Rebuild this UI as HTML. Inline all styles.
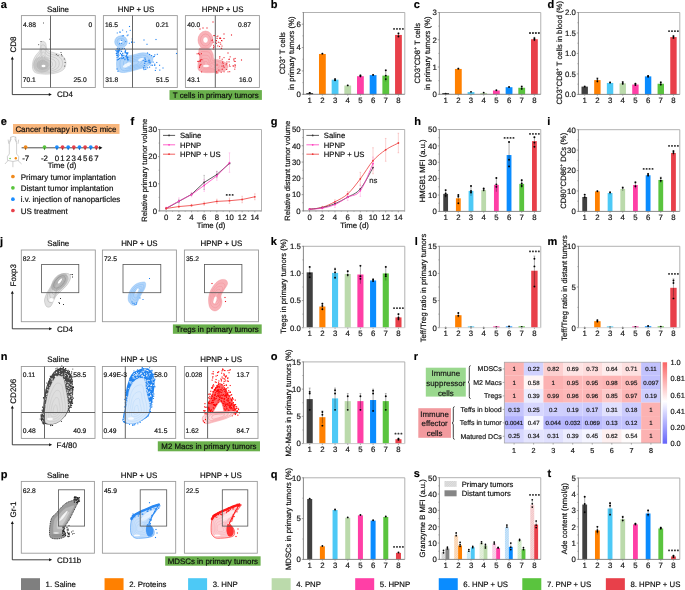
<!DOCTYPE html>
<html><head><meta charset="utf-8"><title>Figure</title>
<style>html,body{margin:0;padding:0;background:#fff;width:685px;height:590px;overflow:hidden}svg{display:block;will-change:transform} text{text-rendering:geometricPrecision;stroke:#000;stroke-width:0.24px;stroke-opacity:0.7}</style>
</head><body>
<svg width="685" height="590" viewBox="0 0 685 590" font-family='"Liberation Sans", sans-serif'>
<rect x="0.00" y="0.00" width="685.00" height="590.00" fill="#fff" stroke="none" stroke-width="1" />
<text x="0.80" y="8.00" font-size="11" text-anchor="start" font-weight="bold" fill="#000" >a</text>
<text x="270.80" y="8.00" font-size="11" text-anchor="start" font-weight="bold" fill="#000" >b</text>
<text x="413.80" y="8.00" font-size="11" text-anchor="start" font-weight="bold" fill="#000" >c</text>
<text x="547.60" y="8.00" font-size="11" text-anchor="start" font-weight="bold" fill="#000" >d</text>
<text x="0.80" y="125.00" font-size="11" text-anchor="start" font-weight="bold" fill="#000" >e</text>
<text x="130.50" y="125.00" font-size="11" text-anchor="start" font-weight="bold" fill="#000" >f</text>
<text x="270.80" y="125.00" font-size="11" text-anchor="start" font-weight="bold" fill="#000" >g</text>
<text x="414.20" y="125.00" font-size="11" text-anchor="start" font-weight="bold" fill="#000" >h</text>
<text x="547.20" y="125.00" font-size="11" text-anchor="start" font-weight="bold" fill="#000" >i</text>
<text x="0.00" y="244.50" font-size="11" text-anchor="start" font-weight="bold" fill="#000" >j</text>
<text x="270.80" y="244.50" font-size="11" text-anchor="start" font-weight="bold" fill="#000" >k</text>
<text x="414.80" y="244.50" font-size="11" text-anchor="start" font-weight="bold" fill="#000" >l</text>
<text x="547.60" y="244.50" font-size="11" text-anchor="start" font-weight="bold" fill="#000" >m</text>
<text x="0.80" y="360.30" font-size="11" text-anchor="start" font-weight="bold" fill="#000" >n</text>
<text x="270.80" y="360.30" font-size="11" text-anchor="start" font-weight="bold" fill="#000" >o</text>
<text x="413.80" y="360.30" font-size="11" text-anchor="start" font-weight="bold" fill="#000" >r</text>
<text x="0.80" y="478.30" font-size="11" text-anchor="start" font-weight="bold" fill="#000" >p</text>
<text x="270.80" y="478.30" font-size="11" text-anchor="start" font-weight="bold" fill="#000" >q</text>
<text x="413.80" y="477.00" font-size="11" text-anchor="start" font-weight="bold" fill="#000" >s</text>
<text x="547.60" y="477.00" font-size="11" text-anchor="start" font-weight="bold" fill="#000" >t</text>
<line x1="303.40" y1="12.50" x2="404.80" y2="12.50" stroke="#a9a9a9" stroke-width="0.9" />
<line x1="404.80" y1="12.50" x2="404.80" y2="94.30" stroke="#a9a9a9" stroke-width="0.9" />
<line x1="309.70" y1="93.13" x2="309.70" y2="92.55" stroke="#8a8a8a" stroke-width="0.7" />
<line x1="308.80" y1="92.55" x2="310.60" y2="92.55" stroke="#8a8a8a" stroke-width="0.6" />
<rect x="306.30" y="93.00" width="6.80" height="1.30" fill="#404040" stroke="none" stroke-width="1" />
<line x1="309.70" y1="93.13" x2="309.70" y2="93.72" stroke="#111" stroke-width="0.5" stroke-opacity="0.7"/>
<circle cx="309.70" cy="93.13" r="0.95" fill="#000"/>
<circle cx="309.70" cy="92.90" r="0.95" fill="#000"/>
<line x1="322.38" y1="53.98" x2="322.38" y2="53.40" stroke="#8a8a8a" stroke-width="0.7" />
<line x1="321.48" y1="53.40" x2="323.28" y2="53.40" stroke="#8a8a8a" stroke-width="0.6" />
<rect x="318.98" y="53.98" width="6.80" height="40.32" fill="#ff8000" stroke="none" stroke-width="1" />
<line x1="322.38" y1="53.98" x2="322.38" y2="54.57" stroke="#111" stroke-width="0.5" stroke-opacity="0.7"/>
<circle cx="322.38" cy="53.63" r="0.95" fill="#000"/>
<line x1="335.06" y1="79.69" x2="335.06" y2="78.52" stroke="#8a8a8a" stroke-width="0.7" />
<line x1="334.16" y1="78.52" x2="335.96" y2="78.52" stroke="#8a8a8a" stroke-width="0.6" />
<rect x="331.66" y="79.69" width="6.80" height="14.61" fill="#4dc9f6" stroke="none" stroke-width="1" />
<line x1="335.06" y1="79.69" x2="335.06" y2="80.86" stroke="#111" stroke-width="0.5" stroke-opacity="0.7"/>
<circle cx="335.06" cy="80.28" r="0.95" fill="#000"/>
<circle cx="335.06" cy="79.11" r="0.95" fill="#000"/>
<line x1="347.74" y1="85.54" x2="347.74" y2="85.19" stroke="#8a8a8a" stroke-width="0.7" />
<line x1="346.84" y1="85.19" x2="348.64" y2="85.19" stroke="#8a8a8a" stroke-width="0.6" />
<rect x="344.34" y="85.54" width="6.80" height="8.76" fill="#bbdaab" stroke="none" stroke-width="1" />
<line x1="347.74" y1="85.54" x2="347.74" y2="85.89" stroke="#111" stroke-width="0.5" stroke-opacity="0.7"/>
<circle cx="347.74" cy="85.42" r="0.95" fill="#000"/>
<line x1="360.42" y1="76.19" x2="360.42" y2="75.02" stroke="#8a8a8a" stroke-width="0.7" />
<line x1="359.52" y1="75.02" x2="361.32" y2="75.02" stroke="#8a8a8a" stroke-width="0.6" />
<rect x="357.02" y="76.19" width="6.80" height="18.11" fill="#ff3fa6" stroke="none" stroke-width="1" />
<line x1="360.42" y1="76.19" x2="360.42" y2="77.36" stroke="#111" stroke-width="0.5" stroke-opacity="0.7"/>
<circle cx="360.42" cy="76.19" r="0.95" fill="#000"/>
<circle cx="360.42" cy="75.37" r="0.95" fill="#000"/>
<line x1="373.10" y1="75.14" x2="373.10" y2="74.43" stroke="#8a8a8a" stroke-width="0.7" />
<line x1="372.20" y1="74.43" x2="374.00" y2="74.43" stroke="#8a8a8a" stroke-width="0.6" />
<rect x="369.70" y="75.14" width="6.80" height="19.16" fill="#0a8cff" stroke="none" stroke-width="1" />
<line x1="373.10" y1="75.14" x2="373.10" y2="75.84" stroke="#111" stroke-width="0.5" stroke-opacity="0.7"/>
<circle cx="373.10" cy="74.90" r="0.95" fill="#000"/>
<line x1="385.78" y1="75.60" x2="385.78" y2="69.76" stroke="#8a8a8a" stroke-width="0.7" />
<line x1="384.88" y1="69.76" x2="386.68" y2="69.76" stroke="#8a8a8a" stroke-width="0.6" />
<rect x="382.38" y="75.60" width="6.80" height="18.70" fill="#5ac43e" stroke="none" stroke-width="1" />
<line x1="385.78" y1="75.60" x2="385.78" y2="81.45" stroke="#111" stroke-width="0.5" stroke-opacity="0.7"/>
<circle cx="385.78" cy="79.11" r="0.95" fill="#000"/>
<circle cx="385.78" cy="75.60" r="0.95" fill="#000"/>
<circle cx="385.78" cy="70.34" r="0.95" fill="#000"/>
<line x1="398.46" y1="34.94" x2="398.46" y2="32.95" stroke="#8a8a8a" stroke-width="0.7" />
<line x1="397.56" y1="32.95" x2="399.36" y2="32.95" stroke="#8a8a8a" stroke-width="0.6" />
<rect x="395.06" y="34.94" width="6.80" height="59.36" fill="#e8404a" stroke="none" stroke-width="1" />
<line x1="398.46" y1="34.94" x2="398.46" y2="36.92" stroke="#111" stroke-width="0.5" stroke-opacity="0.7"/>
<circle cx="398.46" cy="36.46" r="0.95" fill="#000"/>
<circle cx="398.46" cy="33.53" r="0.95" fill="#000"/>
<line x1="303.40" y1="12.10" x2="303.40" y2="94.70" stroke="#7a7a7a" stroke-width="0.9" />
<line x1="303.00" y1="94.30" x2="404.80" y2="94.30" stroke="#7a7a7a" stroke-width="0.9" />
<line x1="301.80" y1="94.30" x2="303.40" y2="94.30" stroke="#7a7a7a" stroke-width="0.7" />
<text x="300.80" y="97.11" font-size="7.8" text-anchor="end" font-weight="normal" fill="#222" >0</text>
<line x1="301.80" y1="70.93" x2="303.40" y2="70.93" stroke="#7a7a7a" stroke-width="0.7" />
<text x="300.80" y="73.74" font-size="7.8" text-anchor="end" font-weight="normal" fill="#222" >2</text>
<line x1="301.80" y1="47.56" x2="303.40" y2="47.56" stroke="#7a7a7a" stroke-width="0.7" />
<text x="300.80" y="50.37" font-size="7.8" text-anchor="end" font-weight="normal" fill="#222" >4</text>
<line x1="301.80" y1="24.19" x2="303.40" y2="24.19" stroke="#7a7a7a" stroke-width="0.7" />
<text x="300.80" y="26.99" font-size="7.8" text-anchor="end" font-weight="normal" fill="#222" >6</text>
<line x1="302.40" y1="82.61" x2="303.40" y2="82.61" stroke="#7a7a7a" stroke-width="0.6" />
<line x1="302.40" y1="59.24" x2="303.40" y2="59.24" stroke="#7a7a7a" stroke-width="0.6" />
<line x1="302.40" y1="35.87" x2="303.40" y2="35.87" stroke="#7a7a7a" stroke-width="0.6" />
<line x1="302.40" y1="12.50" x2="303.40" y2="12.50" stroke="#7a7a7a" stroke-width="0.6" />
<line x1="309.70" y1="94.30" x2="309.70" y2="95.70" stroke="#7a7a7a" stroke-width="0.6" />
<text x="309.70" y="103.01" font-size="7.8" text-anchor="middle" font-weight="normal" fill="#222" >1</text>
<line x1="322.38" y1="94.30" x2="322.38" y2="95.70" stroke="#7a7a7a" stroke-width="0.6" />
<text x="322.38" y="103.01" font-size="7.8" text-anchor="middle" font-weight="normal" fill="#222" >2</text>
<line x1="335.06" y1="94.30" x2="335.06" y2="95.70" stroke="#7a7a7a" stroke-width="0.6" />
<text x="335.06" y="103.01" font-size="7.8" text-anchor="middle" font-weight="normal" fill="#222" >3</text>
<line x1="347.74" y1="94.30" x2="347.74" y2="95.70" stroke="#7a7a7a" stroke-width="0.6" />
<text x="347.74" y="103.01" font-size="7.8" text-anchor="middle" font-weight="normal" fill="#222" >4</text>
<line x1="360.42" y1="94.30" x2="360.42" y2="95.70" stroke="#7a7a7a" stroke-width="0.6" />
<text x="360.42" y="103.01" font-size="7.8" text-anchor="middle" font-weight="normal" fill="#222" >5</text>
<line x1="373.10" y1="94.30" x2="373.10" y2="95.70" stroke="#7a7a7a" stroke-width="0.6" />
<text x="373.10" y="103.01" font-size="7.8" text-anchor="middle" font-weight="normal" fill="#222" >6</text>
<line x1="385.78" y1="94.30" x2="385.78" y2="95.70" stroke="#7a7a7a" stroke-width="0.6" />
<text x="385.78" y="103.01" font-size="7.8" text-anchor="middle" font-weight="normal" fill="#222" >7</text>
<line x1="398.46" y1="94.30" x2="398.46" y2="95.70" stroke="#7a7a7a" stroke-width="0.6" />
<text x="398.46" y="103.01" font-size="7.8" text-anchor="middle" font-weight="normal" fill="#222" >8</text>
<rect x="393.11" y="27.97" width="1.85" height="1.85" rx="0.5" fill="#3a3a3a"/>
<rect x="396.06" y="27.97" width="1.85" height="1.85" rx="0.5" fill="#3a3a3a"/>
<rect x="399.01" y="27.97" width="1.85" height="1.85" rx="0.5" fill="#3a3a3a"/>
<rect x="401.96" y="27.97" width="1.85" height="1.85" rx="0.5" fill="#3a3a3a"/>
<text transform="translate(284.67,53.20) rotate(-90)" font-size="7.7" text-anchor="middle" fill="#111" >CD3<tspan font-size="4.77" dy="-2.93">+</tspan><tspan dy="2.93"> T cells</tspan></text>
<text transform="translate(293.97,53.20) rotate(-90)" font-size="7.7" text-anchor="middle" fill="#111" >in primary tumors (%)</text>
<line x1="439.35" y1="12.50" x2="540.75" y2="12.50" stroke="#a9a9a9" stroke-width="0.9" />
<line x1="540.75" y1="12.50" x2="540.75" y2="94.30" stroke="#a9a9a9" stroke-width="0.9" />
<rect x="442.25" y="93.00" width="6.80" height="1.30" fill="#404040" stroke="none" stroke-width="1" />
<circle cx="445.65" cy="93.75" r="0.95" fill="#000"/>
<line x1="458.33" y1="68.94" x2="458.33" y2="68.12" stroke="#8a8a8a" stroke-width="0.7" />
<line x1="457.43" y1="68.12" x2="459.23" y2="68.12" stroke="#8a8a8a" stroke-width="0.6" />
<rect x="454.93" y="68.94" width="6.80" height="25.36" fill="#ff8000" stroke="none" stroke-width="1" />
<line x1="458.33" y1="68.94" x2="458.33" y2="69.76" stroke="#111" stroke-width="0.5" stroke-opacity="0.7"/>
<circle cx="458.33" cy="68.67" r="0.95" fill="#000"/>
<rect x="467.61" y="92.12" width="6.80" height="2.18" fill="#4dc9f6" stroke="none" stroke-width="1" />
<circle cx="471.01" cy="91.85" r="0.95" fill="#000"/>
<rect x="480.29" y="92.94" width="6.80" height="1.36" fill="#bbdaab" stroke="none" stroke-width="1" />
<circle cx="483.69" cy="92.66" r="0.95" fill="#000"/>
<rect x="492.97" y="90.48" width="6.80" height="3.82" fill="#ff3fa6" stroke="none" stroke-width="1" />
<circle cx="496.37" cy="90.21" r="0.95" fill="#000"/>
<rect x="505.65" y="87.21" width="6.80" height="7.09" fill="#0a8cff" stroke="none" stroke-width="1" />
<circle cx="509.05" cy="86.94" r="0.95" fill="#000"/>
<line x1="521.73" y1="87.76" x2="521.73" y2="85.85" stroke="#8a8a8a" stroke-width="0.7" />
<line x1="520.83" y1="85.85" x2="522.63" y2="85.85" stroke="#8a8a8a" stroke-width="0.6" />
<rect x="518.33" y="87.76" width="6.80" height="6.54" fill="#5ac43e" stroke="none" stroke-width="1" />
<line x1="521.73" y1="87.76" x2="521.73" y2="89.66" stroke="#111" stroke-width="0.5" stroke-opacity="0.7"/>
<circle cx="521.73" cy="88.85" r="0.95" fill="#000"/>
<circle cx="521.73" cy="86.67" r="0.95" fill="#000"/>
<line x1="534.41" y1="39.22" x2="534.41" y2="37.31" stroke="#8a8a8a" stroke-width="0.7" />
<line x1="533.51" y1="37.31" x2="535.31" y2="37.31" stroke="#8a8a8a" stroke-width="0.6" />
<rect x="531.01" y="39.22" width="6.80" height="55.08" fill="#e8404a" stroke="none" stroke-width="1" />
<line x1="534.41" y1="39.22" x2="534.41" y2="41.13" stroke="#111" stroke-width="0.5" stroke-opacity="0.7"/>
<circle cx="534.41" cy="39.77" r="0.95" fill="#000"/>
<circle cx="534.41" cy="38.13" r="0.95" fill="#000"/>
<line x1="439.35" y1="12.10" x2="439.35" y2="94.70" stroke="#7a7a7a" stroke-width="0.9" />
<line x1="438.95" y1="94.30" x2="540.75" y2="94.30" stroke="#7a7a7a" stroke-width="0.9" />
<line x1="437.75" y1="94.30" x2="439.35" y2="94.30" stroke="#7a7a7a" stroke-width="0.7" />
<text x="436.75" y="97.11" font-size="7.8" text-anchor="end" font-weight="normal" fill="#222" >0</text>
<line x1="437.75" y1="67.03" x2="439.35" y2="67.03" stroke="#7a7a7a" stroke-width="0.7" />
<text x="436.75" y="69.84" font-size="7.8" text-anchor="end" font-weight="normal" fill="#222" >1</text>
<line x1="437.75" y1="39.77" x2="439.35" y2="39.77" stroke="#7a7a7a" stroke-width="0.7" />
<text x="436.75" y="42.57" font-size="7.8" text-anchor="end" font-weight="normal" fill="#222" >2</text>
<line x1="437.75" y1="12.50" x2="439.35" y2="12.50" stroke="#7a7a7a" stroke-width="0.7" />
<text x="436.75" y="15.31" font-size="7.8" text-anchor="end" font-weight="normal" fill="#222" >3</text>
<line x1="438.35" y1="80.67" x2="439.35" y2="80.67" stroke="#7a7a7a" stroke-width="0.6" />
<line x1="438.35" y1="53.40" x2="439.35" y2="53.40" stroke="#7a7a7a" stroke-width="0.6" />
<line x1="438.35" y1="26.13" x2="439.35" y2="26.13" stroke="#7a7a7a" stroke-width="0.6" />
<line x1="445.65" y1="94.30" x2="445.65" y2="95.70" stroke="#7a7a7a" stroke-width="0.6" />
<text x="445.65" y="103.01" font-size="7.8" text-anchor="middle" font-weight="normal" fill="#222" >1</text>
<line x1="458.33" y1="94.30" x2="458.33" y2="95.70" stroke="#7a7a7a" stroke-width="0.6" />
<text x="458.33" y="103.01" font-size="7.8" text-anchor="middle" font-weight="normal" fill="#222" >2</text>
<line x1="471.01" y1="94.30" x2="471.01" y2="95.70" stroke="#7a7a7a" stroke-width="0.6" />
<text x="471.01" y="103.01" font-size="7.8" text-anchor="middle" font-weight="normal" fill="#222" >3</text>
<line x1="483.69" y1="94.30" x2="483.69" y2="95.70" stroke="#7a7a7a" stroke-width="0.6" />
<text x="483.69" y="103.01" font-size="7.8" text-anchor="middle" font-weight="normal" fill="#222" >4</text>
<line x1="496.37" y1="94.30" x2="496.37" y2="95.70" stroke="#7a7a7a" stroke-width="0.6" />
<text x="496.37" y="103.01" font-size="7.8" text-anchor="middle" font-weight="normal" fill="#222" >5</text>
<line x1="509.05" y1="94.30" x2="509.05" y2="95.70" stroke="#7a7a7a" stroke-width="0.6" />
<text x="509.05" y="103.01" font-size="7.8" text-anchor="middle" font-weight="normal" fill="#222" >6</text>
<line x1="521.73" y1="94.30" x2="521.73" y2="95.70" stroke="#7a7a7a" stroke-width="0.6" />
<text x="521.73" y="103.01" font-size="7.8" text-anchor="middle" font-weight="normal" fill="#222" >7</text>
<line x1="534.41" y1="94.30" x2="534.41" y2="95.70" stroke="#7a7a7a" stroke-width="0.6" />
<text x="534.41" y="103.01" font-size="7.8" text-anchor="middle" font-weight="normal" fill="#222" >8</text>
<rect x="529.06" y="32.08" width="1.85" height="1.85" rx="0.5" fill="#3a3a3a"/>
<rect x="532.01" y="32.08" width="1.85" height="1.85" rx="0.5" fill="#3a3a3a"/>
<rect x="534.96" y="32.08" width="1.85" height="1.85" rx="0.5" fill="#3a3a3a"/>
<rect x="537.91" y="32.08" width="1.85" height="1.85" rx="0.5" fill="#3a3a3a"/>
<text transform="translate(419.57,53.20) rotate(-90)" font-size="7.7" text-anchor="middle" fill="#111" >CD3<tspan font-size="4.77" dy="-2.93">+</tspan><tspan dy="2.93">CD8</tspan><tspan font-size="4.77" dy="-2.93">+</tspan><tspan dy="2.93"> T cells</tspan></text>
<text transform="translate(429.77,53.20) rotate(-90)" font-size="7.7" text-anchor="middle" fill="#111" >in primary tumors (%)</text>
<line x1="578.40" y1="12.50" x2="679.80" y2="12.50" stroke="#a9a9a9" stroke-width="0.9" />
<line x1="679.80" y1="12.50" x2="679.80" y2="94.40" stroke="#a9a9a9" stroke-width="0.9" />
<line x1="584.70" y1="86.62" x2="584.70" y2="85.80" stroke="#8a8a8a" stroke-width="0.7" />
<line x1="583.80" y1="85.80" x2="585.60" y2="85.80" stroke="#8a8a8a" stroke-width="0.6" />
<rect x="581.50" y="86.62" width="6.40" height="7.78" fill="#404040" stroke="none" stroke-width="1" />
<line x1="584.70" y1="86.62" x2="584.70" y2="87.44" stroke="#111" stroke-width="0.5" stroke-opacity="0.7"/>
<circle cx="584.70" cy="86.62" r="0.95" fill="#000"/>
<line x1="597.38" y1="80.07" x2="597.38" y2="77.61" stroke="#8a8a8a" stroke-width="0.7" />
<line x1="596.48" y1="77.61" x2="598.28" y2="77.61" stroke="#8a8a8a" stroke-width="0.6" />
<rect x="594.18" y="80.07" width="6.40" height="14.33" fill="#ff8000" stroke="none" stroke-width="1" />
<line x1="597.38" y1="80.07" x2="597.38" y2="82.52" stroke="#111" stroke-width="0.5" stroke-opacity="0.7"/>
<circle cx="597.38" cy="81.30" r="0.95" fill="#000"/>
<circle cx="597.38" cy="78.84" r="0.95" fill="#000"/>
<line x1="610.06" y1="82.93" x2="610.06" y2="82.12" stroke="#8a8a8a" stroke-width="0.7" />
<line x1="609.16" y1="82.12" x2="610.96" y2="82.12" stroke="#8a8a8a" stroke-width="0.6" />
<rect x="606.86" y="82.93" width="6.40" height="11.47" fill="#4dc9f6" stroke="none" stroke-width="1" />
<line x1="610.06" y1="82.93" x2="610.06" y2="83.75" stroke="#111" stroke-width="0.5" stroke-opacity="0.7"/>
<circle cx="610.06" cy="82.52" r="0.95" fill="#000"/>
<line x1="622.74" y1="83.34" x2="622.74" y2="81.71" stroke="#8a8a8a" stroke-width="0.7" />
<line x1="621.84" y1="81.71" x2="623.64" y2="81.71" stroke="#8a8a8a" stroke-width="0.6" />
<rect x="619.54" y="83.34" width="6.40" height="11.06" fill="#bbdaab" stroke="none" stroke-width="1" />
<line x1="622.74" y1="83.34" x2="622.74" y2="84.98" stroke="#111" stroke-width="0.5" stroke-opacity="0.7"/>
<circle cx="622.74" cy="83.75" r="0.95" fill="#000"/>
<circle cx="622.74" cy="82.12" r="0.95" fill="#000"/>
<line x1="635.42" y1="84.57" x2="635.42" y2="83.34" stroke="#8a8a8a" stroke-width="0.7" />
<line x1="634.52" y1="83.34" x2="636.32" y2="83.34" stroke="#8a8a8a" stroke-width="0.6" />
<rect x="632.22" y="84.57" width="6.40" height="9.83" fill="#ff3fa6" stroke="none" stroke-width="1" />
<line x1="635.42" y1="84.57" x2="635.42" y2="85.80" stroke="#111" stroke-width="0.5" stroke-opacity="0.7"/>
<circle cx="635.42" cy="84.98" r="0.95" fill="#000"/>
<circle cx="635.42" cy="83.75" r="0.95" fill="#000"/>
<line x1="648.10" y1="76.38" x2="648.10" y2="75.56" stroke="#8a8a8a" stroke-width="0.7" />
<line x1="647.20" y1="75.56" x2="649.00" y2="75.56" stroke="#8a8a8a" stroke-width="0.6" />
<rect x="644.90" y="76.38" width="6.40" height="18.02" fill="#0a8cff" stroke="none" stroke-width="1" />
<line x1="648.10" y1="76.38" x2="648.10" y2="77.20" stroke="#111" stroke-width="0.5" stroke-opacity="0.7"/>
<circle cx="648.10" cy="76.79" r="0.95" fill="#000"/>
<circle cx="648.10" cy="75.97" r="0.95" fill="#000"/>
<line x1="660.78" y1="83.75" x2="660.78" y2="81.71" stroke="#8a8a8a" stroke-width="0.7" />
<line x1="659.88" y1="81.71" x2="661.68" y2="81.71" stroke="#8a8a8a" stroke-width="0.6" />
<rect x="657.58" y="83.75" width="6.40" height="10.65" fill="#5ac43e" stroke="none" stroke-width="1" />
<line x1="660.78" y1="83.75" x2="660.78" y2="85.80" stroke="#111" stroke-width="0.5" stroke-opacity="0.7"/>
<circle cx="660.78" cy="84.57" r="0.95" fill="#000"/>
<circle cx="660.78" cy="82.52" r="0.95" fill="#000"/>
<line x1="673.46" y1="37.07" x2="673.46" y2="35.43" stroke="#8a8a8a" stroke-width="0.7" />
<line x1="672.56" y1="35.43" x2="674.36" y2="35.43" stroke="#8a8a8a" stroke-width="0.6" />
<rect x="670.26" y="37.07" width="6.40" height="57.33" fill="#e8404a" stroke="none" stroke-width="1" />
<line x1="673.46" y1="37.07" x2="673.46" y2="38.71" stroke="#111" stroke-width="0.5" stroke-opacity="0.7"/>
<circle cx="673.46" cy="37.89" r="0.95" fill="#000"/>
<circle cx="673.46" cy="36.25" r="0.95" fill="#000"/>
<line x1="578.40" y1="12.10" x2="578.40" y2="94.80" stroke="#7a7a7a" stroke-width="0.9" />
<line x1="578.00" y1="94.40" x2="679.80" y2="94.40" stroke="#7a7a7a" stroke-width="0.9" />
<line x1="576.80" y1="94.40" x2="578.40" y2="94.40" stroke="#7a7a7a" stroke-width="0.7" />
<text x="575.80" y="97.21" font-size="7.8" text-anchor="end" font-weight="normal" fill="#222" >0.0</text>
<line x1="576.80" y1="73.93" x2="578.40" y2="73.93" stroke="#7a7a7a" stroke-width="0.7" />
<text x="575.80" y="76.73" font-size="7.8" text-anchor="end" font-weight="normal" fill="#222" >0.5</text>
<line x1="576.80" y1="53.45" x2="578.40" y2="53.45" stroke="#7a7a7a" stroke-width="0.7" />
<text x="575.80" y="56.26" font-size="7.8" text-anchor="end" font-weight="normal" fill="#222" >1.0</text>
<line x1="576.80" y1="32.98" x2="578.40" y2="32.98" stroke="#7a7a7a" stroke-width="0.7" />
<text x="575.80" y="35.78" font-size="7.8" text-anchor="end" font-weight="normal" fill="#222" >1.5</text>
<line x1="576.80" y1="12.50" x2="578.40" y2="12.50" stroke="#7a7a7a" stroke-width="0.7" />
<text x="575.80" y="15.31" font-size="7.8" text-anchor="end" font-weight="normal" fill="#222" >2.0</text>
<line x1="577.40" y1="84.16" x2="578.40" y2="84.16" stroke="#7a7a7a" stroke-width="0.6" />
<line x1="577.40" y1="63.69" x2="578.40" y2="63.69" stroke="#7a7a7a" stroke-width="0.6" />
<line x1="577.40" y1="43.21" x2="578.40" y2="43.21" stroke="#7a7a7a" stroke-width="0.6" />
<line x1="577.40" y1="22.74" x2="578.40" y2="22.74" stroke="#7a7a7a" stroke-width="0.6" />
<line x1="584.70" y1="94.40" x2="584.70" y2="95.80" stroke="#7a7a7a" stroke-width="0.6" />
<text x="584.70" y="103.11" font-size="7.8" text-anchor="middle" font-weight="normal" fill="#222" >1</text>
<line x1="597.38" y1="94.40" x2="597.38" y2="95.80" stroke="#7a7a7a" stroke-width="0.6" />
<text x="597.38" y="103.11" font-size="7.8" text-anchor="middle" font-weight="normal" fill="#222" >2</text>
<line x1="610.06" y1="94.40" x2="610.06" y2="95.80" stroke="#7a7a7a" stroke-width="0.6" />
<text x="610.06" y="103.11" font-size="7.8" text-anchor="middle" font-weight="normal" fill="#222" >3</text>
<line x1="622.74" y1="94.40" x2="622.74" y2="95.80" stroke="#7a7a7a" stroke-width="0.6" />
<text x="622.74" y="103.11" font-size="7.8" text-anchor="middle" font-weight="normal" fill="#222" >4</text>
<line x1="635.42" y1="94.40" x2="635.42" y2="95.80" stroke="#7a7a7a" stroke-width="0.6" />
<text x="635.42" y="103.11" font-size="7.8" text-anchor="middle" font-weight="normal" fill="#222" >5</text>
<line x1="648.10" y1="94.40" x2="648.10" y2="95.80" stroke="#7a7a7a" stroke-width="0.6" />
<text x="648.10" y="103.11" font-size="7.8" text-anchor="middle" font-weight="normal" fill="#222" >6</text>
<line x1="660.78" y1="94.40" x2="660.78" y2="95.80" stroke="#7a7a7a" stroke-width="0.6" />
<text x="660.78" y="103.11" font-size="7.8" text-anchor="middle" font-weight="normal" fill="#222" >7</text>
<line x1="673.46" y1="94.40" x2="673.46" y2="95.80" stroke="#7a7a7a" stroke-width="0.6" />
<text x="673.46" y="103.11" font-size="7.8" text-anchor="middle" font-weight="normal" fill="#222" >8</text>
<rect x="668.11" y="30.18" width="1.85" height="1.85" rx="0.5" fill="#3a3a3a"/>
<rect x="671.06" y="30.18" width="1.85" height="1.85" rx="0.5" fill="#3a3a3a"/>
<rect x="674.01" y="30.18" width="1.85" height="1.85" rx="0.5" fill="#3a3a3a"/>
<rect x="676.96" y="30.18" width="1.85" height="1.85" rx="0.5" fill="#3a3a3a"/>
<text transform="translate(561.67,52.80) rotate(-90)" font-size="7.7" text-anchor="middle" fill="#111" >CD3<tspan font-size="4.77" dy="-2.93">+</tspan><tspan dy="2.93">CD8</tspan><tspan font-size="4.77" dy="-2.93">+</tspan><tspan dy="2.93"> T cells in blood (%)</tspan></text>
<line x1="439.35" y1="129.50" x2="540.75" y2="129.50" stroke="#a9a9a9" stroke-width="0.9" />
<line x1="540.75" y1="129.50" x2="540.75" y2="211.40" stroke="#a9a9a9" stroke-width="0.9" />
<line x1="445.65" y1="193.87" x2="445.65" y2="190.11" stroke="#8a8a8a" stroke-width="0.7" />
<line x1="444.75" y1="190.11" x2="446.55" y2="190.11" stroke="#8a8a8a" stroke-width="0.6" />
<rect x="443.25" y="193.87" width="4.80" height="17.53" fill="#404040" stroke="none" stroke-width="1" />
<line x1="445.65" y1="193.87" x2="445.65" y2="197.64" stroke="#111" stroke-width="0.5" stroke-opacity="0.7"/>
<circle cx="445.65" cy="190.11" r="0.95" fill="#000"/>
<circle cx="445.65" cy="193.38" r="0.95" fill="#000"/>
<circle cx="445.65" cy="195.84" r="0.95" fill="#000"/>
<line x1="458.33" y1="198.30" x2="458.33" y2="195.02" stroke="#8a8a8a" stroke-width="0.7" />
<line x1="457.43" y1="195.02" x2="459.23" y2="195.02" stroke="#8a8a8a" stroke-width="0.6" />
<rect x="455.93" y="198.30" width="4.80" height="13.10" fill="#ff8000" stroke="none" stroke-width="1" />
<line x1="458.33" y1="198.30" x2="458.33" y2="201.57" stroke="#111" stroke-width="0.5" stroke-opacity="0.7"/>
<circle cx="458.33" cy="195.02" r="0.95" fill="#000"/>
<circle cx="458.33" cy="196.66" r="0.95" fill="#000"/>
<circle cx="458.33" cy="203.21" r="0.95" fill="#000"/>
<line x1="471.01" y1="190.93" x2="471.01" y2="185.85" stroke="#8a8a8a" stroke-width="0.7" />
<line x1="470.11" y1="185.85" x2="471.91" y2="185.85" stroke="#8a8a8a" stroke-width="0.6" />
<rect x="468.61" y="190.93" width="4.80" height="20.47" fill="#4dc9f6" stroke="none" stroke-width="1" />
<line x1="471.01" y1="190.93" x2="471.01" y2="196.00" stroke="#111" stroke-width="0.5" stroke-opacity="0.7"/>
<circle cx="471.01" cy="186.01" r="0.95" fill="#000"/>
<circle cx="471.01" cy="190.93" r="0.95" fill="#000"/>
<circle cx="471.01" cy="192.56" r="0.95" fill="#000"/>
<line x1="483.69" y1="190.11" x2="483.69" y2="188.47" stroke="#8a8a8a" stroke-width="0.7" />
<line x1="482.79" y1="188.47" x2="484.59" y2="188.47" stroke="#8a8a8a" stroke-width="0.6" />
<rect x="481.29" y="190.11" width="4.80" height="21.29" fill="#bbdaab" stroke="none" stroke-width="1" />
<line x1="483.69" y1="190.11" x2="483.69" y2="191.74" stroke="#111" stroke-width="0.5" stroke-opacity="0.7"/>
<circle cx="483.69" cy="188.47" r="0.95" fill="#000"/>
<circle cx="483.69" cy="190.11" r="0.95" fill="#000"/>
<line x1="496.37" y1="184.86" x2="496.37" y2="177.98" stroke="#8a8a8a" stroke-width="0.7" />
<line x1="495.47" y1="177.98" x2="497.27" y2="177.98" stroke="#8a8a8a" stroke-width="0.6" />
<rect x="493.97" y="184.86" width="4.80" height="26.54" fill="#ff3fa6" stroke="none" stroke-width="1" />
<line x1="496.37" y1="184.86" x2="496.37" y2="191.74" stroke="#111" stroke-width="0.5" stroke-opacity="0.7"/>
<circle cx="496.37" cy="177.98" r="0.95" fill="#000"/>
<circle cx="496.37" cy="184.37" r="0.95" fill="#000"/>
<circle cx="496.37" cy="186.83" r="0.95" fill="#000"/>
<line x1="509.05" y1="155.05" x2="509.05" y2="141.95" stroke="#8a8a8a" stroke-width="0.7" />
<line x1="508.15" y1="141.95" x2="509.95" y2="141.95" stroke="#8a8a8a" stroke-width="0.6" />
<rect x="506.65" y="155.05" width="4.80" height="56.35" fill="#0a8cff" stroke="none" stroke-width="1" />
<line x1="509.05" y1="155.05" x2="509.05" y2="168.16" stroke="#111" stroke-width="0.5" stroke-opacity="0.7"/>
<circle cx="509.05" cy="141.95" r="0.95" fill="#000"/>
<circle cx="509.05" cy="159.80" r="0.95" fill="#000"/>
<circle cx="509.05" cy="166.36" r="0.95" fill="#000"/>
<line x1="521.73" y1="183.88" x2="521.73" y2="179.62" stroke="#8a8a8a" stroke-width="0.7" />
<line x1="520.83" y1="179.62" x2="522.63" y2="179.62" stroke="#8a8a8a" stroke-width="0.6" />
<rect x="519.33" y="183.88" width="4.80" height="27.52" fill="#5ac43e" stroke="none" stroke-width="1" />
<line x1="521.73" y1="183.88" x2="521.73" y2="188.14" stroke="#111" stroke-width="0.5" stroke-opacity="0.7"/>
<circle cx="521.73" cy="180.28" r="0.95" fill="#000"/>
<circle cx="521.73" cy="183.55" r="0.95" fill="#000"/>
<circle cx="521.73" cy="186.01" r="0.95" fill="#000"/>
<line x1="534.41" y1="141.13" x2="534.41" y2="137.03" stroke="#8a8a8a" stroke-width="0.7" />
<line x1="533.51" y1="137.03" x2="535.31" y2="137.03" stroke="#8a8a8a" stroke-width="0.6" />
<rect x="532.01" y="141.13" width="4.80" height="70.27" fill="#e8404a" stroke="none" stroke-width="1" />
<line x1="534.41" y1="141.13" x2="534.41" y2="145.22" stroke="#111" stroke-width="0.5" stroke-opacity="0.7"/>
<circle cx="534.41" cy="137.20" r="0.95" fill="#000"/>
<circle cx="534.41" cy="142.60" r="0.95" fill="#000"/>
<circle cx="534.41" cy="146.70" r="0.95" fill="#000"/>
<line x1="439.35" y1="129.10" x2="439.35" y2="211.80" stroke="#7a7a7a" stroke-width="0.9" />
<line x1="438.95" y1="211.40" x2="540.75" y2="211.40" stroke="#7a7a7a" stroke-width="0.9" />
<line x1="437.75" y1="211.40" x2="439.35" y2="211.40" stroke="#7a7a7a" stroke-width="0.7" />
<text x="436.75" y="214.21" font-size="7.8" text-anchor="end" font-weight="normal" fill="#222" >0</text>
<line x1="437.75" y1="195.02" x2="439.35" y2="195.02" stroke="#7a7a7a" stroke-width="0.7" />
<text x="436.75" y="197.83" font-size="7.8" text-anchor="end" font-weight="normal" fill="#222" >10</text>
<line x1="437.75" y1="178.64" x2="439.35" y2="178.64" stroke="#7a7a7a" stroke-width="0.7" />
<text x="436.75" y="181.45" font-size="7.8" text-anchor="end" font-weight="normal" fill="#222" >20</text>
<line x1="437.75" y1="162.26" x2="439.35" y2="162.26" stroke="#7a7a7a" stroke-width="0.7" />
<text x="436.75" y="165.07" font-size="7.8" text-anchor="end" font-weight="normal" fill="#222" >30</text>
<line x1="437.75" y1="145.88" x2="439.35" y2="145.88" stroke="#7a7a7a" stroke-width="0.7" />
<text x="436.75" y="148.69" font-size="7.8" text-anchor="end" font-weight="normal" fill="#222" >40</text>
<line x1="437.75" y1="129.50" x2="439.35" y2="129.50" stroke="#7a7a7a" stroke-width="0.7" />
<text x="436.75" y="132.31" font-size="7.8" text-anchor="end" font-weight="normal" fill="#222" >50</text>
<line x1="438.35" y1="203.21" x2="439.35" y2="203.21" stroke="#7a7a7a" stroke-width="0.6" />
<line x1="438.35" y1="186.83" x2="439.35" y2="186.83" stroke="#7a7a7a" stroke-width="0.6" />
<line x1="438.35" y1="170.45" x2="439.35" y2="170.45" stroke="#7a7a7a" stroke-width="0.6" />
<line x1="438.35" y1="154.07" x2="439.35" y2="154.07" stroke="#7a7a7a" stroke-width="0.6" />
<line x1="438.35" y1="137.69" x2="439.35" y2="137.69" stroke="#7a7a7a" stroke-width="0.6" />
<line x1="445.65" y1="211.40" x2="445.65" y2="212.80" stroke="#7a7a7a" stroke-width="0.6" />
<text x="445.65" y="220.11" font-size="7.8" text-anchor="middle" font-weight="normal" fill="#222" >1</text>
<line x1="458.33" y1="211.40" x2="458.33" y2="212.80" stroke="#7a7a7a" stroke-width="0.6" />
<text x="458.33" y="220.11" font-size="7.8" text-anchor="middle" font-weight="normal" fill="#222" >2</text>
<line x1="471.01" y1="211.40" x2="471.01" y2="212.80" stroke="#7a7a7a" stroke-width="0.6" />
<text x="471.01" y="220.11" font-size="7.8" text-anchor="middle" font-weight="normal" fill="#222" >3</text>
<line x1="483.69" y1="211.40" x2="483.69" y2="212.80" stroke="#7a7a7a" stroke-width="0.6" />
<text x="483.69" y="220.11" font-size="7.8" text-anchor="middle" font-weight="normal" fill="#222" >4</text>
<line x1="496.37" y1="211.40" x2="496.37" y2="212.80" stroke="#7a7a7a" stroke-width="0.6" />
<text x="496.37" y="220.11" font-size="7.8" text-anchor="middle" font-weight="normal" fill="#222" >5</text>
<line x1="509.05" y1="211.40" x2="509.05" y2="212.80" stroke="#7a7a7a" stroke-width="0.6" />
<text x="509.05" y="220.11" font-size="7.8" text-anchor="middle" font-weight="normal" fill="#222" >6</text>
<line x1="521.73" y1="211.40" x2="521.73" y2="212.80" stroke="#7a7a7a" stroke-width="0.6" />
<text x="521.73" y="220.11" font-size="7.8" text-anchor="middle" font-weight="normal" fill="#222" >7</text>
<line x1="534.41" y1="211.40" x2="534.41" y2="212.80" stroke="#7a7a7a" stroke-width="0.6" />
<text x="534.41" y="220.11" font-size="7.8" text-anchor="middle" font-weight="normal" fill="#222" >8</text>
<rect x="503.70" y="136.97" width="1.85" height="1.85" rx="0.5" fill="#3a3a3a"/>
<rect x="506.65" y="136.97" width="1.85" height="1.85" rx="0.5" fill="#3a3a3a"/>
<rect x="509.60" y="136.97" width="1.85" height="1.85" rx="0.5" fill="#3a3a3a"/>
<rect x="512.55" y="136.97" width="1.85" height="1.85" rx="0.5" fill="#3a3a3a"/>
<rect x="529.06" y="132.97" width="1.85" height="1.85" rx="0.5" fill="#3a3a3a"/>
<rect x="532.01" y="132.97" width="1.85" height="1.85" rx="0.5" fill="#3a3a3a"/>
<rect x="534.96" y="132.97" width="1.85" height="1.85" rx="0.5" fill="#3a3a3a"/>
<rect x="537.91" y="132.97" width="1.85" height="1.85" rx="0.5" fill="#3a3a3a"/>
<text transform="translate(424.67,170.80) rotate(-90)" font-size="7.7" text-anchor="middle" fill="#111" >HMGB1 MFI (a.u.)</text>
<line x1="578.40" y1="129.70" x2="679.80" y2="129.70" stroke="#a9a9a9" stroke-width="0.9" />
<line x1="679.80" y1="129.70" x2="679.80" y2="211.40" stroke="#a9a9a9" stroke-width="0.9" />
<line x1="584.70" y1="197.00" x2="584.70" y2="194.45" stroke="#8a8a8a" stroke-width="0.7" />
<line x1="583.80" y1="194.45" x2="585.60" y2="194.45" stroke="#8a8a8a" stroke-width="0.6" />
<rect x="582.30" y="197.00" width="4.80" height="14.40" fill="#404040" stroke="none" stroke-width="1" />
<line x1="584.70" y1="197.00" x2="584.70" y2="199.55" stroke="#111" stroke-width="0.5" stroke-opacity="0.7"/>
<circle cx="584.70" cy="194.65" r="0.95" fill="#000"/>
<circle cx="584.70" cy="197.10" r="0.95" fill="#000"/>
<line x1="597.38" y1="191.38" x2="597.38" y2="190.77" stroke="#8a8a8a" stroke-width="0.7" />
<line x1="596.48" y1="190.77" x2="598.28" y2="190.77" stroke="#8a8a8a" stroke-width="0.6" />
<rect x="594.98" y="191.38" width="4.80" height="20.02" fill="#ff8000" stroke="none" stroke-width="1" />
<line x1="597.38" y1="191.38" x2="597.38" y2="192.00" stroke="#111" stroke-width="0.5" stroke-opacity="0.7"/>
<circle cx="597.38" cy="191.18" r="0.95" fill="#000"/>
<line x1="610.06" y1="193.02" x2="610.06" y2="191.59" stroke="#8a8a8a" stroke-width="0.7" />
<line x1="609.16" y1="191.59" x2="610.96" y2="191.59" stroke="#8a8a8a" stroke-width="0.6" />
<rect x="607.66" y="193.02" width="4.80" height="18.38" fill="#4dc9f6" stroke="none" stroke-width="1" />
<line x1="610.06" y1="193.02" x2="610.06" y2="194.45" stroke="#111" stroke-width="0.5" stroke-opacity="0.7"/>
<circle cx="610.06" cy="192.40" r="0.95" fill="#000"/>
<line x1="622.74" y1="188.93" x2="622.74" y2="186.89" stroke="#8a8a8a" stroke-width="0.7" />
<line x1="621.84" y1="186.89" x2="623.64" y2="186.89" stroke="#8a8a8a" stroke-width="0.6" />
<rect x="620.34" y="188.93" width="4.80" height="22.47" fill="#bbdaab" stroke="none" stroke-width="1" />
<line x1="622.74" y1="188.93" x2="622.74" y2="190.97" stroke="#111" stroke-width="0.5" stroke-opacity="0.7"/>
<circle cx="622.74" cy="187.71" r="0.95" fill="#000"/>
<line x1="635.42" y1="185.05" x2="635.42" y2="181.58" stroke="#8a8a8a" stroke-width="0.7" />
<line x1="634.52" y1="181.58" x2="636.32" y2="181.58" stroke="#8a8a8a" stroke-width="0.6" />
<rect x="633.02" y="185.05" width="4.80" height="26.35" fill="#ff3fa6" stroke="none" stroke-width="1" />
<line x1="635.42" y1="185.05" x2="635.42" y2="188.52" stroke="#111" stroke-width="0.5" stroke-opacity="0.7"/>
<circle cx="635.42" cy="182.40" r="0.95" fill="#000"/>
<circle cx="635.42" cy="186.28" r="0.95" fill="#000"/>
<line x1="648.10" y1="175.25" x2="648.10" y2="173.41" stroke="#8a8a8a" stroke-width="0.7" />
<line x1="647.20" y1="173.41" x2="649.00" y2="173.41" stroke="#8a8a8a" stroke-width="0.6" />
<rect x="645.70" y="175.25" width="4.80" height="36.15" fill="#0a8cff" stroke="none" stroke-width="1" />
<line x1="648.10" y1="175.25" x2="648.10" y2="177.09" stroke="#111" stroke-width="0.5" stroke-opacity="0.7"/>
<circle cx="648.10" cy="174.02" r="0.95" fill="#000"/>
<circle cx="648.10" cy="175.45" r="0.95" fill="#000"/>
<line x1="660.78" y1="179.95" x2="660.78" y2="177.09" stroke="#8a8a8a" stroke-width="0.7" />
<line x1="659.88" y1="177.09" x2="661.68" y2="177.09" stroke="#8a8a8a" stroke-width="0.6" />
<rect x="658.38" y="179.95" width="4.80" height="31.45" fill="#5ac43e" stroke="none" stroke-width="1" />
<line x1="660.78" y1="179.95" x2="660.78" y2="182.81" stroke="#111" stroke-width="0.5" stroke-opacity="0.7"/>
<circle cx="660.78" cy="178.11" r="0.95" fill="#000"/>
<circle cx="660.78" cy="180.76" r="0.95" fill="#000"/>
<line x1="673.46" y1="152.98" x2="673.46" y2="150.53" stroke="#8a8a8a" stroke-width="0.7" />
<line x1="672.56" y1="150.53" x2="674.36" y2="150.53" stroke="#8a8a8a" stroke-width="0.6" />
<rect x="671.06" y="152.98" width="4.80" height="58.42" fill="#e8404a" stroke="none" stroke-width="1" />
<line x1="673.46" y1="152.98" x2="673.46" y2="155.44" stroke="#111" stroke-width="0.5" stroke-opacity="0.7"/>
<circle cx="673.46" cy="151.15" r="0.95" fill="#000"/>
<circle cx="673.46" cy="152.98" r="0.95" fill="#000"/>
<line x1="578.40" y1="129.30" x2="578.40" y2="211.80" stroke="#7a7a7a" stroke-width="0.9" />
<line x1="578.00" y1="211.40" x2="679.80" y2="211.40" stroke="#7a7a7a" stroke-width="0.9" />
<line x1="576.80" y1="211.40" x2="578.40" y2="211.40" stroke="#7a7a7a" stroke-width="0.7" />
<text x="575.80" y="214.21" font-size="7.8" text-anchor="end" font-weight="normal" fill="#222" >0</text>
<line x1="576.80" y1="190.97" x2="578.40" y2="190.97" stroke="#7a7a7a" stroke-width="0.7" />
<text x="575.80" y="193.78" font-size="7.8" text-anchor="end" font-weight="normal" fill="#222" >10</text>
<line x1="576.80" y1="170.55" x2="578.40" y2="170.55" stroke="#7a7a7a" stroke-width="0.7" />
<text x="575.80" y="173.36" font-size="7.8" text-anchor="end" font-weight="normal" fill="#222" >20</text>
<line x1="576.80" y1="150.12" x2="578.40" y2="150.12" stroke="#7a7a7a" stroke-width="0.7" />
<text x="575.80" y="152.93" font-size="7.8" text-anchor="end" font-weight="normal" fill="#222" >30</text>
<line x1="576.80" y1="129.70" x2="578.40" y2="129.70" stroke="#7a7a7a" stroke-width="0.7" />
<text x="575.80" y="132.51" font-size="7.8" text-anchor="end" font-weight="normal" fill="#222" >40</text>
<line x1="577.40" y1="201.19" x2="578.40" y2="201.19" stroke="#7a7a7a" stroke-width="0.6" />
<line x1="577.40" y1="180.76" x2="578.40" y2="180.76" stroke="#7a7a7a" stroke-width="0.6" />
<line x1="577.40" y1="160.34" x2="578.40" y2="160.34" stroke="#7a7a7a" stroke-width="0.6" />
<line x1="577.40" y1="139.91" x2="578.40" y2="139.91" stroke="#7a7a7a" stroke-width="0.6" />
<line x1="584.70" y1="211.40" x2="584.70" y2="212.80" stroke="#7a7a7a" stroke-width="0.6" />
<text x="584.70" y="220.11" font-size="7.8" text-anchor="middle" font-weight="normal" fill="#222" >1</text>
<line x1="597.38" y1="211.40" x2="597.38" y2="212.80" stroke="#7a7a7a" stroke-width="0.6" />
<text x="597.38" y="220.11" font-size="7.8" text-anchor="middle" font-weight="normal" fill="#222" >2</text>
<line x1="610.06" y1="211.40" x2="610.06" y2="212.80" stroke="#7a7a7a" stroke-width="0.6" />
<text x="610.06" y="220.11" font-size="7.8" text-anchor="middle" font-weight="normal" fill="#222" >3</text>
<line x1="622.74" y1="211.40" x2="622.74" y2="212.80" stroke="#7a7a7a" stroke-width="0.6" />
<text x="622.74" y="220.11" font-size="7.8" text-anchor="middle" font-weight="normal" fill="#222" >4</text>
<line x1="635.42" y1="211.40" x2="635.42" y2="212.80" stroke="#7a7a7a" stroke-width="0.6" />
<text x="635.42" y="220.11" font-size="7.8" text-anchor="middle" font-weight="normal" fill="#222" >5</text>
<line x1="648.10" y1="211.40" x2="648.10" y2="212.80" stroke="#7a7a7a" stroke-width="0.6" />
<text x="648.10" y="220.11" font-size="7.8" text-anchor="middle" font-weight="normal" fill="#222" >6</text>
<line x1="660.78" y1="211.40" x2="660.78" y2="212.80" stroke="#7a7a7a" stroke-width="0.6" />
<text x="660.78" y="220.11" font-size="7.8" text-anchor="middle" font-weight="normal" fill="#222" >7</text>
<line x1="673.46" y1="211.40" x2="673.46" y2="212.80" stroke="#7a7a7a" stroke-width="0.6" />
<text x="673.46" y="220.11" font-size="7.8" text-anchor="middle" font-weight="normal" fill="#222" >8</text>
<rect x="642.75" y="167.88" width="1.85" height="1.85" rx="0.5" fill="#3a3a3a"/>
<rect x="645.70" y="167.88" width="1.85" height="1.85" rx="0.5" fill="#3a3a3a"/>
<rect x="648.65" y="167.88" width="1.85" height="1.85" rx="0.5" fill="#3a3a3a"/>
<rect x="651.60" y="167.88" width="1.85" height="1.85" rx="0.5" fill="#3a3a3a"/>
<rect x="668.11" y="144.97" width="1.85" height="1.85" rx="0.5" fill="#3a3a3a"/>
<rect x="671.06" y="144.97" width="1.85" height="1.85" rx="0.5" fill="#3a3a3a"/>
<rect x="674.01" y="144.97" width="1.85" height="1.85" rx="0.5" fill="#3a3a3a"/>
<rect x="676.96" y="144.97" width="1.85" height="1.85" rx="0.5" fill="#3a3a3a"/>
<text transform="translate(565.57,170.80) rotate(-90)" font-size="7.7" text-anchor="middle" fill="#111" >CD80<tspan font-size="4.77" dy="-2.93">+</tspan><tspan dy="2.93">CD86</tspan><tspan font-size="4.77" dy="-2.93">+</tspan><tspan dy="2.93"> DCs (%)</tspan></text>
<line x1="303.40" y1="246.30" x2="404.80" y2="246.30" stroke="#a9a9a9" stroke-width="0.9" />
<line x1="404.80" y1="246.30" x2="404.80" y2="327.70" stroke="#a9a9a9" stroke-width="0.9" />
<line x1="309.70" y1="272.35" x2="309.70" y2="266.92" stroke="#8a8a8a" stroke-width="0.7" />
<line x1="308.80" y1="266.92" x2="310.60" y2="266.92" stroke="#8a8a8a" stroke-width="0.6" />
<rect x="306.65" y="272.35" width="6.10" height="55.35" fill="#404040" stroke="none" stroke-width="1" />
<line x1="309.70" y1="272.35" x2="309.70" y2="277.77" stroke="#111" stroke-width="0.5" stroke-opacity="0.7"/>
<circle cx="309.70" cy="266.92" r="0.95" fill="#000"/>
<circle cx="309.70" cy="273.43" r="0.95" fill="#000"/>
<circle cx="309.70" cy="277.23" r="0.95" fill="#000"/>
<line x1="322.38" y1="306.54" x2="322.38" y2="303.28" stroke="#8a8a8a" stroke-width="0.7" />
<line x1="321.48" y1="303.28" x2="323.28" y2="303.28" stroke="#8a8a8a" stroke-width="0.6" />
<rect x="319.33" y="306.54" width="6.10" height="21.16" fill="#ff8000" stroke="none" stroke-width="1" />
<line x1="322.38" y1="306.54" x2="322.38" y2="309.79" stroke="#111" stroke-width="0.5" stroke-opacity="0.7"/>
<circle cx="322.38" cy="303.82" r="0.95" fill="#000"/>
<circle cx="322.38" cy="305.99" r="0.95" fill="#000"/>
<circle cx="322.38" cy="309.25" r="0.95" fill="#000"/>
<line x1="335.06" y1="272.89" x2="335.06" y2="268.01" stroke="#8a8a8a" stroke-width="0.7" />
<line x1="334.16" y1="268.01" x2="335.96" y2="268.01" stroke="#8a8a8a" stroke-width="0.6" />
<rect x="332.01" y="272.89" width="6.10" height="54.81" fill="#4dc9f6" stroke="none" stroke-width="1" />
<line x1="335.06" y1="272.89" x2="335.06" y2="277.77" stroke="#111" stroke-width="0.5" stroke-opacity="0.7"/>
<circle cx="335.06" cy="269.09" r="0.95" fill="#000"/>
<circle cx="335.06" cy="272.35" r="0.95" fill="#000"/>
<circle cx="335.06" cy="277.77" r="0.95" fill="#000"/>
<line x1="347.74" y1="273.98" x2="347.74" y2="270.72" stroke="#8a8a8a" stroke-width="0.7" />
<line x1="346.84" y1="270.72" x2="348.64" y2="270.72" stroke="#8a8a8a" stroke-width="0.6" />
<rect x="344.69" y="273.98" width="6.10" height="53.72" fill="#bbdaab" stroke="none" stroke-width="1" />
<line x1="347.74" y1="273.98" x2="347.74" y2="277.23" stroke="#111" stroke-width="0.5" stroke-opacity="0.7"/>
<circle cx="347.74" cy="271.26" r="0.95" fill="#000"/>
<circle cx="347.74" cy="275.06" r="0.95" fill="#000"/>
<line x1="360.42" y1="274.52" x2="360.42" y2="265.29" stroke="#8a8a8a" stroke-width="0.7" />
<line x1="359.52" y1="265.29" x2="361.32" y2="265.29" stroke="#8a8a8a" stroke-width="0.6" />
<rect x="357.37" y="274.52" width="6.10" height="53.18" fill="#ff3fa6" stroke="none" stroke-width="1" />
<line x1="360.42" y1="274.52" x2="360.42" y2="283.74" stroke="#111" stroke-width="0.5" stroke-opacity="0.7"/>
<circle cx="360.42" cy="265.84" r="0.95" fill="#000"/>
<circle cx="360.42" cy="276.15" r="0.95" fill="#000"/>
<circle cx="360.42" cy="278.86" r="0.95" fill="#000"/>
<line x1="373.10" y1="280.49" x2="373.10" y2="278.86" stroke="#8a8a8a" stroke-width="0.7" />
<line x1="372.20" y1="278.86" x2="374.00" y2="278.86" stroke="#8a8a8a" stroke-width="0.6" />
<rect x="370.05" y="280.49" width="6.10" height="47.21" fill="#0a8cff" stroke="none" stroke-width="1" />
<line x1="373.10" y1="280.49" x2="373.10" y2="282.12" stroke="#111" stroke-width="0.5" stroke-opacity="0.7"/>
<circle cx="373.10" cy="279.40" r="0.95" fill="#000"/>
<circle cx="373.10" cy="281.03" r="0.95" fill="#000"/>
<line x1="385.78" y1="273.43" x2="385.78" y2="266.38" stroke="#8a8a8a" stroke-width="0.7" />
<line x1="384.88" y1="266.38" x2="386.68" y2="266.38" stroke="#8a8a8a" stroke-width="0.6" />
<rect x="382.73" y="273.43" width="6.10" height="54.27" fill="#5ac43e" stroke="none" stroke-width="1" />
<line x1="385.78" y1="273.43" x2="385.78" y2="280.49" stroke="#111" stroke-width="0.5" stroke-opacity="0.7"/>
<circle cx="385.78" cy="266.92" r="0.95" fill="#000"/>
<circle cx="385.78" cy="274.52" r="0.95" fill="#000"/>
<circle cx="385.78" cy="276.15" r="0.95" fill="#000"/>
<line x1="398.46" y1="317.39" x2="398.46" y2="313.59" stroke="#8a8a8a" stroke-width="0.7" />
<line x1="397.56" y1="313.59" x2="399.36" y2="313.59" stroke="#8a8a8a" stroke-width="0.6" />
<rect x="395.41" y="317.39" width="6.10" height="10.31" fill="#e8404a" stroke="none" stroke-width="1" />
<line x1="398.46" y1="317.39" x2="398.46" y2="321.19" stroke="#111" stroke-width="0.5" stroke-opacity="0.7"/>
<circle cx="398.46" cy="314.13" r="0.95" fill="#000"/>
<circle cx="398.46" cy="317.39" r="0.95" fill="#000"/>
<circle cx="398.46" cy="319.02" r="0.95" fill="#000"/>
<line x1="303.40" y1="245.90" x2="303.40" y2="328.10" stroke="#7a7a7a" stroke-width="0.9" />
<line x1="303.00" y1="327.70" x2="404.80" y2="327.70" stroke="#cfcfcf" stroke-width="0.9" />
<line x1="301.80" y1="327.70" x2="303.40" y2="327.70" stroke="#7a7a7a" stroke-width="0.7" />
<text x="300.80" y="330.51" font-size="7.8" text-anchor="end" font-weight="normal" fill="#222" >0.0</text>
<line x1="301.80" y1="300.57" x2="303.40" y2="300.57" stroke="#7a7a7a" stroke-width="0.7" />
<text x="300.80" y="303.37" font-size="7.8" text-anchor="end" font-weight="normal" fill="#222" >0.5</text>
<line x1="301.80" y1="273.43" x2="303.40" y2="273.43" stroke="#7a7a7a" stroke-width="0.7" />
<text x="300.80" y="276.24" font-size="7.8" text-anchor="end" font-weight="normal" fill="#222" >1.0</text>
<line x1="301.80" y1="246.30" x2="303.40" y2="246.30" stroke="#7a7a7a" stroke-width="0.7" />
<text x="300.80" y="249.11" font-size="7.8" text-anchor="end" font-weight="normal" fill="#222" >1.5</text>
<line x1="302.40" y1="314.13" x2="303.40" y2="314.13" stroke="#7a7a7a" stroke-width="0.6" />
<line x1="302.40" y1="287.00" x2="303.40" y2="287.00" stroke="#7a7a7a" stroke-width="0.6" />
<line x1="302.40" y1="259.87" x2="303.40" y2="259.87" stroke="#7a7a7a" stroke-width="0.6" />
<line x1="309.70" y1="327.70" x2="309.70" y2="329.10" stroke="#7a7a7a" stroke-width="0.6" />
<text x="309.70" y="336.41" font-size="7.8" text-anchor="middle" font-weight="normal" fill="#222" >1</text>
<line x1="322.38" y1="327.70" x2="322.38" y2="329.10" stroke="#7a7a7a" stroke-width="0.6" />
<text x="322.38" y="336.41" font-size="7.8" text-anchor="middle" font-weight="normal" fill="#222" >2</text>
<line x1="335.06" y1="327.70" x2="335.06" y2="329.10" stroke="#7a7a7a" stroke-width="0.6" />
<text x="335.06" y="336.41" font-size="7.8" text-anchor="middle" font-weight="normal" fill="#222" >3</text>
<line x1="347.74" y1="327.70" x2="347.74" y2="329.10" stroke="#7a7a7a" stroke-width="0.6" />
<text x="347.74" y="336.41" font-size="7.8" text-anchor="middle" font-weight="normal" fill="#222" >4</text>
<line x1="360.42" y1="327.70" x2="360.42" y2="329.10" stroke="#7a7a7a" stroke-width="0.6" />
<text x="360.42" y="336.41" font-size="7.8" text-anchor="middle" font-weight="normal" fill="#222" >5</text>
<line x1="373.10" y1="327.70" x2="373.10" y2="329.10" stroke="#7a7a7a" stroke-width="0.6" />
<text x="373.10" y="336.41" font-size="7.8" text-anchor="middle" font-weight="normal" fill="#222" >6</text>
<line x1="385.78" y1="327.70" x2="385.78" y2="329.10" stroke="#7a7a7a" stroke-width="0.6" />
<text x="385.78" y="336.41" font-size="7.8" text-anchor="middle" font-weight="normal" fill="#222" >7</text>
<line x1="398.46" y1="327.70" x2="398.46" y2="329.10" stroke="#7a7a7a" stroke-width="0.6" />
<text x="398.46" y="336.41" font-size="7.8" text-anchor="middle" font-weight="normal" fill="#222" >8</text>
<rect x="393.11" y="307.27" width="1.85" height="1.85" rx="0.5" fill="#3a3a3a"/>
<rect x="396.06" y="307.27" width="1.85" height="1.85" rx="0.5" fill="#3a3a3a"/>
<rect x="399.01" y="307.27" width="1.85" height="1.85" rx="0.5" fill="#3a3a3a"/>
<rect x="401.96" y="307.27" width="1.85" height="1.85" rx="0.5" fill="#3a3a3a"/>
<text transform="translate(286.27,286.30) rotate(-90)" font-size="7.7" text-anchor="middle" fill="#111" >Tregs in primary tumors (%)</text>
<line x1="439.35" y1="246.30" x2="540.75" y2="246.30" stroke="#a9a9a9" stroke-width="0.9" />
<line x1="540.75" y1="246.30" x2="540.75" y2="327.70" stroke="#a9a9a9" stroke-width="0.9" />
<circle cx="445.65" cy="327.70" r="0.95" fill="#000"/>
<line x1="458.33" y1="315.22" x2="458.33" y2="313.05" stroke="#8a8a8a" stroke-width="0.7" />
<line x1="457.43" y1="313.05" x2="459.23" y2="313.05" stroke="#8a8a8a" stroke-width="0.6" />
<rect x="455.13" y="315.22" width="6.40" height="12.48" fill="#ff8000" stroke="none" stroke-width="1" />
<line x1="458.33" y1="315.22" x2="458.33" y2="317.39" stroke="#111" stroke-width="0.5" stroke-opacity="0.7"/>
<circle cx="458.33" cy="313.05" r="0.95" fill="#000"/>
<circle cx="458.33" cy="315.76" r="0.95" fill="#000"/>
<rect x="467.81" y="326.40" width="6.40" height="1.30" fill="#4dc9f6" stroke="none" stroke-width="1" />
<circle cx="471.01" cy="327.37" r="0.95" fill="#000"/>
<circle cx="483.69" cy="327.70" r="0.95" fill="#000"/>
<rect x="493.17" y="326.40" width="6.40" height="1.30" fill="#ff3fa6" stroke="none" stroke-width="1" />
<circle cx="496.37" cy="327.21" r="0.95" fill="#000"/>
<line x1="509.05" y1="326.61" x2="509.05" y2="326.34" stroke="#8a8a8a" stroke-width="0.7" />
<line x1="508.15" y1="326.34" x2="509.95" y2="326.34" stroke="#8a8a8a" stroke-width="0.6" />
<rect x="505.85" y="326.40" width="6.40" height="1.30" fill="#0a8cff" stroke="none" stroke-width="1" />
<line x1="509.05" y1="326.61" x2="509.05" y2="326.89" stroke="#111" stroke-width="0.5" stroke-opacity="0.7"/>
<circle cx="509.05" cy="326.34" r="0.95" fill="#000"/>
<rect x="518.53" y="326.40" width="6.40" height="1.30" fill="#5ac43e" stroke="none" stroke-width="1" />
<circle cx="521.73" cy="326.89" r="0.95" fill="#000"/>
<line x1="534.41" y1="270.72" x2="534.41" y2="256.07" stroke="#8a8a8a" stroke-width="0.7" />
<line x1="533.51" y1="256.07" x2="535.31" y2="256.07" stroke="#8a8a8a" stroke-width="0.6" />
<rect x="531.21" y="270.72" width="6.40" height="56.98" fill="#e8404a" stroke="none" stroke-width="1" />
<line x1="534.41" y1="270.72" x2="534.41" y2="285.37" stroke="#111" stroke-width="0.5" stroke-opacity="0.7"/>
<circle cx="534.41" cy="258.78" r="0.95" fill="#000"/>
<circle cx="534.41" cy="266.38" r="0.95" fill="#000"/>
<circle cx="534.41" cy="286.46" r="0.95" fill="#000"/>
<line x1="439.35" y1="245.90" x2="439.35" y2="328.10" stroke="#7a7a7a" stroke-width="0.9" />
<line x1="438.95" y1="327.70" x2="540.75" y2="327.70" stroke="#cfcfcf" stroke-width="0.9" />
<line x1="437.75" y1="327.70" x2="439.35" y2="327.70" stroke="#7a7a7a" stroke-width="0.7" />
<text x="436.75" y="330.51" font-size="7.8" text-anchor="end" font-weight="normal" fill="#222" >0</text>
<line x1="437.75" y1="300.57" x2="439.35" y2="300.57" stroke="#7a7a7a" stroke-width="0.7" />
<text x="436.75" y="303.37" font-size="7.8" text-anchor="end" font-weight="normal" fill="#222" >5</text>
<line x1="437.75" y1="273.43" x2="439.35" y2="273.43" stroke="#7a7a7a" stroke-width="0.7" />
<text x="436.75" y="276.24" font-size="7.8" text-anchor="end" font-weight="normal" fill="#222" >10</text>
<line x1="437.75" y1="246.30" x2="439.35" y2="246.30" stroke="#7a7a7a" stroke-width="0.7" />
<text x="436.75" y="249.11" font-size="7.8" text-anchor="end" font-weight="normal" fill="#222" >15</text>
<line x1="438.35" y1="314.13" x2="439.35" y2="314.13" stroke="#7a7a7a" stroke-width="0.6" />
<line x1="438.35" y1="287.00" x2="439.35" y2="287.00" stroke="#7a7a7a" stroke-width="0.6" />
<line x1="438.35" y1="259.87" x2="439.35" y2="259.87" stroke="#7a7a7a" stroke-width="0.6" />
<line x1="445.65" y1="327.70" x2="445.65" y2="329.10" stroke="#7a7a7a" stroke-width="0.6" />
<text x="445.65" y="336.41" font-size="7.8" text-anchor="middle" font-weight="normal" fill="#222" >1</text>
<line x1="458.33" y1="327.70" x2="458.33" y2="329.10" stroke="#7a7a7a" stroke-width="0.6" />
<text x="458.33" y="336.41" font-size="7.8" text-anchor="middle" font-weight="normal" fill="#222" >2</text>
<line x1="471.01" y1="327.70" x2="471.01" y2="329.10" stroke="#7a7a7a" stroke-width="0.6" />
<text x="471.01" y="336.41" font-size="7.8" text-anchor="middle" font-weight="normal" fill="#222" >3</text>
<line x1="483.69" y1="327.70" x2="483.69" y2="329.10" stroke="#7a7a7a" stroke-width="0.6" />
<text x="483.69" y="336.41" font-size="7.8" text-anchor="middle" font-weight="normal" fill="#222" >4</text>
<line x1="496.37" y1="327.70" x2="496.37" y2="329.10" stroke="#7a7a7a" stroke-width="0.6" />
<text x="496.37" y="336.41" font-size="7.8" text-anchor="middle" font-weight="normal" fill="#222" >5</text>
<line x1="509.05" y1="327.70" x2="509.05" y2="329.10" stroke="#7a7a7a" stroke-width="0.6" />
<text x="509.05" y="336.41" font-size="7.8" text-anchor="middle" font-weight="normal" fill="#222" >6</text>
<line x1="521.73" y1="327.70" x2="521.73" y2="329.10" stroke="#7a7a7a" stroke-width="0.6" />
<text x="521.73" y="336.41" font-size="7.8" text-anchor="middle" font-weight="normal" fill="#222" >7</text>
<line x1="534.41" y1="327.70" x2="534.41" y2="329.10" stroke="#7a7a7a" stroke-width="0.6" />
<text x="534.41" y="336.41" font-size="7.8" text-anchor="middle" font-weight="normal" fill="#222" >8</text>
<rect x="529.06" y="250.47" width="1.85" height="1.85" rx="0.5" fill="#3a3a3a"/>
<rect x="532.01" y="250.47" width="1.85" height="1.85" rx="0.5" fill="#3a3a3a"/>
<rect x="534.96" y="250.47" width="1.85" height="1.85" rx="0.5" fill="#3a3a3a"/>
<rect x="537.91" y="250.47" width="1.85" height="1.85" rx="0.5" fill="#3a3a3a"/>
<text transform="translate(425.77,288.00) rotate(-90)" font-size="7.7" text-anchor="middle" fill="#111" >Teff/Treg ratio in primary tumors</text>
<line x1="578.40" y1="246.30" x2="679.80" y2="246.30" stroke="#a9a9a9" stroke-width="0.9" />
<line x1="679.80" y1="246.30" x2="679.80" y2="327.70" stroke="#a9a9a9" stroke-width="0.9" />
<circle cx="584.70" cy="327.70" r="0.95" fill="#000"/>
<line x1="597.38" y1="321.19" x2="597.38" y2="319.97" stroke="#8a8a8a" stroke-width="0.7" />
<line x1="596.48" y1="319.97" x2="598.28" y2="319.97" stroke="#8a8a8a" stroke-width="0.6" />
<rect x="594.18" y="321.19" width="6.40" height="6.51" fill="#ff8000" stroke="none" stroke-width="1" />
<line x1="597.38" y1="321.19" x2="597.38" y2="322.41" stroke="#111" stroke-width="0.5" stroke-opacity="0.7"/>
<circle cx="597.38" cy="320.21" r="0.95" fill="#000"/>
<circle cx="597.38" cy="321.59" r="0.95" fill="#000"/>
<rect x="606.86" y="326.40" width="6.40" height="1.30" fill="#4dc9f6" stroke="none" stroke-width="1" />
<circle cx="610.06" cy="327.37" r="0.95" fill="#000"/>
<circle cx="622.74" cy="327.70" r="0.95" fill="#000"/>
<rect x="632.22" y="326.40" width="6.40" height="1.30" fill="#ff3fa6" stroke="none" stroke-width="1" />
<circle cx="635.42" cy="327.05" r="0.95" fill="#000"/>
<line x1="648.10" y1="326.23" x2="648.10" y2="325.91" stroke="#8a8a8a" stroke-width="0.7" />
<line x1="647.20" y1="325.91" x2="649.00" y2="325.91" stroke="#8a8a8a" stroke-width="0.6" />
<rect x="644.90" y="326.23" width="6.40" height="1.47" fill="#0a8cff" stroke="none" stroke-width="1" />
<line x1="648.10" y1="326.23" x2="648.10" y2="326.56" stroke="#111" stroke-width="0.5" stroke-opacity="0.7"/>
<circle cx="648.10" cy="326.07" r="0.95" fill="#000"/>
<rect x="657.58" y="326.40" width="6.40" height="1.30" fill="#5ac43e" stroke="none" stroke-width="1" />
<circle cx="660.78" cy="326.72" r="0.95" fill="#000"/>
<line x1="673.46" y1="287.81" x2="673.46" y2="278.86" stroke="#8a8a8a" stroke-width="0.7" />
<line x1="672.56" y1="278.86" x2="674.36" y2="278.86" stroke="#8a8a8a" stroke-width="0.6" />
<rect x="670.26" y="287.81" width="6.40" height="39.89" fill="#e8404a" stroke="none" stroke-width="1" />
<line x1="673.46" y1="287.81" x2="673.46" y2="296.77" stroke="#111" stroke-width="0.5" stroke-opacity="0.7"/>
<circle cx="673.46" cy="280.49" r="0.95" fill="#000"/>
<circle cx="673.46" cy="282.93" r="0.95" fill="#000"/>
<circle cx="673.46" cy="298.40" r="0.95" fill="#000"/>
<line x1="578.40" y1="245.90" x2="578.40" y2="328.10" stroke="#7a7a7a" stroke-width="0.9" />
<line x1="578.00" y1="327.70" x2="679.80" y2="327.70" stroke="#cfcfcf" stroke-width="0.9" />
<line x1="576.80" y1="327.70" x2="578.40" y2="327.70" stroke="#7a7a7a" stroke-width="0.7" />
<text x="575.80" y="330.51" font-size="7.8" text-anchor="end" font-weight="normal" fill="#222" >0</text>
<line x1="576.80" y1="287.00" x2="578.40" y2="287.00" stroke="#7a7a7a" stroke-width="0.7" />
<text x="575.80" y="289.81" font-size="7.8" text-anchor="end" font-weight="normal" fill="#222" >5</text>
<line x1="576.80" y1="246.30" x2="578.40" y2="246.30" stroke="#7a7a7a" stroke-width="0.7" />
<text x="575.80" y="249.11" font-size="7.8" text-anchor="end" font-weight="normal" fill="#222" >10</text>
<line x1="577.40" y1="307.35" x2="578.40" y2="307.35" stroke="#7a7a7a" stroke-width="0.6" />
<line x1="577.40" y1="266.65" x2="578.40" y2="266.65" stroke="#7a7a7a" stroke-width="0.6" />
<line x1="584.70" y1="327.70" x2="584.70" y2="329.10" stroke="#7a7a7a" stroke-width="0.6" />
<text x="584.70" y="336.41" font-size="7.8" text-anchor="middle" font-weight="normal" fill="#222" >1</text>
<line x1="597.38" y1="327.70" x2="597.38" y2="329.10" stroke="#7a7a7a" stroke-width="0.6" />
<text x="597.38" y="336.41" font-size="7.8" text-anchor="middle" font-weight="normal" fill="#222" >2</text>
<line x1="610.06" y1="327.70" x2="610.06" y2="329.10" stroke="#7a7a7a" stroke-width="0.6" />
<text x="610.06" y="336.41" font-size="7.8" text-anchor="middle" font-weight="normal" fill="#222" >3</text>
<line x1="622.74" y1="327.70" x2="622.74" y2="329.10" stroke="#7a7a7a" stroke-width="0.6" />
<text x="622.74" y="336.41" font-size="7.8" text-anchor="middle" font-weight="normal" fill="#222" >4</text>
<line x1="635.42" y1="327.70" x2="635.42" y2="329.10" stroke="#7a7a7a" stroke-width="0.6" />
<text x="635.42" y="336.41" font-size="7.8" text-anchor="middle" font-weight="normal" fill="#222" >5</text>
<line x1="648.10" y1="327.70" x2="648.10" y2="329.10" stroke="#7a7a7a" stroke-width="0.6" />
<text x="648.10" y="336.41" font-size="7.8" text-anchor="middle" font-weight="normal" fill="#222" >6</text>
<line x1="660.78" y1="327.70" x2="660.78" y2="329.10" stroke="#7a7a7a" stroke-width="0.6" />
<text x="660.78" y="336.41" font-size="7.8" text-anchor="middle" font-weight="normal" fill="#222" >7</text>
<line x1="673.46" y1="327.70" x2="673.46" y2="329.10" stroke="#7a7a7a" stroke-width="0.6" />
<text x="673.46" y="336.41" font-size="7.8" text-anchor="middle" font-weight="normal" fill="#222" >8</text>
<rect x="668.11" y="272.88" width="1.85" height="1.85" rx="0.5" fill="#3a3a3a"/>
<rect x="671.06" y="272.88" width="1.85" height="1.85" rx="0.5" fill="#3a3a3a"/>
<rect x="674.01" y="272.88" width="1.85" height="1.85" rx="0.5" fill="#3a3a3a"/>
<rect x="676.96" y="272.88" width="1.85" height="1.85" rx="0.5" fill="#3a3a3a"/>
<text transform="translate(567.17,288.00) rotate(-90)" font-size="7.7" text-anchor="middle" fill="#111" >Teff/Treg ratio in distant tumors</text>
<line x1="303.40" y1="361.90" x2="404.80" y2="361.90" stroke="#a9a9a9" stroke-width="0.9" />
<line x1="404.80" y1="361.90" x2="404.80" y2="443.60" stroke="#a9a9a9" stroke-width="0.9" />
<line x1="309.70" y1="399.10" x2="309.70" y2="388.04" stroke="#8a8a8a" stroke-width="0.7" />
<line x1="308.80" y1="388.04" x2="310.60" y2="388.04" stroke="#8a8a8a" stroke-width="0.6" />
<rect x="306.65" y="399.10" width="6.10" height="44.50" fill="#404040" stroke="none" stroke-width="1" />
<line x1="309.70" y1="399.10" x2="309.70" y2="410.16" stroke="#111" stroke-width="0.5" stroke-opacity="0.7"/>
<circle cx="309.70" cy="391.86" r="0.95" fill="#000"/>
<circle cx="309.70" cy="393.49" r="0.95" fill="#000"/>
<circle cx="309.70" cy="409.83" r="0.95" fill="#000"/>
<line x1="322.38" y1="417.18" x2="322.38" y2="410.92" stroke="#8a8a8a" stroke-width="0.7" />
<line x1="321.48" y1="410.92" x2="323.28" y2="410.92" stroke="#8a8a8a" stroke-width="0.6" />
<rect x="319.33" y="417.18" width="6.10" height="26.42" fill="#ff8000" stroke="none" stroke-width="1" />
<line x1="322.38" y1="417.18" x2="322.38" y2="423.45" stroke="#111" stroke-width="0.5" stroke-opacity="0.7"/>
<circle cx="322.38" cy="412.01" r="0.95" fill="#000"/>
<circle cx="322.38" cy="414.73" r="0.95" fill="#000"/>
<circle cx="322.38" cy="425.63" r="0.95" fill="#000"/>
<line x1="335.06" y1="398.39" x2="335.06" y2="388.04" stroke="#8a8a8a" stroke-width="0.7" />
<line x1="334.16" y1="388.04" x2="335.96" y2="388.04" stroke="#8a8a8a" stroke-width="0.6" />
<rect x="332.01" y="398.39" width="6.10" height="45.21" fill="#4dc9f6" stroke="none" stroke-width="1" />
<line x1="335.06" y1="398.39" x2="335.06" y2="408.74" stroke="#111" stroke-width="0.5" stroke-opacity="0.7"/>
<circle cx="335.06" cy="390.22" r="0.95" fill="#000"/>
<circle cx="335.06" cy="393.49" r="0.95" fill="#000"/>
<circle cx="335.06" cy="409.83" r="0.95" fill="#000"/>
<line x1="347.74" y1="401.12" x2="347.74" y2="393.49" stroke="#8a8a8a" stroke-width="0.7" />
<line x1="346.84" y1="393.49" x2="348.64" y2="393.49" stroke="#8a8a8a" stroke-width="0.6" />
<rect x="344.69" y="401.12" width="6.10" height="42.48" fill="#bbdaab" stroke="none" stroke-width="1" />
<line x1="347.74" y1="401.12" x2="347.74" y2="408.74" stroke="#111" stroke-width="0.5" stroke-opacity="0.7"/>
<circle cx="347.74" cy="396.21" r="0.95" fill="#000"/>
<circle cx="347.74" cy="409.83" r="0.95" fill="#000"/>
<line x1="360.42" y1="401.12" x2="360.42" y2="393.49" stroke="#8a8a8a" stroke-width="0.7" />
<line x1="359.52" y1="393.49" x2="361.32" y2="393.49" stroke="#8a8a8a" stroke-width="0.6" />
<rect x="357.37" y="401.12" width="6.10" height="42.48" fill="#ff3fa6" stroke="none" stroke-width="1" />
<line x1="360.42" y1="401.12" x2="360.42" y2="408.74" stroke="#111" stroke-width="0.5" stroke-opacity="0.7"/>
<circle cx="360.42" cy="396.21" r="0.95" fill="#000"/>
<circle cx="360.42" cy="409.83" r="0.95" fill="#000"/>
<line x1="373.10" y1="400.03" x2="373.10" y2="389.13" stroke="#8a8a8a" stroke-width="0.7" />
<line x1="372.20" y1="389.13" x2="374.00" y2="389.13" stroke="#8a8a8a" stroke-width="0.6" />
<rect x="370.05" y="400.03" width="6.10" height="43.57" fill="#0a8cff" stroke="none" stroke-width="1" />
<line x1="373.10" y1="400.03" x2="373.10" y2="410.92" stroke="#111" stroke-width="0.5" stroke-opacity="0.7"/>
<circle cx="373.10" cy="390.77" r="0.95" fill="#000"/>
<circle cx="373.10" cy="393.49" r="0.95" fill="#000"/>
<circle cx="373.10" cy="410.92" r="0.95" fill="#000"/>
<line x1="385.78" y1="401.12" x2="385.78" y2="393.49" stroke="#8a8a8a" stroke-width="0.7" />
<line x1="384.88" y1="393.49" x2="386.68" y2="393.49" stroke="#8a8a8a" stroke-width="0.6" />
<rect x="382.73" y="401.12" width="6.10" height="42.48" fill="#5ac43e" stroke="none" stroke-width="1" />
<line x1="385.78" y1="401.12" x2="385.78" y2="408.74" stroke="#111" stroke-width="0.5" stroke-opacity="0.7"/>
<circle cx="385.78" cy="396.21" r="0.95" fill="#000"/>
<circle cx="385.78" cy="409.83" r="0.95" fill="#000"/>
<line x1="398.46" y1="439.24" x2="398.46" y2="438.15" stroke="#8a8a8a" stroke-width="0.7" />
<line x1="397.56" y1="438.15" x2="399.36" y2="438.15" stroke="#8a8a8a" stroke-width="0.6" />
<rect x="395.41" y="439.24" width="6.10" height="4.36" fill="#e8404a" stroke="none" stroke-width="1" />
<line x1="398.46" y1="439.24" x2="398.46" y2="440.33" stroke="#111" stroke-width="0.5" stroke-opacity="0.7"/>
<circle cx="398.46" cy="438.70" r="0.95" fill="#000"/>
<circle cx="398.46" cy="439.79" r="0.95" fill="#000"/>
<line x1="303.40" y1="361.50" x2="303.40" y2="444.00" stroke="#7a7a7a" stroke-width="0.9" />
<line x1="303.00" y1="443.60" x2="404.80" y2="443.60" stroke="#c4c4c4" stroke-width="0.9" />
<line x1="301.80" y1="443.60" x2="303.40" y2="443.60" stroke="#7a7a7a" stroke-width="0.7" />
<text x="300.80" y="446.41" font-size="7.8" text-anchor="end" font-weight="normal" fill="#222" >0</text>
<line x1="301.80" y1="416.37" x2="303.40" y2="416.37" stroke="#7a7a7a" stroke-width="0.7" />
<text x="300.80" y="419.17" font-size="7.8" text-anchor="end" font-weight="normal" fill="#222" >5</text>
<line x1="301.80" y1="389.13" x2="303.40" y2="389.13" stroke="#7a7a7a" stroke-width="0.7" />
<text x="300.80" y="391.94" font-size="7.8" text-anchor="end" font-weight="normal" fill="#222" >10</text>
<line x1="301.80" y1="361.90" x2="303.40" y2="361.90" stroke="#7a7a7a" stroke-width="0.7" />
<text x="300.80" y="364.71" font-size="7.8" text-anchor="end" font-weight="normal" fill="#222" >15</text>
<line x1="302.40" y1="429.98" x2="303.40" y2="429.98" stroke="#7a7a7a" stroke-width="0.6" />
<line x1="302.40" y1="402.75" x2="303.40" y2="402.75" stroke="#7a7a7a" stroke-width="0.6" />
<line x1="302.40" y1="375.52" x2="303.40" y2="375.52" stroke="#7a7a7a" stroke-width="0.6" />
<line x1="309.70" y1="443.60" x2="309.70" y2="445.00" stroke="#7a7a7a" stroke-width="0.6" />
<text x="309.70" y="452.31" font-size="7.8" text-anchor="middle" font-weight="normal" fill="#222" >1</text>
<line x1="322.38" y1="443.60" x2="322.38" y2="445.00" stroke="#7a7a7a" stroke-width="0.6" />
<text x="322.38" y="452.31" font-size="7.8" text-anchor="middle" font-weight="normal" fill="#222" >2</text>
<line x1="335.06" y1="443.60" x2="335.06" y2="445.00" stroke="#7a7a7a" stroke-width="0.6" />
<text x="335.06" y="452.31" font-size="7.8" text-anchor="middle" font-weight="normal" fill="#222" >3</text>
<line x1="347.74" y1="443.60" x2="347.74" y2="445.00" stroke="#7a7a7a" stroke-width="0.6" />
<text x="347.74" y="452.31" font-size="7.8" text-anchor="middle" font-weight="normal" fill="#222" >4</text>
<line x1="360.42" y1="443.60" x2="360.42" y2="445.00" stroke="#7a7a7a" stroke-width="0.6" />
<text x="360.42" y="452.31" font-size="7.8" text-anchor="middle" font-weight="normal" fill="#222" >5</text>
<line x1="373.10" y1="443.60" x2="373.10" y2="445.00" stroke="#7a7a7a" stroke-width="0.6" />
<text x="373.10" y="452.31" font-size="7.8" text-anchor="middle" font-weight="normal" fill="#222" >6</text>
<line x1="385.78" y1="443.60" x2="385.78" y2="445.00" stroke="#7a7a7a" stroke-width="0.6" />
<text x="385.78" y="452.31" font-size="7.8" text-anchor="middle" font-weight="normal" fill="#222" >7</text>
<line x1="398.46" y1="443.60" x2="398.46" y2="445.00" stroke="#7a7a7a" stroke-width="0.6" />
<text x="398.46" y="452.31" font-size="7.8" text-anchor="middle" font-weight="normal" fill="#222" >8</text>
<rect x="394.58" y="432.77" width="1.85" height="1.85" rx="0.5" fill="#3a3a3a"/>
<rect x="397.53" y="432.77" width="1.85" height="1.85" rx="0.5" fill="#3a3a3a"/>
<rect x="400.48" y="432.77" width="1.85" height="1.85" rx="0.5" fill="#3a3a3a"/>
<text transform="translate(291.37,403.00) rotate(-90)" font-size="7.7" text-anchor="middle" fill="#111" >M2-Macs in primary tumors (%)</text>
<line x1="303.40" y1="477.80" x2="404.80" y2="477.80" stroke="#a9a9a9" stroke-width="0.9" />
<line x1="404.80" y1="477.80" x2="404.80" y2="559.40" stroke="#a9a9a9" stroke-width="0.9" />
<rect x="307.20" y="499.02" width="5.00" height="60.38" fill="#404040" stroke="none" stroke-width="1" />
<circle cx="309.70" cy="498.61" r="0.95" fill="#000"/>
<rect x="319.88" y="546.34" width="5.00" height="13.06" fill="#ff8000" stroke="none" stroke-width="1" />
<circle cx="322.38" cy="545.94" r="0.95" fill="#000"/>
<line x1="335.06" y1="510.03" x2="335.06" y2="508.81" stroke="#8a8a8a" stroke-width="0.7" />
<line x1="334.16" y1="508.81" x2="335.96" y2="508.81" stroke="#8a8a8a" stroke-width="0.6" />
<rect x="332.56" y="510.03" width="5.00" height="49.37" fill="#4dc9f6" stroke="none" stroke-width="1" />
<line x1="335.06" y1="510.03" x2="335.06" y2="511.26" stroke="#111" stroke-width="0.5" stroke-opacity="0.7"/>
<circle cx="335.06" cy="509.62" r="0.95" fill="#000"/>
<rect x="345.24" y="517.78" width="5.00" height="41.62" fill="#bbdaab" stroke="none" stroke-width="1" />
<circle cx="347.74" cy="517.38" r="0.95" fill="#000"/>
<rect x="357.92" y="515.34" width="5.00" height="44.06" fill="#ff3fa6" stroke="none" stroke-width="1" />
<circle cx="360.42" cy="514.93" r="0.95" fill="#000"/>
<rect x="370.60" y="520.64" width="5.00" height="38.76" fill="#0a8cff" stroke="none" stroke-width="1" />
<circle cx="373.10" cy="520.23" r="0.95" fill="#000"/>
<rect x="383.28" y="516.97" width="5.00" height="42.43" fill="#5ac43e" stroke="none" stroke-width="1" />
<circle cx="385.78" cy="516.56" r="0.95" fill="#000"/>
<rect x="395.96" y="552.87" width="5.00" height="6.53" fill="#e8404a" stroke="none" stroke-width="1" />
<circle cx="398.46" cy="552.46" r="0.95" fill="#000"/>
<line x1="303.40" y1="477.40" x2="303.40" y2="559.80" stroke="#7a7a7a" stroke-width="0.9" />
<line x1="303.00" y1="559.40" x2="404.80" y2="559.40" stroke="#7a7a7a" stroke-width="0.9" />
<line x1="301.80" y1="559.40" x2="303.40" y2="559.40" stroke="#7a7a7a" stroke-width="0.7" />
<text x="300.80" y="562.21" font-size="7.8" text-anchor="end" font-weight="normal" fill="#222" >0</text>
<line x1="301.80" y1="518.60" x2="303.40" y2="518.60" stroke="#7a7a7a" stroke-width="0.7" />
<text x="300.80" y="521.41" font-size="7.8" text-anchor="end" font-weight="normal" fill="#222" >5</text>
<line x1="301.80" y1="477.80" x2="303.40" y2="477.80" stroke="#7a7a7a" stroke-width="0.7" />
<text x="300.80" y="480.61" font-size="7.8" text-anchor="end" font-weight="normal" fill="#222" >10</text>
<line x1="302.40" y1="539.00" x2="303.40" y2="539.00" stroke="#7a7a7a" stroke-width="0.6" />
<line x1="302.40" y1="498.20" x2="303.40" y2="498.20" stroke="#7a7a7a" stroke-width="0.6" />
<line x1="309.70" y1="559.40" x2="309.70" y2="560.80" stroke="#7a7a7a" stroke-width="0.6" />
<text x="309.70" y="568.11" font-size="7.8" text-anchor="middle" font-weight="normal" fill="#222" >1</text>
<line x1="322.38" y1="559.40" x2="322.38" y2="560.80" stroke="#7a7a7a" stroke-width="0.6" />
<text x="322.38" y="568.11" font-size="7.8" text-anchor="middle" font-weight="normal" fill="#222" >2</text>
<line x1="335.06" y1="559.40" x2="335.06" y2="560.80" stroke="#7a7a7a" stroke-width="0.6" />
<text x="335.06" y="568.11" font-size="7.8" text-anchor="middle" font-weight="normal" fill="#222" >3</text>
<line x1="347.74" y1="559.40" x2="347.74" y2="560.80" stroke="#7a7a7a" stroke-width="0.6" />
<text x="347.74" y="568.11" font-size="7.8" text-anchor="middle" font-weight="normal" fill="#222" >4</text>
<line x1="360.42" y1="559.40" x2="360.42" y2="560.80" stroke="#7a7a7a" stroke-width="0.6" />
<text x="360.42" y="568.11" font-size="7.8" text-anchor="middle" font-weight="normal" fill="#222" >5</text>
<line x1="373.10" y1="559.40" x2="373.10" y2="560.80" stroke="#7a7a7a" stroke-width="0.6" />
<text x="373.10" y="568.11" font-size="7.8" text-anchor="middle" font-weight="normal" fill="#222" >6</text>
<line x1="385.78" y1="559.40" x2="385.78" y2="560.80" stroke="#7a7a7a" stroke-width="0.6" />
<text x="385.78" y="568.11" font-size="7.8" text-anchor="middle" font-weight="normal" fill="#222" >7</text>
<line x1="398.46" y1="559.40" x2="398.46" y2="560.80" stroke="#7a7a7a" stroke-width="0.6" />
<text x="398.46" y="568.11" font-size="7.8" text-anchor="middle" font-weight="normal" fill="#222" >8</text>
<rect x="393.11" y="545.98" width="1.85" height="1.85" rx="0.5" fill="#3a3a3a"/>
<rect x="396.06" y="545.98" width="1.85" height="1.85" rx="0.5" fill="#3a3a3a"/>
<rect x="399.01" y="545.98" width="1.85" height="1.85" rx="0.5" fill="#3a3a3a"/>
<rect x="401.96" y="545.98" width="1.85" height="1.85" rx="0.5" fill="#3a3a3a"/>
<text transform="translate(291.37,519.00) rotate(-90)" font-size="7.7" text-anchor="middle" fill="#111" >MDSCs in primary tumors (%)</text>
<line x1="578.40" y1="478.00" x2="679.80" y2="478.00" stroke="#a9a9a9" stroke-width="0.9" />
<line x1="679.80" y1="478.00" x2="679.80" y2="559.40" stroke="#a9a9a9" stroke-width="0.9" />
<line x1="584.70" y1="504.54" x2="584.70" y2="496.72" stroke="#8a8a8a" stroke-width="0.7" />
<line x1="583.80" y1="496.72" x2="585.60" y2="496.72" stroke="#8a8a8a" stroke-width="0.6" />
<rect x="582.30" y="504.54" width="4.80" height="54.86" fill="#404040" stroke="none" stroke-width="1" />
<line x1="584.70" y1="504.54" x2="584.70" y2="512.35" stroke="#111" stroke-width="0.5" stroke-opacity="0.7"/>
<circle cx="584.70" cy="496.72" r="0.95" fill="#000"/>
<circle cx="584.70" cy="504.05" r="0.95" fill="#000"/>
<circle cx="584.70" cy="512.19" r="0.95" fill="#000"/>
<line x1="597.38" y1="530.42" x2="597.38" y2="526.35" stroke="#8a8a8a" stroke-width="0.7" />
<line x1="596.48" y1="526.35" x2="598.28" y2="526.35" stroke="#8a8a8a" stroke-width="0.6" />
<rect x="594.98" y="530.42" width="4.80" height="28.98" fill="#ff8000" stroke="none" stroke-width="1" />
<line x1="597.38" y1="530.42" x2="597.38" y2="534.49" stroke="#111" stroke-width="0.5" stroke-opacity="0.7"/>
<circle cx="597.38" cy="526.84" r="0.95" fill="#000"/>
<circle cx="597.38" cy="530.10" r="0.95" fill="#000"/>
<circle cx="597.38" cy="531.72" r="0.95" fill="#000"/>
<line x1="610.06" y1="508.44" x2="610.06" y2="502.42" stroke="#8a8a8a" stroke-width="0.7" />
<line x1="609.16" y1="502.42" x2="610.96" y2="502.42" stroke="#8a8a8a" stroke-width="0.6" />
<rect x="607.66" y="508.44" width="4.80" height="50.96" fill="#4dc9f6" stroke="none" stroke-width="1" />
<line x1="610.06" y1="508.44" x2="610.06" y2="514.47" stroke="#111" stroke-width="0.5" stroke-opacity="0.7"/>
<circle cx="610.06" cy="503.23" r="0.95" fill="#000"/>
<circle cx="610.06" cy="505.68" r="0.95" fill="#000"/>
<circle cx="610.06" cy="514.63" r="0.95" fill="#000"/>
<line x1="622.74" y1="519.19" x2="622.74" y2="516.10" stroke="#8a8a8a" stroke-width="0.7" />
<line x1="621.84" y1="516.10" x2="623.64" y2="516.10" stroke="#8a8a8a" stroke-width="0.6" />
<rect x="620.34" y="519.19" width="4.80" height="40.21" fill="#bbdaab" stroke="none" stroke-width="1" />
<line x1="622.74" y1="519.19" x2="622.74" y2="522.28" stroke="#111" stroke-width="0.5" stroke-opacity="0.7"/>
<circle cx="622.74" cy="517.07" r="0.95" fill="#000"/>
<circle cx="622.74" cy="520.33" r="0.95" fill="#000"/>
<line x1="635.42" y1="524.40" x2="635.42" y2="523.26" stroke="#8a8a8a" stroke-width="0.7" />
<line x1="634.52" y1="523.26" x2="636.32" y2="523.26" stroke="#8a8a8a" stroke-width="0.6" />
<rect x="633.02" y="524.40" width="4.80" height="35.00" fill="#ff3fa6" stroke="none" stroke-width="1" />
<line x1="635.42" y1="524.40" x2="635.42" y2="525.54" stroke="#111" stroke-width="0.5" stroke-opacity="0.7"/>
<circle cx="635.42" cy="523.58" r="0.95" fill="#000"/>
<circle cx="635.42" cy="524.40" r="0.95" fill="#000"/>
<line x1="648.10" y1="513.49" x2="648.10" y2="510.07" stroke="#8a8a8a" stroke-width="0.7" />
<line x1="647.20" y1="510.07" x2="649.00" y2="510.07" stroke="#8a8a8a" stroke-width="0.6" />
<rect x="645.70" y="513.49" width="4.80" height="45.91" fill="#0a8cff" stroke="none" stroke-width="1" />
<line x1="648.10" y1="513.49" x2="648.10" y2="516.91" stroke="#111" stroke-width="0.5" stroke-opacity="0.7"/>
<circle cx="648.10" cy="510.56" r="0.95" fill="#000"/>
<circle cx="648.10" cy="514.63" r="0.95" fill="#000"/>
<line x1="660.78" y1="528.47" x2="660.78" y2="527.17" stroke="#8a8a8a" stroke-width="0.7" />
<line x1="659.88" y1="527.17" x2="661.68" y2="527.17" stroke="#8a8a8a" stroke-width="0.6" />
<rect x="658.38" y="528.47" width="4.80" height="30.93" fill="#5ac43e" stroke="none" stroke-width="1" />
<line x1="660.78" y1="528.47" x2="660.78" y2="529.77" stroke="#111" stroke-width="0.5" stroke-opacity="0.7"/>
<circle cx="660.78" cy="527.65" r="0.95" fill="#000"/>
<circle cx="660.78" cy="528.47" r="0.95" fill="#000"/>
<line x1="673.46" y1="556.47" x2="673.46" y2="555.33" stroke="#8a8a8a" stroke-width="0.7" />
<line x1="672.56" y1="555.33" x2="674.36" y2="555.33" stroke="#8a8a8a" stroke-width="0.6" />
<rect x="671.06" y="556.47" width="4.80" height="2.93" fill="#e8404a" stroke="none" stroke-width="1" />
<line x1="673.46" y1="556.47" x2="673.46" y2="557.61" stroke="#111" stroke-width="0.5" stroke-opacity="0.7"/>
<circle cx="673.46" cy="555.82" r="0.95" fill="#000"/>
<circle cx="673.46" cy="556.96" r="0.95" fill="#000"/>
<line x1="578.40" y1="477.60" x2="578.40" y2="559.80" stroke="#7a7a7a" stroke-width="0.9" />
<line x1="578.00" y1="559.40" x2="679.80" y2="559.40" stroke="#7a7a7a" stroke-width="0.9" />
<line x1="576.80" y1="559.40" x2="578.40" y2="559.40" stroke="#7a7a7a" stroke-width="0.7" />
<text x="575.80" y="562.21" font-size="7.8" text-anchor="end" font-weight="normal" fill="#222" >0</text>
<line x1="576.80" y1="543.12" x2="578.40" y2="543.12" stroke="#7a7a7a" stroke-width="0.7" />
<text x="575.80" y="545.93" font-size="7.8" text-anchor="end" font-weight="normal" fill="#222" >1</text>
<line x1="576.80" y1="526.84" x2="578.40" y2="526.84" stroke="#7a7a7a" stroke-width="0.7" />
<text x="575.80" y="529.65" font-size="7.8" text-anchor="end" font-weight="normal" fill="#222" >2</text>
<line x1="576.80" y1="510.56" x2="578.40" y2="510.56" stroke="#7a7a7a" stroke-width="0.7" />
<text x="575.80" y="513.37" font-size="7.8" text-anchor="end" font-weight="normal" fill="#222" >3</text>
<line x1="576.80" y1="494.28" x2="578.40" y2="494.28" stroke="#7a7a7a" stroke-width="0.7" />
<text x="575.80" y="497.09" font-size="7.8" text-anchor="end" font-weight="normal" fill="#222" >4</text>
<line x1="576.80" y1="478.00" x2="578.40" y2="478.00" stroke="#7a7a7a" stroke-width="0.7" />
<text x="575.80" y="480.81" font-size="7.8" text-anchor="end" font-weight="normal" fill="#222" >5</text>
<line x1="577.40" y1="551.26" x2="578.40" y2="551.26" stroke="#7a7a7a" stroke-width="0.6" />
<line x1="577.40" y1="534.98" x2="578.40" y2="534.98" stroke="#7a7a7a" stroke-width="0.6" />
<line x1="577.40" y1="518.70" x2="578.40" y2="518.70" stroke="#7a7a7a" stroke-width="0.6" />
<line x1="577.40" y1="502.42" x2="578.40" y2="502.42" stroke="#7a7a7a" stroke-width="0.6" />
<line x1="577.40" y1="486.14" x2="578.40" y2="486.14" stroke="#7a7a7a" stroke-width="0.6" />
<line x1="584.70" y1="559.40" x2="584.70" y2="560.80" stroke="#7a7a7a" stroke-width="0.6" />
<text x="584.70" y="568.11" font-size="7.8" text-anchor="middle" font-weight="normal" fill="#222" >1</text>
<line x1="597.38" y1="559.40" x2="597.38" y2="560.80" stroke="#7a7a7a" stroke-width="0.6" />
<text x="597.38" y="568.11" font-size="7.8" text-anchor="middle" font-weight="normal" fill="#222" >2</text>
<line x1="610.06" y1="559.40" x2="610.06" y2="560.80" stroke="#7a7a7a" stroke-width="0.6" />
<text x="610.06" y="568.11" font-size="7.8" text-anchor="middle" font-weight="normal" fill="#222" >3</text>
<line x1="622.74" y1="559.40" x2="622.74" y2="560.80" stroke="#7a7a7a" stroke-width="0.6" />
<text x="622.74" y="568.11" font-size="7.8" text-anchor="middle" font-weight="normal" fill="#222" >4</text>
<line x1="635.42" y1="559.40" x2="635.42" y2="560.80" stroke="#7a7a7a" stroke-width="0.6" />
<text x="635.42" y="568.11" font-size="7.8" text-anchor="middle" font-weight="normal" fill="#222" >5</text>
<line x1="648.10" y1="559.40" x2="648.10" y2="560.80" stroke="#7a7a7a" stroke-width="0.6" />
<text x="648.10" y="568.11" font-size="7.8" text-anchor="middle" font-weight="normal" fill="#222" >6</text>
<line x1="660.78" y1="559.40" x2="660.78" y2="560.80" stroke="#7a7a7a" stroke-width="0.6" />
<text x="660.78" y="568.11" font-size="7.8" text-anchor="middle" font-weight="normal" fill="#222" >7</text>
<line x1="673.46" y1="559.40" x2="673.46" y2="560.80" stroke="#7a7a7a" stroke-width="0.6" />
<text x="673.46" y="568.11" font-size="7.8" text-anchor="middle" font-weight="normal" fill="#222" >8</text>
<rect x="668.11" y="549.38" width="1.85" height="1.85" rx="0.5" fill="#3a3a3a"/>
<rect x="671.06" y="549.38" width="1.85" height="1.85" rx="0.5" fill="#3a3a3a"/>
<rect x="674.01" y="549.38" width="1.85" height="1.85" rx="0.5" fill="#3a3a3a"/>
<rect x="676.96" y="549.38" width="1.85" height="1.85" rx="0.5" fill="#3a3a3a"/>
<text transform="translate(567.17,518.50) rotate(-90)" font-size="7.7" text-anchor="middle" fill="#111" >Ade content (nmol/g)</text>
<rect x="21.00" y="578.20" width="19.00" height="12.00" fill="#7f7f7f" stroke="none" stroke-width="1" />
<text x="45.60" y="586.90" font-size="7.8" text-anchor="start" font-weight="normal" fill="#111" >1. Saline</text>
<rect x="104.55" y="578.20" width="19.00" height="12.00" fill="#ff8000" stroke="none" stroke-width="1" />
<text x="129.15" y="586.90" font-size="7.8" text-anchor="start" font-weight="normal" fill="#111" >2. Proteins</text>
<rect x="188.10" y="578.20" width="19.00" height="12.00" fill="#4dc9f6" stroke="none" stroke-width="1" />
<text x="212.70" y="586.90" font-size="7.8" text-anchor="start" font-weight="normal" fill="#111" >3. HNP</text>
<rect x="271.65" y="578.20" width="19.00" height="12.00" fill="#bbdaab" stroke="none" stroke-width="1" />
<text x="296.25" y="586.90" font-size="7.8" text-anchor="start" font-weight="normal" fill="#111" >4. PNP</text>
<rect x="355.20" y="578.20" width="19.00" height="12.00" fill="#ff3fa6" stroke="none" stroke-width="1" />
<text x="379.80" y="586.90" font-size="7.8" text-anchor="start" font-weight="normal" fill="#111" >5. HPNP</text>
<rect x="438.75" y="578.20" width="19.00" height="12.00" fill="#0a8cff" stroke="none" stroke-width="1" />
<text x="463.35" y="586.90" font-size="7.8" text-anchor="start" font-weight="normal" fill="#111" >6. HNP + US</text>
<rect x="522.30" y="578.20" width="19.00" height="12.00" fill="#5ac43e" stroke="none" stroke-width="1" />
<text x="546.90" y="586.90" font-size="7.8" text-anchor="start" font-weight="normal" fill="#111" >7. PNP + US</text>
<rect x="605.85" y="578.20" width="19.00" height="12.00" fill="#e8404a" stroke="none" stroke-width="1" />
<text x="630.45" y="586.90" font-size="7.8" text-anchor="start" font-weight="normal" fill="#111" >8. HPNP + US</text>
<rect x="21.40" y="15.60" width="73.90" height="71.90" fill="none" stroke="#9a9a9a" stroke-width="0.9" />
<text x="58.00" y="11.94" font-size="7.9" text-anchor="middle" font-weight="normal" fill="#111" >Saline</text>
<rect x="103.40" y="15.60" width="73.90" height="71.90" fill="none" stroke="#9a9a9a" stroke-width="0.9" />
<text x="136.00" y="11.94" font-size="7.9" text-anchor="middle" font-weight="normal" fill="#111" >HNP + US</text>
<rect x="185.40" y="15.60" width="74.00" height="71.90" fill="none" stroke="#9a9a9a" stroke-width="0.9" />
<text x="222.60" y="11.94" font-size="7.9" text-anchor="middle" font-weight="normal" fill="#111" >HPNP + US</text>
<path d="M41.00,42.00 C41.58,41.25 43.17,41.17 44.00,41.50 C44.83,41.83 45.58,42.92 46.00,44.00 C46.42,45.08 46.00,46.83 46.50,48.00 C47.00,49.17 47.58,50.17 49.00,51.00 C50.42,51.83 53.00,52.33 55.00,53.00 C57.00,53.67 59.42,54.17 61.00,55.00 C62.58,55.83 63.67,56.67 64.50,58.00 C65.33,59.33 66.08,61.17 66.00,63.00 C65.92,64.83 65.33,67.42 64.00,69.00 C62.67,70.58 60.33,71.67 58.00,72.50 C55.67,73.33 52.67,73.75 50.00,74.00 C47.33,74.25 44.50,74.25 42.00,74.00 C39.50,73.75 36.58,73.50 35.00,72.50 C33.42,71.50 32.83,69.92 32.50,68.00 C32.17,66.08 32.42,63.17 33.00,61.00 C33.58,58.83 34.92,56.67 36.00,55.00 C37.08,53.33 38.75,52.50 39.50,51.00 C40.25,49.50 40.25,47.50 40.50,46.00 C40.75,44.50 40.42,42.75 41.00,42.00Z" fill="#e4e4e4" fill-opacity="1.0" stroke="#a8a8a8" stroke-width="0.4" stroke-opacity="0.9"/>
<path d="M41.38,45.45 C41.87,44.81 43.22,44.74 43.92,45.03 C44.63,45.31 45.27,46.23 45.62,47.15 C45.98,48.07 45.62,49.56 46.05,50.55 C46.47,51.54 46.97,52.39 48.17,53.10 C49.38,53.81 51.57,54.23 53.27,54.80 C54.98,55.37 57.03,55.79 58.38,56.50 C59.72,57.21 60.64,57.92 61.35,59.05 C62.06,60.18 62.70,61.74 62.62,63.30 C62.55,64.86 62.06,67.05 60.92,68.40 C59.79,69.75 57.81,70.67 55.83,71.38 C53.84,72.08 51.29,72.44 49.02,72.65 C46.76,72.86 44.35,72.86 42.23,72.65 C40.10,72.44 37.62,72.22 36.27,71.38 C34.93,70.53 34.43,69.18 34.15,67.55 C33.87,65.92 34.08,63.44 34.58,61.60 C35.07,59.76 36.20,57.92 37.12,56.50 C38.05,55.08 39.46,54.38 40.10,53.10 C40.74,51.83 40.74,50.12 40.95,48.85 C41.16,47.58 40.88,46.09 41.38,45.45Z" fill="none" stroke="#a8a8a8" stroke-width="0.4" stroke-opacity="0.9"/>
<path d="M41.75,48.90 C42.16,48.38 43.27,48.32 43.85,48.55 C44.43,48.78 44.96,49.54 45.25,50.30 C45.54,51.06 45.25,52.28 45.60,53.10 C45.95,53.92 46.36,54.62 47.35,55.20 C48.34,55.78 50.15,56.13 51.55,56.60 C52.95,57.07 54.64,57.42 55.75,58.00 C56.86,58.58 57.62,59.17 58.20,60.10 C58.78,61.03 59.31,62.32 59.25,63.60 C59.19,64.88 58.78,66.69 57.85,67.80 C56.92,68.91 55.28,69.67 53.65,70.25 C52.02,70.83 49.92,71.12 48.05,71.30 C46.18,71.47 44.20,71.47 42.45,71.30 C40.70,71.12 38.66,70.95 37.55,70.25 C36.44,69.55 36.03,68.44 35.80,67.10 C35.57,65.76 35.74,63.72 36.15,62.20 C36.56,60.68 37.49,59.17 38.25,58.00 C39.01,56.83 40.18,56.25 40.70,55.20 C41.23,54.15 41.23,52.75 41.40,51.70 C41.57,50.65 41.34,49.43 41.75,48.90Z" fill="none" stroke="#a8a8a8" stroke-width="0.4" stroke-opacity="0.9"/>
<path d="M42.12,52.35 C42.45,51.94 43.32,51.89 43.77,52.08 C44.23,52.26 44.65,52.85 44.88,53.45 C45.10,54.05 44.88,55.01 45.15,55.65 C45.42,56.29 45.75,56.84 46.52,57.30 C47.30,57.76 48.73,58.03 49.83,58.40 C50.93,58.77 52.25,59.04 53.12,59.50 C54.00,59.96 54.59,60.42 55.05,61.15 C55.51,61.88 55.92,62.89 55.88,63.90 C55.83,64.91 55.51,66.33 54.77,67.20 C54.04,68.07 52.76,68.67 51.48,69.12 C50.19,69.58 48.54,69.81 47.08,69.95 C45.61,70.09 44.05,70.09 42.67,69.95 C41.30,69.81 39.70,69.67 38.83,69.12 C37.95,68.58 37.63,67.70 37.45,66.65 C37.27,65.60 37.40,63.99 37.73,62.80 C38.05,61.61 38.78,60.42 39.38,59.50 C39.97,58.58 40.89,58.12 41.30,57.30 C41.71,56.47 41.71,55.38 41.85,54.55 C41.99,53.72 41.80,52.76 42.12,52.35Z" fill="none" stroke="#a8a8a8" stroke-width="0.4" stroke-opacity="0.9"/>
<path d="M42.50,55.80 C42.73,55.50 43.37,55.47 43.70,55.60 C44.03,55.73 44.33,56.17 44.50,56.60 C44.67,57.03 44.50,57.73 44.70,58.20 C44.90,58.67 45.13,59.07 45.70,59.40 C46.27,59.73 47.30,59.93 48.10,60.20 C48.90,60.47 49.87,60.67 50.50,61.00 C51.13,61.33 51.57,61.67 51.90,62.20 C52.23,62.73 52.53,63.47 52.50,64.20 C52.47,64.93 52.23,65.97 51.70,66.60 C51.17,67.23 50.23,67.67 49.30,68.00 C48.37,68.33 47.17,68.50 46.10,68.60 C45.03,68.70 43.90,68.70 42.90,68.60 C41.90,68.50 40.73,68.40 40.10,68.00 C39.47,67.60 39.23,66.97 39.10,66.20 C38.97,65.43 39.07,64.27 39.30,63.40 C39.53,62.53 40.07,61.67 40.50,61.00 C40.93,60.33 41.60,60.00 41.90,59.40 C42.20,58.80 42.20,58.00 42.30,57.40 C42.40,56.80 42.27,56.10 42.50,55.80Z" fill="none" stroke="#a8a8a8" stroke-width="0.4" stroke-opacity="0.9"/>
<path d="M42.88,59.25 C43.02,59.06 43.42,59.04 43.62,59.12 C43.83,59.21 44.02,59.48 44.12,59.75 C44.23,60.02 44.12,60.46 44.25,60.75 C44.38,61.04 44.52,61.29 44.88,61.50 C45.23,61.71 45.88,61.83 46.38,62.00 C46.88,62.17 47.48,62.29 47.88,62.50 C48.27,62.71 48.54,62.92 48.75,63.25 C48.96,63.58 49.15,64.04 49.12,64.50 C49.10,64.96 48.96,65.60 48.62,66.00 C48.29,66.40 47.71,66.67 47.12,66.88 C46.54,67.08 45.79,67.19 45.12,67.25 C44.46,67.31 43.75,67.31 43.12,67.25 C42.50,67.19 41.77,67.12 41.38,66.88 C40.98,66.62 40.83,66.23 40.75,65.75 C40.67,65.27 40.73,64.54 40.88,64.00 C41.02,63.46 41.35,62.92 41.62,62.50 C41.90,62.08 42.31,61.88 42.50,61.50 C42.69,61.12 42.69,60.62 42.75,60.25 C42.81,59.88 42.73,59.44 42.88,59.25Z" fill="none" stroke="#a8a8a8" stroke-width="0.4" stroke-opacity="0.9"/>
<ellipse cx="42" cy="64.5" rx="9" ry="8" fill="#b4b4b4" opacity="0.55"/>
<ellipse cx="42.5" cy="65" rx="6" ry="5" fill="#a8a8a8" opacity="0.45"/>
<ellipse cx="43.5" cy="66" rx="2" ry="1.2" fill="#fff"/>
<rect x="40.55" y="41.05" width="0.90" height="0.90" fill="#333"/>
<rect x="38.25" y="44.25" width="0.90" height="0.90" fill="#333"/>
<rect x="49.25" y="38.75" width="0.90" height="0.90" fill="#333"/>
<rect x="55.85" y="53.95" width="0.90" height="0.90" fill="#333"/>
<rect x="57.55" y="55.05" width="0.90" height="0.90" fill="#333"/>
<rect x="61.55" y="55.45" width="0.90" height="0.90" fill="#333"/>
<rect x="63.85" y="58.55" width="0.90" height="0.90" fill="#333"/>
<rect x="64.65" y="62.05" width="0.90" height="0.90" fill="#333"/>
<rect x="64.25" y="65.65" width="0.90" height="0.90" fill="#333"/>
<rect x="61.05" y="53.95" width="0.90" height="0.90" fill="#333"/>
<rect x="60.55" y="52.05" width="0.90" height="0.90" fill="#333"/>
<rect x="43.05" y="22.55" width="0.90" height="0.90" fill="#333"/>
<rect x="34.55" y="26.25" width="0.90" height="0.90" fill="#333"/>
<ellipse cx="121" cy="41.8" rx="6.3" ry="6" fill="#b2d5fa" stroke="#6aaef2" stroke-width="0.4"/>
<ellipse cx="121" cy="41.8" rx="4" ry="3.6" fill="none" stroke="#6aaef2" stroke-width="0.4"/>
<ellipse cx="121" cy="41.8" rx="1.8" ry="1.5" fill="#fff" stroke="#6aaef2" stroke-width="0.3"/>
<path d="M119.00,58.00 C120.33,57.42 122.67,57.00 125.00,56.50 C127.33,56.00 130.33,55.58 133.00,55.00 C135.67,54.42 138.50,53.25 141.00,53.00 C143.50,52.75 146.08,52.83 148.00,53.50 C149.92,54.17 151.83,55.58 152.50,57.00 C153.17,58.42 152.92,60.42 152.00,62.00 C151.08,63.58 149.17,65.33 147.00,66.50 C144.83,67.67 141.83,68.17 139.00,69.00 C136.17,69.83 132.83,70.92 130.00,71.50 C127.17,72.08 124.08,72.75 122.00,72.50 C119.92,72.25 118.42,71.42 117.50,70.00 C116.58,68.58 116.58,65.67 116.50,64.00 C116.42,62.33 116.58,61.00 117.00,60.00 C117.42,59.00 117.67,58.58 119.00,58.00Z" fill="#b2d5fa" fill-opacity="1.0" stroke="#6aaef2" stroke-width="0.4" stroke-opacity="0.9"/>
<path d="M122.00,59.10 C123.07,58.63 124.93,58.30 126.80,57.90 C128.67,57.50 131.07,57.17 133.20,56.70 C135.33,56.23 137.60,55.30 139.60,55.10 C141.60,54.90 143.67,54.97 145.20,55.50 C146.73,56.03 148.27,57.17 148.80,58.30 C149.33,59.43 149.13,61.03 148.40,62.30 C147.67,63.57 146.13,64.97 144.40,65.90 C142.67,66.83 140.27,67.23 138.00,67.90 C135.73,68.57 133.07,69.43 130.80,69.90 C128.53,70.37 126.07,70.90 124.40,70.70 C122.73,70.50 121.53,69.83 120.80,68.70 C120.07,67.57 120.07,65.23 120.00,63.90 C119.93,62.57 120.07,61.50 120.40,60.70 C120.73,59.90 120.93,59.57 122.00,59.10Z" fill="none" stroke="#6aaef2" stroke-width="0.4" stroke-opacity="0.9"/>
<path d="M125.00,60.20 C125.80,59.85 127.20,59.60 128.60,59.30 C130.00,59.00 131.80,58.75 133.40,58.40 C135.00,58.05 136.70,57.35 138.20,57.20 C139.70,57.05 141.25,57.10 142.40,57.50 C143.55,57.90 144.70,58.75 145.10,59.60 C145.50,60.45 145.35,61.65 144.80,62.60 C144.25,63.55 143.10,64.60 141.80,65.30 C140.50,66.00 138.70,66.30 137.00,66.80 C135.30,67.30 133.30,67.95 131.60,68.30 C129.90,68.65 128.05,69.05 126.80,68.90 C125.55,68.75 124.65,68.25 124.10,67.40 C123.55,66.55 123.55,64.80 123.50,63.80 C123.45,62.80 123.55,62.00 123.80,61.40 C124.05,60.80 124.20,60.55 125.00,60.20Z" fill="none" stroke="#6aaef2" stroke-width="0.4" stroke-opacity="0.9"/>
<path d="M127.70,61.19 C128.26,60.95 129.24,60.77 130.22,60.56 C131.20,60.35 132.46,60.17 133.58,59.93 C134.70,59.69 135.89,59.20 136.94,59.09 C137.99,58.98 139.07,59.02 139.88,59.30 C140.69,59.58 141.49,60.18 141.77,60.77 C142.05,61.37 141.94,62.20 141.56,62.87 C141.18,63.53 140.37,64.27 139.46,64.76 C138.55,65.25 137.29,65.46 136.10,65.81 C134.91,66.16 133.51,66.61 132.32,66.86 C131.13,67.11 129.84,67.39 128.96,67.28 C128.09,67.17 127.45,66.83 127.07,66.23 C126.68,65.64 126.69,64.41 126.65,63.71 C126.62,63.01 126.69,62.45 126.86,62.03 C127.03,61.61 127.14,61.43 127.70,61.19Z" fill="none" stroke="#6aaef2" stroke-width="0.4" stroke-opacity="0.9"/>
<path d="M130.25,62.12 C130.58,61.98 131.17,61.88 131.75,61.75 C132.33,61.62 133.08,61.52 133.75,61.38 C134.42,61.23 135.12,60.94 135.75,60.88 C136.38,60.81 137.02,60.83 137.50,61.00 C137.98,61.17 138.46,61.52 138.62,61.88 C138.79,62.23 138.73,62.73 138.50,63.12 C138.27,63.52 137.79,63.96 137.25,64.25 C136.71,64.54 135.96,64.67 135.25,64.88 C134.54,65.08 133.71,65.35 133.00,65.50 C132.29,65.65 131.52,65.81 131.00,65.75 C130.48,65.69 130.10,65.48 129.88,65.12 C129.65,64.77 129.65,64.04 129.62,63.62 C129.60,63.21 129.65,62.88 129.75,62.62 C129.85,62.38 129.92,62.27 130.25,62.12Z" fill="none" stroke="#6aaef2" stroke-width="0.4" stroke-opacity="0.9"/>
<ellipse cx="127" cy="65" rx="4.5" ry="1.8" fill="#fff" opacity="0.8" transform="rotate(-28 127 65)"/>
<ellipse cx="141" cy="59.5" rx="3" ry="1.4" fill="#fff" opacity="0.8" transform="rotate(-20 141 59.5)"/>
<rect x="120.83" y="54.12" width="1.20" height="1.20" fill="#1a7ff0"/>
<rect x="126.49" y="52.99" width="1.20" height="1.20" fill="#1a7ff0"/>
<rect x="121.49" y="54.45" width="1.20" height="1.20" fill="#1a7ff0"/>
<rect x="117.62" y="53.54" width="1.20" height="1.20" fill="#1a7ff0"/>
<rect x="122.96" y="56.92" width="1.20" height="1.20" fill="#1a7ff0"/>
<rect x="116.53" y="51.04" width="1.20" height="1.20" fill="#1a7ff0"/>
<rect x="116.49" y="57.12" width="1.20" height="1.20" fill="#1a7ff0"/>
<rect x="123.72" y="47.90" width="1.20" height="1.20" fill="#1a7ff0"/>
<rect x="127.19" y="58.98" width="1.20" height="1.20" fill="#1a7ff0"/>
<rect x="123.25" y="54.79" width="1.20" height="1.20" fill="#1a7ff0"/>
<rect x="117.29" y="47.58" width="1.20" height="1.20" fill="#1a7ff0"/>
<rect x="121.74" y="48.11" width="1.20" height="1.20" fill="#1a7ff0"/>
<rect x="117.68" y="50.30" width="1.20" height="1.20" fill="#1a7ff0"/>
<rect x="115.76" y="52.97" width="1.20" height="1.20" fill="#1a7ff0"/>
<rect x="120.69" y="57.51" width="1.20" height="1.20" fill="#1a7ff0"/>
<rect x="121.63" y="55.08" width="1.20" height="1.20" fill="#1a7ff0"/>
<rect x="121.40" y="55.35" width="1.20" height="1.20" fill="#1a7ff0"/>
<rect x="120.89" y="50.74" width="1.20" height="1.20" fill="#1a7ff0"/>
<rect x="127.37" y="59.35" width="1.20" height="1.20" fill="#1a7ff0"/>
<rect x="125.48" y="55.89" width="1.20" height="1.20" fill="#1a7ff0"/>
<rect x="119.18" y="50.16" width="1.20" height="1.20" fill="#1a7ff0"/>
<rect x="118.87" y="48.24" width="1.20" height="1.20" fill="#1a7ff0"/>
<rect x="124.60" y="52.20" width="1.20" height="1.20" fill="#1a7ff0"/>
<rect x="125.56" y="52.04" width="1.20" height="1.20" fill="#1a7ff0"/>
<rect x="126.90" y="57.57" width="1.20" height="1.20" fill="#1a7ff0"/>
<rect x="115.41" y="49.92" width="1.20" height="1.20" fill="#1a7ff0"/>
<rect x="126.32" y="53.04" width="1.20" height="1.20" fill="#1a7ff0"/>
<rect x="127.16" y="52.17" width="1.20" height="1.20" fill="#1a7ff0"/>
<rect x="116.28" y="54.95" width="1.20" height="1.20" fill="#1a7ff0"/>
<rect x="124.74" y="50.64" width="1.20" height="1.20" fill="#1a7ff0"/>
<rect x="116.45" y="51.39" width="1.20" height="1.20" fill="#1a7ff0"/>
<rect x="126.97" y="56.50" width="1.20" height="1.20" fill="#1a7ff0"/>
<rect x="116.82" y="50.36" width="1.20" height="1.20" fill="#1a7ff0"/>
<rect x="116.61" y="48.12" width="1.20" height="1.20" fill="#1a7ff0"/>
<rect x="124.96" y="49.53" width="1.20" height="1.20" fill="#1a7ff0"/>
<rect x="122.11" y="52.77" width="1.20" height="1.20" fill="#1a7ff0"/>
<rect x="117.69" y="56.18" width="1.20" height="1.20" fill="#1a7ff0"/>
<rect x="116.97" y="55.12" width="1.20" height="1.20" fill="#1a7ff0"/>
<rect x="116.80" y="52.45" width="1.20" height="1.20" fill="#1a7ff0"/>
<rect x="117.95" y="50.64" width="1.20" height="1.20" fill="#1a7ff0"/>
<rect x="127.05" y="57.04" width="1.20" height="1.20" fill="#1a7ff0"/>
<rect x="119.05" y="58.02" width="1.20" height="1.20" fill="#1a7ff0"/>
<rect x="117.93" y="52.13" width="1.20" height="1.20" fill="#1a7ff0"/>
<rect x="125.65" y="55.10" width="1.20" height="1.20" fill="#1a7ff0"/>
<rect x="116.60" y="59.27" width="1.20" height="1.20" fill="#1a7ff0"/>
<rect x="117.96" y="50.50" width="1.20" height="1.20" fill="#1a7ff0"/>
<rect x="124.67" y="51.35" width="1.20" height="1.20" fill="#1a7ff0"/>
<rect x="118.96" y="48.28" width="1.20" height="1.20" fill="#1a7ff0"/>
<rect x="116.48" y="54.39" width="1.20" height="1.20" fill="#1a7ff0"/>
<rect x="118.32" y="54.62" width="1.20" height="1.20" fill="#1a7ff0"/>
<rect x="119.86" y="52.84" width="1.20" height="1.20" fill="#1a7ff0"/>
<rect x="126.91" y="53.20" width="1.20" height="1.20" fill="#1a7ff0"/>
<rect x="122.29" y="57.80" width="1.20" height="1.20" fill="#1a7ff0"/>
<rect x="117.59" y="49.25" width="1.20" height="1.20" fill="#1a7ff0"/>
<rect x="126.30" y="57.21" width="1.20" height="1.20" fill="#1a7ff0"/>
<rect x="118.39" y="49.68" width="1.20" height="1.20" fill="#1a7ff0"/>
<rect x="124.27" y="58.68" width="1.20" height="1.20" fill="#1a7ff0"/>
<rect x="117.76" y="58.80" width="1.20" height="1.20" fill="#1a7ff0"/>
<rect x="125.99" y="54.64" width="1.20" height="1.20" fill="#1a7ff0"/>
<rect x="120.46" y="48.65" width="1.20" height="1.20" fill="#1a7ff0"/>
<rect x="150.52" y="64.63" width="1.10" height="1.10" fill="#1a7ff0"/>
<rect x="153.78" y="55.87" width="1.10" height="1.10" fill="#1a7ff0"/>
<rect x="142.63" y="59.82" width="1.10" height="1.10" fill="#1a7ff0"/>
<rect x="147.11" y="67.23" width="1.10" height="1.10" fill="#1a7ff0"/>
<rect x="154.19" y="63.67" width="1.10" height="1.10" fill="#1a7ff0"/>
<rect x="151.94" y="64.69" width="1.10" height="1.10" fill="#1a7ff0"/>
<rect x="144.92" y="60.93" width="1.10" height="1.10" fill="#1a7ff0"/>
<rect x="145.21" y="68.85" width="1.10" height="1.10" fill="#1a7ff0"/>
<rect x="143.45" y="67.37" width="1.10" height="1.10" fill="#1a7ff0"/>
<rect x="143.72" y="65.13" width="1.10" height="1.10" fill="#1a7ff0"/>
<rect x="148.18" y="60.33" width="1.10" height="1.10" fill="#1a7ff0"/>
<rect x="156.77" y="53.77" width="1.10" height="1.10" fill="#1a7ff0"/>
<rect x="143.48" y="69.01" width="1.10" height="1.10" fill="#1a7ff0"/>
<rect x="151.10" y="55.00" width="1.10" height="1.10" fill="#1a7ff0"/>
<rect x="159.23" y="69.54" width="1.10" height="1.10" fill="#1a7ff0"/>
<rect x="144.36" y="60.64" width="1.10" height="1.10" fill="#1a7ff0"/>
<rect x="144.75" y="58.76" width="1.10" height="1.10" fill="#1a7ff0"/>
<rect x="153.01" y="56.23" width="1.10" height="1.10" fill="#1a7ff0"/>
<rect x="154.30" y="54.32" width="1.10" height="1.10" fill="#1a7ff0"/>
<rect x="145.36" y="67.32" width="1.10" height="1.10" fill="#1a7ff0"/>
<rect x="149.26" y="60.57" width="1.10" height="1.10" fill="#1a7ff0"/>
<rect x="152.58" y="61.56" width="1.10" height="1.10" fill="#1a7ff0"/>
<rect x="148.99" y="53.97" width="1.10" height="1.10" fill="#1a7ff0"/>
<rect x="154.80" y="69.90" width="1.10" height="1.10" fill="#1a7ff0"/>
<rect x="159.05" y="64.73" width="1.10" height="1.10" fill="#1a7ff0"/>
<rect x="148.51" y="59.62" width="1.10" height="1.10" fill="#1a7ff0"/>
<rect x="154.18" y="64.90" width="1.10" height="1.10" fill="#1a7ff0"/>
<rect x="144.39" y="57.44" width="1.10" height="1.10" fill="#1a7ff0"/>
<rect x="148.63" y="62.14" width="1.10" height="1.10" fill="#1a7ff0"/>
<rect x="156.22" y="61.95" width="1.10" height="1.10" fill="#1a7ff0"/>
<rect x="142.93" y="67.43" width="1.10" height="1.10" fill="#1a7ff0"/>
<rect x="149.76" y="62.27" width="1.10" height="1.10" fill="#1a7ff0"/>
<rect x="146.23" y="60.71" width="1.10" height="1.10" fill="#1a7ff0"/>
<rect x="149.05" y="66.57" width="1.10" height="1.10" fill="#1a7ff0"/>
<rect x="144.19" y="62.80" width="1.10" height="1.10" fill="#1a7ff0"/>
<rect x="121.16" y="39.83" width="1.00" height="1.00" fill="#1a7ff0"/>
<rect x="128.81" y="42.79" width="1.00" height="1.00" fill="#1a7ff0"/>
<rect x="119.84" y="31.65" width="1.00" height="1.00" fill="#1a7ff0"/>
<rect x="119.15" y="31.55" width="1.00" height="1.00" fill="#1a7ff0"/>
<rect x="129.71" y="29.84" width="1.00" height="1.00" fill="#1a7ff0"/>
<rect x="126.06" y="31.35" width="1.00" height="1.00" fill="#1a7ff0"/>
<rect x="121.80" y="35.27" width="1.00" height="1.00" fill="#1a7ff0"/>
<rect x="131.58" y="38.45" width="1.00" height="1.00" fill="#1a7ff0"/>
<rect x="116.76" y="32.47" width="1.00" height="1.00" fill="#1a7ff0"/>
<rect x="119.14" y="43.18" width="1.00" height="1.00" fill="#1a7ff0"/>
<rect x="131.08" y="42.01" width="1.00" height="1.00" fill="#1a7ff0"/>
<rect x="131.37" y="40.91" width="1.00" height="1.00" fill="#1a7ff0"/>
<rect x="133.59" y="41.79" width="1.00" height="1.00" fill="#1a7ff0"/>
<rect x="121.12" y="42.80" width="1.00" height="1.00" fill="#1a7ff0"/>
<rect x="125.26" y="41.09" width="1.00" height="1.00" fill="#1a7ff0"/>
<rect x="126.65" y="35.23" width="1.00" height="1.00" fill="#1a7ff0"/>
<rect x="123.06" y="35.24" width="1.00" height="1.00" fill="#1a7ff0"/>
<rect x="122.15" y="29.61" width="1.00" height="1.00" fill="#1a7ff0"/>
<rect x="143.45" y="39.45" width="1.10" height="1.10" fill="#1a7ff0"/>
<rect x="155.45" y="38.95" width="1.10" height="1.10" fill="#1a7ff0"/>
<rect x="146.45" y="43.75" width="1.10" height="1.10" fill="#1a7ff0"/>
<rect x="146.95" y="52.45" width="1.10" height="1.10" fill="#1a7ff0"/>
<rect x="175.95" y="52.95" width="1.10" height="1.10" fill="#1a7ff0"/>
<rect x="162.45" y="67.45" width="1.10" height="1.10" fill="#1a7ff0"/>
<rect x="155.45" y="67.45" width="1.10" height="1.10" fill="#1a7ff0"/>
<rect x="116.45" y="68.45" width="1.10" height="1.10" fill="#1a7ff0"/>
<rect x="117.45" y="70.75" width="1.10" height="1.10" fill="#1a7ff0"/>
<rect x="128.95" y="25.95" width="1.10" height="1.10" fill="#1a7ff0"/>
<rect x="127.45" y="34.45" width="1.10" height="1.10" fill="#1a7ff0"/>
<ellipse cx="205.5" cy="40" rx="7.5" ry="9" fill="#f8b2b8" stroke="#f0808a" stroke-width="0.4"/>
<ellipse cx="205.5" cy="40" rx="5" ry="6" fill="none" stroke="#f0808a" stroke-width="0.4"/>
<ellipse cx="205.5" cy="40" rx="2.5" ry="3" fill="#fff" stroke="#f0808a" stroke-width="0.3"/>
<path d="M199.00,49.00 C199.75,47.33 202.17,48.00 204.00,48.00 C205.83,48.00 208.50,48.00 210.00,49.00 C211.50,50.00 212.33,52.33 213.00,54.00 C213.67,55.67 212.83,58.00 214.00,59.00 C215.17,60.00 218.00,59.33 220.00,60.00 C222.00,60.67 224.67,61.83 226.00,63.00 C227.33,64.17 228.33,65.67 228.00,67.00 C227.67,68.33 226.33,70.08 224.00,71.00 C221.67,71.92 217.33,72.25 214.00,72.50 C210.67,72.75 206.58,72.92 204.00,72.50 C201.42,72.08 199.50,71.42 198.50,70.00 C197.50,68.58 197.83,66.00 198.00,64.00 C198.17,62.00 199.33,60.50 199.50,58.00 C199.67,55.50 198.25,50.67 199.00,49.00Z" fill="#f8b2b8" fill-opacity="1.0" stroke="#f0808a" stroke-width="0.4" stroke-opacity="0.9"/>
<path d="M200.40,52.40 C201.00,51.07 202.93,51.60 204.40,51.60 C205.87,51.60 208.00,51.60 209.20,52.40 C210.40,53.20 211.07,55.07 211.60,56.40 C212.13,57.73 211.47,59.60 212.40,60.40 C213.33,61.20 215.60,60.67 217.20,61.20 C218.80,61.73 220.93,62.67 222.00,63.60 C223.07,64.53 223.87,65.73 223.60,66.80 C223.33,67.87 222.27,69.27 220.40,70.00 C218.53,70.73 215.07,71.00 212.40,71.20 C209.73,71.40 206.47,71.53 204.40,71.20 C202.33,70.87 200.80,70.33 200.00,69.20 C199.20,68.07 199.47,66.00 199.60,64.40 C199.73,62.80 200.67,61.60 200.80,59.60 C200.93,57.60 199.80,53.73 200.40,52.40Z" fill="none" stroke="#f0808a" stroke-width="0.4" stroke-opacity="0.9"/>
<path d="M201.80,55.80 C202.25,54.80 203.70,55.20 204.80,55.20 C205.90,55.20 207.50,55.20 208.40,55.80 C209.30,56.40 209.80,57.80 210.20,58.80 C210.60,59.80 210.10,61.20 210.80,61.80 C211.50,62.40 213.20,62.00 214.40,62.40 C215.60,62.80 217.20,63.50 218.00,64.20 C218.80,64.90 219.40,65.80 219.20,66.60 C219.00,67.40 218.20,68.45 216.80,69.00 C215.40,69.55 212.80,69.75 210.80,69.90 C208.80,70.05 206.35,70.15 204.80,69.90 C203.25,69.65 202.10,69.25 201.50,68.40 C200.90,67.55 201.10,66.00 201.20,64.80 C201.30,63.60 202.00,62.70 202.10,61.20 C202.20,59.70 201.35,56.80 201.80,55.80Z" fill="none" stroke="#f0808a" stroke-width="0.4" stroke-opacity="0.9"/>
<path d="M203.06,58.86 C203.38,58.16 204.39,58.44 205.16,58.44 C205.93,58.44 207.05,58.44 207.68,58.86 C208.31,59.28 208.66,60.26 208.94,60.96 C209.22,61.66 208.87,62.64 209.36,63.06 C209.85,63.48 211.04,63.20 211.88,63.48 C212.72,63.76 213.84,64.25 214.40,64.74 C214.96,65.23 215.38,65.86 215.24,66.42 C215.10,66.98 214.54,67.71 213.56,68.10 C212.58,68.48 210.76,68.62 209.36,68.73 C207.96,68.84 206.25,68.91 205.16,68.73 C204.07,68.56 203.27,68.28 202.85,67.68 C202.43,67.09 202.57,66.00 202.64,65.16 C202.71,64.32 203.20,63.69 203.27,62.64 C203.34,61.59 202.75,59.56 203.06,58.86Z" fill="none" stroke="#f0808a" stroke-width="0.4" stroke-opacity="0.9"/>
<path d="M204.25,61.75 C204.44,61.33 205.04,61.50 205.50,61.50 C205.96,61.50 206.62,61.50 207.00,61.75 C207.38,62.00 207.58,62.58 207.75,63.00 C207.92,63.42 207.71,64.00 208.00,64.25 C208.29,64.50 209.00,64.33 209.50,64.50 C210.00,64.67 210.67,64.96 211.00,65.25 C211.33,65.54 211.58,65.92 211.50,66.25 C211.42,66.58 211.08,67.02 210.50,67.25 C209.92,67.48 208.83,67.56 208.00,67.62 C207.17,67.69 206.15,67.73 205.50,67.62 C204.85,67.52 204.38,67.35 204.12,67.00 C203.88,66.65 203.96,66.00 204.00,65.50 C204.04,65.00 204.33,64.62 204.38,64.00 C204.42,63.38 204.06,62.17 204.25,61.75Z" fill="none" stroke="#f0808a" stroke-width="0.4" stroke-opacity="0.9"/>
<ellipse cx="206" cy="66" rx="3" ry="1.2" fill="#fff" opacity="0.9"/>
<rect x="213.15" y="44.85" width="1.00" height="1.00" fill="#e8101c"/>
<rect x="217.85" y="41.69" width="1.00" height="1.00" fill="#e8101c"/>
<rect x="213.66" y="46.39" width="1.00" height="1.00" fill="#e8101c"/>
<rect x="219.58" y="42.19" width="1.00" height="1.00" fill="#e8101c"/>
<rect x="216.55" y="38.04" width="1.00" height="1.00" fill="#e8101c"/>
<rect x="211.53" y="40.07" width="1.00" height="1.00" fill="#e8101c"/>
<rect x="217.35" y="35.54" width="1.00" height="1.00" fill="#e8101c"/>
<rect x="219.44" y="37.98" width="1.00" height="1.00" fill="#e8101c"/>
<rect x="213.83" y="35.14" width="1.00" height="1.00" fill="#e8101c"/>
<rect x="221.48" y="45.58" width="1.00" height="1.00" fill="#e8101c"/>
<rect x="220.25" y="43.74" width="1.00" height="1.00" fill="#e8101c"/>
<rect x="211.84" y="39.43" width="1.00" height="1.00" fill="#e8101c"/>
<rect x="216.48" y="36.24" width="1.00" height="1.00" fill="#e8101c"/>
<rect x="221.02" y="40.03" width="1.00" height="1.00" fill="#e8101c"/>
<rect x="213.05" y="46.76" width="1.00" height="1.00" fill="#e8101c"/>
<rect x="212.75" y="48.42" width="1.00" height="1.00" fill="#e8101c"/>
<rect x="216.03" y="42.78" width="1.00" height="1.00" fill="#e8101c"/>
<rect x="214.93" y="41.77" width="1.00" height="1.00" fill="#e8101c"/>
<rect x="213.37" y="35.06" width="1.00" height="1.00" fill="#e8101c"/>
<rect x="220.16" y="38.02" width="1.00" height="1.00" fill="#e8101c"/>
<rect x="219.30" y="37.63" width="1.00" height="1.00" fill="#e8101c"/>
<rect x="221.19" y="47.91" width="1.00" height="1.00" fill="#e8101c"/>
<rect x="219.05" y="45.94" width="1.00" height="1.00" fill="#e8101c"/>
<rect x="217.31" y="45.45" width="1.00" height="1.00" fill="#e8101c"/>
<rect x="212.72" y="41.64" width="1.00" height="1.00" fill="#e8101c"/>
<rect x="219.77" y="37.52" width="1.00" height="1.00" fill="#e8101c"/>
<rect x="220.73" y="47.81" width="1.00" height="1.00" fill="#e8101c"/>
<rect x="215.60" y="39.98" width="1.00" height="1.00" fill="#e8101c"/>
<rect x="216.01" y="40.29" width="1.00" height="1.00" fill="#e8101c"/>
<rect x="221.45" y="40.30" width="1.00" height="1.00" fill="#e8101c"/>
<rect x="234.66" y="57.89" width="1.00" height="1.00" fill="#e8101c"/>
<rect x="215.97" y="72.48" width="1.00" height="1.00" fill="#e8101c"/>
<rect x="219.19" y="57.55" width="1.00" height="1.00" fill="#e8101c"/>
<rect x="228.53" y="61.38" width="1.00" height="1.00" fill="#e8101c"/>
<rect x="233.29" y="59.44" width="1.00" height="1.00" fill="#e8101c"/>
<rect x="234.69" y="60.93" width="1.00" height="1.00" fill="#e8101c"/>
<rect x="227.52" y="71.35" width="1.00" height="1.00" fill="#e8101c"/>
<rect x="229.21" y="71.21" width="1.00" height="1.00" fill="#e8101c"/>
<rect x="229.66" y="56.32" width="1.00" height="1.00" fill="#e8101c"/>
<rect x="233.13" y="65.52" width="1.00" height="1.00" fill="#e8101c"/>
<rect x="221.71" y="58.73" width="1.00" height="1.00" fill="#e8101c"/>
<rect x="232.50" y="65.41" width="1.00" height="1.00" fill="#e8101c"/>
<rect x="234.26" y="68.66" width="1.00" height="1.00" fill="#e8101c"/>
<rect x="234.72" y="65.13" width="1.00" height="1.00" fill="#e8101c"/>
<rect x="229.47" y="65.91" width="1.00" height="1.00" fill="#e8101c"/>
<rect x="220.67" y="71.76" width="1.00" height="1.00" fill="#e8101c"/>
<rect x="221.75" y="68.78" width="1.00" height="1.00" fill="#e8101c"/>
<rect x="234.59" y="66.56" width="1.00" height="1.00" fill="#e8101c"/>
<rect x="218.34" y="69.53" width="1.00" height="1.00" fill="#e8101c"/>
<rect x="228.85" y="58.65" width="1.00" height="1.00" fill="#e8101c"/>
<rect x="216.48" y="64.54" width="1.00" height="1.00" fill="#e8101c"/>
<rect x="216.15" y="71.23" width="1.00" height="1.00" fill="#e8101c"/>
<rect x="225.63" y="64.29" width="1.00" height="1.00" fill="#e8101c"/>
<rect x="223.69" y="66.74" width="1.00" height="1.00" fill="#e8101c"/>
<rect x="233.83" y="60.72" width="1.00" height="1.00" fill="#e8101c"/>
<rect x="222.98" y="65.40" width="1.00" height="1.00" fill="#e8101c"/>
<rect x="221.45" y="65.63" width="1.00" height="1.00" fill="#e8101c"/>
<rect x="226.36" y="62.87" width="1.00" height="1.00" fill="#e8101c"/>
<rect x="228.96" y="64.48" width="1.00" height="1.00" fill="#e8101c"/>
<rect x="217.26" y="72.44" width="1.00" height="1.00" fill="#e8101c"/>
<rect x="222.61" y="62.84" width="1.00" height="1.00" fill="#e8101c"/>
<rect x="223.56" y="71.30" width="1.00" height="1.00" fill="#e8101c"/>
<rect x="234.54" y="64.20" width="1.00" height="1.00" fill="#e8101c"/>
<rect x="223.51" y="57.14" width="1.00" height="1.00" fill="#e8101c"/>
<rect x="233.41" y="58.41" width="1.00" height="1.00" fill="#e8101c"/>
<rect x="226.43" y="61.44" width="1.00" height="1.00" fill="#e8101c"/>
<rect x="222.07" y="61.57" width="1.00" height="1.00" fill="#e8101c"/>
<rect x="219.33" y="56.13" width="1.00" height="1.00" fill="#e8101c"/>
<rect x="226.21" y="69.03" width="1.00" height="1.00" fill="#e8101c"/>
<rect x="228.44" y="58.93" width="1.00" height="1.00" fill="#e8101c"/>
<rect x="201.12" y="71.42" width="1.00" height="1.00" fill="#e8101c"/>
<rect x="200.96" y="53.25" width="1.00" height="1.00" fill="#e8101c"/>
<rect x="199.46" y="60.40" width="1.00" height="1.00" fill="#e8101c"/>
<rect x="199.15" y="54.24" width="1.00" height="1.00" fill="#e8101c"/>
<rect x="197.46" y="60.84" width="1.00" height="1.00" fill="#e8101c"/>
<rect x="197.61" y="61.06" width="1.00" height="1.00" fill="#e8101c"/>
<rect x="196.62" y="53.30" width="1.00" height="1.00" fill="#e8101c"/>
<rect x="200.05" y="60.35" width="1.00" height="1.00" fill="#e8101c"/>
<rect x="199.06" y="66.92" width="1.00" height="1.00" fill="#e8101c"/>
<rect x="198.29" y="52.71" width="1.00" height="1.00" fill="#e8101c"/>
<rect x="200.42" y="63.87" width="1.00" height="1.00" fill="#e8101c"/>
<rect x="199.79" y="64.54" width="1.00" height="1.00" fill="#e8101c"/>
<rect x="201.35" y="59.12" width="1.00" height="1.00" fill="#e8101c"/>
<rect x="200.30" y="59.24" width="1.00" height="1.00" fill="#e8101c"/>
<rect x="199.36" y="65.37" width="1.00" height="1.00" fill="#e8101c"/>
<rect x="198.07" y="53.30" width="1.00" height="1.00" fill="#e8101c"/>
<rect x="198.87" y="66.58" width="1.00" height="1.00" fill="#e8101c"/>
<rect x="199.45" y="60.90" width="1.00" height="1.00" fill="#e8101c"/>
<rect x="212.45" y="21.45" width="1.10" height="1.10" fill="#e8101c"/>
<rect x="223.45" y="33.45" width="1.10" height="1.10" fill="#e8101c"/>
<rect x="230.95" y="34.45" width="1.10" height="1.10" fill="#e8101c"/>
<rect x="223.45" y="37.95" width="1.10" height="1.10" fill="#e8101c"/>
<rect x="240.95" y="59.45" width="1.10" height="1.10" fill="#e8101c"/>
<rect x="227.45" y="52.45" width="1.10" height="1.10" fill="#e8101c"/>
<rect x="199.45" y="28.45" width="1.10" height="1.10" fill="#e8101c"/>
<rect x="202.45" y="27.45" width="1.10" height="1.10" fill="#e8101c"/>
<rect x="206.45" y="27.45" width="1.10" height="1.10" fill="#e8101c"/>
<line x1="50.50" y1="15.60" x2="50.50" y2="87.50" stroke="#555" stroke-width="0.9" />
<line x1="21.40" y1="49.10" x2="95.30" y2="49.10" stroke="#555" stroke-width="0.9" />
<line x1="132.50" y1="15.60" x2="132.50" y2="87.50" stroke="#555" stroke-width="0.9" />
<line x1="103.40" y1="49.10" x2="177.30" y2="49.10" stroke="#555" stroke-width="0.9" />
<line x1="215.30" y1="15.60" x2="215.30" y2="87.50" stroke="#555" stroke-width="0.9" />
<line x1="185.40" y1="49.10" x2="259.40" y2="49.10" stroke="#555" stroke-width="0.9" />
<text x="22.90" y="26.81" font-size="6.7" text-anchor="start" font-weight="normal" fill="#111" >4.88</text>
<text x="88.60" y="26.81" font-size="6.7" text-anchor="start" font-weight="normal" fill="#111" >0</text>
<text x="22.80" y="81.61" font-size="6.7" text-anchor="start" font-weight="normal" fill="#111" >70.1</text>
<text x="73.60" y="81.61" font-size="6.7" text-anchor="start" font-weight="normal" fill="#111" >25.0</text>
<text x="104.90" y="26.81" font-size="6.7" text-anchor="start" font-weight="normal" fill="#111" >16.5</text>
<text x="155.70" y="26.81" font-size="6.7" text-anchor="start" font-weight="normal" fill="#111" >0.21</text>
<text x="105.20" y="81.61" font-size="6.7" text-anchor="start" font-weight="normal" fill="#111" >31.8</text>
<text x="156.00" y="81.61" font-size="6.7" text-anchor="start" font-weight="normal" fill="#111" >51.5</text>
<text x="187.20" y="26.81" font-size="6.7" text-anchor="start" font-weight="normal" fill="#111" >40.0</text>
<text x="238.00" y="26.81" font-size="6.7" text-anchor="start" font-weight="normal" fill="#111" >0.87</text>
<text x="187.20" y="81.61" font-size="6.7" text-anchor="start" font-weight="normal" fill="#111" >43.1</text>
<text x="238.90" y="81.61" font-size="6.7" text-anchor="start" font-weight="normal" fill="#111" >16.0</text>
<line x1="12.30" y1="94.60" x2="12.30" y2="59.00" stroke="#111" stroke-width="0.8" />
<path d="M10.80,59.50 L12.30,56.50 L13.80,59.50Z" fill="#111"/>
<line x1="12.30" y1="94.60" x2="49.30" y2="94.60" stroke="#111" stroke-width="0.8" />
<path d="M48.80,93.10 L51.80,94.60 L48.80,96.10Z" fill="#111"/>
<text transform="translate(15.98,44.50) rotate(-90)" font-size="8.0" text-anchor="middle" fill="#111" >CD8</text>
<text x="57.00" y="97.48" font-size="8.0" text-anchor="start" font-weight="normal" fill="#111" >CD4</text>
<rect x="169.50" y="90.10" width="92.40" height="9.80" fill="#6ab04c" stroke="none" stroke-width="1" />
<text x="215.70" y="97.84" font-size="7.9" text-anchor="middle" font-weight="normal" fill="#111" >T cells in primary tumors</text>
<rect x="21.30" y="250.00" width="74.00" height="71.70" fill="none" stroke="#9a9a9a" stroke-width="0.9" />
<text x="58.30" y="246.14" font-size="7.9" text-anchor="middle" font-weight="normal" fill="#111" >Saline</text>
<rect x="102.40" y="250.00" width="74.00" height="71.70" fill="none" stroke="#9a9a9a" stroke-width="0.9" />
<text x="139.40" y="246.14" font-size="7.9" text-anchor="middle" font-weight="normal" fill="#111" >HNP + US</text>
<rect x="184.40" y="250.00" width="74.10" height="71.70" fill="none" stroke="#9a9a9a" stroke-width="0.9" />
<text x="221.45" y="246.14" font-size="7.9" text-anchor="middle" font-weight="normal" fill="#111" >HPNP + US</text>
<path d="M64.00,273.50 C65.67,273.25 67.92,273.25 69.00,274.00 C70.08,274.75 70.83,276.17 70.50,278.00 C70.17,279.83 68.58,282.83 67.00,285.00 C65.42,287.17 62.83,289.17 61.00,291.00 C59.17,292.83 57.25,294.33 56.00,296.00 C54.75,297.67 54.42,299.25 53.50,301.00 C52.58,302.75 51.67,305.58 50.50,306.50 C49.33,307.42 47.50,307.42 46.50,306.50 C45.50,305.58 44.58,302.92 44.50,301.00 C44.42,299.08 45.17,297.08 46.00,295.00 C46.83,292.92 48.08,290.92 49.50,288.50 C50.92,286.08 52.92,282.67 54.50,280.50 C56.08,278.33 57.42,276.67 59.00,275.50 C60.58,274.33 62.33,273.75 64.00,273.50Z" fill="#e0e0e0" fill-opacity="1.0" stroke="#9a9a9a" stroke-width="0.4" stroke-opacity="0.9"/>
<path d="M62.80,275.60 C64.13,275.40 65.93,275.40 66.80,276.00 C67.67,276.60 68.27,277.73 68.00,279.20 C67.73,280.67 66.47,283.07 65.20,284.80 C63.93,286.53 61.87,288.13 60.40,289.60 C58.93,291.07 57.40,292.27 56.40,293.60 C55.40,294.93 55.13,296.20 54.40,297.60 C53.67,299.00 52.93,301.27 52.00,302.00 C51.07,302.73 49.60,302.73 48.80,302.00 C48.00,301.27 47.27,299.13 47.20,297.60 C47.13,296.07 47.73,294.47 48.40,292.80 C49.07,291.13 50.07,289.53 51.20,287.60 C52.33,285.67 53.93,282.93 55.20,281.20 C56.47,279.47 57.53,278.13 58.80,277.20 C60.07,276.27 61.47,275.80 62.80,275.60Z" fill="none" stroke="#9a9a9a" stroke-width="0.4" stroke-opacity="0.9"/>
<path d="M61.72,277.49 C62.75,277.34 64.15,277.34 64.82,277.80 C65.49,278.26 65.96,279.14 65.75,280.28 C65.54,281.42 64.56,283.28 63.58,284.62 C62.60,285.96 61.00,287.20 59.86,288.34 C58.72,289.48 57.53,290.41 56.76,291.44 C55.98,292.47 55.78,293.46 55.21,294.54 C54.64,295.62 54.07,297.38 53.35,297.95 C52.63,298.52 51.49,298.52 50.87,297.95 C50.25,297.38 49.68,295.73 49.63,294.54 C49.58,293.35 50.04,292.11 50.56,290.82 C51.08,289.53 51.85,288.29 52.73,286.79 C53.61,285.29 54.85,283.17 55.83,281.83 C56.81,280.49 57.64,279.45 58.62,278.73 C59.60,278.01 60.69,277.64 61.72,277.49Z" fill="none" stroke="#9a9a9a" stroke-width="0.4" stroke-opacity="0.9"/>
<path d="M60.70,279.27 C61.45,279.16 62.46,279.16 62.95,279.50 C63.44,279.84 63.77,280.48 63.62,281.30 C63.48,282.12 62.76,283.48 62.05,284.45 C61.34,285.42 60.17,286.32 59.35,287.15 C58.53,287.97 57.66,288.65 57.10,289.40 C56.54,290.15 56.39,290.86 55.98,291.65 C55.56,292.44 55.15,293.71 54.62,294.12 C54.10,294.54 53.28,294.54 52.83,294.12 C52.38,293.71 51.96,292.51 51.92,291.65 C51.89,290.79 52.23,289.89 52.60,288.95 C52.98,288.01 53.54,287.11 54.17,286.02 C54.81,284.94 55.71,283.40 56.42,282.43 C57.14,281.45 57.74,280.70 58.45,280.18 C59.16,279.65 59.95,279.39 60.70,279.27Z" fill="none" stroke="#9a9a9a" stroke-width="0.4" stroke-opacity="0.9"/>
<path d="M59.80,280.85 C60.30,280.78 60.97,280.77 61.30,281.00 C61.62,281.23 61.85,281.65 61.75,282.20 C61.65,282.75 61.18,283.65 60.70,284.30 C60.23,284.95 59.45,285.55 58.90,286.10 C58.35,286.65 57.77,287.10 57.40,287.60 C57.02,288.10 56.92,288.58 56.65,289.10 C56.38,289.62 56.10,290.48 55.75,290.75 C55.40,291.02 54.85,291.02 54.55,290.75 C54.25,290.48 53.98,289.68 53.95,289.10 C53.93,288.53 54.15,287.93 54.40,287.30 C54.65,286.68 55.03,286.08 55.45,285.35 C55.88,284.62 56.48,283.60 56.95,282.95 C57.43,282.30 57.82,281.80 58.30,281.45 C58.77,281.10 59.30,280.93 59.80,280.85Z" fill="none" stroke="#9a9a9a" stroke-width="0.4" stroke-opacity="0.9"/>
<ellipse cx="59.5" cy="282" rx="10.5" ry="6.2" fill="#9a9a9a" opacity="0.55" transform="rotate(-48 59.5 282)"/>
<ellipse cx="59.5" cy="282" rx="7.5" ry="4" fill="none" stroke="#808080" stroke-width="0.4" transform="rotate(-48 59.5 282)"/>
<ellipse cx="60" cy="281" rx="3.2" ry="1" fill="#fff" transform="rotate(-50 60 281)"/>
<ellipse cx="51.5" cy="300" rx="2.3" ry="2" fill="#fff"/>
<rect x="70.50" y="274.00" width="1.00" height="1.00" fill="#333"/>
<rect x="72.00" y="274.10" width="1.00" height="1.00" fill="#333"/>
<rect x="72.00" y="276.50" width="1.00" height="1.00" fill="#333"/>
<rect x="60.00" y="298.00" width="1.00" height="1.00" fill="#333"/>
<rect x="58.50" y="302.00" width="1.00" height="1.00" fill="#333"/>
<rect x="59.00" y="303.00" width="1.00" height="1.00" fill="#333"/>
<rect x="63.00" y="304.00" width="1.00" height="1.00" fill="#333"/>
<path d="M143.00,282.00 C144.58,281.83 145.17,282.00 145.50,283.00 C145.83,284.00 145.75,286.00 145.00,288.00 C144.25,290.00 142.17,292.83 141.00,295.00 C139.83,297.17 138.83,299.33 138.00,301.00 C137.17,302.67 137.00,304.33 136.00,305.00 C135.00,305.67 133.25,305.67 132.00,305.00 C130.75,304.33 129.08,302.67 128.50,301.00 C127.92,299.33 128.08,297.00 128.50,295.00 C128.92,293.00 129.75,290.83 131.00,289.00 C132.25,287.17 134.00,285.17 136.00,284.00 C138.00,282.83 141.42,282.17 143.00,282.00Z" fill="#b2d5fa" fill-opacity="1.0" stroke="#6aaef2" stroke-width="0.35" stroke-opacity="0.9"/>
<path d="M141.68,284.42 C142.92,284.29 143.37,284.42 143.63,285.20 C143.89,285.98 143.83,287.54 143.24,289.10 C142.66,290.66 141.03,292.87 140.12,294.56 C139.21,296.25 138.43,297.94 137.78,299.24 C137.13,300.54 137.00,301.84 136.22,302.36 C135.44,302.88 134.07,302.88 133.10,302.36 C132.12,301.84 130.82,300.54 130.37,299.24 C129.92,297.94 130.05,296.12 130.37,294.56 C130.69,293.00 131.34,291.31 132.32,289.88 C133.29,288.45 134.66,286.89 136.22,285.98 C137.78,285.07 140.44,284.55 141.68,284.42Z" fill="none" stroke="#6aaef2" stroke-width="0.35" stroke-opacity="0.9"/>
<path d="M140.48,286.62 C141.40,286.52 141.74,286.62 141.93,287.20 C142.12,287.78 142.07,288.94 141.64,290.10 C141.20,291.26 140.00,292.90 139.32,294.16 C138.64,295.42 138.06,296.67 137.58,297.64 C137.10,298.61 137.00,299.57 136.42,299.96 C135.84,300.35 134.82,300.35 134.10,299.96 C133.38,299.57 132.41,298.61 132.07,297.64 C131.73,296.67 131.83,295.32 132.07,294.16 C132.31,293.00 132.80,291.74 133.52,290.68 C134.25,289.62 135.26,288.46 136.42,287.78 C137.58,287.10 139.56,286.72 140.48,286.62Z" fill="none" stroke="#6aaef2" stroke-width="0.35" stroke-opacity="0.9"/>
<path d="M139.40,288.60 C140.03,288.53 140.27,288.60 140.40,289.00 C140.53,289.40 140.50,290.20 140.20,291.00 C139.90,291.80 139.07,292.93 138.60,293.80 C138.13,294.67 137.73,295.53 137.40,296.20 C137.07,296.87 137.00,297.53 136.60,297.80 C136.20,298.07 135.50,298.07 135.00,297.80 C134.50,297.53 133.83,296.87 133.60,296.20 C133.37,295.53 133.43,294.60 133.60,293.80 C133.77,293.00 134.10,292.13 134.60,291.40 C135.10,290.67 135.80,289.87 136.60,289.40 C137.40,288.93 138.77,288.67 139.40,288.60Z" fill="none" stroke="#6aaef2" stroke-width="0.35" stroke-opacity="0.9"/>
<ellipse cx="137" cy="291" rx="1" ry="3" fill="#fff" transform="rotate(30 137 291)"/>
<rect x="149.00" y="278.00" width="1.00" height="1.00" fill="#1a7ff0"/>
<rect x="131.50" y="301.50" width="1.00" height="1.00" fill="#1a7ff0"/>
<rect x="132.50" y="303.00" width="1.00" height="1.00" fill="#1a7ff0"/>
<rect x="134.00" y="303.50" width="1.00" height="1.00" fill="#1a7ff0"/>
<rect x="135.50" y="304.00" width="1.00" height="1.00" fill="#1a7ff0"/>
<rect x="136.00" y="302.50" width="1.00" height="1.00" fill="#1a7ff0"/>
<rect x="139.50" y="297.50" width="1.00" height="1.00" fill="#1a7ff0"/>
<rect x="142.50" y="299.00" width="1.00" height="1.00" fill="#1a7ff0"/>
<path d="M222.00,279.50 C223.33,279.33 225.08,279.25 226.00,280.00 C226.92,280.75 227.83,282.33 227.50,284.00 C227.17,285.67 225.08,288.00 224.00,290.00 C222.92,292.00 221.33,294.00 221.00,296.00 C220.67,298.00 222.17,300.00 222.00,302.00 C221.83,304.00 221.17,306.50 220.00,308.00 C218.83,309.50 216.67,311.00 215.00,311.00 C213.33,311.00 211.08,309.83 210.00,308.00 C208.92,306.17 208.50,302.67 208.50,300.00 C208.50,297.33 209.08,294.50 210.00,292.00 C210.92,289.50 212.67,286.83 214.00,285.00 C215.33,283.17 216.67,281.92 218.00,281.00 C219.33,280.08 220.67,279.67 222.00,279.50Z" fill="#f8b2b8" fill-opacity="1.0" stroke="#f0808a" stroke-width="0.35" stroke-opacity="0.9"/>
<path d="M220.68,283.13 C221.72,283.00 223.09,282.94 223.80,283.52 C224.52,284.10 225.23,285.34 224.97,286.64 C224.71,287.94 223.09,289.76 222.24,291.32 C221.40,292.88 220.16,294.44 219.90,296.00 C219.64,297.56 220.81,299.12 220.68,300.68 C220.55,302.24 220.03,304.19 219.12,305.36 C218.21,306.53 216.52,307.70 215.22,307.70 C213.92,307.70 212.16,306.79 211.32,305.36 C210.47,303.93 210.15,301.20 210.15,299.12 C210.15,297.04 210.60,294.83 211.32,292.88 C212.03,290.93 213.40,288.85 214.44,287.42 C215.48,285.99 216.52,285.01 217.56,284.30 C218.60,283.59 219.64,283.26 220.68,283.13Z" fill="none" stroke="#f0808a" stroke-width="0.35" stroke-opacity="0.9"/>
<path d="M219.48,286.43 C220.25,286.33 221.27,286.29 221.80,286.72 C222.33,287.16 222.86,288.07 222.67,289.04 C222.48,290.01 221.27,291.36 220.64,292.52 C220.01,293.68 219.09,294.84 218.90,296.00 C218.71,297.16 219.58,298.32 219.48,299.48 C219.38,300.64 219.00,302.09 218.32,302.96 C217.64,303.83 216.39,304.70 215.42,304.70 C214.45,304.70 213.15,304.02 212.52,302.96 C211.89,301.90 211.65,299.87 211.65,298.32 C211.65,296.77 211.99,295.13 212.52,293.68 C213.05,292.23 214.07,290.68 214.84,289.62 C215.61,288.56 216.39,287.83 217.16,287.30 C217.93,286.77 218.71,286.53 219.48,286.43Z" fill="none" stroke="#f0808a" stroke-width="0.35" stroke-opacity="0.9"/>
<path d="M218.40,289.40 C218.93,289.33 219.63,289.30 220.00,289.60 C220.37,289.90 220.73,290.53 220.60,291.20 C220.47,291.87 219.63,292.80 219.20,293.60 C218.77,294.40 218.13,295.20 218.00,296.00 C217.87,296.80 218.47,297.60 218.40,298.40 C218.33,299.20 218.07,300.20 217.60,300.80 C217.13,301.40 216.27,302.00 215.60,302.00 C214.93,302.00 214.03,301.53 213.60,300.80 C213.17,300.07 213.00,298.67 213.00,297.60 C213.00,296.53 213.23,295.40 213.60,294.40 C213.97,293.40 214.67,292.33 215.20,291.60 C215.73,290.87 216.27,290.37 216.80,290.00 C217.33,289.63 217.87,289.47 218.40,289.40Z" fill="none" stroke="#f0808a" stroke-width="0.35" stroke-opacity="0.9"/>
<path d="M217.32,292.37 C217.61,292.33 218.00,292.31 218.20,292.48 C218.40,292.65 218.60,292.99 218.53,293.36 C218.46,293.73 218.00,294.24 217.76,294.68 C217.52,295.12 217.17,295.56 217.10,296.00 C217.03,296.44 217.36,296.88 217.32,297.32 C217.28,297.76 217.14,298.31 216.88,298.64 C216.62,298.97 216.15,299.30 215.78,299.30 C215.41,299.30 214.92,299.04 214.68,298.64 C214.44,298.24 214.35,297.47 214.35,296.88 C214.35,296.29 214.48,295.67 214.68,295.12 C214.88,294.57 215.27,293.98 215.56,293.58 C215.85,293.18 216.15,292.90 216.44,292.70 C216.73,292.50 217.03,292.41 217.32,292.37Z" fill="none" stroke="#f0808a" stroke-width="0.35" stroke-opacity="0.9"/>
<ellipse cx="215" cy="300" rx="1.4" ry="3.5" fill="#fff" transform="rotate(15 215 300)"/>
<rect x="211.45" y="282.95" width="1.10" height="1.10" fill="#e8101c"/>
<rect x="224.45" y="296.95" width="1.10" height="1.10" fill="#e8101c"/>
<rect x="224.95" y="300.95" width="1.10" height="1.10" fill="#e8101c"/>
<rect x="41.60" y="264.50" width="37.20" height="28.20" fill="none" stroke="#555" stroke-width="0.8" />
<rect x="123.00" y="264.50" width="37.80" height="28.20" fill="none" stroke="#555" stroke-width="0.8" />
<rect x="204.50" y="264.50" width="37.40" height="28.20" fill="none" stroke="#555" stroke-width="0.8" />
<text x="22.80" y="261.01" font-size="6.7" text-anchor="start" font-weight="normal" fill="#111" >82.2</text>
<text x="103.90" y="261.01" font-size="6.7" text-anchor="start" font-weight="normal" fill="#111" >72.5</text>
<text x="185.90" y="261.01" font-size="6.7" text-anchor="start" font-weight="normal" fill="#111" >35.2</text>
<line x1="12.30" y1="328.80" x2="12.30" y2="293.30" stroke="#111" stroke-width="0.8" />
<path d="M10.80,293.80 L12.30,290.80 L13.80,293.80Z" fill="#111"/>
<line x1="12.30" y1="328.80" x2="49.60" y2="328.80" stroke="#111" stroke-width="0.8" />
<path d="M49.10,327.30 L52.10,328.80 L49.10,330.30Z" fill="#111"/>
<text transform="translate(15.98,275.30) rotate(-90)" font-size="8.0" text-anchor="middle" fill="#111" >Foxp3</text>
<text x="57.00" y="331.68" font-size="8.0" text-anchor="start" font-weight="normal" fill="#111" >CD4</text>
<rect x="172.90" y="324.40" width="88.80" height="9.40" fill="#6ab04c" stroke="none" stroke-width="1" />
<text x="217.30" y="331.94" font-size="7.9" text-anchor="middle" font-weight="normal" fill="#111" >Tregs in primary tumors</text>
<rect x="21.30" y="366.50" width="73.70" height="71.90" fill="none" stroke="#9a9a9a" stroke-width="0.9" />
<text x="58.15" y="361.74" font-size="7.9" text-anchor="middle" font-weight="normal" fill="#111" >Saline</text>
<rect x="102.40" y="366.50" width="73.30" height="71.90" fill="none" stroke="#9a9a9a" stroke-width="0.9" />
<text x="139.05" y="361.74" font-size="7.9" text-anchor="middle" font-weight="normal" fill="#111" >HNP + US</text>
<rect x="184.40" y="366.50" width="73.60" height="71.90" fill="none" stroke="#9a9a9a" stroke-width="0.9" />
<text x="221.20" y="361.74" font-size="7.9" text-anchor="middle" font-weight="normal" fill="#111" >HPNP + US</text>
<path d="M61.00,368.00 C62.50,368.00 64.50,368.67 66.00,369.50 C67.50,370.33 69.00,371.58 70.00,373.00 C71.00,374.42 71.50,375.83 72.00,378.00 C72.50,380.17 72.83,383.00 73.00,386.00 C73.17,389.00 73.25,393.00 73.00,396.00 C72.75,399.00 72.17,401.67 71.50,404.00 C70.83,406.33 69.92,408.17 69.00,410.00 C68.08,411.83 67.17,413.42 66.00,415.00 C64.83,416.58 63.67,418.08 62.00,419.50 C60.33,420.92 58.33,422.67 56.00,423.50 C53.67,424.33 50.33,424.75 48.00,424.50 C45.67,424.25 43.17,423.42 42.00,422.00 C40.83,420.58 40.83,418.33 41.00,416.00 C41.17,413.67 42.50,411.00 43.00,408.00 C43.50,405.00 43.50,401.33 44.00,398.00 C44.50,394.67 45.17,391.00 46.00,388.00 C46.83,385.00 47.83,382.50 49.00,380.00 C50.17,377.50 51.67,374.75 53.00,373.00 C54.33,371.25 55.67,370.33 57.00,369.50 C58.33,368.67 59.50,368.00 61.00,368.00Z" fill="#464646"/>
<rect x="53.25" y="405.96" width="0.84" height="0.84" fill="#ffffff"/>
<rect x="48.26" y="410.00" width="0.84" height="0.84" fill="#ffffff"/>
<rect x="45.64" y="409.07" width="0.84" height="0.84" fill="#ffffff"/>
<rect x="61.61" y="375.97" width="0.84" height="0.84" fill="#ffffff"/>
<rect x="57.69" y="393.02" width="0.84" height="0.84" fill="#ffffff"/>
<rect x="70.23" y="390.56" width="0.84" height="0.84" fill="#ffffff"/>
<rect x="47.22" y="386.58" width="0.84" height="0.84" fill="#ffffff"/>
<rect x="52.39" y="420.82" width="0.84" height="0.84" fill="#ffffff"/>
<rect x="59.22" y="398.48" width="0.84" height="0.84" fill="#ffffff"/>
<rect x="52.09" y="379.65" width="0.84" height="0.84" fill="#ffffff"/>
<rect x="68.01" y="404.17" width="0.84" height="0.84" fill="#ffffff"/>
<rect x="47.84" y="412.14" width="0.84" height="0.84" fill="#ffffff"/>
<rect x="63.71" y="379.10" width="0.84" height="0.84" fill="#ffffff"/>
<rect x="60.95" y="380.49" width="0.84" height="0.84" fill="#ffffff"/>
<rect x="51.44" y="390.19" width="0.84" height="0.84" fill="#ffffff"/>
<rect x="61.14" y="414.31" width="0.84" height="0.84" fill="#ffffff"/>
<rect x="50.57" y="378.14" width="0.84" height="0.84" fill="#ffffff"/>
<rect x="60.42" y="398.39" width="0.84" height="0.84" fill="#ffffff"/>
<rect x="62.00" y="373.61" width="0.84" height="0.84" fill="#ffffff"/>
<rect x="47.04" y="418.96" width="0.84" height="0.84" fill="#ffffff"/>
<rect x="59.73" y="406.59" width="0.84" height="0.84" fill="#ffffff"/>
<rect x="69.31" y="404.07" width="0.84" height="0.84" fill="#ffffff"/>
<rect x="55.18" y="412.35" width="0.84" height="0.84" fill="#ffffff"/>
<rect x="54.86" y="411.72" width="0.84" height="0.84" fill="#ffffff"/>
<rect x="58.49" y="374.95" width="0.84" height="0.84" fill="#ffffff"/>
<rect x="51.47" y="407.58" width="0.84" height="0.84" fill="#ffffff"/>
<rect x="67.57" y="394.55" width="0.84" height="0.84" fill="#ffffff"/>
<rect x="56.52" y="411.69" width="0.84" height="0.84" fill="#ffffff"/>
<rect x="49.69" y="388.89" width="0.84" height="0.84" fill="#ffffff"/>
<rect x="60.08" y="403.35" width="0.84" height="0.84" fill="#ffffff"/>
<rect x="45.34" y="408.22" width="0.84" height="0.84" fill="#ffffff"/>
<rect x="64.88" y="382.44" width="0.84" height="0.84" fill="#ffffff"/>
<rect x="52.71" y="383.96" width="0.84" height="0.84" fill="#ffffff"/>
<rect x="44.94" y="415.90" width="0.84" height="0.84" fill="#ffffff"/>
<rect x="66.54" y="384.85" width="0.84" height="0.84" fill="#ffffff"/>
<rect x="46.77" y="393.41" width="0.84" height="0.84" fill="#ffffff"/>
<rect x="62.63" y="397.22" width="0.84" height="0.84" fill="#ffffff"/>
<rect x="67.75" y="390.48" width="0.84" height="0.84" fill="#ffffff"/>
<rect x="57.33" y="407.78" width="0.84" height="0.84" fill="#ffffff"/>
<rect x="55.39" y="407.78" width="0.84" height="0.84" fill="#ffffff"/>
<rect x="55.55" y="375.80" width="0.84" height="0.84" fill="#ffffff"/>
<rect x="44.89" y="411.40" width="0.84" height="0.84" fill="#ffffff"/>
<rect x="62.48" y="400.25" width="0.84" height="0.84" fill="#ffffff"/>
<rect x="46.22" y="415.24" width="0.84" height="0.84" fill="#ffffff"/>
<rect x="50.60" y="391.80" width="0.84" height="0.84" fill="#ffffff"/>
<rect x="63.13" y="398.16" width="0.84" height="0.84" fill="#ffffff"/>
<rect x="48.59" y="411.16" width="0.84" height="0.84" fill="#ffffff"/>
<rect x="63.88" y="413.82" width="0.84" height="0.84" fill="#ffffff"/>
<rect x="68.85" y="382.67" width="0.84" height="0.84" fill="#ffffff"/>
<rect x="47.33" y="413.08" width="0.84" height="0.84" fill="#ffffff"/>
<rect x="52.35" y="390.47" width="0.84" height="0.84" fill="#ffffff"/>
<rect x="66.44" y="389.53" width="0.84" height="0.84" fill="#ffffff"/>
<rect x="51.79" y="406.73" width="0.84" height="0.84" fill="#ffffff"/>
<rect x="52.49" y="410.74" width="0.84" height="0.84" fill="#ffffff"/>
<rect x="60.46" y="394.76" width="0.84" height="0.84" fill="#ffffff"/>
<rect x="56.58" y="419.75" width="0.84" height="0.84" fill="#ffffff"/>
<rect x="50.28" y="394.45" width="0.84" height="0.84" fill="#ffffff"/>
<rect x="52.85" y="410.00" width="0.84" height="0.84" fill="#ffffff"/>
<rect x="50.39" y="418.49" width="0.84" height="0.84" fill="#ffffff"/>
<rect x="59.04" y="390.59" width="0.84" height="0.84" fill="#ffffff"/>
<rect x="65.18" y="381.26" width="0.84" height="0.84" fill="#ffffff"/>
<rect x="59.85" y="414.87" width="0.84" height="0.84" fill="#ffffff"/>
<rect x="57.85" y="386.00" width="0.84" height="0.84" fill="#ffffff"/>
<rect x="44.04" y="399.94" width="0.84" height="0.84" fill="#ffffff"/>
<rect x="46.88" y="388.93" width="0.84" height="0.84" fill="#ffffff"/>
<rect x="57.90" y="420.06" width="0.84" height="0.84" fill="#ffffff"/>
<rect x="61.96" y="396.94" width="0.84" height="0.84" fill="#ffffff"/>
<rect x="67.70" y="385.39" width="0.84" height="0.84" fill="#ffffff"/>
<rect x="53.09" y="405.59" width="0.84" height="0.84" fill="#ffffff"/>
<rect x="58.26" y="380.63" width="0.84" height="0.84" fill="#ffffff"/>
<rect x="53.81" y="413.61" width="0.84" height="0.84" fill="#ffffff"/>
<rect x="48.58" y="407.16" width="0.84" height="0.84" fill="#ffffff"/>
<rect x="42.55" y="420.80" width="0.84" height="0.84" fill="#ffffff"/>
<rect x="62.29" y="386.22" width="0.84" height="0.84" fill="#ffffff"/>
<rect x="53.75" y="397.99" width="0.84" height="0.84" fill="#ffffff"/>
<rect x="54.73" y="376.23" width="0.84" height="0.84" fill="#ffffff"/>
<rect x="41.78" y="412.48" width="0.84" height="0.84" fill="#ffffff"/>
<rect x="54.72" y="394.79" width="0.84" height="0.84" fill="#ffffff"/>
<rect x="55.90" y="406.06" width="0.84" height="0.84" fill="#ffffff"/>
<rect x="63.63" y="387.05" width="0.84" height="0.84" fill="#ffffff"/>
<rect x="58.73" y="418.34" width="0.84" height="0.84" fill="#ffffff"/>
<rect x="51.06" y="389.81" width="0.84" height="0.84" fill="#ffffff"/>
<rect x="54.03" y="420.24" width="0.84" height="0.84" fill="#ffffff"/>
<rect x="62.30" y="414.45" width="0.84" height="0.84" fill="#ffffff"/>
<rect x="55.06" y="390.48" width="0.84" height="0.84" fill="#ffffff"/>
<rect x="66.41" y="408.78" width="0.84" height="0.84" fill="#ffffff"/>
<rect x="69.31" y="391.94" width="0.84" height="0.84" fill="#ffffff"/>
<rect x="58.32" y="411.49" width="0.84" height="0.84" fill="#ffffff"/>
<rect x="55.14" y="376.00" width="0.84" height="0.84" fill="#ffffff"/>
<rect x="59.23" y="416.23" width="0.84" height="0.84" fill="#ffffff"/>
<rect x="68.08" y="375.34" width="0.84" height="0.84" fill="#ffffff"/>
<rect x="52.89" y="381.01" width="0.84" height="0.84" fill="#ffffff"/>
<rect x="51.64" y="421.07" width="0.84" height="0.84" fill="#ffffff"/>
<rect x="54.13" y="385.65" width="0.84" height="0.84" fill="#ffffff"/>
<rect x="49.52" y="392.61" width="0.84" height="0.84" fill="#ffffff"/>
<rect x="61.85" y="387.25" width="0.84" height="0.84" fill="#ffffff"/>
<rect x="49.13" y="418.15" width="0.84" height="0.84" fill="#ffffff"/>
<rect x="46.32" y="409.80" width="0.84" height="0.84" fill="#ffffff"/>
<rect x="44.42" y="411.55" width="0.84" height="0.84" fill="#ffffff"/>
<rect x="49.32" y="411.21" width="0.84" height="0.84" fill="#ffffff"/>
<rect x="54.47" y="372.77" width="0.84" height="0.84" fill="#ffffff"/>
<rect x="43.99" y="412.32" width="0.84" height="0.84" fill="#ffffff"/>
<rect x="57.88" y="395.11" width="0.84" height="0.84" fill="#ffffff"/>
<rect x="51.99" y="406.37" width="0.84" height="0.84" fill="#ffffff"/>
<rect x="56.03" y="371.88" width="0.84" height="0.84" fill="#ffffff"/>
<rect x="59.71" y="385.67" width="0.84" height="0.84" fill="#ffffff"/>
<rect x="67.34" y="398.57" width="0.84" height="0.84" fill="#ffffff"/>
<rect x="65.08" y="375.07" width="0.84" height="0.84" fill="#ffffff"/>
<rect x="63.01" y="401.94" width="0.84" height="0.84" fill="#ffffff"/>
<rect x="58.18" y="400.93" width="0.84" height="0.84" fill="#ffffff"/>
<rect x="64.87" y="382.94" width="0.84" height="0.84" fill="#ffffff"/>
<rect x="57.97" y="411.60" width="0.84" height="0.84" fill="#ffffff"/>
<rect x="59.51" y="398.21" width="0.84" height="0.84" fill="#ffffff"/>
<rect x="60.10" y="376.62" width="0.84" height="0.84" fill="#ffffff"/>
<rect x="71.16" y="394.49" width="0.84" height="0.84" fill="#ffffff"/>
<rect x="57.64" y="413.28" width="0.84" height="0.84" fill="#ffffff"/>
<rect x="68.06" y="376.28" width="0.84" height="0.84" fill="#ffffff"/>
<rect x="55.13" y="378.37" width="0.84" height="0.84" fill="#ffffff"/>
<rect x="55.35" y="375.78" width="0.84" height="0.84" fill="#ffffff"/>
<rect x="68.28" y="387.98" width="0.84" height="0.84" fill="#ffffff"/>
<rect x="53.14" y="417.67" width="0.84" height="0.84" fill="#ffffff"/>
<rect x="66.62" y="386.90" width="0.84" height="0.84" fill="#ffffff"/>
<rect x="56.58" y="404.83" width="0.84" height="0.84" fill="#ffffff"/>
<rect x="67.68" y="377.36" width="0.84" height="0.84" fill="#ffffff"/>
<rect x="63.03" y="408.93" width="0.84" height="0.84" fill="#ffffff"/>
<rect x="59.42" y="387.43" width="0.84" height="0.84" fill="#ffffff"/>
<rect x="43.27" y="417.66" width="0.84" height="0.84" fill="#ffffff"/>
<rect x="60.82" y="384.34" width="0.84" height="0.84" fill="#ffffff"/>
<rect x="51.85" y="378.34" width="0.84" height="0.84" fill="#ffffff"/>
<rect x="50.30" y="413.48" width="0.84" height="0.84" fill="#ffffff"/>
<rect x="57.02" y="377.35" width="0.84" height="0.84" fill="#ffffff"/>
<rect x="45.52" y="421.88" width="0.84" height="0.84" fill="#ffffff"/>
<rect x="67.81" y="407.13" width="0.84" height="0.84" fill="#ffffff"/>
<rect x="68.98" y="386.32" width="0.84" height="0.84" fill="#ffffff"/>
<rect x="48.80" y="416.15" width="0.84" height="0.84" fill="#ffffff"/>
<rect x="59.88" y="419.09" width="0.84" height="0.84" fill="#ffffff"/>
<rect x="52.20" y="391.12" width="0.84" height="0.84" fill="#ffffff"/>
<rect x="69.73" y="399.60" width="0.84" height="0.84" fill="#ffffff"/>
<rect x="45.67" y="406.36" width="0.84" height="0.84" fill="#ffffff"/>
<rect x="61.23" y="374.25" width="0.84" height="0.84" fill="#ffffff"/>
<rect x="69.44" y="404.65" width="0.84" height="0.84" fill="#ffffff"/>
<rect x="56.29" y="387.34" width="0.84" height="0.84" fill="#ffffff"/>
<rect x="46.04" y="394.12" width="0.84" height="0.84" fill="#ffffff"/>
<rect x="52.41" y="381.25" width="0.84" height="0.84" fill="#ffffff"/>
<rect x="61.12" y="404.75" width="0.84" height="0.84" fill="#ffffff"/>
<rect x="55.52" y="407.73" width="0.84" height="0.84" fill="#ffffff"/>
<rect x="52.70" y="392.24" width="0.84" height="0.84" fill="#ffffff"/>
<rect x="51.50" y="412.59" width="0.84" height="0.84" fill="#ffffff"/>
<rect x="70.56" y="394.35" width="0.84" height="0.84" fill="#ffffff"/>
<rect x="59.30" y="405.79" width="0.84" height="0.84" fill="#ffffff"/>
<rect x="65.17" y="393.87" width="0.84" height="0.84" fill="#ffffff"/>
<rect x="58.11" y="410.54" width="0.84" height="0.84" fill="#ffffff"/>
<rect x="70.34" y="383.92" width="0.84" height="0.84" fill="#ffffff"/>
<rect x="71.24" y="383.77" width="0.84" height="0.84" fill="#ffffff"/>
<rect x="55.11" y="377.18" width="0.84" height="0.84" fill="#ffffff"/>
<rect x="59.77" y="389.95" width="0.84" height="0.84" fill="#ffffff"/>
<rect x="45.03" y="404.51" width="0.84" height="0.84" fill="#ffffff"/>
<rect x="59.73" y="383.51" width="0.84" height="0.84" fill="#ffffff"/>
<rect x="42.15" y="419.94" width="0.84" height="0.84" fill="#ffffff"/>
<rect x="62.64" y="402.74" width="0.84" height="0.84" fill="#ffffff"/>
<rect x="44.24" y="417.80" width="0.84" height="0.84" fill="#ffffff"/>
<rect x="53.45" y="393.98" width="0.84" height="0.84" fill="#ffffff"/>
<rect x="58.33" y="392.92" width="0.84" height="0.84" fill="#ffffff"/>
<rect x="70.66" y="394.10" width="0.84" height="0.84" fill="#ffffff"/>
<rect x="62.09" y="410.84" width="0.84" height="0.84" fill="#ffffff"/>
<rect x="70.02" y="377.82" width="0.84" height="0.84" fill="#ffffff"/>
<rect x="51.60" y="420.54" width="0.84" height="0.84" fill="#ffffff"/>
<rect x="59.87" y="388.90" width="0.84" height="0.84" fill="#ffffff"/>
<rect x="68.42" y="374.99" width="0.84" height="0.84" fill="#ffffff"/>
<rect x="61.87" y="395.16" width="0.84" height="0.84" fill="#ffffff"/>
<rect x="50.51" y="392.57" width="0.84" height="0.84" fill="#ffffff"/>
<rect x="48.92" y="407.35" width="0.84" height="0.84" fill="#ffffff"/>
<rect x="64.64" y="389.39" width="0.84" height="0.84" fill="#ffffff"/>
<rect x="58.62" y="376.89" width="0.84" height="0.84" fill="#ffffff"/>
<rect x="44.70" y="399.08" width="0.84" height="0.84" fill="#ffffff"/>
<rect x="66.83" y="384.32" width="0.84" height="0.84" fill="#ffffff"/>
<rect x="44.86" y="410.55" width="0.84" height="0.84" fill="#ffffff"/>
<rect x="57.81" y="416.90" width="0.84" height="0.84" fill="#ffffff"/>
<rect x="48.02" y="394.27" width="0.84" height="0.84" fill="#ffffff"/>
<rect x="62.38" y="380.90" width="0.84" height="0.84" fill="#ffffff"/>
<rect x="57.27" y="413.69" width="0.84" height="0.84" fill="#ffffff"/>
<rect x="66.38" y="406.66" width="0.84" height="0.84" fill="#ffffff"/>
<rect x="59.84" y="382.14" width="0.84" height="0.84" fill="#ffffff"/>
<rect x="69.58" y="399.79" width="0.84" height="0.84" fill="#ffffff"/>
<rect x="59.77" y="416.31" width="0.84" height="0.84" fill="#ffffff"/>
<rect x="62.50" y="389.98" width="0.84" height="0.84" fill="#ffffff"/>
<rect x="59.24" y="372.98" width="0.84" height="0.84" fill="#ffffff"/>
<rect x="48.92" y="387.31" width="0.84" height="0.84" fill="#ffffff"/>
<rect x="65.73" y="404.73" width="0.84" height="0.84" fill="#ffffff"/>
<rect x="59.80" y="390.13" width="0.84" height="0.84" fill="#ffffff"/>
<rect x="51.98" y="389.56" width="0.84" height="0.84" fill="#ffffff"/>
<rect x="48.79" y="395.81" width="0.84" height="0.84" fill="#ffffff"/>
<rect x="64.17" y="379.45" width="0.84" height="0.84" fill="#ffffff"/>
<rect x="52.12" y="400.62" width="0.84" height="0.84" fill="#ffffff"/>
<rect x="46.89" y="418.32" width="0.84" height="0.84" fill="#ffffff"/>
<rect x="41.65" y="416.76" width="0.84" height="0.84" fill="#ffffff"/>
<rect x="61.83" y="390.26" width="0.84" height="0.84" fill="#ffffff"/>
<rect x="50.01" y="416.07" width="0.84" height="0.84" fill="#ffffff"/>
<rect x="63.15" y="380.02" width="0.84" height="0.84" fill="#ffffff"/>
<rect x="60.57" y="391.70" width="0.84" height="0.84" fill="#ffffff"/>
<rect x="50.92" y="407.06" width="0.84" height="0.84" fill="#ffffff"/>
<rect x="66.12" y="399.10" width="0.84" height="0.84" fill="#ffffff"/>
<rect x="63.32" y="415.78" width="0.84" height="0.84" fill="#ffffff"/>
<rect x="52.09" y="408.67" width="0.84" height="0.84" fill="#ffffff"/>
<rect x="51.49" y="410.35" width="0.84" height="0.84" fill="#ffffff"/>
<rect x="49.05" y="420.35" width="0.84" height="0.84" fill="#ffffff"/>
<rect x="54.57" y="400.84" width="0.84" height="0.84" fill="#ffffff"/>
<rect x="60.57" y="413.51" width="0.84" height="0.84" fill="#ffffff"/>
<rect x="58.55" y="380.08" width="0.84" height="0.84" fill="#ffffff"/>
<rect x="54.74" y="399.32" width="0.84" height="0.84" fill="#ffffff"/>
<rect x="43.31" y="413.92" width="0.84" height="0.84" fill="#ffffff"/>
<rect x="50.60" y="418.93" width="0.84" height="0.84" fill="#ffffff"/>
<rect x="52.61" y="420.60" width="0.84" height="0.84" fill="#ffffff"/>
<rect x="63.47" y="390.02" width="0.84" height="0.84" fill="#ffffff"/>
<rect x="43.69" y="400.44" width="0.84" height="0.84" fill="#ffffff"/>
<rect x="50.61" y="390.78" width="0.84" height="0.84" fill="#ffffff"/>
<rect x="62.95" y="394.41" width="0.84" height="0.84" fill="#ffffff"/>
<rect x="60.07" y="409.14" width="0.84" height="0.84" fill="#ffffff"/>
<rect x="66.99" y="374.28" width="0.84" height="0.84" fill="#ffffff"/>
<rect x="66.78" y="409.21" width="0.84" height="0.84" fill="#ffffff"/>
<rect x="56.14" y="383.61" width="0.84" height="0.84" fill="#ffffff"/>
<rect x="46.35" y="421.79" width="0.84" height="0.84" fill="#ffffff"/>
<rect x="58.02" y="381.54" width="0.84" height="0.84" fill="#ffffff"/>
<rect x="69.33" y="391.40" width="0.84" height="0.84" fill="#ffffff"/>
<rect x="71.62" y="396.49" width="0.84" height="0.84" fill="#ffffff"/>
<rect x="41.57" y="413.10" width="0.84" height="0.84" fill="#ffffff"/>
<rect x="51.23" y="408.40" width="0.84" height="0.84" fill="#ffffff"/>
<rect x="67.18" y="390.53" width="0.84" height="0.84" fill="#ffffff"/>
<rect x="56.91" y="408.02" width="0.84" height="0.84" fill="#ffffff"/>
<rect x="61.00" y="388.37" width="0.84" height="0.84" fill="#ffffff"/>
<rect x="60.95" y="410.89" width="0.84" height="0.84" fill="#ffffff"/>
<rect x="54.70" y="408.57" width="0.84" height="0.84" fill="#ffffff"/>
<rect x="58.42" y="415.17" width="0.84" height="0.84" fill="#ffffff"/>
<rect x="58.14" y="405.36" width="0.84" height="0.84" fill="#ffffff"/>
<rect x="59.68" y="379.61" width="0.84" height="0.84" fill="#ffffff"/>
<rect x="43.45" y="413.41" width="0.84" height="0.84" fill="#ffffff"/>
<rect x="62.55" y="396.46" width="0.84" height="0.84" fill="#ffffff"/>
<rect x="69.42" y="378.46" width="0.84" height="0.84" fill="#ffffff"/>
<rect x="63.80" y="396.07" width="0.84" height="0.84" fill="#ffffff"/>
<rect x="65.18" y="394.69" width="0.84" height="0.84" fill="#ffffff"/>
<rect x="50.40" y="394.99" width="0.84" height="0.84" fill="#ffffff"/>
<rect x="52.45" y="381.15" width="0.84" height="0.84" fill="#ffffff"/>
<rect x="61.49" y="369.75" width="0.84" height="0.84" fill="#ffffff"/>
<rect x="55.75" y="419.32" width="0.84" height="0.84" fill="#ffffff"/>
<rect x="64.54" y="404.44" width="0.84" height="0.84" fill="#ffffff"/>
<rect x="49.45" y="420.32" width="0.84" height="0.84" fill="#ffffff"/>
<rect x="68.80" y="395.56" width="0.84" height="0.84" fill="#ffffff"/>
<rect x="45.27" y="397.68" width="0.84" height="0.84" fill="#ffffff"/>
<rect x="48.69" y="407.84" width="0.84" height="0.84" fill="#ffffff"/>
<rect x="64.62" y="401.43" width="0.84" height="0.84" fill="#ffffff"/>
<rect x="49.88" y="418.15" width="0.84" height="0.84" fill="#ffffff"/>
<rect x="48.98" y="415.51" width="0.84" height="0.84" fill="#ffffff"/>
<rect x="68.64" y="397.61" width="0.84" height="0.84" fill="#ffffff"/>
<rect x="52.11" y="399.93" width="0.84" height="0.84" fill="#ffffff"/>
<rect x="66.04" y="371.07" width="0.84" height="0.84" fill="#ffffff"/>
<rect x="64.17" y="374.51" width="0.84" height="0.84" fill="#ffffff"/>
<rect x="52.12" y="419.30" width="0.84" height="0.84" fill="#ffffff"/>
<rect x="53.11" y="418.58" width="0.84" height="0.84" fill="#ffffff"/>
<rect x="46.56" y="393.58" width="0.84" height="0.84" fill="#ffffff"/>
<rect x="49.17" y="384.71" width="0.84" height="0.84" fill="#ffffff"/>
<rect x="56.26" y="376.09" width="0.84" height="0.84" fill="#ffffff"/>
<rect x="45.85" y="421.92" width="0.84" height="0.84" fill="#ffffff"/>
<rect x="64.73" y="401.21" width="0.84" height="0.84" fill="#ffffff"/>
<rect x="60.35" y="402.17" width="0.84" height="0.84" fill="#ffffff"/>
<rect x="52.72" y="383.22" width="0.84" height="0.84" fill="#ffffff"/>
<rect x="60.78" y="418.58" width="0.84" height="0.84" fill="#ffffff"/>
<rect x="51.91" y="396.45" width="0.84" height="0.84" fill="#ffffff"/>
<rect x="51.92" y="415.65" width="0.84" height="0.84" fill="#ffffff"/>
<rect x="71.94" y="385.09" width="0.84" height="0.84" fill="#ffffff"/>
<rect x="67.61" y="383.87" width="0.84" height="0.84" fill="#ffffff"/>
<rect x="71.20" y="390.83" width="0.84" height="0.84" fill="#ffffff"/>
<rect x="62.36" y="407.10" width="0.84" height="0.84" fill="#ffffff"/>
<rect x="59.14" y="371.31" width="0.84" height="0.84" fill="#ffffff"/>
<rect x="61.74" y="412.49" width="0.84" height="0.84" fill="#ffffff"/>
<rect x="61.00" y="417.96" width="0.84" height="0.84" fill="#ffffff"/>
<rect x="52.12" y="396.28" width="0.84" height="0.84" fill="#ffffff"/>
<rect x="71.44" y="392.69" width="0.84" height="0.84" fill="#ffffff"/>
<rect x="55.57" y="417.11" width="0.84" height="0.84" fill="#ffffff"/>
<rect x="65.80" y="370.92" width="0.84" height="0.84" fill="#ffffff"/>
<rect x="53.85" y="397.64" width="0.84" height="0.84" fill="#ffffff"/>
<rect x="48.42" y="410.40" width="0.84" height="0.84" fill="#ffffff"/>
<rect x="60.29" y="415.00" width="0.84" height="0.84" fill="#ffffff"/>
<rect x="50.54" y="396.84" width="0.84" height="0.84" fill="#ffffff"/>
<rect x="48.96" y="396.65" width="0.84" height="0.84" fill="#ffffff"/>
<rect x="66.70" y="398.17" width="0.84" height="0.84" fill="#ffffff"/>
<rect x="69.01" y="396.97" width="0.84" height="0.84" fill="#ffffff"/>
<rect x="67.75" y="401.88" width="0.84" height="0.84" fill="#ffffff"/>
<rect x="56.45" y="419.96" width="0.84" height="0.84" fill="#ffffff"/>
<rect x="52.27" y="422.04" width="0.84" height="0.84" fill="#ffffff"/>
<rect x="43.96" y="398.05" width="0.84" height="0.84" fill="#ffffff"/>
<rect x="50.85" y="413.31" width="0.84" height="0.84" fill="#ffffff"/>
<rect x="71.30" y="379.80" width="0.84" height="0.84" fill="#ffffff"/>
<rect x="66.70" y="400.94" width="0.84" height="0.84" fill="#ffffff"/>
<rect x="63.76" y="407.22" width="0.84" height="0.84" fill="#ffffff"/>
<rect x="48.41" y="389.63" width="0.84" height="0.84" fill="#ffffff"/>
<rect x="52.99" y="407.02" width="0.84" height="0.84" fill="#ffffff"/>
<rect x="57.75" y="387.66" width="0.84" height="0.84" fill="#ffffff"/>
<rect x="59.54" y="406.19" width="0.84" height="0.84" fill="#ffffff"/>
<rect x="60.81" y="411.52" width="0.84" height="0.84" fill="#ffffff"/>
<rect x="63.66" y="393.06" width="0.84" height="0.84" fill="#ffffff"/>
<rect x="59.40" y="405.97" width="0.84" height="0.84" fill="#ffffff"/>
<rect x="53.69" y="401.73" width="0.84" height="0.84" fill="#ffffff"/>
<rect x="68.24" y="382.21" width="0.84" height="0.84" fill="#ffffff"/>
<rect x="53.77" y="398.61" width="0.84" height="0.84" fill="#ffffff"/>
<rect x="46.79" y="406.91" width="0.84" height="0.84" fill="#ffffff"/>
<rect x="67.49" y="392.27" width="0.84" height="0.84" fill="#ffffff"/>
<rect x="54.12" y="389.03" width="0.84" height="0.84" fill="#ffffff"/>
<rect x="51.26" y="386.25" width="0.84" height="0.84" fill="#ffffff"/>
<rect x="58.77" y="391.29" width="0.84" height="0.84" fill="#ffffff"/>
<rect x="59.82" y="392.08" width="0.84" height="0.84" fill="#ffffff"/>
<rect x="63.22" y="408.45" width="0.84" height="0.84" fill="#ffffff"/>
<rect x="52.85" y="406.75" width="0.84" height="0.84" fill="#ffffff"/>
<rect x="48.61" y="413.16" width="0.84" height="0.84" fill="#ffffff"/>
<rect x="58.90" y="381.15" width="0.84" height="0.84" fill="#ffffff"/>
<rect x="47.60" y="389.79" width="0.84" height="0.84" fill="#ffffff"/>
<rect x="51.79" y="404.90" width="0.84" height="0.84" fill="#ffffff"/>
<rect x="51.17" y="393.32" width="0.84" height="0.84" fill="#ffffff"/>
<rect x="49.77" y="398.08" width="0.84" height="0.84" fill="#ffffff"/>
<rect x="68.60" y="387.84" width="0.84" height="0.84" fill="#ffffff"/>
<rect x="51.09" y="394.34" width="0.84" height="0.84" fill="#ffffff"/>
<rect x="70.51" y="396.24" width="0.84" height="0.84" fill="#ffffff"/>
<rect x="71.54" y="385.35" width="0.84" height="0.84" fill="#ffffff"/>
<rect x="58.20" y="402.98" width="0.84" height="0.84" fill="#ffffff"/>
<rect x="63.40" y="414.36" width="0.84" height="0.84" fill="#ffffff"/>
<rect x="44.34" y="410.92" width="0.84" height="0.84" fill="#ffffff"/>
<rect x="56.39" y="395.53" width="0.84" height="0.84" fill="#ffffff"/>
<rect x="42.17" y="412.35" width="0.84" height="0.84" fill="#ffffff"/>
<rect x="71.73" y="395.01" width="0.84" height="0.84" fill="#ffffff"/>
<rect x="62.82" y="412.37" width="0.84" height="0.84" fill="#ffffff"/>
<rect x="53.79" y="416.11" width="0.84" height="0.84" fill="#ffffff"/>
<rect x="51.48" y="386.58" width="0.84" height="0.84" fill="#ffffff"/>
<rect x="68.95" y="396.13" width="0.84" height="0.84" fill="#ffffff"/>
<rect x="54.38" y="412.96" width="0.84" height="0.84" fill="#ffffff"/>
<rect x="54.46" y="385.55" width="0.84" height="0.84" fill="#ffffff"/>
<rect x="51.82" y="400.40" width="0.84" height="0.84" fill="#ffffff"/>
<rect x="62.71" y="395.66" width="0.84" height="0.84" fill="#ffffff"/>
<rect x="48.53" y="404.26" width="0.84" height="0.84" fill="#ffffff"/>
<rect x="67.38" y="404.40" width="0.84" height="0.84" fill="#ffffff"/>
<rect x="60.90" y="392.03" width="0.84" height="0.84" fill="#ffffff"/>
<rect x="64.43" y="372.78" width="0.84" height="0.84" fill="#ffffff"/>
<rect x="44.18" y="402.08" width="0.84" height="0.84" fill="#ffffff"/>
<rect x="50.61" y="411.12" width="0.84" height="0.84" fill="#ffffff"/>
<rect x="46.17" y="395.81" width="0.84" height="0.84" fill="#ffffff"/>
<rect x="53.84" y="381.24" width="0.84" height="0.84" fill="#ffffff"/>
<rect x="51.33" y="378.94" width="0.84" height="0.84" fill="#ffffff"/>
<rect x="50.45" y="392.72" width="0.84" height="0.84" fill="#ffffff"/>
<rect x="53.23" y="404.64" width="0.84" height="0.84" fill="#ffffff"/>
<rect x="68.35" y="396.15" width="0.84" height="0.84" fill="#ffffff"/>
<rect x="47.26" y="396.42" width="0.84" height="0.84" fill="#ffffff"/>
<rect x="45.73" y="414.58" width="0.84" height="0.84" fill="#ffffff"/>
<rect x="69.84" y="400.36" width="0.84" height="0.84" fill="#ffffff"/>
<rect x="46.62" y="414.36" width="0.84" height="0.84" fill="#ffffff"/>
<rect x="43.45" y="406.56" width="0.84" height="0.84" fill="#ffffff"/>
<rect x="46.11" y="409.99" width="0.84" height="0.84" fill="#ffffff"/>
<rect x="47.14" y="420.61" width="0.84" height="0.84" fill="#ffffff"/>
<rect x="69.25" y="405.51" width="0.84" height="0.84" fill="#ffffff"/>
<rect x="50.66" y="380.62" width="0.84" height="0.84" fill="#ffffff"/>
<rect x="58.52" y="409.90" width="0.84" height="0.84" fill="#ffffff"/>
<rect x="68.98" y="403.44" width="0.84" height="0.84" fill="#ffffff"/>
<rect x="54.64" y="418.53" width="0.84" height="0.84" fill="#ffffff"/>
<rect x="46.32" y="419.09" width="0.84" height="0.84" fill="#ffffff"/>
<rect x="71.54" y="398.10" width="0.84" height="0.84" fill="#ffffff"/>
<rect x="64.19" y="402.32" width="0.84" height="0.84" fill="#ffffff"/>
<rect x="62.72" y="405.75" width="0.84" height="0.84" fill="#ffffff"/>
<rect x="62.49" y="405.60" width="0.84" height="0.84" fill="#ffffff"/>
<rect x="56.08" y="378.81" width="0.84" height="0.84" fill="#ffffff"/>
<rect x="51.42" y="386.37" width="0.84" height="0.84" fill="#ffffff"/>
<rect x="62.39" y="375.81" width="0.84" height="0.84" fill="#ffffff"/>
<rect x="62.54" y="394.36" width="0.84" height="0.84" fill="#ffffff"/>
<rect x="69.70" y="391.63" width="0.84" height="0.84" fill="#ffffff"/>
<rect x="64.26" y="376.42" width="0.84" height="0.84" fill="#ffffff"/>
<rect x="45.50" y="415.17" width="0.84" height="0.84" fill="#ffffff"/>
<rect x="66.55" y="381.85" width="0.84" height="0.84" fill="#ffffff"/>
<rect x="54.13" y="410.29" width="0.84" height="0.84" fill="#ffffff"/>
<rect x="43.63" y="405.90" width="0.84" height="0.84" fill="#ffffff"/>
<rect x="44.70" y="413.28" width="0.84" height="0.84" fill="#ffffff"/>
<rect x="66.38" y="395.57" width="0.84" height="0.84" fill="#ffffff"/>
<rect x="54.21" y="417.02" width="0.84" height="0.84" fill="#ffffff"/>
<rect x="67.37" y="384.82" width="0.84" height="0.84" fill="#ffffff"/>
<rect x="62.27" y="380.58" width="0.84" height="0.84" fill="#ffffff"/>
<rect x="57.61" y="399.19" width="0.84" height="0.84" fill="#ffffff"/>
<rect x="49.90" y="409.23" width="0.84" height="0.84" fill="#ffffff"/>
<rect x="70.56" y="387.03" width="0.84" height="0.84" fill="#ffffff"/>
<rect x="45.66" y="411.34" width="0.84" height="0.84" fill="#ffffff"/>
<rect x="65.94" y="392.64" width="0.84" height="0.84" fill="#ffffff"/>
<rect x="62.40" y="390.63" width="0.84" height="0.84" fill="#ffffff"/>
<rect x="50.48" y="408.42" width="0.84" height="0.84" fill="#ffffff"/>
<rect x="65.59" y="373.01" width="0.84" height="0.84" fill="#ffffff"/>
<rect x="62.95" y="394.93" width="0.84" height="0.84" fill="#ffffff"/>
<rect x="63.76" y="403.53" width="0.84" height="0.84" fill="#ffffff"/>
<rect x="47.19" y="398.33" width="0.84" height="0.84" fill="#ffffff"/>
<rect x="54.89" y="419.90" width="0.84" height="0.84" fill="#ffffff"/>
<rect x="50.87" y="403.52" width="0.84" height="0.84" fill="#ffffff"/>
<rect x="64.45" y="412.73" width="0.84" height="0.84" fill="#ffffff"/>
<rect x="59.27" y="386.96" width="0.84" height="0.84" fill="#ffffff"/>
<rect x="44.57" y="404.27" width="0.84" height="0.84" fill="#ffffff"/>
<rect x="71.37" y="390.54" width="0.84" height="0.84" fill="#ffffff"/>
<rect x="50.78" y="390.26" width="0.84" height="0.84" fill="#ffffff"/>
<rect x="66.87" y="391.75" width="0.84" height="0.84" fill="#ffffff"/>
<rect x="57.65" y="388.54" width="0.84" height="0.84" fill="#ffffff"/>
<rect x="55.47" y="411.78" width="0.84" height="0.84" fill="#ffffff"/>
<rect x="62.15" y="376.97" width="0.84" height="0.84" fill="#ffffff"/>
<rect x="49.29" y="404.32" width="0.84" height="0.84" fill="#ffffff"/>
<rect x="56.84" y="397.95" width="0.84" height="0.84" fill="#ffffff"/>
<rect x="54.72" y="417.86" width="0.84" height="0.84" fill="#ffffff"/>
<rect x="54.31" y="378.77" width="0.84" height="0.84" fill="#ffffff"/>
<rect x="53.92" y="401.30" width="0.84" height="0.84" fill="#ffffff"/>
<rect x="63.91" y="400.62" width="0.84" height="0.84" fill="#ffffff"/>
<rect x="60.36" y="400.89" width="0.84" height="0.84" fill="#ffffff"/>
<rect x="56.40" y="372.46" width="0.84" height="0.84" fill="#ffffff"/>
<rect x="52.84" y="402.73" width="0.84" height="0.84" fill="#ffffff"/>
<rect x="58.94" y="376.28" width="0.84" height="0.84" fill="#ffffff"/>
<rect x="58.79" y="405.76" width="0.84" height="0.84" fill="#ffffff"/>
<rect x="47.83" y="413.91" width="0.84" height="0.84" fill="#ffffff"/>
<rect x="47.02" y="403.92" width="0.84" height="0.84" fill="#ffffff"/>
<rect x="64.51" y="384.50" width="0.84" height="0.84" fill="#ffffff"/>
<rect x="53.96" y="417.35" width="0.84" height="0.84" fill="#ffffff"/>
<rect x="56.28" y="379.64" width="0.84" height="0.84" fill="#ffffff"/>
<rect x="70.77" y="389.22" width="0.84" height="0.84" fill="#ffffff"/>
<rect x="56.00" y="371.78" width="0.84" height="0.84" fill="#ffffff"/>
<rect x="71.35" y="401.00" width="1.00" height="1.00" fill="#222"/>
<rect x="69.01" y="370.86" width="1.00" height="1.00" fill="#222"/>
<rect x="42.95" y="397.11" width="1.00" height="1.00" fill="#222"/>
<rect x="41.61" y="409.78" width="1.00" height="1.00" fill="#222"/>
<rect x="57.61" y="368.89" width="1.00" height="1.00" fill="#222"/>
<rect x="68.75" y="409.80" width="1.00" height="1.00" fill="#222"/>
<rect x="44.35" y="389.44" width="1.00" height="1.00" fill="#222"/>
<rect x="62.72" y="367.53" width="1.00" height="1.00" fill="#222"/>
<rect x="49.83" y="375.75" width="1.00" height="1.00" fill="#222"/>
<rect x="56.65" y="367.62" width="1.00" height="1.00" fill="#222"/>
<rect x="65.06" y="368.10" width="1.00" height="1.00" fill="#222"/>
<rect x="62.90" y="367.10" width="1.00" height="1.00" fill="#222"/>
<rect x="71.72" y="379.55" width="1.00" height="1.00" fill="#222"/>
<rect x="41.26" y="419.59" width="1.00" height="1.00" fill="#222"/>
<rect x="43.23" y="422.97" width="1.00" height="1.00" fill="#222"/>
<rect x="67.71" y="369.83" width="1.00" height="1.00" fill="#222"/>
<rect x="72.93" y="397.65" width="1.00" height="1.00" fill="#222"/>
<rect x="72.09" y="402.74" width="1.00" height="1.00" fill="#222"/>
<rect x="42.14" y="406.74" width="1.00" height="1.00" fill="#222"/>
<rect x="72.29" y="376.66" width="1.00" height="1.00" fill="#222"/>
<rect x="42.59" y="406.44" width="1.00" height="1.00" fill="#222"/>
<rect x="60.87" y="420.87" width="1.00" height="1.00" fill="#222"/>
<rect x="72.76" y="387.25" width="1.00" height="1.00" fill="#222"/>
<rect x="44.17" y="422.41" width="1.00" height="1.00" fill="#222"/>
<rect x="72.88" y="387.03" width="1.00" height="1.00" fill="#222"/>
<rect x="72.54" y="389.32" width="1.00" height="1.00" fill="#222"/>
<rect x="50.27" y="376.18" width="1.00" height="1.00" fill="#222"/>
<rect x="51.71" y="423.32" width="1.00" height="1.00" fill="#222"/>
<rect x="71.45" y="402.31" width="1.00" height="1.00" fill="#222"/>
<rect x="71.10" y="404.92" width="1.00" height="1.00" fill="#222"/>
<rect x="40.54" y="416.37" width="1.00" height="1.00" fill="#222"/>
<rect x="41.93" y="422.49" width="1.00" height="1.00" fill="#222"/>
<rect x="39.72" y="418.54" width="1.00" height="1.00" fill="#222"/>
<rect x="50.23" y="424.60" width="1.00" height="1.00" fill="#222"/>
<rect x="70.59" y="406.81" width="1.00" height="1.00" fill="#222"/>
<rect x="46.37" y="382.56" width="1.00" height="1.00" fill="#222"/>
<rect x="64.52" y="415.26" width="1.00" height="1.00" fill="#222"/>
<rect x="48.24" y="380.82" width="1.00" height="1.00" fill="#222"/>
<rect x="65.17" y="368.24" width="1.00" height="1.00" fill="#222"/>
<rect x="49.15" y="378.35" width="1.00" height="1.00" fill="#222"/>
<rect x="41.02" y="419.32" width="1.00" height="1.00" fill="#222"/>
<rect x="55.38" y="368.32" width="1.00" height="1.00" fill="#222"/>
<rect x="50.26" y="425.12" width="1.00" height="1.00" fill="#222"/>
<rect x="61.29" y="365.56" width="1.00" height="1.00" fill="#222"/>
<rect x="59.95" y="367.53" width="1.00" height="1.00" fill="#222"/>
<rect x="40.33" y="414.57" width="1.00" height="1.00" fill="#222"/>
<rect x="71.96" y="399.33" width="1.00" height="1.00" fill="#222"/>
<rect x="62.97" y="366.80" width="1.00" height="1.00" fill="#222"/>
<rect x="71.45" y="401.54" width="1.00" height="1.00" fill="#222"/>
<rect x="52.06" y="424.99" width="1.00" height="1.00" fill="#222"/>
<rect x="70.32" y="406.81" width="1.00" height="1.00" fill="#222"/>
<rect x="55.44" y="370.11" width="1.00" height="1.00" fill="#222"/>
<rect x="52.44" y="423.00" width="1.00" height="1.00" fill="#222"/>
<rect x="68.88" y="410.85" width="1.00" height="1.00" fill="#222"/>
<rect x="71.60" y="402.98" width="1.00" height="1.00" fill="#222"/>
<rect x="71.75" y="380.97" width="1.00" height="1.00" fill="#222"/>
<rect x="70.42" y="404.87" width="1.00" height="1.00" fill="#222"/>
<rect x="72.99" y="386.50" width="1.00" height="1.00" fill="#222"/>
<rect x="42.93" y="423.44" width="1.00" height="1.00" fill="#222"/>
<rect x="43.37" y="398.14" width="1.00" height="1.00" fill="#222"/>
<path d="M58.00,376.00 C59.08,375.75 60.50,375.83 61.50,376.50 C62.50,377.17 63.33,378.08 64.00,380.00 C64.67,381.92 65.00,385.33 65.50,388.00 C66.00,390.67 66.58,393.17 67.00,396.00 C67.42,398.83 68.00,402.33 68.00,405.00 C68.00,407.67 68.00,409.67 67.00,412.00 C66.00,414.33 64.00,417.08 62.00,419.00 C60.00,420.92 57.50,422.75 55.00,423.50 C52.50,424.25 48.75,424.25 47.00,423.50 C45.25,422.75 44.83,421.25 44.50,419.00 C44.17,416.75 44.67,413.17 45.00,410.00 C45.33,406.83 45.83,403.33 46.50,400.00 C47.17,396.67 48.08,392.83 49.00,390.00 C49.92,387.17 51.00,385.00 52.00,383.00 C53.00,381.00 54.00,379.17 55.00,378.00 C56.00,376.83 56.92,376.25 58.00,376.00Z" fill="#dedede" fill-opacity="1.0" stroke="#b4b4b4" stroke-width="0.35" stroke-opacity="0.9"/>
<path d="M57.40,383.20 C58.27,383.00 59.40,383.07 60.20,383.60 C61.00,384.13 61.67,384.87 62.20,386.40 C62.73,387.93 63.00,390.67 63.40,392.80 C63.80,394.93 64.27,396.93 64.60,399.20 C64.93,401.47 65.40,404.27 65.40,406.40 C65.40,408.53 65.40,410.13 64.60,412.00 C63.80,413.87 62.20,416.07 60.60,417.60 C59.00,419.13 57.00,420.60 55.00,421.20 C53.00,421.80 50.00,421.80 48.60,421.20 C47.20,420.60 46.87,419.40 46.60,417.60 C46.33,415.80 46.73,412.93 47.00,410.40 C47.27,407.87 47.67,405.07 48.20,402.40 C48.73,399.73 49.47,396.67 50.20,394.40 C50.93,392.13 51.80,390.40 52.60,388.80 C53.40,387.20 54.20,385.73 55.00,384.80 C55.80,383.87 56.53,383.40 57.40,383.20Z" fill="none" stroke="#b4b4b4" stroke-width="0.35" stroke-opacity="0.9"/>
<path d="M56.80,390.40 C57.45,390.25 58.30,390.30 58.90,390.70 C59.50,391.10 60.00,391.65 60.40,392.80 C60.80,393.95 61.00,396.00 61.30,397.60 C61.60,399.20 61.95,400.70 62.20,402.40 C62.45,404.10 62.80,406.20 62.80,407.80 C62.80,409.40 62.80,410.60 62.20,412.00 C61.60,413.40 60.40,415.05 59.20,416.20 C58.00,417.35 56.50,418.45 55.00,418.90 C53.50,419.35 51.25,419.35 50.20,418.90 C49.15,418.45 48.90,417.55 48.70,416.20 C48.50,414.85 48.80,412.70 49.00,410.80 C49.20,408.90 49.50,406.80 49.90,404.80 C50.30,402.80 50.85,400.50 51.40,398.80 C51.95,397.10 52.60,395.80 53.20,394.60 C53.80,393.40 54.40,392.30 55.00,391.60 C55.60,390.90 56.15,390.55 56.80,390.40Z" fill="none" stroke="#b4b4b4" stroke-width="0.35" stroke-opacity="0.9"/>
<path d="M56.20,397.60 C56.63,397.50 57.20,397.53 57.60,397.80 C58.00,398.07 58.33,398.43 58.60,399.20 C58.87,399.97 59.00,401.33 59.20,402.40 C59.40,403.47 59.63,404.47 59.80,405.60 C59.97,406.73 60.20,408.13 60.20,409.20 C60.20,410.27 60.20,411.07 59.80,412.00 C59.40,412.93 58.60,414.03 57.80,414.80 C57.00,415.57 56.00,416.30 55.00,416.60 C54.00,416.90 52.50,416.90 51.80,416.60 C51.10,416.30 50.93,415.70 50.80,414.80 C50.67,413.90 50.87,412.47 51.00,411.20 C51.13,409.93 51.33,408.53 51.60,407.20 C51.87,405.87 52.23,404.33 52.60,403.20 C52.97,402.07 53.40,401.20 53.80,400.40 C54.20,399.60 54.60,398.87 55.00,398.40 C55.40,397.93 55.77,397.70 56.20,397.60Z" fill="none" stroke="#b4b4b4" stroke-width="0.35" stroke-opacity="0.9"/>
<path d="M55.60,404.80 C55.82,404.75 56.10,404.77 56.30,404.90 C56.50,405.03 56.67,405.22 56.80,405.60 C56.93,405.98 57.00,406.67 57.10,407.20 C57.20,407.73 57.32,408.23 57.40,408.80 C57.48,409.37 57.60,410.07 57.60,410.60 C57.60,411.13 57.60,411.53 57.40,412.00 C57.20,412.47 56.80,413.02 56.40,413.40 C56.00,413.78 55.50,414.15 55.00,414.30 C54.50,414.45 53.75,414.45 53.40,414.30 C53.05,414.15 52.97,413.85 52.90,413.40 C52.83,412.95 52.93,412.23 53.00,411.60 C53.07,410.97 53.17,410.27 53.30,409.60 C53.43,408.93 53.62,408.17 53.80,407.60 C53.98,407.03 54.20,406.60 54.40,406.20 C54.60,405.80 54.80,405.43 55.00,405.20 C55.20,404.97 55.38,404.85 55.60,404.80Z" fill="none" stroke="#b4b4b4" stroke-width="0.35" stroke-opacity="0.9"/>
<ellipse cx="50" cy="419" rx="3" ry="1.2" fill="#fff" opacity="0.9"/>
<rect x="70.29" y="374.55" width="0.90" height="0.90" fill="#333"/>
<rect x="71.29" y="375.47" width="0.90" height="0.90" fill="#333"/>
<rect x="68.98" y="376.27" width="0.90" height="0.90" fill="#333"/>
<rect x="70.38" y="374.53" width="0.90" height="0.90" fill="#333"/>
<rect x="71.32" y="375.98" width="0.90" height="0.90" fill="#333"/>
<rect x="68.92" y="371.48" width="0.90" height="0.90" fill="#333"/>
<rect x="71.14" y="373.23" width="0.90" height="0.90" fill="#333"/>
<rect x="71.30" y="371.46" width="0.90" height="0.90" fill="#333"/>
<rect x="72.33" y="368.64" width="0.90" height="0.90" fill="#333"/>
<rect x="71.16" y="371.55" width="0.90" height="0.90" fill="#333"/>
<path d="M145.00,368.30 C147.00,368.30 148.75,369.22 150.00,370.00 C151.25,370.78 151.77,371.50 152.50,373.00 C153.23,374.50 154.08,376.83 154.40,379.00 C154.72,381.17 154.55,383.50 154.40,386.00 C154.25,388.50 153.82,391.67 153.50,394.00 C153.18,396.33 152.98,397.40 152.50,400.00 C152.02,402.60 151.28,406.93 150.60,409.60 C149.92,412.27 149.83,414.18 148.40,416.00 C146.97,417.82 144.35,419.22 142.00,420.50 C139.65,421.78 136.80,423.20 134.30,423.70 C131.80,424.20 128.90,423.87 127.00,423.50 C125.10,423.13 123.48,423.08 122.90,421.50 C122.32,419.92 123.13,416.35 123.50,414.00 C123.87,411.65 124.67,411.23 125.10,407.40 C125.53,403.57 125.47,395.52 126.10,391.00 C126.73,386.48 127.90,383.17 128.90,380.30 C129.90,377.43 130.58,375.52 132.10,373.80 C133.62,372.08 135.85,370.92 138.00,370.00 C140.15,369.08 143.00,368.30 145.00,368.30Z" fill="#2284f0"/>
<rect x="132.23" y="417.15" width="0.84" height="0.84" fill="#ffffff"/>
<rect x="138.13" y="407.48" width="0.84" height="0.84" fill="#ffffff"/>
<rect x="126.03" y="396.12" width="0.84" height="0.84" fill="#ffffff"/>
<rect x="148.72" y="396.87" width="0.84" height="0.84" fill="#ffffff"/>
<rect x="146.04" y="375.56" width="0.84" height="0.84" fill="#ffffff"/>
<rect x="152.10" y="379.61" width="0.84" height="0.84" fill="#ffffff"/>
<rect x="133.75" y="377.54" width="0.84" height="0.84" fill="#ffffff"/>
<rect x="132.43" y="418.68" width="0.84" height="0.84" fill="#ffffff"/>
<rect x="128.08" y="412.53" width="0.84" height="0.84" fill="#ffffff"/>
<rect x="145.52" y="399.32" width="0.84" height="0.84" fill="#ffffff"/>
<rect x="140.55" y="410.16" width="0.84" height="0.84" fill="#ffffff"/>
<rect x="140.90" y="381.09" width="0.84" height="0.84" fill="#ffffff"/>
<rect x="133.03" y="381.88" width="0.84" height="0.84" fill="#ffffff"/>
<rect x="135.20" y="421.82" width="0.84" height="0.84" fill="#ffffff"/>
<rect x="136.00" y="372.51" width="0.84" height="0.84" fill="#ffffff"/>
<rect x="137.53" y="412.44" width="0.84" height="0.84" fill="#ffffff"/>
<rect x="136.58" y="406.51" width="0.84" height="0.84" fill="#ffffff"/>
<rect x="143.18" y="371.36" width="0.84" height="0.84" fill="#ffffff"/>
<rect x="132.19" y="389.44" width="0.84" height="0.84" fill="#ffffff"/>
<rect x="123.17" y="419.91" width="0.84" height="0.84" fill="#ffffff"/>
<rect x="137.99" y="420.06" width="0.84" height="0.84" fill="#ffffff"/>
<rect x="149.32" y="401.98" width="0.84" height="0.84" fill="#ffffff"/>
<rect x="139.01" y="396.11" width="0.84" height="0.84" fill="#ffffff"/>
<rect x="129.85" y="388.99" width="0.84" height="0.84" fill="#ffffff"/>
<rect x="145.05" y="379.26" width="0.84" height="0.84" fill="#ffffff"/>
<rect x="148.93" y="396.17" width="0.84" height="0.84" fill="#ffffff"/>
<rect x="141.42" y="412.93" width="0.84" height="0.84" fill="#ffffff"/>
<rect x="142.71" y="376.17" width="0.84" height="0.84" fill="#ffffff"/>
<rect x="123.80" y="419.90" width="0.84" height="0.84" fill="#ffffff"/>
<rect x="146.81" y="385.74" width="0.84" height="0.84" fill="#ffffff"/>
<rect x="136.91" y="373.25" width="0.84" height="0.84" fill="#ffffff"/>
<rect x="132.69" y="377.71" width="0.84" height="0.84" fill="#ffffff"/>
<rect x="134.13" y="373.21" width="0.84" height="0.84" fill="#ffffff"/>
<rect x="129.40" y="410.69" width="0.84" height="0.84" fill="#ffffff"/>
<rect x="140.82" y="394.71" width="0.84" height="0.84" fill="#ffffff"/>
<rect x="150.69" y="389.05" width="0.84" height="0.84" fill="#ffffff"/>
<rect x="148.05" y="370.64" width="0.84" height="0.84" fill="#ffffff"/>
<rect x="152.46" y="378.58" width="0.84" height="0.84" fill="#ffffff"/>
<rect x="145.01" y="405.03" width="0.84" height="0.84" fill="#ffffff"/>
<rect x="146.37" y="389.05" width="0.84" height="0.84" fill="#ffffff"/>
<rect x="129.99" y="392.54" width="0.84" height="0.84" fill="#ffffff"/>
<rect x="136.73" y="417.36" width="0.84" height="0.84" fill="#ffffff"/>
<rect x="130.71" y="398.28" width="0.84" height="0.84" fill="#ffffff"/>
<rect x="149.95" y="395.80" width="0.84" height="0.84" fill="#ffffff"/>
<rect x="145.95" y="372.78" width="0.84" height="0.84" fill="#ffffff"/>
<rect x="138.33" y="372.31" width="0.84" height="0.84" fill="#ffffff"/>
<rect x="128.61" y="421.86" width="0.84" height="0.84" fill="#ffffff"/>
<rect x="152.81" y="382.05" width="0.84" height="0.84" fill="#ffffff"/>
<rect x="132.69" y="407.19" width="0.84" height="0.84" fill="#ffffff"/>
<rect x="138.47" y="378.74" width="0.84" height="0.84" fill="#ffffff"/>
<rect x="138.56" y="409.18" width="0.84" height="0.84" fill="#ffffff"/>
<rect x="134.48" y="394.19" width="0.84" height="0.84" fill="#ffffff"/>
<rect x="142.41" y="396.71" width="0.84" height="0.84" fill="#ffffff"/>
<rect x="129.66" y="414.32" width="0.84" height="0.84" fill="#ffffff"/>
<rect x="132.80" y="420.53" width="0.84" height="0.84" fill="#ffffff"/>
<rect x="147.74" y="383.24" width="0.84" height="0.84" fill="#ffffff"/>
<rect x="127.67" y="399.51" width="0.84" height="0.84" fill="#ffffff"/>
<rect x="137.45" y="397.52" width="0.84" height="0.84" fill="#ffffff"/>
<rect x="126.73" y="397.31" width="0.84" height="0.84" fill="#ffffff"/>
<rect x="146.16" y="392.69" width="0.84" height="0.84" fill="#ffffff"/>
<rect x="130.76" y="418.33" width="0.84" height="0.84" fill="#ffffff"/>
<rect x="132.01" y="422.26" width="0.84" height="0.84" fill="#ffffff"/>
<rect x="144.01" y="368.90" width="0.84" height="0.84" fill="#ffffff"/>
<rect x="136.63" y="376.79" width="0.84" height="0.84" fill="#ffffff"/>
<rect x="146.99" y="391.39" width="0.84" height="0.84" fill="#ffffff"/>
<rect x="125.58" y="419.93" width="0.84" height="0.84" fill="#ffffff"/>
<rect x="147.38" y="401.43" width="0.84" height="0.84" fill="#ffffff"/>
<rect x="140.31" y="372.76" width="0.84" height="0.84" fill="#ffffff"/>
<rect x="152.98" y="384.99" width="0.84" height="0.84" fill="#ffffff"/>
<rect x="138.97" y="395.10" width="0.84" height="0.84" fill="#ffffff"/>
<rect x="150.25" y="395.24" width="0.84" height="0.84" fill="#ffffff"/>
<rect x="134.98" y="415.02" width="0.84" height="0.84" fill="#ffffff"/>
<rect x="149.24" y="407.41" width="0.84" height="0.84" fill="#ffffff"/>
<rect x="150.69" y="387.56" width="0.84" height="0.84" fill="#ffffff"/>
<rect x="141.35" y="411.06" width="0.84" height="0.84" fill="#ffffff"/>
<rect x="145.40" y="402.61" width="0.84" height="0.84" fill="#ffffff"/>
<rect x="141.32" y="404.56" width="0.84" height="0.84" fill="#ffffff"/>
<rect x="139.67" y="383.58" width="0.84" height="0.84" fill="#ffffff"/>
<rect x="148.66" y="383.96" width="0.84" height="0.84" fill="#ffffff"/>
<rect x="143.44" y="402.39" width="0.84" height="0.84" fill="#ffffff"/>
<rect x="143.78" y="415.63" width="0.84" height="0.84" fill="#ffffff"/>
<rect x="144.22" y="373.05" width="0.84" height="0.84" fill="#ffffff"/>
<rect x="141.82" y="387.49" width="0.84" height="0.84" fill="#ffffff"/>
<rect x="135.69" y="405.04" width="0.84" height="0.84" fill="#ffffff"/>
<rect x="128.27" y="402.47" width="0.84" height="0.84" fill="#ffffff"/>
<rect x="148.98" y="406.82" width="0.84" height="0.84" fill="#ffffff"/>
<rect x="135.31" y="409.92" width="0.84" height="0.84" fill="#ffffff"/>
<rect x="136.62" y="398.13" width="0.84" height="0.84" fill="#ffffff"/>
<rect x="153.21" y="378.77" width="0.84" height="0.84" fill="#ffffff"/>
<rect x="142.39" y="392.44" width="0.84" height="0.84" fill="#ffffff"/>
<rect x="139.99" y="419.38" width="0.84" height="0.84" fill="#ffffff"/>
<rect x="126.58" y="413.66" width="0.84" height="0.84" fill="#ffffff"/>
<rect x="145.31" y="383.15" width="0.84" height="0.84" fill="#ffffff"/>
<rect x="126.63" y="408.90" width="0.84" height="0.84" fill="#ffffff"/>
<rect x="149.04" y="387.34" width="0.84" height="0.84" fill="#ffffff"/>
<rect x="127.18" y="398.60" width="0.84" height="0.84" fill="#ffffff"/>
<rect x="143.45" y="388.04" width="0.84" height="0.84" fill="#ffffff"/>
<rect x="135.52" y="374.27" width="0.84" height="0.84" fill="#ffffff"/>
<rect x="146.12" y="375.31" width="0.84" height="0.84" fill="#ffffff"/>
<rect x="129.01" y="393.72" width="0.84" height="0.84" fill="#ffffff"/>
<rect x="129.38" y="381.65" width="0.84" height="0.84" fill="#ffffff"/>
<rect x="145.48" y="381.34" width="0.84" height="0.84" fill="#ffffff"/>
<rect x="140.12" y="373.31" width="0.84" height="0.84" fill="#ffffff"/>
<rect x="138.78" y="406.29" width="0.84" height="0.84" fill="#ffffff"/>
<rect x="136.64" y="378.98" width="0.84" height="0.84" fill="#ffffff"/>
<rect x="135.45" y="374.19" width="0.84" height="0.84" fill="#ffffff"/>
<rect x="135.99" y="396.09" width="0.84" height="0.84" fill="#ffffff"/>
<rect x="136.70" y="413.52" width="0.84" height="0.84" fill="#ffffff"/>
<rect x="132.89" y="376.00" width="0.84" height="0.84" fill="#ffffff"/>
<rect x="137.84" y="406.55" width="0.84" height="0.84" fill="#ffffff"/>
<rect x="131.18" y="388.12" width="0.84" height="0.84" fill="#ffffff"/>
<rect x="130.88" y="414.37" width="0.84" height="0.84" fill="#ffffff"/>
<rect x="135.17" y="420.80" width="0.84" height="0.84" fill="#ffffff"/>
<rect x="128.89" y="381.31" width="0.84" height="0.84" fill="#ffffff"/>
<rect x="142.35" y="388.64" width="0.84" height="0.84" fill="#ffffff"/>
<rect x="136.18" y="386.40" width="0.84" height="0.84" fill="#ffffff"/>
<rect x="128.92" y="392.43" width="0.84" height="0.84" fill="#ffffff"/>
<rect x="135.74" y="419.16" width="0.84" height="0.84" fill="#ffffff"/>
<rect x="129.08" y="406.34" width="0.84" height="0.84" fill="#ffffff"/>
<rect x="145.29" y="404.15" width="0.84" height="0.84" fill="#ffffff"/>
<rect x="141.71" y="371.04" width="0.84" height="0.84" fill="#ffffff"/>
<rect x="127.45" y="396.62" width="0.84" height="0.84" fill="#ffffff"/>
<rect x="146.97" y="380.42" width="0.84" height="0.84" fill="#ffffff"/>
<rect x="127.49" y="410.34" width="0.84" height="0.84" fill="#ffffff"/>
<rect x="123.29" y="417.78" width="0.84" height="0.84" fill="#ffffff"/>
<rect x="125.61" y="400.96" width="0.84" height="0.84" fill="#ffffff"/>
<rect x="148.80" y="373.29" width="0.84" height="0.84" fill="#ffffff"/>
<rect x="126.08" y="402.72" width="0.84" height="0.84" fill="#ffffff"/>
<rect x="144.96" y="369.32" width="0.84" height="0.84" fill="#ffffff"/>
<rect x="137.28" y="411.43" width="0.84" height="0.84" fill="#ffffff"/>
<rect x="146.67" y="389.90" width="0.84" height="0.84" fill="#ffffff"/>
<rect x="139.35" y="391.45" width="0.84" height="0.84" fill="#ffffff"/>
<rect x="141.18" y="400.17" width="0.84" height="0.84" fill="#ffffff"/>
<rect x="137.67" y="398.29" width="0.84" height="0.84" fill="#ffffff"/>
<rect x="140.12" y="410.24" width="0.84" height="0.84" fill="#ffffff"/>
<rect x="147.14" y="369.94" width="0.84" height="0.84" fill="#ffffff"/>
<rect x="146.93" y="381.83" width="0.84" height="0.84" fill="#ffffff"/>
<rect x="135.86" y="380.46" width="0.84" height="0.84" fill="#ffffff"/>
<rect x="132.38" y="390.17" width="0.84" height="0.84" fill="#ffffff"/>
<rect x="136.83" y="374.48" width="0.84" height="0.84" fill="#ffffff"/>
<rect x="131.95" y="393.31" width="0.84" height="0.84" fill="#ffffff"/>
<rect x="134.76" y="397.25" width="0.84" height="0.84" fill="#ffffff"/>
<rect x="139.99" y="412.07" width="0.84" height="0.84" fill="#ffffff"/>
<rect x="134.57" y="378.27" width="0.84" height="0.84" fill="#ffffff"/>
<rect x="141.67" y="381.90" width="0.84" height="0.84" fill="#ffffff"/>
<rect x="131.31" y="410.09" width="0.84" height="0.84" fill="#ffffff"/>
<rect x="138.53" y="378.16" width="0.84" height="0.84" fill="#ffffff"/>
<rect x="129.59" y="408.22" width="0.84" height="0.84" fill="#ffffff"/>
<rect x="142.83" y="417.06" width="0.84" height="0.84" fill="#ffffff"/>
<rect x="145.54" y="384.08" width="0.84" height="0.84" fill="#ffffff"/>
<rect x="144.43" y="416.15" width="0.84" height="0.84" fill="#ffffff"/>
<rect x="128.25" y="412.64" width="0.84" height="0.84" fill="#ffffff"/>
<rect x="144.14" y="398.76" width="0.84" height="0.84" fill="#ffffff"/>
<rect x="128.96" y="390.88" width="0.84" height="0.84" fill="#ffffff"/>
<rect x="144.06" y="370.49" width="0.84" height="0.84" fill="#ffffff"/>
<rect x="150.18" y="406.61" width="0.84" height="0.84" fill="#ffffff"/>
<rect x="138.71" y="384.94" width="0.84" height="0.84" fill="#ffffff"/>
<rect x="134.56" y="394.98" width="0.84" height="0.84" fill="#ffffff"/>
<rect x="141.45" y="383.49" width="0.84" height="0.84" fill="#ffffff"/>
<rect x="131.78" y="396.32" width="0.84" height="0.84" fill="#ffffff"/>
<rect x="145.56" y="369.52" width="0.84" height="0.84" fill="#ffffff"/>
<rect x="150.51" y="403.69" width="0.84" height="0.84" fill="#ffffff"/>
<rect x="138.28" y="398.58" width="0.84" height="0.84" fill="#ffffff"/>
<rect x="148.09" y="391.83" width="0.84" height="0.84" fill="#ffffff"/>
<rect x="132.90" y="373.63" width="0.84" height="0.84" fill="#ffffff"/>
<rect x="130.75" y="403.24" width="0.84" height="0.84" fill="#ffffff"/>
<rect x="133.90" y="417.71" width="0.84" height="0.84" fill="#ffffff"/>
<rect x="137.30" y="413.69" width="0.84" height="0.84" fill="#ffffff"/>
<rect x="129.30" y="421.32" width="0.84" height="0.84" fill="#ffffff"/>
<rect x="147.58" y="396.64" width="0.84" height="0.84" fill="#ffffff"/>
<rect x="127.69" y="414.09" width="0.84" height="0.84" fill="#ffffff"/>
<rect x="152.19" y="393.34" width="0.84" height="0.84" fill="#ffffff"/>
<rect x="146.35" y="402.36" width="0.84" height="0.84" fill="#ffffff"/>
<rect x="142.83" y="376.54" width="0.84" height="0.84" fill="#ffffff"/>
<rect x="136.35" y="397.91" width="0.84" height="0.84" fill="#ffffff"/>
<rect x="129.86" y="406.69" width="0.84" height="0.84" fill="#ffffff"/>
<rect x="132.97" y="373.48" width="0.84" height="0.84" fill="#ffffff"/>
<rect x="133.92" y="408.27" width="0.84" height="0.84" fill="#ffffff"/>
<rect x="142.38" y="386.18" width="0.84" height="0.84" fill="#ffffff"/>
<rect x="135.77" y="405.81" width="0.84" height="0.84" fill="#ffffff"/>
<rect x="148.94" y="374.56" width="0.84" height="0.84" fill="#ffffff"/>
<rect x="128.98" y="391.00" width="0.84" height="0.84" fill="#ffffff"/>
<rect x="132.20" y="376.38" width="0.84" height="0.84" fill="#ffffff"/>
<rect x="136.32" y="401.93" width="0.84" height="0.84" fill="#ffffff"/>
<rect x="137.53" y="383.85" width="0.84" height="0.84" fill="#ffffff"/>
<rect x="141.84" y="392.61" width="0.84" height="0.84" fill="#ffffff"/>
<rect x="141.03" y="418.64" width="0.84" height="0.84" fill="#ffffff"/>
<rect x="147.76" y="409.94" width="0.84" height="0.84" fill="#ffffff"/>
<rect x="145.81" y="404.90" width="0.84" height="0.84" fill="#ffffff"/>
<rect x="134.91" y="401.75" width="0.84" height="0.84" fill="#ffffff"/>
<rect x="128.80" y="411.07" width="0.84" height="0.84" fill="#ffffff"/>
<rect x="138.93" y="388.01" width="0.84" height="0.84" fill="#ffffff"/>
<rect x="143.64" y="406.91" width="0.84" height="0.84" fill="#ffffff"/>
<rect x="141.65" y="385.64" width="0.84" height="0.84" fill="#ffffff"/>
<rect x="141.15" y="372.94" width="0.84" height="0.84" fill="#ffffff"/>
<rect x="130.06" y="410.72" width="0.84" height="0.84" fill="#ffffff"/>
<rect x="144.55" y="380.70" width="0.84" height="0.84" fill="#ffffff"/>
<rect x="123.86" y="420.22" width="0.84" height="0.84" fill="#ffffff"/>
<rect x="136.12" y="371.88" width="0.84" height="0.84" fill="#ffffff"/>
<rect x="138.99" y="412.70" width="0.84" height="0.84" fill="#ffffff"/>
<rect x="141.11" y="384.32" width="0.84" height="0.84" fill="#ffffff"/>
<rect x="138.68" y="388.48" width="0.84" height="0.84" fill="#ffffff"/>
<rect x="129.32" y="401.65" width="0.84" height="0.84" fill="#ffffff"/>
<rect x="147.61" y="379.71" width="0.84" height="0.84" fill="#ffffff"/>
<rect x="127.30" y="399.36" width="0.84" height="0.84" fill="#ffffff"/>
<rect x="142.48" y="391.53" width="0.84" height="0.84" fill="#ffffff"/>
<rect x="139.49" y="400.92" width="0.84" height="0.84" fill="#ffffff"/>
<rect x="144.27" y="374.07" width="0.84" height="0.84" fill="#ffffff"/>
<rect x="133.32" y="376.72" width="0.84" height="0.84" fill="#ffffff"/>
<rect x="129.75" y="417.87" width="0.84" height="0.84" fill="#ffffff"/>
<rect x="141.97" y="413.55" width="0.84" height="0.84" fill="#ffffff"/>
<rect x="135.30" y="380.33" width="0.84" height="0.84" fill="#ffffff"/>
<rect x="125.55" y="410.42" width="0.84" height="0.84" fill="#ffffff"/>
<rect x="149.28" y="408.08" width="0.84" height="0.84" fill="#ffffff"/>
<rect x="129.72" y="409.79" width="0.84" height="0.84" fill="#ffffff"/>
<rect x="150.19" y="385.29" width="0.84" height="0.84" fill="#ffffff"/>
<rect x="129.09" y="403.83" width="0.84" height="0.84" fill="#ffffff"/>
<rect x="146.69" y="399.22" width="0.84" height="0.84" fill="#ffffff"/>
<rect x="150.95" y="395.66" width="0.84" height="0.84" fill="#ffffff"/>
<rect x="127.91" y="388.19" width="0.84" height="0.84" fill="#ffffff"/>
<rect x="132.58" y="396.06" width="0.84" height="0.84" fill="#ffffff"/>
<rect x="134.43" y="413.38" width="0.84" height="0.84" fill="#ffffff"/>
<rect x="142.08" y="411.73" width="0.84" height="0.84" fill="#ffffff"/>
<rect x="141.28" y="372.60" width="0.84" height="0.84" fill="#ffffff"/>
<rect x="144.83" y="388.20" width="0.84" height="0.84" fill="#ffffff"/>
<rect x="149.01" y="404.25" width="0.84" height="0.84" fill="#ffffff"/>
<rect x="138.01" y="411.65" width="0.84" height="0.84" fill="#ffffff"/>
<rect x="149.88" y="372.92" width="0.84" height="0.84" fill="#ffffff"/>
<rect x="141.48" y="386.12" width="0.84" height="0.84" fill="#ffffff"/>
<rect x="144.07" y="409.52" width="0.84" height="0.84" fill="#ffffff"/>
<rect x="128.24" y="419.38" width="0.84" height="0.84" fill="#ffffff"/>
<rect x="146.65" y="374.98" width="0.84" height="0.84" fill="#ffffff"/>
<rect x="131.09" y="405.56" width="0.84" height="0.84" fill="#ffffff"/>
<rect x="135.99" y="374.63" width="0.84" height="0.84" fill="#ffffff"/>
<rect x="131.00" y="397.53" width="0.84" height="0.84" fill="#ffffff"/>
<rect x="131.65" y="382.34" width="0.84" height="0.84" fill="#ffffff"/>
<rect x="145.85" y="393.73" width="0.84" height="0.84" fill="#ffffff"/>
<rect x="151.88" y="381.52" width="0.84" height="0.84" fill="#ffffff"/>
<rect x="143.73" y="376.17" width="0.84" height="0.84" fill="#ffffff"/>
<rect x="139.15" y="377.55" width="0.84" height="0.84" fill="#ffffff"/>
<rect x="131.97" y="407.26" width="0.84" height="0.84" fill="#ffffff"/>
<rect x="141.61" y="374.65" width="0.84" height="0.84" fill="#ffffff"/>
<rect x="135.33" y="401.59" width="0.84" height="0.84" fill="#ffffff"/>
<rect x="138.92" y="417.48" width="0.84" height="0.84" fill="#ffffff"/>
<rect x="132.35" y="420.62" width="0.84" height="0.84" fill="#ffffff"/>
<rect x="127.05" y="409.08" width="0.84" height="0.84" fill="#ffffff"/>
<rect x="136.04" y="416.84" width="0.84" height="0.84" fill="#ffffff"/>
<rect x="142.15" y="374.98" width="0.84" height="0.84" fill="#ffffff"/>
<rect x="132.45" y="417.58" width="0.84" height="0.84" fill="#ffffff"/>
<rect x="142.55" y="382.64" width="0.84" height="0.84" fill="#ffffff"/>
<rect x="128.85" y="412.63" width="0.84" height="0.84" fill="#ffffff"/>
<rect x="147.16" y="403.36" width="0.84" height="0.84" fill="#ffffff"/>
<rect x="147.85" y="379.90" width="0.84" height="0.84" fill="#ffffff"/>
<rect x="137.83" y="415.48" width="0.84" height="0.84" fill="#ffffff"/>
<rect x="145.08" y="389.55" width="0.84" height="0.84" fill="#ffffff"/>
<rect x="134.82" y="415.25" width="0.84" height="0.84" fill="#ffffff"/>
<rect x="143.92" y="378.69" width="0.84" height="0.84" fill="#ffffff"/>
<rect x="133.33" y="382.02" width="0.84" height="0.84" fill="#ffffff"/>
<rect x="133.71" y="393.19" width="0.84" height="0.84" fill="#ffffff"/>
<rect x="145.39" y="392.28" width="0.84" height="0.84" fill="#ffffff"/>
<rect x="142.65" y="387.11" width="0.84" height="0.84" fill="#ffffff"/>
<rect x="129.22" y="415.64" width="0.84" height="0.84" fill="#ffffff"/>
<rect x="147.61" y="395.85" width="0.84" height="0.84" fill="#ffffff"/>
<rect x="143.45" y="404.87" width="0.84" height="0.84" fill="#ffffff"/>
<rect x="140.43" y="386.76" width="0.84" height="0.84" fill="#ffffff"/>
<rect x="134.54" y="381.42" width="0.84" height="0.84" fill="#ffffff"/>
<rect x="133.74" y="373.05" width="0.84" height="0.84" fill="#ffffff"/>
<rect x="147.31" y="384.82" width="0.84" height="0.84" fill="#ffffff"/>
<rect x="147.84" y="400.39" width="0.84" height="0.84" fill="#ffffff"/>
<rect x="135.12" y="398.71" width="0.84" height="0.84" fill="#ffffff"/>
<rect x="141.41" y="375.65" width="0.84" height="0.84" fill="#ffffff"/>
<rect x="146.45" y="413.70" width="0.84" height="0.84" fill="#ffffff"/>
<rect x="130.10" y="381.73" width="0.84" height="0.84" fill="#ffffff"/>
<rect x="129.19" y="416.50" width="0.84" height="0.84" fill="#ffffff"/>
<rect x="149.19" y="380.21" width="0.84" height="0.84" fill="#ffffff"/>
<rect x="145.13" y="387.24" width="0.84" height="0.84" fill="#ffffff"/>
<rect x="147.60" y="384.73" width="0.84" height="0.84" fill="#ffffff"/>
<rect x="141.85" y="401.75" width="0.84" height="0.84" fill="#ffffff"/>
<rect x="141.31" y="414.91" width="0.84" height="0.84" fill="#ffffff"/>
<rect x="141.61" y="381.41" width="0.84" height="0.84" fill="#ffffff"/>
<rect x="134.13" y="383.40" width="0.84" height="0.84" fill="#ffffff"/>
<rect x="138.75" y="391.69" width="0.84" height="0.84" fill="#ffffff"/>
<rect x="138.17" y="385.94" width="0.84" height="0.84" fill="#ffffff"/>
<rect x="147.55" y="393.05" width="0.84" height="0.84" fill="#ffffff"/>
<rect x="137.29" y="392.76" width="0.84" height="0.84" fill="#ffffff"/>
<rect x="138.28" y="387.79" width="0.84" height="0.84" fill="#ffffff"/>
<rect x="138.43" y="380.52" width="0.84" height="0.84" fill="#ffffff"/>
<rect x="134.93" y="374.67" width="0.84" height="0.84" fill="#ffffff"/>
<rect x="150.99" y="379.53" width="0.84" height="0.84" fill="#ffffff"/>
<rect x="132.53" y="382.41" width="0.84" height="0.84" fill="#ffffff"/>
<rect x="146.66" y="374.28" width="0.84" height="0.84" fill="#ffffff"/>
<rect x="131.48" y="417.06" width="0.84" height="0.84" fill="#ffffff"/>
<rect x="136.49" y="377.24" width="0.84" height="0.84" fill="#ffffff"/>
<rect x="135.04" y="393.93" width="0.84" height="0.84" fill="#ffffff"/>
<rect x="143.58" y="405.27" width="0.84" height="0.84" fill="#ffffff"/>
<rect x="138.14" y="381.23" width="0.84" height="0.84" fill="#ffffff"/>
<rect x="140.83" y="404.68" width="0.84" height="0.84" fill="#ffffff"/>
<rect x="134.37" y="422.30" width="0.84" height="0.84" fill="#ffffff"/>
<rect x="136.90" y="373.53" width="0.84" height="0.84" fill="#ffffff"/>
<rect x="134.60" y="396.95" width="0.84" height="0.84" fill="#ffffff"/>
<rect x="133.37" y="410.56" width="0.84" height="0.84" fill="#ffffff"/>
<rect x="144.75" y="392.30" width="0.84" height="0.84" fill="#ffffff"/>
<rect x="145.10" y="411.34" width="0.84" height="0.84" fill="#ffffff"/>
<rect x="129.87" y="422.33" width="0.84" height="0.84" fill="#ffffff"/>
<rect x="123.12" y="420.13" width="0.84" height="0.84" fill="#ffffff"/>
<rect x="146.08" y="412.39" width="0.84" height="0.84" fill="#ffffff"/>
<rect x="129.72" y="382.81" width="0.84" height="0.84" fill="#ffffff"/>
<rect x="150.01" y="394.97" width="0.84" height="0.84" fill="#ffffff"/>
<rect x="149.93" y="401.94" width="0.84" height="0.84" fill="#ffffff"/>
<rect x="134.53" y="384.43" width="0.84" height="0.84" fill="#ffffff"/>
<rect x="139.83" y="381.91" width="0.84" height="0.84" fill="#ffffff"/>
<rect x="149.20" y="402.22" width="0.84" height="0.84" fill="#ffffff"/>
<rect x="129.41" y="394.20" width="0.84" height="0.84" fill="#ffffff"/>
<rect x="143.21" y="409.94" width="0.84" height="0.84" fill="#ffffff"/>
<rect x="150.78" y="384.27" width="0.84" height="0.84" fill="#ffffff"/>
<rect x="130.62" y="394.27" width="0.84" height="0.84" fill="#ffffff"/>
<rect x="133.00" y="400.73" width="0.84" height="0.84" fill="#ffffff"/>
<rect x="150.16" y="393.57" width="0.84" height="0.84" fill="#ffffff"/>
<rect x="141.18" y="378.82" width="0.84" height="0.84" fill="#ffffff"/>
<rect x="145.65" y="389.41" width="0.84" height="0.84" fill="#ffffff"/>
<rect x="146.59" y="380.45" width="0.84" height="0.84" fill="#ffffff"/>
<rect x="149.72" y="401.35" width="0.84" height="0.84" fill="#ffffff"/>
<rect x="138.69" y="391.00" width="0.84" height="0.84" fill="#ffffff"/>
<rect x="131.85" y="387.58" width="0.84" height="0.84" fill="#ffffff"/>
<rect x="133.11" y="398.51" width="0.84" height="0.84" fill="#ffffff"/>
<rect x="147.59" y="376.49" width="0.84" height="0.84" fill="#ffffff"/>
<rect x="130.41" y="409.64" width="0.84" height="0.84" fill="#ffffff"/>
<rect x="132.56" y="420.31" width="0.84" height="0.84" fill="#ffffff"/>
<rect x="143.10" y="377.88" width="0.84" height="0.84" fill="#ffffff"/>
<rect x="133.72" y="390.97" width="0.84" height="0.84" fill="#ffffff"/>
<rect x="147.89" y="403.72" width="0.84" height="0.84" fill="#ffffff"/>
<rect x="137.48" y="382.82" width="0.84" height="0.84" fill="#ffffff"/>
<rect x="125.18" y="421.46" width="0.84" height="0.84" fill="#ffffff"/>
<rect x="133.74" y="375.13" width="0.84" height="0.84" fill="#ffffff"/>
<rect x="135.89" y="375.40" width="0.84" height="0.84" fill="#ffffff"/>
<rect x="135.07" y="380.25" width="0.84" height="0.84" fill="#ffffff"/>
<rect x="142.01" y="396.21" width="0.84" height="0.84" fill="#ffffff"/>
<rect x="132.42" y="400.56" width="0.84" height="0.84" fill="#ffffff"/>
<rect x="127.11" y="421.90" width="0.84" height="0.84" fill="#ffffff"/>
<rect x="149.06" y="392.13" width="0.84" height="0.84" fill="#ffffff"/>
<rect x="145.37" y="380.14" width="0.84" height="0.84" fill="#ffffff"/>
<rect x="132.65" y="395.96" width="0.84" height="0.84" fill="#ffffff"/>
<rect x="130.63" y="381.29" width="0.84" height="0.84" fill="#ffffff"/>
<rect x="144.64" y="381.04" width="0.84" height="0.84" fill="#ffffff"/>
<rect x="132.06" y="386.94" width="0.84" height="0.84" fill="#ffffff"/>
<rect x="123.83" y="419.17" width="0.84" height="0.84" fill="#ffffff"/>
<rect x="142.80" y="371.51" width="0.84" height="0.84" fill="#ffffff"/>
<rect x="145.84" y="414.92" width="0.84" height="0.84" fill="#ffffff"/>
<rect x="146.28" y="369.85" width="0.84" height="0.84" fill="#ffffff"/>
<rect x="144.92" y="405.93" width="0.84" height="0.84" fill="#ffffff"/>
<rect x="141.19" y="378.99" width="0.84" height="0.84" fill="#ffffff"/>
<rect x="141.43" y="375.47" width="0.84" height="0.84" fill="#ffffff"/>
<rect x="138.87" y="412.54" width="0.84" height="0.84" fill="#ffffff"/>
<rect x="145.61" y="413.73" width="0.84" height="0.84" fill="#ffffff"/>
<rect x="151.11" y="384.95" width="0.84" height="0.84" fill="#ffffff"/>
<rect x="129.95" y="387.56" width="0.84" height="0.84" fill="#ffffff"/>
<rect x="144.48" y="382.82" width="0.84" height="0.84" fill="#ffffff"/>
<rect x="126.68" y="402.50" width="0.84" height="0.84" fill="#ffffff"/>
<rect x="147.03" y="370.20" width="0.84" height="0.84" fill="#ffffff"/>
<rect x="140.31" y="387.34" width="0.84" height="0.84" fill="#ffffff"/>
<rect x="134.32" y="405.41" width="0.84" height="0.84" fill="#ffffff"/>
<rect x="147.98" y="387.98" width="0.84" height="0.84" fill="#ffffff"/>
<rect x="152.42" y="377.48" width="0.84" height="0.84" fill="#ffffff"/>
<rect x="139.71" y="388.85" width="0.84" height="0.84" fill="#ffffff"/>
<rect x="146.88" y="390.41" width="0.84" height="0.84" fill="#ffffff"/>
<rect x="126.58" y="399.46" width="0.84" height="0.84" fill="#ffffff"/>
<rect x="149.40" y="404.85" width="0.84" height="0.84" fill="#ffffff"/>
<rect x="139.29" y="383.89" width="0.84" height="0.84" fill="#ffffff"/>
<rect x="139.74" y="374.01" width="0.84" height="0.84" fill="#ffffff"/>
<rect x="140.64" y="394.07" width="0.84" height="0.84" fill="#ffffff"/>
<rect x="136.44" y="389.07" width="0.84" height="0.84" fill="#ffffff"/>
<rect x="149.46" y="391.21" width="0.84" height="0.84" fill="#ffffff"/>
<rect x="140.87" y="378.96" width="0.84" height="0.84" fill="#ffffff"/>
<rect x="148.30" y="403.16" width="0.84" height="0.84" fill="#ffffff"/>
<rect x="134.90" y="414.42" width="0.84" height="0.84" fill="#ffffff"/>
<rect x="131.44" y="394.05" width="0.84" height="0.84" fill="#ffffff"/>
<rect x="129.10" y="408.73" width="0.84" height="0.84" fill="#ffffff"/>
<rect x="137.99" y="378.87" width="0.84" height="0.84" fill="#ffffff"/>
<rect x="148.20" y="409.23" width="0.84" height="0.84" fill="#ffffff"/>
<rect x="139.67" y="391.78" width="0.84" height="0.84" fill="#ffffff"/>
<rect x="125.74" y="421.60" width="0.84" height="0.84" fill="#ffffff"/>
<rect x="132.20" y="397.76" width="0.84" height="0.84" fill="#ffffff"/>
<rect x="132.62" y="407.74" width="0.84" height="0.84" fill="#ffffff"/>
<rect x="150.02" y="387.53" width="0.84" height="0.84" fill="#ffffff"/>
<rect x="136.88" y="386.08" width="0.84" height="0.84" fill="#ffffff"/>
<rect x="125.56" y="401.48" width="0.84" height="0.84" fill="#ffffff"/>
<rect x="130.08" y="409.01" width="0.84" height="0.84" fill="#ffffff"/>
<rect x="141.37" y="413.41" width="0.84" height="0.84" fill="#ffffff"/>
<rect x="140.75" y="379.41" width="0.84" height="0.84" fill="#ffffff"/>
<rect x="138.69" y="414.35" width="0.84" height="0.84" fill="#ffffff"/>
<rect x="142.19" y="394.38" width="0.84" height="0.84" fill="#ffffff"/>
<rect x="142.07" y="386.54" width="0.84" height="0.84" fill="#ffffff"/>
<rect x="132.25" y="402.41" width="0.84" height="0.84" fill="#ffffff"/>
<rect x="139.22" y="374.61" width="0.84" height="0.84" fill="#ffffff"/>
<rect x="151.40" y="384.59" width="0.84" height="0.84" fill="#ffffff"/>
<rect x="130.82" y="383.49" width="0.84" height="0.84" fill="#ffffff"/>
<rect x="142.60" y="369.59" width="0.84" height="0.84" fill="#ffffff"/>
<rect x="139.10" y="379.80" width="0.84" height="0.84" fill="#ffffff"/>
<rect x="129.92" y="409.67" width="0.84" height="0.84" fill="#ffffff"/>
<rect x="125.07" y="414.74" width="0.84" height="0.84" fill="#ffffff"/>
<rect x="128.05" y="420.71" width="0.84" height="0.84" fill="#ffffff"/>
<rect x="143.49" y="413.80" width="0.84" height="0.84" fill="#ffffff"/>
<rect x="132.19" y="400.02" width="0.84" height="0.84" fill="#ffffff"/>
<rect x="138.20" y="374.58" width="0.84" height="0.84" fill="#ffffff"/>
<rect x="140.87" y="390.84" width="0.84" height="0.84" fill="#ffffff"/>
<rect x="142.91" y="376.56" width="0.84" height="0.84" fill="#ffffff"/>
<rect x="134.43" y="396.83" width="0.84" height="0.84" fill="#ffffff"/>
<rect x="125.25" y="418.88" width="0.84" height="0.84" fill="#ffffff"/>
<rect x="145.13" y="401.46" width="0.84" height="0.84" fill="#ffffff"/>
<rect x="143.65" y="405.70" width="0.84" height="0.84" fill="#ffffff"/>
<rect x="132.80" y="406.95" width="0.84" height="0.84" fill="#ffffff"/>
<rect x="148.02" y="387.05" width="0.84" height="0.84" fill="#ffffff"/>
<rect x="127.39" y="412.09" width="0.84" height="0.84" fill="#ffffff"/>
<rect x="143.03" y="394.18" width="0.84" height="0.84" fill="#ffffff"/>
<rect x="131.17" y="398.15" width="0.84" height="0.84" fill="#ffffff"/>
<rect x="150.86" y="385.19" width="0.84" height="0.84" fill="#ffffff"/>
<rect x="146.22" y="386.84" width="0.84" height="0.84" fill="#ffffff"/>
<rect x="145.95" y="395.30" width="0.84" height="0.84" fill="#ffffff"/>
<rect x="127.49" y="406.07" width="0.84" height="0.84" fill="#ffffff"/>
<rect x="137.69" y="414.16" width="0.84" height="0.84" fill="#ffffff"/>
<rect x="132.35" y="424.00" width="1.00" height="1.00" fill="#1a7ff0"/>
<rect x="125.43" y="395.21" width="1.00" height="1.00" fill="#1a7ff0"/>
<rect x="134.27" y="424.11" width="1.00" height="1.00" fill="#1a7ff0"/>
<rect x="129.19" y="377.77" width="1.00" height="1.00" fill="#1a7ff0"/>
<rect x="152.93" y="398.02" width="1.00" height="1.00" fill="#1a7ff0"/>
<rect x="123.97" y="406.44" width="1.00" height="1.00" fill="#1a7ff0"/>
<rect x="133.33" y="372.29" width="1.00" height="1.00" fill="#1a7ff0"/>
<rect x="138.70" y="421.16" width="1.00" height="1.00" fill="#1a7ff0"/>
<rect x="153.26" y="395.73" width="1.00" height="1.00" fill="#1a7ff0"/>
<rect x="124.16" y="398.88" width="1.00" height="1.00" fill="#1a7ff0"/>
<rect x="154.23" y="385.83" width="1.00" height="1.00" fill="#1a7ff0"/>
<rect x="150.11" y="411.63" width="1.00" height="1.00" fill="#1a7ff0"/>
<rect x="124.95" y="392.22" width="1.00" height="1.00" fill="#1a7ff0"/>
<rect x="137.30" y="423.29" width="1.00" height="1.00" fill="#1a7ff0"/>
<rect x="153.32" y="373.81" width="1.00" height="1.00" fill="#1a7ff0"/>
<rect x="132.84" y="372.63" width="1.00" height="1.00" fill="#1a7ff0"/>
<rect x="125.45" y="395.13" width="1.00" height="1.00" fill="#1a7ff0"/>
<rect x="122.31" y="419.36" width="1.00" height="1.00" fill="#1a7ff0"/>
<rect x="154.40" y="378.71" width="1.00" height="1.00" fill="#1a7ff0"/>
<rect x="126.95" y="385.80" width="1.00" height="1.00" fill="#1a7ff0"/>
<rect x="147.73" y="415.40" width="1.00" height="1.00" fill="#1a7ff0"/>
<rect x="146.98" y="368.50" width="1.00" height="1.00" fill="#1a7ff0"/>
<rect x="139.67" y="421.97" width="1.00" height="1.00" fill="#1a7ff0"/>
<rect x="150.69" y="370.20" width="1.00" height="1.00" fill="#1a7ff0"/>
<rect x="153.46" y="393.52" width="1.00" height="1.00" fill="#1a7ff0"/>
<rect x="150.66" y="406.78" width="1.00" height="1.00" fill="#1a7ff0"/>
<rect x="152.50" y="373.77" width="1.00" height="1.00" fill="#1a7ff0"/>
<rect x="132.19" y="424.96" width="1.00" height="1.00" fill="#1a7ff0"/>
<rect x="129.05" y="423.89" width="1.00" height="1.00" fill="#1a7ff0"/>
<rect x="148.89" y="411.81" width="1.00" height="1.00" fill="#1a7ff0"/>
<rect x="146.05" y="416.39" width="1.00" height="1.00" fill="#1a7ff0"/>
<rect x="141.59" y="367.39" width="1.00" height="1.00" fill="#1a7ff0"/>
<rect x="134.34" y="423.03" width="1.00" height="1.00" fill="#1a7ff0"/>
<rect x="125.31" y="394.20" width="1.00" height="1.00" fill="#1a7ff0"/>
<rect x="151.67" y="370.47" width="1.00" height="1.00" fill="#1a7ff0"/>
<rect x="154.37" y="386.43" width="1.00" height="1.00" fill="#1a7ff0"/>
<rect x="152.12" y="401.55" width="1.00" height="1.00" fill="#1a7ff0"/>
<rect x="125.12" y="422.63" width="1.00" height="1.00" fill="#1a7ff0"/>
<rect x="133.42" y="424.61" width="1.00" height="1.00" fill="#1a7ff0"/>
<rect x="139.30" y="420.79" width="1.00" height="1.00" fill="#1a7ff0"/>
<rect x="133.47" y="370.44" width="1.00" height="1.00" fill="#1a7ff0"/>
<rect x="141.48" y="419.65" width="1.00" height="1.00" fill="#1a7ff0"/>
<rect x="146.33" y="368.54" width="1.00" height="1.00" fill="#1a7ff0"/>
<rect x="142.85" y="368.11" width="1.00" height="1.00" fill="#1a7ff0"/>
<rect x="149.18" y="367.25" width="1.00" height="1.00" fill="#1a7ff0"/>
<rect x="153.35" y="373.87" width="1.00" height="1.00" fill="#1a7ff0"/>
<rect x="151.42" y="404.31" width="1.00" height="1.00" fill="#1a7ff0"/>
<rect x="141.99" y="367.30" width="1.00" height="1.00" fill="#1a7ff0"/>
<rect x="141.80" y="367.64" width="1.00" height="1.00" fill="#1a7ff0"/>
<rect x="152.62" y="395.76" width="1.00" height="1.00" fill="#1a7ff0"/>
<rect x="148.05" y="368.66" width="1.00" height="1.00" fill="#1a7ff0"/>
<rect x="150.00" y="411.02" width="1.00" height="1.00" fill="#1a7ff0"/>
<rect x="151.42" y="369.79" width="1.00" height="1.00" fill="#1a7ff0"/>
<rect x="151.42" y="406.34" width="1.00" height="1.00" fill="#1a7ff0"/>
<rect x="136.94" y="369.35" width="1.00" height="1.00" fill="#1a7ff0"/>
<rect x="153.97" y="380.17" width="1.00" height="1.00" fill="#1a7ff0"/>
<rect x="125.01" y="389.66" width="1.00" height="1.00" fill="#1a7ff0"/>
<rect x="124.77" y="402.24" width="1.00" height="1.00" fill="#1a7ff0"/>
<rect x="154.23" y="379.49" width="1.00" height="1.00" fill="#1a7ff0"/>
<rect x="134.81" y="422.67" width="1.00" height="1.00" fill="#1a7ff0"/>
<path d="M140.80,378.10 C142.32,377.88 143.32,378.22 144.10,379.20 C144.88,380.18 145.15,382.03 145.50,384.00 C145.85,385.97 145.78,388.67 146.20,391.00 C146.62,393.33 147.45,395.62 148.00,398.00 C148.55,400.38 149.43,402.63 149.50,405.30 C149.57,407.97 149.65,411.55 148.40,414.00 C147.15,416.45 144.35,418.42 142.00,420.00 C139.65,421.58 136.80,423.00 134.30,423.50 C131.80,424.00 128.63,423.75 127.00,423.00 C125.37,422.25 124.75,421.17 124.50,419.00 C124.25,416.83 125.00,413.17 125.50,410.00 C126.00,406.83 126.92,403.17 127.50,400.00 C128.08,396.83 128.33,393.50 129.00,391.00 C129.67,388.50 130.50,386.75 131.50,385.00 C132.50,383.25 133.45,381.65 135.00,380.50 C136.55,379.35 139.28,378.32 140.80,378.10Z" fill="#d9eafd" fill-opacity="1.0" stroke="#a6cdf7" stroke-width="0.35" stroke-opacity="0.9"/>
<path d="M139.84,384.88 C141.05,384.71 141.85,384.97 142.48,385.76 C143.11,386.55 143.32,388.03 143.60,389.60 C143.88,391.17 143.83,393.33 144.16,395.20 C144.49,397.07 145.16,398.89 145.60,400.80 C146.04,402.71 146.75,404.51 146.80,406.64 C146.85,408.77 146.92,411.64 145.92,413.60 C144.92,415.56 142.68,417.13 140.80,418.40 C138.92,419.67 136.64,420.80 134.64,421.20 C132.64,421.60 130.11,421.40 128.80,420.80 C127.49,420.20 127.00,419.33 126.80,417.60 C126.60,415.87 127.20,412.93 127.60,410.40 C128.00,407.87 128.73,404.93 129.20,402.40 C129.67,399.87 129.87,397.20 130.40,395.20 C130.93,393.20 131.60,391.80 132.40,390.40 C133.20,389.00 133.96,387.72 135.20,386.80 C136.44,385.88 138.63,385.05 139.84,384.88Z" fill="none" stroke="#a6cdf7" stroke-width="0.35" stroke-opacity="0.9"/>
<path d="M138.88,391.66 C139.79,391.53 140.39,391.73 140.86,392.32 C141.33,392.91 141.49,394.02 141.70,395.20 C141.91,396.38 141.87,398.00 142.12,399.40 C142.37,400.80 142.87,402.17 143.20,403.60 C143.53,405.03 144.06,406.38 144.10,407.98 C144.14,409.58 144.19,411.73 143.44,413.20 C142.69,414.67 141.01,415.85 139.60,416.80 C138.19,417.75 136.48,418.60 134.98,418.90 C133.48,419.20 131.58,419.05 130.60,418.60 C129.62,418.15 129.25,417.50 129.10,416.20 C128.95,414.90 129.40,412.70 129.70,410.80 C130.00,408.90 130.55,406.70 130.90,404.80 C131.25,402.90 131.40,400.90 131.80,399.40 C132.20,397.90 132.70,396.85 133.30,395.80 C133.90,394.75 134.47,393.79 135.40,393.10 C136.33,392.41 137.97,391.79 138.88,391.66Z" fill="none" stroke="#a6cdf7" stroke-width="0.35" stroke-opacity="0.9"/>
<path d="M137.92,398.44 C138.53,398.35 138.93,398.49 139.24,398.88 C139.55,399.27 139.66,400.01 139.80,400.80 C139.94,401.59 139.91,402.67 140.08,403.60 C140.25,404.53 140.58,405.45 140.80,406.40 C141.02,407.35 141.37,408.25 141.40,409.32 C141.43,410.39 141.46,411.82 140.96,412.80 C140.46,413.78 139.34,414.57 138.40,415.20 C137.46,415.83 136.32,416.40 135.32,416.60 C134.32,416.80 133.05,416.70 132.40,416.40 C131.75,416.10 131.50,415.67 131.40,414.80 C131.30,413.93 131.60,412.47 131.80,411.20 C132.00,409.93 132.37,408.47 132.60,407.20 C132.83,405.93 132.93,404.60 133.20,403.60 C133.47,402.60 133.80,401.90 134.20,401.20 C134.60,400.50 134.98,399.86 135.60,399.40 C136.22,398.94 137.31,398.53 137.92,398.44Z" fill="none" stroke="#a6cdf7" stroke-width="0.35" stroke-opacity="0.9"/>
<path d="M136.96,405.22 C137.26,405.18 137.46,405.24 137.62,405.44 C137.78,405.64 137.83,406.01 137.90,406.40 C137.97,406.79 137.96,407.33 138.04,407.80 C138.12,408.27 138.29,408.72 138.40,409.20 C138.51,409.68 138.69,410.13 138.70,410.66 C138.71,411.19 138.73,411.91 138.48,412.40 C138.23,412.89 137.67,413.28 137.20,413.60 C136.73,413.92 136.16,414.20 135.66,414.30 C135.16,414.40 134.53,414.35 134.20,414.20 C133.87,414.05 133.75,413.83 133.70,413.40 C133.65,412.97 133.80,412.23 133.90,411.60 C134.00,410.97 134.18,410.23 134.30,409.60 C134.42,408.97 134.47,408.30 134.60,407.80 C134.73,407.30 134.90,406.95 135.10,406.60 C135.30,406.25 135.49,405.93 135.80,405.70 C136.11,405.47 136.66,405.26 136.96,405.22Z" fill="none" stroke="#a6cdf7" stroke-width="0.35" stroke-opacity="0.9"/>
<ellipse cx="131" cy="418.5" rx="3" ry="1.3" fill="#fff" opacity="0.9"/>
<rect x="224.41" y="370.01" width="1.10" height="1.10" fill="#ff1010"/>
<rect x="223.19" y="382.76" width="1.10" height="1.10" fill="#ff1010"/>
<rect x="227.31" y="377.21" width="1.10" height="1.10" fill="#ff1010"/>
<rect x="223.44" y="374.73" width="1.10" height="1.10" fill="#ff1010"/>
<rect x="221.48" y="370.28" width="1.10" height="1.10" fill="#ff1010"/>
<rect x="224.43" y="378.66" width="1.10" height="1.10" fill="#ff1010"/>
<rect x="216.81" y="374.89" width="1.10" height="1.10" fill="#ff1010"/>
<rect x="225.44" y="376.00" width="1.10" height="1.10" fill="#ff1010"/>
<rect x="229.68" y="384.96" width="1.10" height="1.10" fill="#ff1010"/>
<rect x="227.38" y="370.00" width="1.10" height="1.10" fill="#ff1010"/>
<rect x="212.88" y="373.36" width="1.10" height="1.10" fill="#ff1010"/>
<rect x="218.31" y="380.43" width="1.10" height="1.10" fill="#ff1010"/>
<rect x="227.16" y="378.01" width="1.10" height="1.10" fill="#ff1010"/>
<rect x="223.59" y="378.19" width="1.10" height="1.10" fill="#ff1010"/>
<rect x="212.10" y="377.40" width="1.10" height="1.10" fill="#ff1010"/>
<rect x="215.50" y="375.54" width="1.10" height="1.10" fill="#ff1010"/>
<rect x="211.62" y="379.60" width="1.10" height="1.10" fill="#ff1010"/>
<rect x="228.74" y="369.62" width="1.10" height="1.10" fill="#ff1010"/>
<rect x="222.47" y="368.85" width="1.10" height="1.10" fill="#ff1010"/>
<rect x="218.14" y="371.16" width="1.10" height="1.10" fill="#ff1010"/>
<rect x="227.80" y="380.83" width="1.10" height="1.10" fill="#ff1010"/>
<rect x="228.48" y="372.16" width="1.10" height="1.10" fill="#ff1010"/>
<rect x="225.11" y="380.34" width="1.10" height="1.10" fill="#ff1010"/>
<rect x="221.15" y="384.03" width="1.10" height="1.10" fill="#ff1010"/>
<rect x="223.32" y="373.26" width="1.10" height="1.10" fill="#ff1010"/>
<rect x="225.07" y="376.63" width="1.10" height="1.10" fill="#ff1010"/>
<rect x="215.50" y="378.95" width="1.10" height="1.10" fill="#ff1010"/>
<rect x="212.37" y="376.08" width="1.10" height="1.10" fill="#ff1010"/>
<rect x="222.03" y="368.49" width="1.10" height="1.10" fill="#ff1010"/>
<rect x="223.77" y="369.95" width="1.10" height="1.10" fill="#ff1010"/>
<rect x="223.80" y="374.25" width="1.10" height="1.10" fill="#ff1010"/>
<rect x="212.01" y="385.44" width="1.10" height="1.10" fill="#ff1010"/>
<rect x="212.67" y="371.11" width="1.10" height="1.10" fill="#ff1010"/>
<rect x="221.06" y="372.62" width="1.10" height="1.10" fill="#ff1010"/>
<rect x="221.53" y="376.51" width="1.10" height="1.10" fill="#ff1010"/>
<rect x="222.40" y="377.69" width="1.10" height="1.10" fill="#ff1010"/>
<rect x="217.04" y="372.04" width="1.10" height="1.10" fill="#ff1010"/>
<rect x="224.65" y="375.74" width="1.10" height="1.10" fill="#ff1010"/>
<rect x="221.34" y="384.02" width="1.10" height="1.10" fill="#ff1010"/>
<rect x="211.61" y="373.16" width="1.10" height="1.10" fill="#ff1010"/>
<rect x="222.15" y="369.37" width="1.10" height="1.10" fill="#ff1010"/>
<rect x="225.78" y="375.27" width="1.10" height="1.10" fill="#ff1010"/>
<rect x="217.46" y="371.76" width="1.10" height="1.10" fill="#ff1010"/>
<rect x="229.82" y="369.24" width="1.10" height="1.10" fill="#ff1010"/>
<rect x="227.06" y="380.43" width="1.10" height="1.10" fill="#ff1010"/>
<path d="M219.70,383.00 C220.78,382.83 221.78,383.67 223.00,385.00 C224.22,386.33 225.67,388.83 227.00,391.00 C228.33,393.17 229.68,395.50 231.00,398.00 C232.32,400.50 234.15,403.70 234.90,406.00 C235.65,408.30 236.65,410.75 235.50,411.80 C234.35,412.85 231.42,412.22 228.00,412.30 C224.58,412.38 218.37,412.35 215.00,412.30 C211.63,412.25 209.05,413.05 207.80,412.00 C206.55,410.95 207.13,408.33 207.50,406.00 C207.87,403.67 209.00,400.50 210.00,398.00 C211.00,395.50 212.42,393.00 213.50,391.00 C214.58,389.00 215.47,387.33 216.50,386.00 C217.53,384.67 218.62,383.17 219.70,383.00Z" fill="#ff2a2a" fill-opacity="0.72"/>
<rect x="224.86" y="395.02" width="1.10" height="1.10" fill="#ff0000"/>
<rect x="226.49" y="393.44" width="1.10" height="1.10" fill="#ff0000"/>
<rect x="223.98" y="387.43" width="1.10" height="1.10" fill="#ff0000"/>
<rect x="216.60" y="390.27" width="1.10" height="1.10" fill="#ff0000"/>
<rect x="216.18" y="403.74" width="1.10" height="1.10" fill="#ff0000"/>
<rect x="220.20" y="410.66" width="1.10" height="1.10" fill="#ff0000"/>
<rect x="223.27" y="388.99" width="1.10" height="1.10" fill="#ff0000"/>
<rect x="224.11" y="397.92" width="1.10" height="1.10" fill="#ff0000"/>
<rect x="210.89" y="397.89" width="1.10" height="1.10" fill="#ff0000"/>
<rect x="221.97" y="402.56" width="1.10" height="1.10" fill="#ff0000"/>
<rect x="213.96" y="404.35" width="1.10" height="1.10" fill="#ff0000"/>
<rect x="212.07" y="395.74" width="1.10" height="1.10" fill="#ff0000"/>
<rect x="218.68" y="390.87" width="1.10" height="1.10" fill="#ff0000"/>
<rect x="214.34" y="395.15" width="1.10" height="1.10" fill="#ff0000"/>
<rect x="217.39" y="389.46" width="1.10" height="1.10" fill="#ff0000"/>
<rect x="233.11" y="405.77" width="1.10" height="1.10" fill="#ff0000"/>
<rect x="227.91" y="397.84" width="1.10" height="1.10" fill="#ff0000"/>
<rect x="216.67" y="408.95" width="1.10" height="1.10" fill="#ff0000"/>
<rect x="211.03" y="395.39" width="1.10" height="1.10" fill="#ff0000"/>
<rect x="223.35" y="398.36" width="1.10" height="1.10" fill="#ff0000"/>
<rect x="210.88" y="397.64" width="1.10" height="1.10" fill="#ff0000"/>
<rect x="228.01" y="399.65" width="1.10" height="1.10" fill="#ff0000"/>
<rect x="207.87" y="402.65" width="1.10" height="1.10" fill="#ff0000"/>
<rect x="209.35" y="402.91" width="1.10" height="1.10" fill="#ff0000"/>
<rect x="214.27" y="394.71" width="1.10" height="1.10" fill="#ff0000"/>
<rect x="221.64" y="410.03" width="1.10" height="1.10" fill="#ff0000"/>
<rect x="209.13" y="402.75" width="1.10" height="1.10" fill="#ff0000"/>
<rect x="224.15" y="390.81" width="1.10" height="1.10" fill="#ff0000"/>
<rect x="224.97" y="405.10" width="1.10" height="1.10" fill="#ff0000"/>
<rect x="214.23" y="394.44" width="1.10" height="1.10" fill="#ff0000"/>
<rect x="224.51" y="395.35" width="1.10" height="1.10" fill="#ff0000"/>
<rect x="212.15" y="394.26" width="1.10" height="1.10" fill="#ff0000"/>
<rect x="226.85" y="399.61" width="1.10" height="1.10" fill="#ff0000"/>
<rect x="216.02" y="390.68" width="1.10" height="1.10" fill="#ff0000"/>
<rect x="211.68" y="401.99" width="1.10" height="1.10" fill="#ff0000"/>
<rect x="211.89" y="399.82" width="1.10" height="1.10" fill="#ff0000"/>
<rect x="217.23" y="394.91" width="1.10" height="1.10" fill="#ff0000"/>
<rect x="220.21" y="389.16" width="1.10" height="1.10" fill="#ff0000"/>
<rect x="224.49" y="389.03" width="1.10" height="1.10" fill="#ff0000"/>
<rect x="216.84" y="385.58" width="1.10" height="1.10" fill="#ff0000"/>
<rect x="228.68" y="402.02" width="1.10" height="1.10" fill="#ff0000"/>
<rect x="208.23" y="409.45" width="1.10" height="1.10" fill="#ff0000"/>
<rect x="221.14" y="392.06" width="1.10" height="1.10" fill="#ff0000"/>
<rect x="217.36" y="390.58" width="1.10" height="1.10" fill="#ff0000"/>
<rect x="228.32" y="395.25" width="1.10" height="1.10" fill="#ff0000"/>
<rect x="218.64" y="395.44" width="1.10" height="1.10" fill="#ff0000"/>
<rect x="226.19" y="399.60" width="1.10" height="1.10" fill="#ff0000"/>
<rect x="213.53" y="399.41" width="1.10" height="1.10" fill="#ff0000"/>
<rect x="230.91" y="406.98" width="1.10" height="1.10" fill="#ff0000"/>
<rect x="219.78" y="411.02" width="1.10" height="1.10" fill="#ff0000"/>
<rect x="213.96" y="389.17" width="1.10" height="1.10" fill="#ff0000"/>
<rect x="218.33" y="385.87" width="1.10" height="1.10" fill="#ff0000"/>
<rect x="220.57" y="399.86" width="1.10" height="1.10" fill="#ff0000"/>
<rect x="214.32" y="411.67" width="1.10" height="1.10" fill="#ff0000"/>
<rect x="208.15" y="406.70" width="1.10" height="1.10" fill="#ff0000"/>
<rect x="208.83" y="408.80" width="1.10" height="1.10" fill="#ff0000"/>
<rect x="226.20" y="408.47" width="1.10" height="1.10" fill="#ff0000"/>
<rect x="225.27" y="402.53" width="1.10" height="1.10" fill="#ff0000"/>
<rect x="217.39" y="406.01" width="1.10" height="1.10" fill="#ff0000"/>
<rect x="215.18" y="407.52" width="1.10" height="1.10" fill="#ff0000"/>
<rect x="208.57" y="400.86" width="1.10" height="1.10" fill="#ff0000"/>
<rect x="219.75" y="402.96" width="1.10" height="1.10" fill="#ff0000"/>
<rect x="220.75" y="406.85" width="1.10" height="1.10" fill="#ff0000"/>
<rect x="223.24" y="400.62" width="1.10" height="1.10" fill="#ff0000"/>
<rect x="221.71" y="390.29" width="1.10" height="1.10" fill="#ff0000"/>
<rect x="233.77" y="404.45" width="1.10" height="1.10" fill="#ff0000"/>
<rect x="228.36" y="411.06" width="1.10" height="1.10" fill="#ff0000"/>
<rect x="217.62" y="400.31" width="1.10" height="1.10" fill="#ff0000"/>
<rect x="214.95" y="389.54" width="1.10" height="1.10" fill="#ff0000"/>
<rect x="223.51" y="402.61" width="1.10" height="1.10" fill="#ff0000"/>
<rect x="207.45" y="407.41" width="1.10" height="1.10" fill="#ff0000"/>
<rect x="214.82" y="393.78" width="1.10" height="1.10" fill="#ff0000"/>
<rect x="229.63" y="405.85" width="1.10" height="1.10" fill="#ff0000"/>
<rect x="214.73" y="404.76" width="1.10" height="1.10" fill="#ff0000"/>
<rect x="229.60" y="405.13" width="1.10" height="1.10" fill="#ff0000"/>
<rect x="209.83" y="410.03" width="1.10" height="1.10" fill="#ff0000"/>
<rect x="216.49" y="386.72" width="1.10" height="1.10" fill="#ff0000"/>
<rect x="208.54" y="409.69" width="1.10" height="1.10" fill="#ff0000"/>
<rect x="217.10" y="386.56" width="1.10" height="1.10" fill="#ff0000"/>
<rect x="212.68" y="399.70" width="1.10" height="1.10" fill="#ff0000"/>
<rect x="210.79" y="409.39" width="1.10" height="1.10" fill="#ff0000"/>
<rect x="230.71" y="407.06" width="1.10" height="1.10" fill="#ff0000"/>
<rect x="234.07" y="404.91" width="1.10" height="1.10" fill="#ff0000"/>
<rect x="210.99" y="401.80" width="1.10" height="1.10" fill="#ff0000"/>
<rect x="221.97" y="409.46" width="1.10" height="1.10" fill="#ff0000"/>
<rect x="208.05" y="402.66" width="1.10" height="1.10" fill="#ff0000"/>
<rect x="224.29" y="411.15" width="1.10" height="1.10" fill="#ff0000"/>
<rect x="215.82" y="407.41" width="1.10" height="1.10" fill="#ff0000"/>
<rect x="220.19" y="407.43" width="1.10" height="1.10" fill="#ff0000"/>
<rect x="225.97" y="396.82" width="1.10" height="1.10" fill="#ff0000"/>
<rect x="218.64" y="399.06" width="1.10" height="1.10" fill="#ff0000"/>
<rect x="228.57" y="403.23" width="1.10" height="1.10" fill="#ff0000"/>
<rect x="213.83" y="397.45" width="1.10" height="1.10" fill="#ff0000"/>
<rect x="227.97" y="410.27" width="1.10" height="1.10" fill="#ff0000"/>
<rect x="221.23" y="397.73" width="1.10" height="1.10" fill="#ff0000"/>
<rect x="229.10" y="395.47" width="1.10" height="1.10" fill="#ff0000"/>
<rect x="208.51" y="408.47" width="1.10" height="1.10" fill="#ff0000"/>
<rect x="233.45" y="406.54" width="1.10" height="1.10" fill="#ff0000"/>
<rect x="216.50" y="391.17" width="1.10" height="1.10" fill="#ff0000"/>
<rect x="216.38" y="403.65" width="1.10" height="1.10" fill="#ff0000"/>
<rect x="226.93" y="394.36" width="1.10" height="1.10" fill="#ff0000"/>
<rect x="227.54" y="405.00" width="1.10" height="1.10" fill="#ff0000"/>
<rect x="214.40" y="409.74" width="1.10" height="1.10" fill="#ff0000"/>
<rect x="215.06" y="392.19" width="1.10" height="1.10" fill="#ff0000"/>
<rect x="212.59" y="397.54" width="1.10" height="1.10" fill="#ff0000"/>
<rect x="234.45" y="408.31" width="1.10" height="1.10" fill="#ff0000"/>
<rect x="217.27" y="407.92" width="1.10" height="1.10" fill="#ff0000"/>
<rect x="224.80" y="409.70" width="1.10" height="1.10" fill="#ff0000"/>
<rect x="217.53" y="389.23" width="1.10" height="1.10" fill="#ff0000"/>
<rect x="228.95" y="401.97" width="1.10" height="1.10" fill="#ff0000"/>
<rect x="231.06" y="403.39" width="1.10" height="1.10" fill="#ff0000"/>
<rect x="207.33" y="410.97" width="1.10" height="1.10" fill="#ff0000"/>
<rect x="226.37" y="394.35" width="1.10" height="1.10" fill="#ff0000"/>
<rect x="227.75" y="409.51" width="1.10" height="1.10" fill="#ff0000"/>
<rect x="219.21" y="407.80" width="1.10" height="1.10" fill="#ff0000"/>
<rect x="230.56" y="398.37" width="1.10" height="1.10" fill="#ff0000"/>
<rect x="221.50" y="397.42" width="1.10" height="1.10" fill="#ff0000"/>
<rect x="225.47" y="404.11" width="1.10" height="1.10" fill="#ff0000"/>
<rect x="217.32" y="393.14" width="1.10" height="1.10" fill="#ff0000"/>
<rect x="212.92" y="404.04" width="1.10" height="1.10" fill="#ff0000"/>
<rect x="208.04" y="401.96" width="1.10" height="1.10" fill="#ff0000"/>
<rect x="217.84" y="389.83" width="1.10" height="1.10" fill="#ff0000"/>
<rect x="225.66" y="395.22" width="1.10" height="1.10" fill="#ff0000"/>
<rect x="230.67" y="406.98" width="1.10" height="1.10" fill="#ff0000"/>
<rect x="231.39" y="402.83" width="1.10" height="1.10" fill="#ff0000"/>
<rect x="217.80" y="395.92" width="1.10" height="1.10" fill="#ff0000"/>
<rect x="223.88" y="405.76" width="1.10" height="1.10" fill="#ff0000"/>
<rect x="213.88" y="397.24" width="1.10" height="1.10" fill="#ff0000"/>
<rect x="215.76" y="397.85" width="1.10" height="1.10" fill="#ff0000"/>
<rect x="215.50" y="387.07" width="1.10" height="1.10" fill="#ff0000"/>
<rect x="218.87" y="398.70" width="1.10" height="1.10" fill="#ff0000"/>
<rect x="223.83" y="398.74" width="1.10" height="1.10" fill="#ff0000"/>
<rect x="220.43" y="397.59" width="1.10" height="1.10" fill="#ff0000"/>
<rect x="212.37" y="411.23" width="1.10" height="1.10" fill="#ff0000"/>
<rect x="220.84" y="401.45" width="1.10" height="1.10" fill="#ff0000"/>
<rect x="214.98" y="388.10" width="1.10" height="1.10" fill="#ff0000"/>
<rect x="221.47" y="397.99" width="1.10" height="1.10" fill="#ff0000"/>
<rect x="231.56" y="408.16" width="1.10" height="1.10" fill="#ff0000"/>
<rect x="217.69" y="402.00" width="1.10" height="1.10" fill="#ff0000"/>
<rect x="222.88" y="394.04" width="1.10" height="1.10" fill="#ff0000"/>
<rect x="218.01" y="405.15" width="1.10" height="1.10" fill="#ff0000"/>
<rect x="217.24" y="407.11" width="1.10" height="1.10" fill="#ff0000"/>
<rect x="230.33" y="411.02" width="1.10" height="1.10" fill="#ff0000"/>
<rect x="228.79" y="404.58" width="1.10" height="1.10" fill="#ff0000"/>
<rect x="233.52" y="404.33" width="1.10" height="1.10" fill="#ff0000"/>
<rect x="223.34" y="407.89" width="1.10" height="1.10" fill="#ff0000"/>
<rect x="232.60" y="410.37" width="1.10" height="1.10" fill="#ff0000"/>
<rect x="221.06" y="404.90" width="1.10" height="1.10" fill="#ff0000"/>
<rect x="210.59" y="409.48" width="1.10" height="1.10" fill="#ff0000"/>
<rect x="232.42" y="404.60" width="1.10" height="1.10" fill="#ff0000"/>
<rect x="223.93" y="401.20" width="1.10" height="1.10" fill="#ff0000"/>
<rect x="212.42" y="401.49" width="1.10" height="1.10" fill="#ff0000"/>
<rect x="218.61" y="393.34" width="1.10" height="1.10" fill="#ff0000"/>
<rect x="218.17" y="391.51" width="1.10" height="1.10" fill="#ff0000"/>
<rect x="213.94" y="404.85" width="1.10" height="1.10" fill="#ff0000"/>
<rect x="212.13" y="410.89" width="1.10" height="1.10" fill="#ff0000"/>
<rect x="213.03" y="404.11" width="1.10" height="1.10" fill="#ff0000"/>
<rect x="215.42" y="406.06" width="1.10" height="1.10" fill="#ff0000"/>
<rect x="225.54" y="390.77" width="1.10" height="1.10" fill="#ff0000"/>
<rect x="227.30" y="403.83" width="1.10" height="1.10" fill="#ff0000"/>
<rect x="218.22" y="394.71" width="1.10" height="1.10" fill="#ff0000"/>
<rect x="230.05" y="404.55" width="1.10" height="1.10" fill="#ff0000"/>
<rect x="231.07" y="411.34" width="1.10" height="1.10" fill="#ff0000"/>
<rect x="212.77" y="401.97" width="1.10" height="1.10" fill="#ff0000"/>
<rect x="228.65" y="410.34" width="1.10" height="1.10" fill="#ff0000"/>
<rect x="232.83" y="410.51" width="1.10" height="1.10" fill="#ff0000"/>
<rect x="219.03" y="396.89" width="1.10" height="1.10" fill="#ff0000"/>
<rect x="222.27" y="394.98" width="1.10" height="1.10" fill="#ff0000"/>
<rect x="225.84" y="395.52" width="1.10" height="1.10" fill="#ff0000"/>
<rect x="219.82" y="396.36" width="1.10" height="1.10" fill="#ff0000"/>
<rect x="213.97" y="398.49" width="1.10" height="1.10" fill="#ff0000"/>
<rect x="207.96" y="407.63" width="1.10" height="1.10" fill="#ff0000"/>
<rect x="220.70" y="389.34" width="1.10" height="1.10" fill="#ff0000"/>
<rect x="228.91" y="406.73" width="1.10" height="1.10" fill="#ff0000"/>
<rect x="222.95" y="403.21" width="1.10" height="1.10" fill="#ff0000"/>
<rect x="212.76" y="407.21" width="1.10" height="1.10" fill="#ff0000"/>
<rect x="211.37" y="403.24" width="1.10" height="1.10" fill="#ff0000"/>
<rect x="225.76" y="406.30" width="1.10" height="1.10" fill="#ff0000"/>
<rect x="209.71" y="410.87" width="1.10" height="1.10" fill="#ff0000"/>
<rect x="224.11" y="395.36" width="1.10" height="1.10" fill="#ff0000"/>
<rect x="218.76" y="386.64" width="1.10" height="1.10" fill="#ff0000"/>
<rect x="233.51" y="409.71" width="1.10" height="1.10" fill="#ff0000"/>
<rect x="221.55" y="387.49" width="1.10" height="1.10" fill="#ff0000"/>
<rect x="227.17" y="403.22" width="1.10" height="1.10" fill="#ff0000"/>
<rect x="232.53" y="409.49" width="1.10" height="1.10" fill="#ff0000"/>
<rect x="229.70" y="402.39" width="1.10" height="1.10" fill="#ff0000"/>
<rect x="230.39" y="408.07" width="1.10" height="1.10" fill="#ff0000"/>
<rect x="226.20" y="403.67" width="1.10" height="1.10" fill="#ff0000"/>
<rect x="224.36" y="408.71" width="1.10" height="1.10" fill="#ff0000"/>
<rect x="221.17" y="400.76" width="1.10" height="1.10" fill="#ff0000"/>
<rect x="224.89" y="393.59" width="1.10" height="1.10" fill="#ff0000"/>
<rect x="226.95" y="392.54" width="1.10" height="1.10" fill="#ff0000"/>
<rect x="231.05" y="404.38" width="1.10" height="1.10" fill="#ff0000"/>
<rect x="229.37" y="406.11" width="1.10" height="1.10" fill="#ff0000"/>
<rect x="230.71" y="404.30" width="1.10" height="1.10" fill="#ff0000"/>
<rect x="220.21" y="394.74" width="1.10" height="1.10" fill="#ff0000"/>
<rect x="213.81" y="404.43" width="1.10" height="1.10" fill="#ff0000"/>
<rect x="224.59" y="403.92" width="1.10" height="1.10" fill="#ff0000"/>
<rect x="225.25" y="391.84" width="1.10" height="1.10" fill="#ff0000"/>
<rect x="215.54" y="404.14" width="1.10" height="1.10" fill="#ff0000"/>
<rect x="229.45" y="407.36" width="1.10" height="1.10" fill="#ff0000"/>
<rect x="218.50" y="389.25" width="1.10" height="1.10" fill="#ff0000"/>
<rect x="227.30" y="398.43" width="1.10" height="1.10" fill="#ff0000"/>
<rect x="215.19" y="404.75" width="1.10" height="1.10" fill="#ff0000"/>
<rect x="214.82" y="398.34" width="1.10" height="1.10" fill="#ff0000"/>
<rect x="216.15" y="395.91" width="1.10" height="1.10" fill="#ff0000"/>
<rect x="213.43" y="408.12" width="1.10" height="1.10" fill="#ff0000"/>
<rect x="226.34" y="393.37" width="1.10" height="1.10" fill="#ff0000"/>
<rect x="208.49" y="407.53" width="1.10" height="1.10" fill="#ff0000"/>
<rect x="222.12" y="409.30" width="1.10" height="1.10" fill="#ff0000"/>
<rect x="227.49" y="400.94" width="1.10" height="1.10" fill="#ff0000"/>
<rect x="222.33" y="404.89" width="1.10" height="1.10" fill="#ff0000"/>
<rect x="220.08" y="409.37" width="1.10" height="1.10" fill="#ff0000"/>
<rect x="216.99" y="390.22" width="1.10" height="1.10" fill="#ff0000"/>
<rect x="218.81" y="404.06" width="1.10" height="1.10" fill="#ff0000"/>
<rect x="219.90" y="391.48" width="1.10" height="1.10" fill="#ff0000"/>
<rect x="231.02" y="400.24" width="1.10" height="1.10" fill="#ff0000"/>
<rect x="226.34" y="407.74" width="1.10" height="1.10" fill="#ff0000"/>
<rect x="218.50" y="391.78" width="1.10" height="1.10" fill="#ff0000"/>
<rect x="221.14" y="394.50" width="1.10" height="1.10" fill="#ff0000"/>
<rect x="226.63" y="411.28" width="1.10" height="1.10" fill="#ff0000"/>
<rect x="221.22" y="414.15" width="1.10" height="1.10" fill="#ff0000"/>
<rect x="213.87" y="389.13" width="1.10" height="1.10" fill="#ff0000"/>
<rect x="220.96" y="379.35" width="1.10" height="1.10" fill="#ff0000"/>
<rect x="204.94" y="414.68" width="1.10" height="1.10" fill="#ff0000"/>
<rect x="213.25" y="385.48" width="1.10" height="1.10" fill="#ff0000"/>
<rect x="235.54" y="405.91" width="1.10" height="1.10" fill="#ff0000"/>
<rect x="211.73" y="387.74" width="1.10" height="1.10" fill="#ff0000"/>
<rect x="204.10" y="410.59" width="1.10" height="1.10" fill="#ff0000"/>
<rect x="214.38" y="411.21" width="1.10" height="1.10" fill="#ff0000"/>
<rect x="234.80" y="413.98" width="1.10" height="1.10" fill="#ff0000"/>
<rect x="214.73" y="381.37" width="1.10" height="1.10" fill="#ff0000"/>
<rect x="225.54" y="388.25" width="1.10" height="1.10" fill="#ff0000"/>
<rect x="238.07" y="409.01" width="1.10" height="1.10" fill="#ff0000"/>
<rect x="236.58" y="410.45" width="1.10" height="1.10" fill="#ff0000"/>
<rect x="223.76" y="384.92" width="1.10" height="1.10" fill="#ff0000"/>
<rect x="209.77" y="413.54" width="1.10" height="1.10" fill="#ff0000"/>
<rect x="205.50" y="412.64" width="1.10" height="1.10" fill="#ff0000"/>
<rect x="231.00" y="399.20" width="1.10" height="1.10" fill="#ff0000"/>
<rect x="217.95" y="412.26" width="1.10" height="1.10" fill="#ff0000"/>
<rect x="203.14" y="410.20" width="1.10" height="1.10" fill="#ff0000"/>
<rect x="225.42" y="389.80" width="1.10" height="1.10" fill="#ff0000"/>
<rect x="217.99" y="382.31" width="1.10" height="1.10" fill="#ff0000"/>
<rect x="232.02" y="398.10" width="1.10" height="1.10" fill="#ff0000"/>
<rect x="207.16" y="414.33" width="1.10" height="1.10" fill="#ff0000"/>
<rect x="226.38" y="413.78" width="1.10" height="1.10" fill="#ff0000"/>
<rect x="231.83" y="397.00" width="1.10" height="1.10" fill="#ff0000"/>
<rect x="225.60" y="384.53" width="1.10" height="1.10" fill="#ff0000"/>
<rect x="210.16" y="410.99" width="1.10" height="1.10" fill="#ff0000"/>
<rect x="237.51" y="407.87" width="1.10" height="1.10" fill="#ff0000"/>
<rect x="206.49" y="406.62" width="1.10" height="1.10" fill="#ff0000"/>
<rect x="209.28" y="393.52" width="1.10" height="1.10" fill="#ff0000"/>
<rect x="207.83" y="397.25" width="1.10" height="1.10" fill="#ff0000"/>
<rect x="235.80" y="412.30" width="1.10" height="1.10" fill="#ff0000"/>
<rect x="223.62" y="380.84" width="1.10" height="1.10" fill="#ff0000"/>
<rect x="231.67" y="415.22" width="1.10" height="1.10" fill="#ff0000"/>
<rect x="219.58" y="412.22" width="1.10" height="1.10" fill="#ff0000"/>
<rect x="211.49" y="387.02" width="1.10" height="1.10" fill="#ff0000"/>
<rect x="236.71" y="410.71" width="1.10" height="1.10" fill="#ff0000"/>
<rect x="234.60" y="412.91" width="1.10" height="1.10" fill="#ff0000"/>
<rect x="215.66" y="381.89" width="1.10" height="1.10" fill="#ff0000"/>
<rect x="232.89" y="402.11" width="1.10" height="1.10" fill="#ff0000"/>
<rect x="207.07" y="407.39" width="1.10" height="1.10" fill="#ff0000"/>
<rect x="212.17" y="386.62" width="1.10" height="1.10" fill="#ff0000"/>
<rect x="227.31" y="387.23" width="1.10" height="1.10" fill="#ff0000"/>
<rect x="209.43" y="413.96" width="1.10" height="1.10" fill="#ff0000"/>
<rect x="213.70" y="389.74" width="1.10" height="1.10" fill="#ff0000"/>
<rect x="217.88" y="383.67" width="1.10" height="1.10" fill="#ff0000"/>
<rect x="225.67" y="388.36" width="1.10" height="1.10" fill="#ff0000"/>
<rect x="208.90" y="397.63" width="1.10" height="1.10" fill="#ff0000"/>
<rect x="225.93" y="384.64" width="1.10" height="1.10" fill="#ff0000"/>
<rect x="236.14" y="406.50" width="1.10" height="1.10" fill="#ff0000"/>
<rect x="230.03" y="413.04" width="1.10" height="1.10" fill="#ff0000"/>
<rect x="229.85" y="391.83" width="1.10" height="1.10" fill="#ff0000"/>
<rect x="233.06" y="410.83" width="1.10" height="1.10" fill="#ff0000"/>
<rect x="235.54" y="412.02" width="1.10" height="1.10" fill="#ff0000"/>
<rect x="210.20" y="390.72" width="1.10" height="1.10" fill="#ff0000"/>
<rect x="211.77" y="415.08" width="1.10" height="1.10" fill="#ff0000"/>
<rect x="232.63" y="398.63" width="1.10" height="1.10" fill="#ff0000"/>
<rect x="212.22" y="391.25" width="1.10" height="1.10" fill="#ff0000"/>
<rect x="209.24" y="395.76" width="1.10" height="1.10" fill="#ff0000"/>
<rect x="237.30" y="414.61" width="1.10" height="1.10" fill="#ff0000"/>
<rect x="220.84" y="380.41" width="1.10" height="1.10" fill="#ff0000"/>
<rect x="236.55" y="410.51" width="1.10" height="1.10" fill="#ff0000"/>
<rect x="216.40" y="385.19" width="1.10" height="1.10" fill="#ff0000"/>
<rect x="231.95" y="413.39" width="1.10" height="1.10" fill="#ff0000"/>
<rect x="234.74" y="399.57" width="1.10" height="1.10" fill="#ff0000"/>
<rect x="234.08" y="408.60" width="1.10" height="1.10" fill="#ff0000"/>
<rect x="226.40" y="413.61" width="1.10" height="1.10" fill="#ff0000"/>
<rect x="209.67" y="393.60" width="1.10" height="1.10" fill="#ff0000"/>
<rect x="236.29" y="411.21" width="1.10" height="1.10" fill="#ff0000"/>
<rect x="219.16" y="412.01" width="1.10" height="1.10" fill="#ff0000"/>
<rect x="234.88" y="409.21" width="1.10" height="1.10" fill="#ff0000"/>
<rect x="231.07" y="394.13" width="1.10" height="1.10" fill="#ff0000"/>
<rect x="214.52" y="413.94" width="1.10" height="1.10" fill="#ff0000"/>
<rect x="235.02" y="404.04" width="1.10" height="1.10" fill="#ff0000"/>
<rect x="223.31" y="414.63" width="1.10" height="1.10" fill="#ff0000"/>
<rect x="207.72" y="393.73" width="1.10" height="1.10" fill="#ff0000"/>
<rect x="212.28" y="415.05" width="1.10" height="1.10" fill="#ff0000"/>
<rect x="220.35" y="378.46" width="1.10" height="1.10" fill="#ff0000"/>
<rect x="231.45" y="399.63" width="1.10" height="1.10" fill="#ff0000"/>
<rect x="219.62" y="415.04" width="1.10" height="1.10" fill="#ff0000"/>
<rect x="235.58" y="411.98" width="1.10" height="1.10" fill="#ff0000"/>
<rect x="205.24" y="406.80" width="1.10" height="1.10" fill="#ff0000"/>
<rect x="229.62" y="391.38" width="1.10" height="1.10" fill="#ff0000"/>
<rect x="227.83" y="411.71" width="1.10" height="1.10" fill="#ff0000"/>
<rect x="216.42" y="413.97" width="1.10" height="1.10" fill="#ff0000"/>
<rect x="228.48" y="391.96" width="1.10" height="1.10" fill="#ff0000"/>
<rect x="215.25" y="387.37" width="1.10" height="1.10" fill="#ff0000"/>
<rect x="215.46" y="413.59" width="1.10" height="1.10" fill="#ff0000"/>
<rect x="234.15" y="413.02" width="1.10" height="1.10" fill="#ff0000"/>
<rect x="228.19" y="390.19" width="1.10" height="1.10" fill="#ff0000"/>
<rect x="227.07" y="415.03" width="1.10" height="1.10" fill="#ff0000"/>
<rect x="239.00" y="412.24" width="1.10" height="1.10" fill="#ff0000"/>
<rect x="204.06" y="406.31" width="1.10" height="1.10" fill="#ff0000"/>
<rect x="204.48" y="413.20" width="1.10" height="1.10" fill="#ff0000"/>
<rect x="231.50" y="413.08" width="1.10" height="1.10" fill="#ff0000"/>
<rect x="213.01" y="391.22" width="1.10" height="1.10" fill="#ff0000"/>
<rect x="210.99" y="387.36" width="1.10" height="1.10" fill="#ff0000"/>
<rect x="219.84" y="412.02" width="1.10" height="1.10" fill="#ff0000"/>
<rect x="212.92" y="384.27" width="1.10" height="1.10" fill="#ff0000"/>
<rect x="231.10" y="399.60" width="1.10" height="1.10" fill="#ff0000"/>
<rect x="207.28" y="414.41" width="1.10" height="1.10" fill="#ff0000"/>
<rect x="214.21" y="388.83" width="1.10" height="1.10" fill="#ff0000"/>
<rect x="230.28" y="394.75" width="1.10" height="1.10" fill="#ff0000"/>
<rect x="204.44" y="410.04" width="1.10" height="1.10" fill="#ff0000"/>
<rect x="227.59" y="412.80" width="1.10" height="1.10" fill="#ff0000"/>
<rect x="206.08" y="414.18" width="1.10" height="1.10" fill="#ff0000"/>
<rect x="204.39" y="403.10" width="1.10" height="1.10" fill="#ff0000"/>
<rect x="236.03" y="408.06" width="1.10" height="1.10" fill="#ff0000"/>
<path d="M213.2,412 C216,407 218.5,402 220.3,402 C222,402 223,407 224,412 Z" fill="#fff" stroke="#f08080" stroke-width="0.4"/>
<path d="M203.40,416.00 C204.65,414.67 206.90,413.25 210.00,412.50 C213.10,411.75 218.33,411.75 222.00,411.50 C225.67,411.25 229.75,410.92 232.00,411.00 C234.25,411.08 235.33,411.33 235.50,412.00 C235.67,412.67 234.58,413.92 233.00,415.00 C231.42,416.08 229.17,417.33 226.00,418.50 C222.83,419.67 217.33,421.13 214.00,422.00 C210.67,422.87 207.92,423.95 206.00,423.70 C204.08,423.45 202.93,421.78 202.50,420.50 C202.07,419.22 202.15,417.33 203.40,416.00Z" fill="#fdd8da" fill-opacity="0.95" stroke="#f26a72" stroke-width="0.4" stroke-opacity="0.9"/>
<path d="M206.32,416.00 C207.32,414.93 209.12,413.80 211.60,413.20 C214.08,412.60 218.27,412.60 221.20,412.40 C224.13,412.20 227.40,411.93 229.20,412.00 C231.00,412.07 231.87,412.27 232.00,412.80 C232.13,413.33 231.27,414.33 230.00,415.20 C228.73,416.07 226.93,417.07 224.40,418.00 C221.87,418.93 217.47,420.11 214.80,420.80 C212.13,421.49 209.93,422.36 208.40,422.16 C206.87,421.96 205.95,420.63 205.60,419.60 C205.25,418.57 205.32,417.07 206.32,416.00Z" fill="none" stroke="#f26a72" stroke-width="0.4" stroke-opacity="0.9"/>
<path d="M209.24,416.00 C209.99,415.20 211.34,414.35 213.20,413.90 C215.06,413.45 218.20,413.45 220.40,413.30 C222.60,413.15 225.05,412.95 226.40,413.00 C227.75,413.05 228.40,413.20 228.50,413.60 C228.60,414.00 227.95,414.75 227.00,415.40 C226.05,416.05 224.70,416.80 222.80,417.50 C220.90,418.20 217.60,419.08 215.60,419.60 C213.60,420.12 211.95,420.77 210.80,420.62 C209.65,420.47 208.96,419.47 208.70,418.70 C208.44,417.93 208.49,416.80 209.24,416.00Z" fill="none" stroke="#f26a72" stroke-width="0.4" stroke-opacity="0.9"/>
<path d="M212.16,416.00 C212.66,415.47 213.56,414.90 214.80,414.60 C216.04,414.30 218.13,414.30 219.60,414.20 C221.07,414.10 222.70,413.97 223.60,414.00 C224.50,414.03 224.93,414.13 225.00,414.40 C225.07,414.67 224.63,415.17 224.00,415.60 C223.37,416.03 222.47,416.53 221.20,417.00 C219.93,417.47 217.73,418.05 216.40,418.40 C215.07,418.75 213.97,419.18 213.20,419.08 C212.43,418.98 211.97,418.31 211.80,417.80 C211.63,417.29 211.66,416.53 212.16,416.00Z" fill="none" stroke="#f26a72" stroke-width="0.4" stroke-opacity="0.9"/>
<rect x="202.95" y="420.45" width="1.10" height="1.10" fill="#ff0000"/>
<rect x="203.95" y="421.95" width="1.10" height="1.10" fill="#ff0000"/>
<rect x="204.95" y="418.95" width="1.10" height="1.10" fill="#ff0000"/>
<rect x="206.45" y="413.45" width="1.10" height="1.10" fill="#ff0000"/>
<rect x="233.45" y="412.45" width="1.10" height="1.10" fill="#ff0000"/>
<rect x="232.95" y="407.45" width="1.10" height="1.10" fill="#ff0000"/>
<line x1="44.50" y1="366.50" x2="44.50" y2="438.40" stroke="#555" stroke-width="0.9" />
<line x1="21.30" y1="412.50" x2="95.00" y2="412.50" stroke="#555" stroke-width="0.9" />
<line x1="125.30" y1="366.50" x2="125.30" y2="438.40" stroke="#555" stroke-width="0.9" />
<line x1="102.40" y1="412.50" x2="175.70" y2="412.50" stroke="#555" stroke-width="0.9" />
<line x1="207.60" y1="366.50" x2="207.60" y2="438.40" stroke="#555" stroke-width="0.9" />
<line x1="184.40" y1="412.50" x2="258.00" y2="412.50" stroke="#555" stroke-width="0.9" />
<text x="22.80" y="377.41" font-size="6.7" text-anchor="start" font-weight="normal" fill="#111" >0.11</text>
<text x="86.30" y="377.41" font-size="6.7" text-anchor="end" font-weight="normal" fill="#111" >58.5</text>
<text x="22.80" y="432.71" font-size="6.7" text-anchor="start" font-weight="normal" fill="#111" >0.48</text>
<text x="86.30" y="432.71" font-size="6.7" text-anchor="end" font-weight="normal" fill="#111" >40.9</text>
<text x="103.50" y="377.41" font-size="6.7" text-anchor="start" font-weight="normal" fill="#111" >9.49E-3</text>
<text x="167.40" y="377.41" font-size="6.7" text-anchor="end" font-weight="normal" fill="#111" >58.0</text>
<text x="103.50" y="432.71" font-size="6.7" text-anchor="start" font-weight="normal" fill="#111" >0.49</text>
<text x="167.40" y="432.71" font-size="6.7" text-anchor="end" font-weight="normal" fill="#111" >41.5</text>
<text x="185.60" y="377.41" font-size="6.7" text-anchor="start" font-weight="normal" fill="#111" >0.028</text>
<text x="249.50" y="377.41" font-size="6.7" text-anchor="end" font-weight="normal" fill="#111" >13.7</text>
<text x="185.60" y="432.71" font-size="6.7" text-anchor="start" font-weight="normal" fill="#111" >1.62</text>
<text x="249.50" y="432.71" font-size="6.7" text-anchor="end" font-weight="normal" fill="#111" >84.7</text>
<line x1="12.30" y1="444.80" x2="12.30" y2="408.00" stroke="#111" stroke-width="0.8" />
<path d="M10.80,408.50 L12.30,405.50 L13.80,408.50Z" fill="#111"/>
<line x1="12.30" y1="444.80" x2="49.60" y2="444.80" stroke="#111" stroke-width="0.8" />
<path d="M49.10,443.30 L52.10,444.80 L49.10,446.30Z" fill="#111"/>
<text transform="translate(15.98,391.20) rotate(-90)" font-size="8.0" text-anchor="middle" fill="#111" >CD206</text>
<text x="56.50" y="447.68" font-size="8.0" text-anchor="start" font-weight="normal" fill="#111" >F4/80</text>
<rect x="157.80" y="441.30" width="102.20" height="10.00" fill="#6ab04c" stroke="none" stroke-width="1" />
<text x="208.90" y="449.14" font-size="7.9" text-anchor="middle" font-weight="normal" fill="#111" >M2 Macs in primary tumors</text>
<rect x="21.30" y="481.40" width="73.10" height="71.80" fill="none" stroke="#9a9a9a" stroke-width="0.9" />
<text x="57.85" y="477.64" font-size="7.9" text-anchor="middle" font-weight="normal" fill="#111" >Saline</text>
<rect x="102.40" y="481.40" width="73.30" height="71.80" fill="none" stroke="#9a9a9a" stroke-width="0.9" />
<text x="139.05" y="477.64" font-size="7.9" text-anchor="middle" font-weight="normal" fill="#111" >HNP + US</text>
<rect x="184.40" y="481.40" width="72.90" height="71.80" fill="none" stroke="#9a9a9a" stroke-width="0.9" />
<text x="220.85" y="477.64" font-size="7.9" text-anchor="middle" font-weight="normal" fill="#111" >HPNP + US</text>
<path d="M77.50,498.60 C78.52,498.55 79.35,498.90 79.20,500.00 C79.05,501.10 77.62,503.15 76.60,505.20 C75.58,507.25 74.27,509.95 73.10,512.30 C71.93,514.65 70.93,516.95 69.60,519.30 C68.27,521.65 66.07,524.62 65.10,526.40 C64.13,528.18 63.73,528.82 63.80,530.00 C63.87,531.18 65.42,532.33 65.50,533.50 C65.58,534.67 65.68,536.10 64.30,537.00 C62.92,537.90 59.48,538.83 57.20,538.90 C54.92,538.97 51.88,538.62 50.60,537.40 C49.32,536.18 49.57,533.88 49.50,531.60 C49.43,529.32 49.80,526.03 50.20,523.70 C50.60,521.37 50.88,519.37 51.90,517.60 C52.92,515.83 54.68,514.87 56.30,513.10 C57.92,511.33 59.83,508.75 61.60,507.00 C63.37,505.25 64.98,503.72 66.90,502.60 C68.82,501.48 71.33,500.97 73.10,500.30 C74.87,499.63 76.48,498.65 77.50,498.60Z" fill="#9c9c9c" stroke="#2a2a2a" stroke-width="0.8" stroke-dasharray="1.1 0.7"/>
<path d="M73.16,505.15 C73.89,505.12 74.49,505.37 74.38,506.16 C74.28,506.95 73.24,508.43 72.51,509.90 C71.78,511.38 70.83,513.32 69.99,515.02 C69.15,516.71 68.43,518.36 67.47,520.06 C66.51,521.75 64.93,523.88 64.23,525.17 C63.54,526.45 63.25,526.91 63.30,527.76 C63.34,528.61 64.46,529.44 64.52,530.28 C64.58,531.12 64.65,532.15 63.66,532.80 C62.66,533.45 60.19,534.12 58.54,534.17 C56.90,534.22 54.72,533.96 53.79,533.09 C52.87,532.21 53.05,530.56 53.00,528.91 C52.95,527.27 53.22,524.90 53.50,523.22 C53.79,521.54 54.00,520.10 54.73,518.83 C55.46,517.56 56.73,516.86 57.90,515.59 C59.06,514.32 60.44,512.46 61.71,511.20 C62.98,509.94 64.15,508.84 65.53,508.03 C66.91,507.23 68.72,506.86 69.99,506.38 C71.26,505.90 72.43,505.19 73.16,505.15Z" fill="#b6b6b6" stroke="#9a9a9a" stroke-width="0.35"/>
<path d="M68.97,511.47 C69.43,511.45 69.81,511.61 69.74,512.10 C69.67,512.60 69.03,513.52 68.57,514.44 C68.11,515.36 67.52,516.58 67.00,517.63 C66.47,518.69 66.02,519.73 65.42,520.78 C64.82,521.84 63.83,523.18 63.39,523.98 C62.96,524.78 62.78,525.07 62.81,525.60 C62.84,526.13 63.54,526.65 63.58,527.17 C63.61,527.70 63.66,528.35 63.03,528.75 C62.41,529.15 60.87,529.58 59.84,529.61 C58.81,529.63 57.45,529.48 56.87,528.93 C56.29,528.38 56.41,527.35 56.38,526.32 C56.34,525.29 56.51,523.82 56.69,522.76 C56.87,521.71 57.00,520.81 57.45,520.02 C57.91,519.23 58.71,518.79 59.44,518.00 C60.16,517.20 61.02,516.04 61.82,515.25 C62.62,514.46 63.34,513.77 64.20,513.27 C65.07,512.77 66.20,512.53 67.00,512.24 C67.79,511.94 68.52,511.49 68.97,511.47Z" fill="#cdcdcd" stroke="#a8a8a8" stroke-width="0.35"/>
<ellipse cx="63.5" cy="516" rx="1.1" ry="6.5" fill="#f4f4f4" transform="rotate(38 63.5 516)"/>
<ellipse cx="57" cy="535.5" rx="6" ry="1.6" fill="#8a8a8a" opacity="0.6"/>
<ellipse cx="56" cy="533" rx="3" ry="0.8" fill="#eee"/>
<rect x="75.65" y="499.65" width="1.20" height="1.20" fill="#222"/>
<rect x="78.14" y="497.46" width="1.20" height="1.20" fill="#222"/>
<rect x="74.64" y="496.57" width="1.20" height="1.20" fill="#222"/>
<rect x="74.04" y="496.45" width="1.20" height="1.20" fill="#222"/>
<rect x="74.26" y="499.48" width="1.20" height="1.20" fill="#222"/>
<rect x="78.84" y="500.56" width="1.20" height="1.20" fill="#222"/>
<rect x="75.48" y="498.83" width="1.20" height="1.20" fill="#222"/>
<rect x="77.20" y="498.36" width="1.20" height="1.20" fill="#222"/>
<rect x="73.80" y="501.45" width="1.20" height="1.20" fill="#222"/>
<rect x="76.79" y="497.07" width="1.20" height="1.20" fill="#222"/>
<rect x="73.79" y="496.97" width="1.20" height="1.20" fill="#222"/>
<rect x="78.67" y="497.05" width="1.20" height="1.20" fill="#222"/>
<rect x="76.84" y="502.22" width="1.20" height="1.20" fill="#222"/>
<rect x="73.59" y="498.72" width="1.20" height="1.20" fill="#222"/>
<rect x="76.03" y="501.90" width="1.20" height="1.20" fill="#222"/>
<rect x="74.44" y="497.95" width="1.20" height="1.20" fill="#222"/>
<rect x="74.76" y="496.70" width="1.20" height="1.20" fill="#222"/>
<rect x="77.11" y="501.30" width="1.20" height="1.20" fill="#222"/>
<rect x="75.80" y="496.63" width="1.20" height="1.20" fill="#222"/>
<rect x="77.32" y="500.82" width="1.20" height="1.20" fill="#222"/>
<rect x="76.99" y="498.37" width="1.20" height="1.20" fill="#222"/>
<rect x="77.97" y="500.18" width="1.20" height="1.20" fill="#222"/>
<rect x="63.99" y="531.33" width="1.10" height="1.10" fill="#222"/>
<rect x="62.56" y="529.84" width="1.10" height="1.10" fill="#222"/>
<rect x="62.49" y="526.56" width="1.10" height="1.10" fill="#222"/>
<rect x="64.08" y="527.63" width="1.10" height="1.10" fill="#222"/>
<rect x="64.28" y="533.88" width="1.10" height="1.10" fill="#222"/>
<rect x="62.22" y="532.70" width="1.10" height="1.10" fill="#222"/>
<rect x="62.96" y="534.40" width="1.10" height="1.10" fill="#222"/>
<rect x="67.48" y="528.56" width="1.10" height="1.10" fill="#222"/>
<rect x="68.31" y="533.62" width="1.10" height="1.10" fill="#222"/>
<rect x="62.51" y="530.53" width="1.10" height="1.10" fill="#222"/>
<rect x="67.20" y="535.68" width="1.10" height="1.10" fill="#222"/>
<rect x="63.24" y="528.97" width="1.10" height="1.10" fill="#222"/>
<rect x="67.76" y="536.08" width="1.10" height="1.10" fill="#222"/>
<rect x="62.65" y="527.35" width="1.10" height="1.10" fill="#222"/>
<rect x="67.58" y="529.62" width="1.10" height="1.10" fill="#222"/>
<rect x="64.85" y="535.21" width="1.10" height="1.10" fill="#222"/>
<rect x="67.54" y="533.06" width="1.10" height="1.10" fill="#222"/>
<rect x="68.46" y="533.77" width="1.10" height="1.10" fill="#222"/>
<rect x="68.03" y="532.88" width="1.10" height="1.10" fill="#222"/>
<rect x="66.40" y="527.05" width="1.10" height="1.10" fill="#222"/>
<rect x="68.77" y="535.57" width="1.10" height="1.10" fill="#222"/>
<rect x="64.59" y="532.71" width="1.10" height="1.10" fill="#222"/>
<rect x="62.08" y="531.45" width="1.10" height="1.10" fill="#222"/>
<rect x="66.63" y="529.39" width="1.10" height="1.10" fill="#222"/>
<rect x="65.06" y="534.80" width="1.10" height="1.10" fill="#222"/>
<rect x="63.03" y="531.00" width="1.10" height="1.10" fill="#222"/>
<rect x="62.60" y="530.29" width="1.10" height="1.10" fill="#222"/>
<rect x="68.57" y="532.57" width="1.10" height="1.10" fill="#222"/>
<rect x="62.17" y="535.04" width="1.10" height="1.10" fill="#222"/>
<rect x="66.89" y="531.66" width="1.10" height="1.10" fill="#222"/>
<rect x="71.00" y="531.50" width="1.00" height="1.00" fill="#333"/>
<rect x="72.50" y="530.50" width="1.00" height="1.00" fill="#333"/>
<rect x="72.00" y="533.50" width="1.00" height="1.00" fill="#333"/>
<rect x="73.50" y="533.00" width="1.00" height="1.00" fill="#333"/>
<rect x="68.50" y="525.00" width="1.00" height="1.00" fill="#333"/>
<path d="M159.00,504.30 C159.67,504.47 160.25,505.13 160.00,506.00 C159.75,506.87 158.42,508.33 157.50,509.50 C156.58,510.67 155.50,511.58 154.50,513.00 C153.50,514.42 152.42,516.33 151.50,518.00 C150.58,519.67 148.92,521.50 149.00,523.00 C149.08,524.50 151.17,525.67 152.00,527.00 C152.83,528.33 153.78,529.58 154.00,531.00 C154.22,532.42 154.30,534.42 153.30,535.50 C152.30,536.58 150.22,537.05 148.00,537.50 C145.78,537.95 142.20,538.15 140.00,538.20 C137.80,538.25 136.27,538.50 134.80,537.80 C133.33,537.10 131.90,535.77 131.20,534.00 C130.50,532.23 130.60,529.37 130.60,527.20 C130.60,525.03 130.88,522.78 131.20,521.00 C131.52,519.22 131.53,517.83 132.50,516.50 C133.47,515.17 135.08,514.08 137.00,513.00 C138.92,511.92 141.67,511.00 144.00,510.00 C146.33,509.00 149.00,507.83 151.00,507.00 C153.00,506.17 154.67,505.45 156.00,505.00 C157.33,504.55 158.33,504.13 159.00,504.30Z" fill="#c9e1fc" stroke="#2a88f2" stroke-width="0.6"/>
<path d="M155.00,509.24 C155.53,509.37 156.00,509.91 155.80,510.60 C155.60,511.29 154.53,512.47 153.80,513.40 C153.07,514.33 152.20,515.07 151.40,516.20 C150.60,517.33 149.73,518.87 149.00,520.20 C148.27,521.53 146.93,523.00 147.00,524.20 C147.07,525.40 148.73,526.33 149.40,527.40 C150.07,528.47 150.83,529.47 151.00,530.60 C151.17,531.73 151.24,533.33 150.44,534.20 C149.64,535.07 147.97,535.44 146.20,535.80 C144.43,536.16 141.56,536.32 139.80,536.36 C138.04,536.40 136.81,536.60 135.64,536.04 C134.47,535.48 133.32,534.41 132.76,533.00 C132.20,531.59 132.28,529.29 132.28,527.56 C132.28,525.83 132.51,524.03 132.76,522.60 C133.01,521.17 133.03,520.07 133.80,519.00 C134.57,517.93 135.87,517.07 137.40,516.20 C138.93,515.33 141.13,514.60 143.00,513.80 C144.87,513.00 147.00,512.07 148.60,511.40 C150.20,510.73 151.53,510.16 152.60,509.80 C153.67,509.44 154.47,509.11 155.00,509.24Z" fill="none" stroke="#9cc8f6" stroke-width="0.35"/>
<path d="M151.40,513.69 C151.81,513.79 152.18,514.20 152.02,514.74 C151.87,515.28 151.04,516.19 150.47,516.91 C149.90,517.63 149.23,518.20 148.61,519.08 C147.99,519.96 147.32,521.15 146.75,522.18 C146.18,523.21 145.15,524.35 145.20,525.28 C145.25,526.21 146.54,526.93 147.06,527.76 C147.58,528.59 148.17,529.36 148.30,530.24 C148.43,531.12 148.49,532.36 147.87,533.03 C147.25,533.70 145.95,533.99 144.58,534.27 C143.21,534.55 140.98,534.67 139.62,534.70 C138.26,534.74 137.31,534.89 136.40,534.46 C135.49,534.02 134.60,533.20 134.16,532.10 C133.73,531.00 133.79,529.23 133.79,527.88 C133.79,526.54 133.97,525.15 134.16,524.04 C134.36,522.93 134.37,522.08 134.97,521.25 C135.57,520.42 136.57,519.75 137.76,519.08 C138.95,518.41 140.65,517.84 142.10,517.22 C143.55,516.60 145.20,515.88 146.44,515.36 C147.68,514.84 148.71,514.40 149.54,514.12 C150.37,513.84 150.99,513.58 151.40,513.69Z" fill="none" stroke="#9cc8f6" stroke-width="0.35"/>
<path d="M148.00,517.88 C148.30,517.96 148.56,518.26 148.45,518.65 C148.34,519.04 147.74,519.70 147.32,520.23 C146.91,520.75 146.42,521.16 145.97,521.80 C145.53,522.44 145.04,523.30 144.62,524.05 C144.21,524.80 143.46,525.62 143.50,526.30 C143.54,526.97 144.47,527.50 144.85,528.10 C145.22,528.70 145.65,529.26 145.75,529.90 C145.85,530.54 145.88,531.44 145.44,531.92 C144.99,532.41 144.05,532.62 143.05,532.83 C142.05,533.03 140.44,533.12 139.45,533.14 C138.46,533.16 137.77,533.28 137.11,532.96 C136.45,532.64 135.81,532.04 135.49,531.25 C135.18,530.46 135.22,529.17 135.22,528.19 C135.22,527.22 135.35,526.20 135.49,525.40 C135.63,524.60 135.64,523.98 136.07,523.38 C136.51,522.77 137.24,522.29 138.10,521.80 C138.96,521.31 140.20,520.90 141.25,520.45 C142.30,520.00 143.50,519.48 144.40,519.10 C145.30,518.73 146.05,518.40 146.65,518.20 C147.25,518.00 147.70,517.81 148.00,517.88Z" fill="none" stroke="#9cc8f6" stroke-width="0.35"/>
<path d="M144.60,522.08 C144.79,522.13 144.95,522.32 144.88,522.56 C144.81,522.80 144.44,523.21 144.18,523.54 C143.92,523.87 143.62,524.12 143.34,524.52 C143.06,524.92 142.76,525.45 142.50,525.92 C142.24,526.39 141.78,526.90 141.80,527.32 C141.82,527.74 142.41,528.07 142.64,528.44 C142.87,528.81 143.14,529.16 143.20,529.56 C143.26,529.96 143.28,530.52 143.00,530.82 C142.72,531.12 142.14,531.25 141.52,531.38 C140.90,531.51 139.90,531.56 139.28,531.58 C138.66,531.59 138.23,531.66 137.82,531.46 C137.41,531.27 137.01,530.89 136.82,530.40 C136.62,529.91 136.65,529.10 136.65,528.50 C136.65,527.89 136.73,527.26 136.82,526.76 C136.90,526.26 136.91,525.87 137.18,525.50 C137.45,525.13 137.90,524.82 138.44,524.52 C138.98,524.22 139.75,523.96 140.40,523.68 C141.05,523.40 141.80,523.07 142.36,522.84 C142.92,522.61 143.39,522.41 143.76,522.28 C144.13,522.15 144.41,522.04 144.60,522.08Z" fill="none" stroke="#9cc8f6" stroke-width="0.35"/>
<ellipse cx="147.5" cy="515.5" rx="2.6" ry="8" fill="#ffffff" opacity="0.55" transform="rotate(52 147.5 515.5)"/>
<path d="M131.5,519 L134,515.2 L140,512 L147,509 L153,506.3 L158.8,504.6" fill="none" stroke="#2a88f2" stroke-width="2.4" stroke-linecap="round" stroke-linejoin="round"/>
<path d="M158.8,505 L155.5,510 L152,516.5 L149,523.5" fill="none" stroke="#2a88f2" stroke-width="1.0" stroke-linecap="round" stroke-linejoin="round"/>
<rect x="139.08" y="513.12" width="1.1" height="1.1" fill="#2a88f2"/>
<rect x="133.50" y="515.52" width="1.1" height="1.1" fill="#2a88f2"/>
<rect x="133.03" y="514.60" width="1.1" height="1.1" fill="#2a88f2"/>
<rect x="141.78" y="509.75" width="1.1" height="1.1" fill="#2a88f2"/>
<rect x="143.81" y="509.98" width="1.1" height="1.1" fill="#2a88f2"/>
<rect x="137.82" y="515.48" width="1.1" height="1.1" fill="#2a88f2"/>
<rect x="146.61" y="510.84" width="1.1" height="1.1" fill="#2a88f2"/>
<rect x="133.77" y="515.61" width="1.1" height="1.1" fill="#2a88f2"/>
<rect x="134.17" y="514.37" width="1.1" height="1.1" fill="#2a88f2"/>
<rect x="152.36" y="506.29" width="1.1" height="1.1" fill="#2a88f2"/>
<rect x="148.19" y="508.55" width="1.1" height="1.1" fill="#2a88f2"/>
<rect x="131.81" y="515.11" width="1.1" height="1.1" fill="#2a88f2"/>
<rect x="149.47" y="507.20" width="1.1" height="1.1" fill="#2a88f2"/>
<rect x="147.00" y="508.42" width="1.1" height="1.1" fill="#2a88f2"/>
<rect x="153.34" y="505.44" width="1.1" height="1.1" fill="#2a88f2"/>
<rect x="146.92" y="510.53" width="1.1" height="1.1" fill="#2a88f2"/>
<rect x="150.36" y="508.81" width="1.1" height="1.1" fill="#2a88f2"/>
<rect x="134.37" y="516.24" width="1.1" height="1.1" fill="#2a88f2"/>
<rect x="135.49" y="513.35" width="1.1" height="1.1" fill="#2a88f2"/>
<rect x="150.15" y="508.24" width="1.1" height="1.1" fill="#2a88f2"/>
<rect x="154.35" y="505.88" width="1.1" height="1.1" fill="#2a88f2"/>
<rect x="147.62" y="508.84" width="1.1" height="1.1" fill="#2a88f2"/>
<rect x="155.30" y="505.61" width="1.1" height="1.1" fill="#2a88f2"/>
<rect x="147.93" y="508.74" width="1.1" height="1.1" fill="#2a88f2"/>
<rect x="150.27" y="509.37" width="1.1" height="1.1" fill="#2a88f2"/>
<rect x="138.73" y="513.71" width="1.1" height="1.1" fill="#2a88f2"/>
<rect x="131.94" y="515.52" width="1.1" height="1.1" fill="#2a88f2"/>
<rect x="133.27" y="516.29" width="1.1" height="1.1" fill="#2a88f2"/>
<rect x="134.16" y="514.85" width="1.1" height="1.1" fill="#2a88f2"/>
<rect x="153.55" y="505.10" width="1.1" height="1.1" fill="#2a88f2"/>
<rect x="147.33" y="510.67" width="1.1" height="1.1" fill="#2a88f2"/>
<rect x="153.94" y="505.08" width="1.1" height="1.1" fill="#2a88f2"/>
<rect x="142.22" y="513.70" width="1.1" height="1.1" fill="#2a88f2"/>
<rect x="134.52" y="514.02" width="1.1" height="1.1" fill="#2a88f2"/>
<rect x="137.66" y="514.13" width="1.1" height="1.1" fill="#2a88f2"/>
<rect x="137.00" y="513.15" width="1.1" height="1.1" fill="#2a88f2"/>
<rect x="141.55" y="513.54" width="1.1" height="1.1" fill="#2a88f2"/>
<rect x="150.00" y="508.10" width="1.1" height="1.1" fill="#2a88f2"/>
<rect x="148.23" y="509.25" width="1.1" height="1.1" fill="#2a88f2"/>
<rect x="153.48" y="507.51" width="1.1" height="1.1" fill="#2a88f2"/>
<rect x="154.28" y="510.92" width="1.1" height="1.1" fill="#2a88f2"/>
<rect x="151.00" y="515.32" width="1.1" height="1.1" fill="#2a88f2"/>
<rect x="155.44" y="507.99" width="1.1" height="1.1" fill="#2a88f2"/>
<rect x="156.54" y="504.73" width="1.1" height="1.1" fill="#2a88f2"/>
<rect x="157.04" y="505.38" width="1.1" height="1.1" fill="#2a88f2"/>
<rect x="150.14" y="519.92" width="1.1" height="1.1" fill="#2a88f2"/>
<rect x="155.52" y="508.85" width="1.1" height="1.1" fill="#2a88f2"/>
<rect x="158.14" y="507.71" width="1.1" height="1.1" fill="#2a88f2"/>
<rect x="153.79" y="512.24" width="1.1" height="1.1" fill="#2a88f2"/>
<rect x="156.97" y="505.87" width="1.1" height="1.1" fill="#2a88f2"/>
<rect x="149.36" y="518.83" width="1.1" height="1.1" fill="#2a88f2"/>
<rect x="149.16" y="521.34" width="1.1" height="1.1" fill="#2a88f2"/>
<rect x="151.80" y="514.55" width="1.1" height="1.1" fill="#2a88f2"/>
<rect x="149.79" y="522.94" width="1.1" height="1.1" fill="#2a88f2"/>
<rect x="155.48" y="508.61" width="1.1" height="1.1" fill="#2a88f2"/>
<rect x="150.92" y="519.29" width="1.1" height="1.1" fill="#2a88f2"/>
<rect x="154.42" y="511.17" width="1.1" height="1.1" fill="#2a88f2"/>
<rect x="149.70" y="523.28" width="1.1" height="1.1" fill="#2a88f2"/>
<path d="M147,524 C150,523.5 153,527 153.3,531 C153.5,535 151,537 148.5,536.5 C146,535 145,529 147,524Z" fill="#2a88f2" fill-opacity="0.85"/>
<ellipse cx="137" cy="535.3" rx="3.2" ry="0.9" fill="#fff" opacity="0.9"/>
<rect x="148.95" y="502.15" width="1.10" height="1.10" fill="#1a7ff0"/>
<rect x="154.95" y="536.95" width="1.10" height="1.10" fill="#1a7ff0"/>
<rect x="156.45" y="532.45" width="1.10" height="1.10" fill="#1a7ff0"/>
<rect x="155.45" y="528.95" width="1.10" height="1.10" fill="#1a7ff0"/>
<rect x="132.45" y="513.45" width="1.10" height="1.10" fill="#1a7ff0"/>
<rect x="130.45" y="517.45" width="1.10" height="1.10" fill="#1a7ff0"/>
<path d="M239.50,504.30 C240.17,504.47 240.75,505.13 240.50,506.00 C240.25,506.87 238.92,508.33 238.00,509.50 C237.08,510.67 236.00,511.58 235.00,513.00 C234.00,514.42 232.92,516.33 232.00,518.00 C231.08,519.67 229.42,521.50 229.50,523.00 C229.58,524.50 231.67,525.67 232.50,527.00 C233.33,528.33 234.28,529.58 234.50,531.00 C234.72,532.42 234.80,534.42 233.80,535.50 C232.80,536.58 230.72,537.05 228.50,537.50 C226.28,537.95 222.70,538.15 220.50,538.20 C218.30,538.25 216.77,538.50 215.30,537.80 C213.83,537.10 212.40,535.77 211.70,534.00 C211.00,532.23 211.10,529.37 211.10,527.20 C211.10,525.03 211.38,522.78 211.70,521.00 C212.02,519.22 212.03,517.83 213.00,516.50 C213.97,515.17 215.58,514.08 217.50,513.00 C219.42,511.92 222.17,511.00 224.50,510.00 C226.83,509.00 229.50,507.83 231.50,507.00 C233.50,506.17 235.17,505.45 236.50,505.00 C237.83,504.55 238.83,504.13 239.50,504.30Z" fill="#fcd0d4" stroke="#ff1818" stroke-width="0.6"/>
<path d="M235.50,509.24 C236.03,509.37 236.50,509.91 236.30,510.60 C236.10,511.29 235.03,512.47 234.30,513.40 C233.57,514.33 232.70,515.07 231.90,516.20 C231.10,517.33 230.23,518.87 229.50,520.20 C228.77,521.53 227.43,523.00 227.50,524.20 C227.57,525.40 229.23,526.33 229.90,527.40 C230.57,528.47 231.33,529.47 231.50,530.60 C231.67,531.73 231.74,533.33 230.94,534.20 C230.14,535.07 228.47,535.44 226.70,535.80 C224.93,536.16 222.06,536.32 220.30,536.36 C218.54,536.40 217.31,536.60 216.14,536.04 C214.97,535.48 213.82,534.41 213.26,533.00 C212.70,531.59 212.78,529.29 212.78,527.56 C212.78,525.83 213.01,524.03 213.26,522.60 C213.51,521.17 213.53,520.07 214.30,519.00 C215.07,517.93 216.37,517.07 217.90,516.20 C219.43,515.33 221.63,514.60 223.50,513.80 C225.37,513.00 227.50,512.07 229.10,511.40 C230.70,510.73 232.03,510.16 233.10,509.80 C234.17,509.44 234.97,509.11 235.50,509.24Z" fill="none" stroke="#f59aa2" stroke-width="0.35"/>
<path d="M231.90,513.69 C232.31,513.79 232.68,514.20 232.52,514.74 C232.37,515.28 231.54,516.19 230.97,516.91 C230.40,517.63 229.73,518.20 229.11,519.08 C228.49,519.96 227.82,521.15 227.25,522.18 C226.68,523.21 225.65,524.35 225.70,525.28 C225.75,526.21 227.04,526.93 227.56,527.76 C228.08,528.59 228.67,529.36 228.80,530.24 C228.93,531.12 228.99,532.36 228.37,533.03 C227.75,533.70 226.45,533.99 225.08,534.27 C223.71,534.55 221.48,534.67 220.12,534.70 C218.76,534.74 217.81,534.89 216.90,534.46 C215.99,534.02 215.10,533.20 214.66,532.10 C214.23,531.00 214.29,529.23 214.29,527.88 C214.29,526.54 214.47,525.15 214.66,524.04 C214.86,522.93 214.87,522.08 215.47,521.25 C216.07,520.42 217.07,519.75 218.26,519.08 C219.45,518.41 221.15,517.84 222.60,517.22 C224.05,516.60 225.70,515.88 226.94,515.36 C228.18,514.84 229.21,514.40 230.04,514.12 C230.87,513.84 231.49,513.58 231.90,513.69Z" fill="none" stroke="#f59aa2" stroke-width="0.35"/>
<path d="M228.50,517.88 C228.80,517.96 229.06,518.26 228.95,518.65 C228.84,519.04 228.24,519.70 227.82,520.23 C227.41,520.75 226.92,521.16 226.47,521.80 C226.03,522.44 225.54,523.30 225.12,524.05 C224.71,524.80 223.96,525.62 224.00,526.30 C224.04,526.97 224.97,527.50 225.35,528.10 C225.72,528.70 226.15,529.26 226.25,529.90 C226.35,530.54 226.38,531.44 225.94,531.92 C225.49,532.41 224.55,532.62 223.55,532.83 C222.55,533.03 220.94,533.12 219.95,533.14 C218.96,533.16 218.27,533.28 217.61,532.96 C216.95,532.64 216.31,532.04 215.99,531.25 C215.68,530.46 215.72,529.17 215.72,528.19 C215.72,527.22 215.85,526.20 215.99,525.40 C216.13,524.60 216.14,523.98 216.57,523.38 C217.01,522.77 217.74,522.29 218.60,521.80 C219.46,521.31 220.70,520.90 221.75,520.45 C222.80,520.00 224.00,519.48 224.90,519.10 C225.80,518.73 226.55,518.40 227.15,518.20 C227.75,518.00 228.20,517.81 228.50,517.88Z" fill="none" stroke="#f59aa2" stroke-width="0.35"/>
<path d="M225.10,522.08 C225.29,522.13 225.45,522.32 225.38,522.56 C225.31,522.80 224.94,523.21 224.68,523.54 C224.42,523.87 224.12,524.12 223.84,524.52 C223.56,524.92 223.26,525.45 223.00,525.92 C222.74,526.39 222.28,526.90 222.30,527.32 C222.32,527.74 222.91,528.07 223.14,528.44 C223.37,528.81 223.64,529.16 223.70,529.56 C223.76,529.96 223.78,530.52 223.50,530.82 C223.22,531.12 222.64,531.25 222.02,531.38 C221.40,531.51 220.40,531.56 219.78,531.58 C219.16,531.59 218.73,531.66 218.32,531.46 C217.91,531.27 217.51,530.89 217.32,530.40 C217.12,529.91 217.15,529.10 217.15,528.50 C217.15,527.89 217.23,527.26 217.32,526.76 C217.40,526.26 217.41,525.87 217.68,525.50 C217.95,525.13 218.40,524.82 218.94,524.52 C219.48,524.22 220.25,523.96 220.90,523.68 C221.55,523.40 222.30,523.07 222.86,522.84 C223.42,522.61 223.89,522.41 224.26,522.28 C224.63,522.15 224.91,522.04 225.10,522.08Z" fill="none" stroke="#f59aa2" stroke-width="0.35"/>
<ellipse cx="228.0" cy="515.5" rx="2.6" ry="8" fill="#ffffff" opacity="0.55" transform="rotate(52 228.0 515.5)"/>
<path d="M212.0,519 L214.5,515.2 L220.5,512 L227.5,509 L233.5,506.3 L239.3,504.6" fill="none" stroke="#ff1818" stroke-width="2.4" stroke-linecap="round" stroke-linejoin="round"/>
<path d="M239.3,505 L236.0,510 L232.5,516.5 L229.5,523.5" fill="none" stroke="#ff1818" stroke-width="1.0" stroke-linecap="round" stroke-linejoin="round"/>
<rect x="214.93" y="516.15" width="1.1" height="1.1" fill="#ff1818"/>
<rect x="225.78" y="509.15" width="1.1" height="1.1" fill="#ff1818"/>
<rect x="225.99" y="510.38" width="1.1" height="1.1" fill="#ff1818"/>
<rect x="214.82" y="514.55" width="1.1" height="1.1" fill="#ff1818"/>
<rect x="233.19" y="506.88" width="1.1" height="1.1" fill="#ff1818"/>
<rect x="234.58" y="505.58" width="1.1" height="1.1" fill="#ff1818"/>
<rect x="217.72" y="513.79" width="1.1" height="1.1" fill="#ff1818"/>
<rect x="212.72" y="515.11" width="1.1" height="1.1" fill="#ff1818"/>
<rect x="228.37" y="510.03" width="1.1" height="1.1" fill="#ff1818"/>
<rect x="221.10" y="514.22" width="1.1" height="1.1" fill="#ff1818"/>
<rect x="236.65" y="503.64" width="1.1" height="1.1" fill="#ff1818"/>
<rect x="217.47" y="514.27" width="1.1" height="1.1" fill="#ff1818"/>
<rect x="226.79" y="510.68" width="1.1" height="1.1" fill="#ff1818"/>
<rect x="216.24" y="516.68" width="1.1" height="1.1" fill="#ff1818"/>
<rect x="232.53" y="508.42" width="1.1" height="1.1" fill="#ff1818"/>
<rect x="226.00" y="512.12" width="1.1" height="1.1" fill="#ff1818"/>
<rect x="213.67" y="514.83" width="1.1" height="1.1" fill="#ff1818"/>
<rect x="229.74" y="508.90" width="1.1" height="1.1" fill="#ff1818"/>
<rect x="217.08" y="512.64" width="1.1" height="1.1" fill="#ff1818"/>
<rect x="227.61" y="510.89" width="1.1" height="1.1" fill="#ff1818"/>
<rect x="214.73" y="514.86" width="1.1" height="1.1" fill="#ff1818"/>
<rect x="217.41" y="513.30" width="1.1" height="1.1" fill="#ff1818"/>
<rect x="228.56" y="509.80" width="1.1" height="1.1" fill="#ff1818"/>
<rect x="212.48" y="517.00" width="1.1" height="1.1" fill="#ff1818"/>
<rect x="217.93" y="513.77" width="1.1" height="1.1" fill="#ff1818"/>
<rect x="219.86" y="512.01" width="1.1" height="1.1" fill="#ff1818"/>
<rect x="227.78" y="507.21" width="1.1" height="1.1" fill="#ff1818"/>
<rect x="231.58" y="506.19" width="1.1" height="1.1" fill="#ff1818"/>
<rect x="213.05" y="514.89" width="1.1" height="1.1" fill="#ff1818"/>
<rect x="227.09" y="508.40" width="1.1" height="1.1" fill="#ff1818"/>
<rect x="218.34" y="513.25" width="1.1" height="1.1" fill="#ff1818"/>
<rect x="236.89" y="504.16" width="1.1" height="1.1" fill="#ff1818"/>
<rect x="219.87" y="513.61" width="1.1" height="1.1" fill="#ff1818"/>
<rect x="219.65" y="511.57" width="1.1" height="1.1" fill="#ff1818"/>
<rect x="222.69" y="510.77" width="1.1" height="1.1" fill="#ff1818"/>
<rect x="232.34" y="507.56" width="1.1" height="1.1" fill="#ff1818"/>
<rect x="220.77" y="513.66" width="1.1" height="1.1" fill="#ff1818"/>
<rect x="227.77" y="509.87" width="1.1" height="1.1" fill="#ff1818"/>
<rect x="216.02" y="514.78" width="1.1" height="1.1" fill="#ff1818"/>
<rect x="213.88" y="515.87" width="1.1" height="1.1" fill="#ff1818"/>
<rect x="237.30" y="505.50" width="1.1" height="1.1" fill="#ff1818"/>
<rect x="238.64" y="505.68" width="1.1" height="1.1" fill="#ff1818"/>
<rect x="237.76" y="504.14" width="1.1" height="1.1" fill="#ff1818"/>
<rect x="231.15" y="520.60" width="1.1" height="1.1" fill="#ff1818"/>
<rect x="233.38" y="516.05" width="1.1" height="1.1" fill="#ff1818"/>
<rect x="235.14" y="510.19" width="1.1" height="1.1" fill="#ff1818"/>
<rect x="232.38" y="516.53" width="1.1" height="1.1" fill="#ff1818"/>
<rect x="236.44" y="511.28" width="1.1" height="1.1" fill="#ff1818"/>
<rect x="231.94" y="517.71" width="1.1" height="1.1" fill="#ff1818"/>
<rect x="231.59" y="519.47" width="1.1" height="1.1" fill="#ff1818"/>
<rect x="238.03" y="504.21" width="1.1" height="1.1" fill="#ff1818"/>
<rect x="238.97" y="504.63" width="1.1" height="1.1" fill="#ff1818"/>
<rect x="236.93" y="506.40" width="1.1" height="1.1" fill="#ff1818"/>
<rect x="233.35" y="515.86" width="1.1" height="1.1" fill="#ff1818"/>
<rect x="232.05" y="518.35" width="1.1" height="1.1" fill="#ff1818"/>
<rect x="232.75" y="514.16" width="1.1" height="1.1" fill="#ff1818"/>
<rect x="238.68" y="505.20" width="1.1" height="1.1" fill="#ff1818"/>
<rect x="237.12" y="508.43" width="1.1" height="1.1" fill="#ff1818"/>
<path d="M227.5,524 C230.5,523.5 233.5,527 233.8,531 C234.0,535 231.5,537 229.0,536.5 C226.5,535 225.5,529 227.5,524Z" fill="#ff1818" fill-opacity="0.85"/>
<ellipse cx="217.5" cy="535.3" rx="3.2" ry="0.9" fill="#fff" opacity="0.9"/>
<rect x="240.45" y="504.45" width="1.10" height="1.10" fill="#ff0000"/>
<rect x="235.45" y="535.95" width="1.10" height="1.10" fill="#ff0000"/>
<rect x="236.95" y="532.45" width="1.10" height="1.10" fill="#ff0000"/>
<rect x="237.45" y="528.45" width="1.10" height="1.10" fill="#ff0000"/>
<rect x="212.45" y="515.45" width="1.10" height="1.10" fill="#ff0000"/>
<rect x="214.45" y="513.95" width="1.10" height="1.10" fill="#ff0000"/>
<rect x="58.40" y="489.80" width="26.20" height="36.30" fill="none" stroke="#555" stroke-width="0.8" />
<rect x="140.20" y="489.80" width="26.50" height="36.30" fill="none" stroke="#555" stroke-width="0.8" />
<rect x="222.30" y="489.80" width="25.50" height="36.30" fill="none" stroke="#555" stroke-width="0.8" />
<text x="22.80" y="492.81" font-size="6.7" text-anchor="start" font-weight="normal" fill="#111" >62.8</text>
<text x="103.90" y="492.81" font-size="6.7" text-anchor="start" font-weight="normal" fill="#111" >45.9</text>
<text x="185.90" y="492.81" font-size="6.7" text-anchor="start" font-weight="normal" fill="#111" >22.5</text>
<line x1="12.30" y1="559.80" x2="12.30" y2="523.50" stroke="#111" stroke-width="0.8" />
<path d="M10.80,524.00 L12.30,521.00 L13.80,524.00Z" fill="#111"/>
<line x1="12.30" y1="559.80" x2="49.60" y2="559.80" stroke="#111" stroke-width="0.8" />
<path d="M49.10,558.30 L52.10,559.80 L49.10,561.30Z" fill="#111"/>
<text transform="translate(15.98,509.50) rotate(-90)" font-size="8.0" text-anchor="middle" fill="#111" >Gr-1</text>
<text x="57.00" y="562.68" font-size="8.0" text-anchor="start" font-weight="normal" fill="#111" >CD11b</text>
<rect x="165.20" y="556.30" width="95.40" height="9.40" fill="#6ab04c" stroke="none" stroke-width="1" />
<text x="212.90" y="563.84" font-size="7.9" text-anchor="middle" font-weight="normal" fill="#111" >MDSCs in primary tumors</text>
<rect x="13.00" y="124.00" width="106.50" height="9.90" fill="#f8b67c" stroke="none" stroke-width="1" />
<text x="15.40" y="131.60" font-size="7.95" text-anchor="start" font-weight="normal" fill="#111" >Cancer therapy in NSG mice</text>
<g fill="none" stroke="#b0b0b0" stroke-width="0.6" stroke-linecap="round" stroke-linejoin="round"><path d="M10.8,137.2 Q13.2,135.4 15.7,137.2"/><path d="M10.8,137.2 L10.0,140.8 L9.3,144 L9.3,154 L7.4,156.5 L7.5,160.4 Q13,162.6 18.5,160.4 L18.7,156.5 L16.6,154 L16.6,144 L16.1,140.8 L15.7,137.2"/><path d="M8.2,140.0 L8.7,143.4 M18.6,140.0 L18.1,143.4 M9.9,141.5 L11.2,139 M16.1,141.5 L14.9,139"/><path d="M7.9,160.7 L5.2,163.7 M18.1,160.7 L21.3,163.7 M12.9,162.2 L12.9,166.8"/></g>
<circle cx="10.1" cy="158.5" r="0.8" fill="#58c43c"/><circle cx="15.8" cy="158.3" r="1.2" fill="#f58a10"/>
<line x1="21.60" y1="147.80" x2="100.00" y2="147.80" stroke="#222" stroke-width="0.8" />
<path d="M99.2,145.9 L102.4,147.8 L99.2,149.7 Z" fill="#111"/>
<path d="M23.70,147.20 A1.9,1.9 0 1 1 27.50,147.2 L25.60,150.2 Z" fill="#f08a1c"/>
<line x1="25.60" y1="147.80" x2="25.60" y2="149.60" stroke="#333" stroke-width="0.5" />
<path d="M42.60,147.20 A1.9,1.9 0 1 1 46.40,147.2 L44.50,150.2 Z" fill="#58c43c"/>
<line x1="44.50" y1="147.80" x2="44.50" y2="149.60" stroke="#333" stroke-width="0.5" />
<path d="M55.00,147.20 A1.9,1.9 0 1 1 58.80,147.2 L56.90,150.2 Z" fill="#1a8cff"/>
<line x1="56.90" y1="147.80" x2="56.90" y2="149.60" stroke="#333" stroke-width="0.5" />
<path d="M60.64,147.20 A1.9,1.9 0 1 1 64.44,147.2 L62.54,150.2 Z" fill="#e8404a"/>
<line x1="62.54" y1="147.80" x2="62.54" y2="149.60" stroke="#333" stroke-width="0.5" />
<path d="M66.28,147.20 A1.9,1.9 0 1 1 70.08,147.2 L68.18,150.2 Z" fill="#1a8cff"/>
<line x1="68.18" y1="147.80" x2="68.18" y2="149.60" stroke="#333" stroke-width="0.5" />
<path d="M71.92,147.20 A1.9,1.9 0 1 1 75.72,147.2 L73.82,150.2 Z" fill="#e8404a"/>
<line x1="73.82" y1="147.80" x2="73.82" y2="149.60" stroke="#333" stroke-width="0.5" />
<path d="M77.56,147.20 A1.9,1.9 0 1 1 81.36,147.2 L79.46,150.2 Z" fill="#1a8cff"/>
<line x1="79.46" y1="147.80" x2="79.46" y2="149.60" stroke="#333" stroke-width="0.5" />
<path d="M83.20,147.20 A1.9,1.9 0 1 1 87.00,147.2 L85.10,150.2 Z" fill="#e8404a"/>
<line x1="85.10" y1="147.80" x2="85.10" y2="149.60" stroke="#333" stroke-width="0.5" />
<path d="M88.84,147.20 A1.9,1.9 0 1 1 92.64,147.2 L90.74,150.2 Z" fill="#1a8cff"/>
<line x1="90.74" y1="147.80" x2="90.74" y2="149.60" stroke="#333" stroke-width="0.5" />
<path d="M94.48,147.20 A1.9,1.9 0 1 1 98.28,147.2 L96.38,150.2 Z" fill="#e8404a"/>
<line x1="96.38" y1="147.80" x2="96.38" y2="149.60" stroke="#333" stroke-width="0.5" />
<text x="25.70" y="160.54" font-size="7.9" text-anchor="middle" font-weight="normal" fill="#111" >-7</text>
<text x="44.40" y="160.54" font-size="7.9" text-anchor="middle" font-weight="normal" fill="#111" >-2</text>
<text x="56.90" y="160.54" font-size="7.9" text-anchor="middle" font-weight="normal" fill="#111" >0</text>
<text x="62.54" y="160.54" font-size="7.9" text-anchor="middle" font-weight="normal" fill="#111" >1</text>
<text x="68.18" y="160.54" font-size="7.9" text-anchor="middle" font-weight="normal" fill="#111" >2</text>
<text x="73.82" y="160.54" font-size="7.9" text-anchor="middle" font-weight="normal" fill="#111" >3</text>
<text x="79.46" y="160.54" font-size="7.9" text-anchor="middle" font-weight="normal" fill="#111" >4</text>
<text x="85.10" y="160.54" font-size="7.9" text-anchor="middle" font-weight="normal" fill="#111" >5</text>
<text x="90.74" y="160.54" font-size="7.9" text-anchor="middle" font-weight="normal" fill="#111" >6</text>
<text x="96.38" y="160.54" font-size="7.9" text-anchor="middle" font-weight="normal" fill="#111" >7</text>
<text x="62.00" y="168.30" font-size="7.8" text-anchor="middle" font-weight="normal" fill="#111" >Time (d)</text>
<circle cx="12.9" cy="176.5" r="1.85" fill="#f08a1c"/>
<text x="20.80" y="179.67" font-size="7.98" text-anchor="start" font-weight="normal" fill="#111" >Primary tumor implantation</text>
<circle cx="12.9" cy="187.8" r="1.85" fill="#58c43c"/>
<text x="20.80" y="190.97" font-size="7.98" text-anchor="start" font-weight="normal" fill="#111" >Distant tumor implantation</text>
<circle cx="12.9" cy="199.2" r="1.85" fill="#1a8cff"/>
<text x="20.80" y="202.37" font-size="7.98" text-anchor="start" font-weight="normal" fill="#111" >i.v. injection of nanoparticles</text>
<circle cx="12.9" cy="210.5" r="1.85" fill="#e8404a"/>
<text x="20.80" y="213.67" font-size="7.98" text-anchor="start" font-weight="normal" fill="#111" >US treatment</text>
<line x1="159.60" y1="129.50" x2="261.50" y2="129.50" stroke="#a9a9a9" stroke-width="0.9" />
<line x1="261.50" y1="129.50" x2="261.50" y2="210.90" stroke="#a9a9a9" stroke-width="0.9" />
<line x1="178.86" y1="203.03" x2="178.86" y2="199.78" stroke="#333" stroke-width="0.5" stroke-opacity="0.45"/>
<line x1="178.06" y1="199.78" x2="179.66" y2="199.78" stroke="#333" stroke-width="0.5" stroke-opacity="0.45"/>
<line x1="178.06" y1="203.03" x2="179.66" y2="203.03" stroke="#333" stroke-width="0.5" stroke-opacity="0.45"/>
<line x1="191.52" y1="195.43" x2="191.52" y2="193.26" stroke="#333" stroke-width="0.5" stroke-opacity="0.45"/>
<line x1="190.72" y1="193.26" x2="192.32" y2="193.26" stroke="#333" stroke-width="0.5" stroke-opacity="0.45"/>
<line x1="190.72" y1="195.43" x2="192.32" y2="195.43" stroke="#333" stroke-width="0.5" stroke-opacity="0.45"/>
<line x1="204.18" y1="189.46" x2="204.18" y2="175.36" stroke="#333" stroke-width="0.5" stroke-opacity="0.45"/>
<line x1="203.38" y1="175.36" x2="204.98" y2="175.36" stroke="#333" stroke-width="0.5" stroke-opacity="0.45"/>
<line x1="203.38" y1="189.46" x2="204.98" y2="189.46" stroke="#333" stroke-width="0.5" stroke-opacity="0.45"/>
<line x1="216.84" y1="177.80" x2="216.84" y2="171.29" stroke="#333" stroke-width="0.5" stroke-opacity="0.45"/>
<line x1="216.04" y1="171.29" x2="217.64" y2="171.29" stroke="#333" stroke-width="0.5" stroke-opacity="0.45"/>
<line x1="216.04" y1="177.80" x2="217.64" y2="177.80" stroke="#333" stroke-width="0.5" stroke-opacity="0.45"/>
<polyline points="166.20,208.46 178.86,201.40 191.52,194.35 204.18,182.41 216.84,174.54 229.50,163.42" fill="none" stroke="#333" stroke-width="0.8"/>
<circle cx="166.20" cy="208.46" r="0.9" fill="#333"/>
<circle cx="178.86" cy="201.40" r="0.9" fill="#333"/>
<circle cx="191.52" cy="194.35" r="0.9" fill="#333"/>
<circle cx="204.18" cy="182.41" r="0.9" fill="#333"/>
<circle cx="216.84" cy="174.54" r="0.9" fill="#333"/>
<circle cx="229.50" cy="163.42" r="0.9" fill="#333"/>
<line x1="166.20" y1="209.27" x2="166.20" y2="207.10" stroke="#ff3fbf" stroke-width="0.5" stroke-opacity="0.45"/>
<line x1="165.40" y1="207.10" x2="167.00" y2="207.10" stroke="#ff3fbf" stroke-width="0.5" stroke-opacity="0.45"/>
<line x1="165.40" y1="209.27" x2="167.00" y2="209.27" stroke="#ff3fbf" stroke-width="0.5" stroke-opacity="0.45"/>
<line x1="178.86" y1="204.39" x2="178.86" y2="197.88" stroke="#ff3fbf" stroke-width="0.5" stroke-opacity="0.45"/>
<line x1="178.06" y1="197.88" x2="179.66" y2="197.88" stroke="#ff3fbf" stroke-width="0.5" stroke-opacity="0.45"/>
<line x1="178.06" y1="204.39" x2="179.66" y2="204.39" stroke="#ff3fbf" stroke-width="0.5" stroke-opacity="0.45"/>
<line x1="191.52" y1="196.79" x2="191.52" y2="192.45" stroke="#ff3fbf" stroke-width="0.5" stroke-opacity="0.45"/>
<line x1="190.72" y1="192.45" x2="192.32" y2="192.45" stroke="#ff3fbf" stroke-width="0.5" stroke-opacity="0.45"/>
<line x1="190.72" y1="196.79" x2="192.32" y2="196.79" stroke="#ff3fbf" stroke-width="0.5" stroke-opacity="0.45"/>
<line x1="204.18" y1="191.36" x2="204.18" y2="179.43" stroke="#ff3fbf" stroke-width="0.5" stroke-opacity="0.45"/>
<line x1="203.38" y1="179.43" x2="204.98" y2="179.43" stroke="#ff3fbf" stroke-width="0.5" stroke-opacity="0.45"/>
<line x1="203.38" y1="191.36" x2="204.98" y2="191.36" stroke="#ff3fbf" stroke-width="0.5" stroke-opacity="0.45"/>
<line x1="216.84" y1="180.24" x2="216.84" y2="171.56" stroke="#ff3fbf" stroke-width="0.5" stroke-opacity="0.45"/>
<line x1="216.04" y1="171.56" x2="217.64" y2="171.56" stroke="#ff3fbf" stroke-width="0.5" stroke-opacity="0.45"/>
<line x1="216.04" y1="180.24" x2="217.64" y2="180.24" stroke="#ff3fbf" stroke-width="0.5" stroke-opacity="0.45"/>
<line x1="229.50" y1="172.37" x2="229.50" y2="152.83" stroke="#ff3fbf" stroke-width="0.5" stroke-opacity="0.45"/>
<line x1="228.70" y1="152.83" x2="230.30" y2="152.83" stroke="#ff3fbf" stroke-width="0.5" stroke-opacity="0.45"/>
<line x1="228.70" y1="172.37" x2="230.30" y2="172.37" stroke="#ff3fbf" stroke-width="0.5" stroke-opacity="0.45"/>
<polyline points="166.20,208.19 178.86,201.13 191.52,194.62 204.18,185.39 216.84,175.90 229.50,162.60" fill="none" stroke="#ff3fbf" stroke-width="0.8"/>
<circle cx="166.20" cy="208.19" r="0.9" fill="#ff3fbf"/>
<circle cx="178.86" cy="201.13" r="0.9" fill="#ff3fbf"/>
<circle cx="191.52" cy="194.62" r="0.9" fill="#ff3fbf"/>
<circle cx="204.18" cy="185.39" r="0.9" fill="#ff3fbf"/>
<circle cx="216.84" cy="175.90" r="0.9" fill="#ff3fbf"/>
<circle cx="229.50" cy="162.60" r="0.9" fill="#ff3fbf"/>
<line x1="166.20" y1="209.27" x2="166.20" y2="207.64" stroke="#ee3a3a" stroke-width="0.5" stroke-opacity="0.45"/>
<line x1="165.40" y1="207.64" x2="167.00" y2="207.64" stroke="#ee3a3a" stroke-width="0.5" stroke-opacity="0.45"/>
<line x1="165.40" y1="209.27" x2="167.00" y2="209.27" stroke="#ee3a3a" stroke-width="0.5" stroke-opacity="0.45"/>
<line x1="178.86" y1="207.64" x2="178.86" y2="205.47" stroke="#ee3a3a" stroke-width="0.5" stroke-opacity="0.45"/>
<line x1="178.06" y1="205.47" x2="179.66" y2="205.47" stroke="#ee3a3a" stroke-width="0.5" stroke-opacity="0.45"/>
<line x1="178.06" y1="207.64" x2="179.66" y2="207.64" stroke="#ee3a3a" stroke-width="0.5" stroke-opacity="0.45"/>
<line x1="191.52" y1="206.56" x2="191.52" y2="204.39" stroke="#ee3a3a" stroke-width="0.5" stroke-opacity="0.45"/>
<line x1="190.72" y1="204.39" x2="192.32" y2="204.39" stroke="#ee3a3a" stroke-width="0.5" stroke-opacity="0.45"/>
<line x1="190.72" y1="206.56" x2="192.32" y2="206.56" stroke="#ee3a3a" stroke-width="0.5" stroke-opacity="0.45"/>
<line x1="204.18" y1="205.20" x2="204.18" y2="201.95" stroke="#ee3a3a" stroke-width="0.5" stroke-opacity="0.45"/>
<line x1="203.38" y1="201.95" x2="204.98" y2="201.95" stroke="#ee3a3a" stroke-width="0.5" stroke-opacity="0.45"/>
<line x1="203.38" y1="205.20" x2="204.98" y2="205.20" stroke="#ee3a3a" stroke-width="0.5" stroke-opacity="0.45"/>
<line x1="216.84" y1="203.57" x2="216.84" y2="199.23" stroke="#ee3a3a" stroke-width="0.5" stroke-opacity="0.45"/>
<line x1="216.04" y1="199.23" x2="217.64" y2="199.23" stroke="#ee3a3a" stroke-width="0.5" stroke-opacity="0.45"/>
<line x1="216.04" y1="203.57" x2="217.64" y2="203.57" stroke="#ee3a3a" stroke-width="0.5" stroke-opacity="0.45"/>
<line x1="229.50" y1="203.44" x2="229.50" y2="198.01" stroke="#ee3a3a" stroke-width="0.5" stroke-opacity="0.45"/>
<line x1="228.70" y1="198.01" x2="230.30" y2="198.01" stroke="#ee3a3a" stroke-width="0.5" stroke-opacity="0.45"/>
<line x1="228.70" y1="203.44" x2="230.30" y2="203.44" stroke="#ee3a3a" stroke-width="0.5" stroke-opacity="0.45"/>
<line x1="242.16" y1="202.76" x2="242.16" y2="196.25" stroke="#ee3a3a" stroke-width="0.5" stroke-opacity="0.45"/>
<line x1="241.36" y1="196.25" x2="242.96" y2="196.25" stroke="#ee3a3a" stroke-width="0.5" stroke-opacity="0.45"/>
<line x1="241.36" y1="202.76" x2="242.96" y2="202.76" stroke="#ee3a3a" stroke-width="0.5" stroke-opacity="0.45"/>
<line x1="254.82" y1="199.78" x2="254.82" y2="193.81" stroke="#ee3a3a" stroke-width="0.5" stroke-opacity="0.45"/>
<line x1="254.02" y1="193.81" x2="255.62" y2="193.81" stroke="#ee3a3a" stroke-width="0.5" stroke-opacity="0.45"/>
<line x1="254.02" y1="199.78" x2="255.62" y2="199.78" stroke="#ee3a3a" stroke-width="0.5" stroke-opacity="0.45"/>
<polyline points="166.20,208.46 178.86,206.56 191.52,205.47 204.18,203.57 216.84,201.40 229.50,200.72 242.16,199.50 254.82,196.79" fill="none" stroke="#ee3a3a" stroke-width="0.8"/>
<circle cx="166.20" cy="208.46" r="0.9" fill="#ee3a3a"/>
<circle cx="178.86" cy="206.56" r="0.9" fill="#ee3a3a"/>
<circle cx="191.52" cy="205.47" r="0.9" fill="#ee3a3a"/>
<circle cx="204.18" cy="203.57" r="0.9" fill="#ee3a3a"/>
<circle cx="216.84" cy="201.40" r="0.9" fill="#ee3a3a"/>
<circle cx="229.50" cy="200.72" r="0.9" fill="#ee3a3a"/>
<circle cx="242.16" cy="199.50" r="0.9" fill="#ee3a3a"/>
<circle cx="254.82" cy="196.79" r="0.9" fill="#ee3a3a"/>
<line x1="159.60" y1="129.10" x2="159.60" y2="211.30" stroke="#7a7a7a" stroke-width="0.9" />
<line x1="159.20" y1="210.90" x2="261.50" y2="210.90" stroke="#7a7a7a" stroke-width="0.9" />
<line x1="158.00" y1="210.90" x2="159.60" y2="210.90" stroke="#7a7a7a" stroke-width="0.7" />
<text x="157.00" y="213.71" font-size="7.8" text-anchor="end" font-weight="normal" fill="#222" >0</text>
<line x1="158.60" y1="197.33" x2="159.60" y2="197.33" stroke="#7a7a7a" stroke-width="0.6" />
<line x1="158.00" y1="183.77" x2="159.60" y2="183.77" stroke="#7a7a7a" stroke-width="0.7" />
<text x="157.00" y="186.57" font-size="7.8" text-anchor="end" font-weight="normal" fill="#222" >10</text>
<line x1="158.60" y1="170.20" x2="159.60" y2="170.20" stroke="#7a7a7a" stroke-width="0.6" />
<line x1="158.00" y1="156.63" x2="159.60" y2="156.63" stroke="#7a7a7a" stroke-width="0.7" />
<text x="157.00" y="159.44" font-size="7.8" text-anchor="end" font-weight="normal" fill="#222" >20</text>
<line x1="158.60" y1="143.07" x2="159.60" y2="143.07" stroke="#7a7a7a" stroke-width="0.6" />
<line x1="158.00" y1="129.50" x2="159.60" y2="129.50" stroke="#7a7a7a" stroke-width="0.7" />
<text x="157.00" y="132.31" font-size="7.8" text-anchor="end" font-weight="normal" fill="#222" >30</text>
<line x1="166.20" y1="210.90" x2="166.20" y2="212.30" stroke="#7a7a7a" stroke-width="0.6" />
<line x1="172.53" y1="210.90" x2="172.53" y2="211.80" stroke="#7a7a7a" stroke-width="0.5" />
<text x="166.20" y="219.61" font-size="7.8" text-anchor="middle" font-weight="normal" fill="#222" >0</text>
<line x1="178.86" y1="210.90" x2="178.86" y2="212.30" stroke="#7a7a7a" stroke-width="0.6" />
<line x1="185.19" y1="210.90" x2="185.19" y2="211.80" stroke="#7a7a7a" stroke-width="0.5" />
<text x="178.86" y="219.61" font-size="7.8" text-anchor="middle" font-weight="normal" fill="#222" >2</text>
<line x1="191.52" y1="210.90" x2="191.52" y2="212.30" stroke="#7a7a7a" stroke-width="0.6" />
<line x1="197.85" y1="210.90" x2="197.85" y2="211.80" stroke="#7a7a7a" stroke-width="0.5" />
<text x="191.52" y="219.61" font-size="7.8" text-anchor="middle" font-weight="normal" fill="#222" >4</text>
<line x1="204.18" y1="210.90" x2="204.18" y2="212.30" stroke="#7a7a7a" stroke-width="0.6" />
<line x1="210.51" y1="210.90" x2="210.51" y2="211.80" stroke="#7a7a7a" stroke-width="0.5" />
<text x="204.18" y="219.61" font-size="7.8" text-anchor="middle" font-weight="normal" fill="#222" >6</text>
<line x1="216.84" y1="210.90" x2="216.84" y2="212.30" stroke="#7a7a7a" stroke-width="0.6" />
<line x1="223.17" y1="210.90" x2="223.17" y2="211.80" stroke="#7a7a7a" stroke-width="0.5" />
<text x="216.84" y="219.61" font-size="7.8" text-anchor="middle" font-weight="normal" fill="#222" >8</text>
<line x1="229.50" y1="210.90" x2="229.50" y2="212.30" stroke="#7a7a7a" stroke-width="0.6" />
<line x1="235.83" y1="210.90" x2="235.83" y2="211.80" stroke="#7a7a7a" stroke-width="0.5" />
<text x="229.50" y="219.61" font-size="7.8" text-anchor="middle" font-weight="normal" fill="#222" >10</text>
<line x1="242.16" y1="210.90" x2="242.16" y2="212.30" stroke="#7a7a7a" stroke-width="0.6" />
<line x1="248.49" y1="210.90" x2="248.49" y2="211.80" stroke="#7a7a7a" stroke-width="0.5" />
<text x="242.16" y="219.61" font-size="7.8" text-anchor="middle" font-weight="normal" fill="#222" >12</text>
<line x1="254.82" y1="210.90" x2="254.82" y2="212.30" stroke="#7a7a7a" stroke-width="0.6" />
<line x1="261.15" y1="210.90" x2="261.15" y2="211.80" stroke="#7a7a7a" stroke-width="0.5" />
<text x="254.82" y="219.61" font-size="7.8" text-anchor="middle" font-weight="normal" fill="#222" >14</text>
<text x="211.05" y="228.30" font-size="7.8" text-anchor="middle" font-weight="normal" fill="#111" >Time (d)</text>
<line x1="163.00" y1="135.40" x2="175.10" y2="135.40" stroke="#333" stroke-width="0.8" />
<circle cx="169.05" cy="135.4" r="0.9" fill="#333"/>
<text x="179.90" y="138.17" font-size="7.7" text-anchor="start" font-weight="normal" fill="#111" >Saline</text>
<line x1="163.00" y1="144.80" x2="175.10" y2="144.80" stroke="#ff3fbf" stroke-width="0.8" />
<circle cx="169.05" cy="144.8" r="0.9" fill="#ff3fbf"/>
<text x="179.90" y="147.57" font-size="7.7" text-anchor="start" font-weight="normal" fill="#111" >HPNP</text>
<line x1="163.00" y1="154.20" x2="175.10" y2="154.20" stroke="#ee3a3a" stroke-width="0.8" />
<circle cx="169.05" cy="154.20000000000002" r="0.9" fill="#ee3a3a"/>
<text x="179.90" y="156.97" font-size="7.7" text-anchor="start" font-weight="normal" fill="#111" >HPNP + US</text>
<rect x="225.82" y="193.97" width="1.85" height="1.85" rx="0.5" fill="#3a3a3a"/>
<rect x="228.77" y="193.97" width="1.85" height="1.85" rx="0.5" fill="#3a3a3a"/>
<rect x="231.72" y="193.97" width="1.85" height="1.85" rx="0.5" fill="#3a3a3a"/>
<text transform="translate(146.84,170.20) rotate(-90)" font-size="7.6" text-anchor="middle" fill="#111" >Relative primary tumor volume</text>
<line x1="303.30" y1="129.50" x2="404.70" y2="129.50" stroke="#a9a9a9" stroke-width="0.9" />
<line x1="404.70" y1="129.50" x2="404.70" y2="210.90" stroke="#a9a9a9" stroke-width="0.9" />
<line x1="309.60" y1="209.76" x2="309.60" y2="208.78" stroke="#ee3a3a" stroke-width="0.5" stroke-opacity="0.45"/>
<line x1="308.80" y1="208.78" x2="310.40" y2="208.78" stroke="#ee3a3a" stroke-width="0.5" stroke-opacity="0.45"/>
<line x1="308.80" y1="209.76" x2="310.40" y2="209.76" stroke="#ee3a3a" stroke-width="0.5" stroke-opacity="0.45"/>
<line x1="322.28" y1="208.30" x2="322.28" y2="206.34" stroke="#ee3a3a" stroke-width="0.5" stroke-opacity="0.45"/>
<line x1="321.48" y1="206.34" x2="323.08" y2="206.34" stroke="#ee3a3a" stroke-width="0.5" stroke-opacity="0.45"/>
<line x1="321.48" y1="208.30" x2="323.08" y2="208.30" stroke="#ee3a3a" stroke-width="0.5" stroke-opacity="0.45"/>
<line x1="334.96" y1="203.74" x2="334.96" y2="199.83" stroke="#ee3a3a" stroke-width="0.5" stroke-opacity="0.45"/>
<line x1="334.16" y1="199.83" x2="335.76" y2="199.83" stroke="#ee3a3a" stroke-width="0.5" stroke-opacity="0.45"/>
<line x1="334.16" y1="203.74" x2="335.76" y2="203.74" stroke="#ee3a3a" stroke-width="0.5" stroke-opacity="0.45"/>
<line x1="347.64" y1="196.41" x2="347.64" y2="191.53" stroke="#ee3a3a" stroke-width="0.5" stroke-opacity="0.45"/>
<line x1="346.84" y1="191.53" x2="348.44" y2="191.53" stroke="#ee3a3a" stroke-width="0.5" stroke-opacity="0.45"/>
<line x1="346.84" y1="196.41" x2="348.44" y2="196.41" stroke="#ee3a3a" stroke-width="0.5" stroke-opacity="0.45"/>
<line x1="360.32" y1="185.34" x2="360.32" y2="172.32" stroke="#ee3a3a" stroke-width="0.5" stroke-opacity="0.45"/>
<line x1="359.52" y1="172.32" x2="361.12" y2="172.32" stroke="#ee3a3a" stroke-width="0.5" stroke-opacity="0.45"/>
<line x1="359.52" y1="185.34" x2="361.12" y2="185.34" stroke="#ee3a3a" stroke-width="0.5" stroke-opacity="0.45"/>
<line x1="373.00" y1="173.78" x2="373.00" y2="147.73" stroke="#ee3a3a" stroke-width="0.5" stroke-opacity="0.45"/>
<line x1="372.20" y1="147.73" x2="373.80" y2="147.73" stroke="#ee3a3a" stroke-width="0.5" stroke-opacity="0.45"/>
<line x1="372.20" y1="173.78" x2="373.80" y2="173.78" stroke="#ee3a3a" stroke-width="0.5" stroke-opacity="0.45"/>
<line x1="385.68" y1="161.25" x2="385.68" y2="138.45" stroke="#ee3a3a" stroke-width="0.5" stroke-opacity="0.45"/>
<line x1="384.88" y1="138.45" x2="386.48" y2="138.45" stroke="#ee3a3a" stroke-width="0.5" stroke-opacity="0.45"/>
<line x1="384.88" y1="161.25" x2="386.48" y2="161.25" stroke="#ee3a3a" stroke-width="0.5" stroke-opacity="0.45"/>
<line x1="398.36" y1="152.78" x2="398.36" y2="133.24" stroke="#ee3a3a" stroke-width="0.5" stroke-opacity="0.45"/>
<line x1="397.56" y1="133.24" x2="399.16" y2="133.24" stroke="#ee3a3a" stroke-width="0.5" stroke-opacity="0.45"/>
<line x1="397.56" y1="152.78" x2="399.16" y2="152.78" stroke="#ee3a3a" stroke-width="0.5" stroke-opacity="0.45"/>
<path d="M309.60,209.27 C311.71,208.95 318.05,208.57 322.28,207.32 C326.51,206.07 330.73,204.01 334.96,201.78 C339.19,199.56 343.41,197.79 347.64,193.97 C351.87,190.14 356.09,184.36 360.32,178.83 C364.55,173.29 368.77,165.59 373.00,160.76 C377.23,155.93 381.45,152.81 385.68,149.85 C389.91,146.89 396.25,144.15 398.36,143.01" fill="none" stroke="#ee3a3a" stroke-width="0.8"/>
<circle cx="309.60" cy="209.27" r="0.9" fill="#ee3a3a"/>
<circle cx="322.28" cy="207.32" r="0.9" fill="#ee3a3a"/>
<circle cx="334.96" cy="201.78" r="0.9" fill="#ee3a3a"/>
<circle cx="347.64" cy="193.97" r="0.9" fill="#ee3a3a"/>
<circle cx="360.32" cy="178.83" r="0.9" fill="#ee3a3a"/>
<circle cx="373.00" cy="160.76" r="0.9" fill="#ee3a3a"/>
<circle cx="385.68" cy="149.85" r="0.9" fill="#ee3a3a"/>
<circle cx="398.36" cy="143.01" r="0.9" fill="#ee3a3a"/>
<path d="M309.60,209.27 C311.71,209.00 318.05,208.57 322.28,207.64 C326.51,206.72 330.73,205.47 334.96,203.74 C339.19,202.00 343.41,199.69 347.64,197.22 C351.87,194.76 356.09,193.86 360.32,188.92 C364.55,183.98 370.89,171.15 373.00,167.60" fill="none" stroke="#333" stroke-width="0.8"/>
<circle cx="309.60" cy="209.27" r="0.9" fill="#333"/>
<circle cx="322.28" cy="207.64" r="0.9" fill="#333"/>
<circle cx="334.96" cy="203.74" r="0.9" fill="#333"/>
<circle cx="347.64" cy="197.22" r="0.9" fill="#333"/>
<circle cx="360.32" cy="188.92" r="0.9" fill="#333"/>
<circle cx="373.00" cy="167.60" r="0.9" fill="#333"/>
<line x1="309.60" y1="209.76" x2="309.60" y2="208.78" stroke="#ff3fbf" stroke-width="0.5" stroke-opacity="0.45"/>
<line x1="308.80" y1="208.78" x2="310.40" y2="208.78" stroke="#ff3fbf" stroke-width="0.5" stroke-opacity="0.45"/>
<line x1="308.80" y1="209.76" x2="310.40" y2="209.76" stroke="#ff3fbf" stroke-width="0.5" stroke-opacity="0.45"/>
<line x1="322.28" y1="209.11" x2="322.28" y2="207.16" stroke="#ff3fbf" stroke-width="0.5" stroke-opacity="0.45"/>
<line x1="321.48" y1="207.16" x2="323.08" y2="207.16" stroke="#ff3fbf" stroke-width="0.5" stroke-opacity="0.45"/>
<line x1="321.48" y1="209.11" x2="323.08" y2="209.11" stroke="#ff3fbf" stroke-width="0.5" stroke-opacity="0.45"/>
<line x1="334.96" y1="207.48" x2="334.96" y2="201.62" stroke="#ff3fbf" stroke-width="0.5" stroke-opacity="0.45"/>
<line x1="334.16" y1="201.62" x2="335.76" y2="201.62" stroke="#ff3fbf" stroke-width="0.5" stroke-opacity="0.45"/>
<line x1="334.16" y1="207.48" x2="335.76" y2="207.48" stroke="#ff3fbf" stroke-width="0.5" stroke-opacity="0.45"/>
<line x1="347.64" y1="200.48" x2="347.64" y2="193.97" stroke="#ff3fbf" stroke-width="0.5" stroke-opacity="0.45"/>
<line x1="346.84" y1="193.97" x2="348.44" y2="193.97" stroke="#ff3fbf" stroke-width="0.5" stroke-opacity="0.45"/>
<line x1="346.84" y1="200.48" x2="348.44" y2="200.48" stroke="#ff3fbf" stroke-width="0.5" stroke-opacity="0.45"/>
<line x1="360.32" y1="196.41" x2="360.32" y2="185.01" stroke="#ff3fbf" stroke-width="0.5" stroke-opacity="0.45"/>
<line x1="359.52" y1="185.01" x2="361.12" y2="185.01" stroke="#ff3fbf" stroke-width="0.5" stroke-opacity="0.45"/>
<line x1="359.52" y1="196.41" x2="361.12" y2="196.41" stroke="#ff3fbf" stroke-width="0.5" stroke-opacity="0.45"/>
<line x1="373.00" y1="170.04" x2="373.00" y2="157.01" stroke="#ff3fbf" stroke-width="0.5" stroke-opacity="0.45"/>
<line x1="372.20" y1="157.01" x2="373.80" y2="157.01" stroke="#ff3fbf" stroke-width="0.5" stroke-opacity="0.45"/>
<line x1="372.20" y1="170.04" x2="373.80" y2="170.04" stroke="#ff3fbf" stroke-width="0.5" stroke-opacity="0.45"/>
<path d="M309.60,209.27 C311.71,209.08 318.05,208.92 322.28,208.13 C326.51,207.35 330.73,206.37 334.96,204.55 C339.19,202.73 343.41,199.53 347.64,197.22 C351.87,194.92 356.09,196.33 360.32,190.71 C364.55,185.10 370.89,168.06 373.00,163.53" fill="none" stroke="#ff3fbf" stroke-width="0.8"/>
<circle cx="309.60" cy="209.27" r="0.9" fill="#ff3fbf"/>
<circle cx="322.28" cy="208.13" r="0.9" fill="#ff3fbf"/>
<circle cx="334.96" cy="204.55" r="0.9" fill="#ff3fbf"/>
<circle cx="347.64" cy="197.22" r="0.9" fill="#ff3fbf"/>
<circle cx="360.32" cy="190.71" r="0.9" fill="#ff3fbf"/>
<circle cx="373.00" cy="163.53" r="0.9" fill="#ff3fbf"/>
<line x1="303.30" y1="129.10" x2="303.30" y2="211.30" stroke="#7a7a7a" stroke-width="0.9" />
<line x1="302.90" y1="210.90" x2="404.70" y2="210.90" stroke="#7a7a7a" stroke-width="0.9" />
<line x1="301.70" y1="210.90" x2="303.30" y2="210.90" stroke="#7a7a7a" stroke-width="0.7" />
<text x="300.70" y="213.71" font-size="7.8" text-anchor="end" font-weight="normal" fill="#222" >0</text>
<line x1="302.30" y1="202.76" x2="303.30" y2="202.76" stroke="#7a7a7a" stroke-width="0.6" />
<line x1="301.70" y1="194.62" x2="303.30" y2="194.62" stroke="#7a7a7a" stroke-width="0.7" />
<text x="300.70" y="197.43" font-size="7.8" text-anchor="end" font-weight="normal" fill="#222" >10</text>
<line x1="302.30" y1="186.48" x2="303.30" y2="186.48" stroke="#7a7a7a" stroke-width="0.6" />
<line x1="301.70" y1="178.34" x2="303.30" y2="178.34" stroke="#7a7a7a" stroke-width="0.7" />
<text x="300.70" y="181.15" font-size="7.8" text-anchor="end" font-weight="normal" fill="#222" >20</text>
<line x1="302.30" y1="170.20" x2="303.30" y2="170.20" stroke="#7a7a7a" stroke-width="0.6" />
<line x1="301.70" y1="162.06" x2="303.30" y2="162.06" stroke="#7a7a7a" stroke-width="0.7" />
<text x="300.70" y="164.87" font-size="7.8" text-anchor="end" font-weight="normal" fill="#222" >30</text>
<line x1="302.30" y1="153.92" x2="303.30" y2="153.92" stroke="#7a7a7a" stroke-width="0.6" />
<line x1="301.70" y1="145.78" x2="303.30" y2="145.78" stroke="#7a7a7a" stroke-width="0.7" />
<text x="300.70" y="148.59" font-size="7.8" text-anchor="end" font-weight="normal" fill="#222" >40</text>
<line x1="302.30" y1="137.64" x2="303.30" y2="137.64" stroke="#7a7a7a" stroke-width="0.6" />
<line x1="301.70" y1="129.50" x2="303.30" y2="129.50" stroke="#7a7a7a" stroke-width="0.7" />
<text x="300.70" y="132.31" font-size="7.8" text-anchor="end" font-weight="normal" fill="#222" >50</text>
<line x1="309.60" y1="210.90" x2="309.60" y2="212.30" stroke="#7a7a7a" stroke-width="0.6" />
<line x1="315.94" y1="210.90" x2="315.94" y2="211.80" stroke="#7a7a7a" stroke-width="0.5" />
<text x="309.60" y="219.61" font-size="7.8" text-anchor="middle" font-weight="normal" fill="#222" >0</text>
<line x1="322.28" y1="210.90" x2="322.28" y2="212.30" stroke="#7a7a7a" stroke-width="0.6" />
<line x1="328.62" y1="210.90" x2="328.62" y2="211.80" stroke="#7a7a7a" stroke-width="0.5" />
<text x="322.28" y="219.61" font-size="7.8" text-anchor="middle" font-weight="normal" fill="#222" >2</text>
<line x1="334.96" y1="210.90" x2="334.96" y2="212.30" stroke="#7a7a7a" stroke-width="0.6" />
<line x1="341.30" y1="210.90" x2="341.30" y2="211.80" stroke="#7a7a7a" stroke-width="0.5" />
<text x="334.96" y="219.61" font-size="7.8" text-anchor="middle" font-weight="normal" fill="#222" >4</text>
<line x1="347.64" y1="210.90" x2="347.64" y2="212.30" stroke="#7a7a7a" stroke-width="0.6" />
<line x1="353.98" y1="210.90" x2="353.98" y2="211.80" stroke="#7a7a7a" stroke-width="0.5" />
<text x="347.64" y="219.61" font-size="7.8" text-anchor="middle" font-weight="normal" fill="#222" >6</text>
<line x1="360.32" y1="210.90" x2="360.32" y2="212.30" stroke="#7a7a7a" stroke-width="0.6" />
<line x1="366.66" y1="210.90" x2="366.66" y2="211.80" stroke="#7a7a7a" stroke-width="0.5" />
<text x="360.32" y="219.61" font-size="7.8" text-anchor="middle" font-weight="normal" fill="#222" >8</text>
<line x1="373.00" y1="210.90" x2="373.00" y2="212.30" stroke="#7a7a7a" stroke-width="0.6" />
<line x1="379.34" y1="210.90" x2="379.34" y2="211.80" stroke="#7a7a7a" stroke-width="0.5" />
<text x="373.00" y="219.61" font-size="7.8" text-anchor="middle" font-weight="normal" fill="#222" >10</text>
<line x1="385.68" y1="210.90" x2="385.68" y2="212.30" stroke="#7a7a7a" stroke-width="0.6" />
<line x1="392.02" y1="210.90" x2="392.02" y2="211.80" stroke="#7a7a7a" stroke-width="0.5" />
<text x="385.68" y="219.61" font-size="7.8" text-anchor="middle" font-weight="normal" fill="#222" >12</text>
<line x1="398.36" y1="210.90" x2="398.36" y2="212.30" stroke="#7a7a7a" stroke-width="0.6" />
<line x1="404.70" y1="210.90" x2="404.70" y2="211.80" stroke="#7a7a7a" stroke-width="0.5" />
<text x="398.36" y="219.61" font-size="7.8" text-anchor="middle" font-weight="normal" fill="#222" >14</text>
<text x="354.50" y="228.30" font-size="7.8" text-anchor="middle" font-weight="normal" fill="#111" >Time (d)</text>
<line x1="306.40" y1="135.40" x2="319.00" y2="135.40" stroke="#333" stroke-width="0.8" />
<circle cx="312.70" cy="135.4" r="0.9" fill="#333"/>
<text x="323.80" y="138.17" font-size="7.7" text-anchor="start" font-weight="normal" fill="#111" >Saline</text>
<line x1="306.40" y1="144.80" x2="319.00" y2="144.80" stroke="#ff3fbf" stroke-width="0.8" />
<circle cx="312.70" cy="144.8" r="0.9" fill="#ff3fbf"/>
<text x="323.80" y="147.57" font-size="7.7" text-anchor="start" font-weight="normal" fill="#111" >HPNP</text>
<line x1="306.40" y1="154.20" x2="319.00" y2="154.20" stroke="#ee3a3a" stroke-width="0.8" />
<circle cx="312.70" cy="154.20000000000002" r="0.9" fill="#ee3a3a"/>
<text x="323.80" y="156.97" font-size="7.7" text-anchor="start" font-weight="normal" fill="#111" >HPNP + US</text>
<text x="373.30" y="183.17" font-size="7.7" text-anchor="middle" font-weight="normal" fill="#333" >ns</text>
<text transform="translate(290.14,170.70) rotate(-90)" font-size="7.6" text-anchor="middle" fill="#111" >Relative distant tumor volume</text>
<rect x="504.30" y="362.20" width="19.60" height="13.52" fill="#fcb2b2" stroke="none" stroke-width="1" />
<text x="514.08" y="371.13" font-size="6.1" text-anchor="middle" font-weight="normal" fill="#222" >1</text>
<rect x="523.85" y="362.20" width="19.60" height="13.52" fill="#d2d2fe" stroke="none" stroke-width="1" />
<text x="533.62" y="371.13" font-size="6.1" text-anchor="middle" font-weight="normal" fill="#222" >0.22</text>
<rect x="543.40" y="362.20" width="19.60" height="13.52" fill="#fdcfcf" stroke="none" stroke-width="1" />
<text x="553.17" y="371.13" font-size="6.1" text-anchor="middle" font-weight="normal" fill="#222" >0.82</text>
<rect x="562.95" y="362.20" width="19.60" height="13.52" fill="#fee4e4" stroke="none" stroke-width="1" />
<text x="572.73" y="371.13" font-size="6.1" text-anchor="middle" font-weight="normal" fill="#222" >0.69</text>
<rect x="582.50" y="362.20" width="19.60" height="13.52" fill="#fedddd" stroke="none" stroke-width="1" />
<text x="592.27" y="371.13" font-size="6.1" text-anchor="middle" font-weight="normal" fill="#222" >0.73</text>
<rect x="602.05" y="362.20" width="19.60" height="13.52" fill="#feecec" stroke="none" stroke-width="1" />
<text x="611.82" y="371.13" font-size="6.1" text-anchor="middle" font-weight="normal" fill="#222" >0.64</text>
<rect x="621.60" y="362.20" width="19.60" height="13.52" fill="#fee0e0" stroke="none" stroke-width="1" />
<text x="631.38" y="371.13" font-size="6.1" text-anchor="middle" font-weight="normal" fill="#222" >0.71</text>
<rect x="641.15" y="362.20" width="19.60" height="13.52" fill="#c2c2fd" stroke="none" stroke-width="1" />
<text x="650.92" y="371.13" font-size="6.1" text-anchor="middle" font-weight="normal" fill="#222" >0.11</text>
<rect x="504.30" y="375.67" width="19.60" height="13.52" fill="#fcb2b2" stroke="none" stroke-width="1" />
<text x="514.08" y="384.60" font-size="6.1" text-anchor="middle" font-weight="normal" fill="#222" >1</text>
<rect x="523.85" y="375.67" width="19.60" height="13.52" fill="#fff5f5" stroke="none" stroke-width="1" />
<text x="533.62" y="384.60" font-size="6.1" text-anchor="middle" font-weight="normal" fill="#222" >0.58</text>
<rect x="543.40" y="375.67" width="19.60" height="13.52" fill="#fcb2b2" stroke="none" stroke-width="1" />
<text x="553.17" y="384.60" font-size="6.1" text-anchor="middle" font-weight="normal" fill="#222" >1</text>
<rect x="562.95" y="375.67" width="19.60" height="13.52" fill="#fdbaba" stroke="none" stroke-width="1" />
<text x="572.73" y="384.60" font-size="6.1" text-anchor="middle" font-weight="normal" fill="#222" >0.95</text>
<rect x="582.50" y="375.67" width="19.60" height="13.52" fill="#fdbaba" stroke="none" stroke-width="1" />
<text x="592.27" y="384.60" font-size="6.1" text-anchor="middle" font-weight="normal" fill="#222" >0.95</text>
<rect x="602.05" y="375.67" width="19.60" height="13.52" fill="#fdb5b5" stroke="none" stroke-width="1" />
<text x="611.82" y="384.60" font-size="6.1" text-anchor="middle" font-weight="normal" fill="#222" >0.98</text>
<rect x="621.60" y="375.67" width="19.60" height="13.52" fill="#fdbaba" stroke="none" stroke-width="1" />
<text x="631.38" y="384.60" font-size="6.1" text-anchor="middle" font-weight="normal" fill="#222" >0.95</text>
<rect x="641.15" y="375.67" width="19.60" height="13.52" fill="#c0c0fd" stroke="none" stroke-width="1" />
<text x="650.92" y="384.60" font-size="6.1" text-anchor="middle" font-weight="normal" fill="#222" >0.097</text>
<rect x="504.30" y="389.14" width="19.60" height="13.52" fill="#fcb2b2" stroke="none" stroke-width="1" />
<text x="514.08" y="398.07" font-size="6.1" text-anchor="middle" font-weight="normal" fill="#222" >1</text>
<rect x="523.85" y="389.14" width="19.60" height="13.52" fill="#ececfe" stroke="none" stroke-width="1" />
<text x="533.62" y="398.07" font-size="6.1" text-anchor="middle" font-weight="normal" fill="#222" >0.39</text>
<rect x="543.40" y="389.14" width="19.60" height="13.52" fill="#fdb3b3" stroke="none" stroke-width="1" />
<text x="553.17" y="398.07" font-size="6.1" text-anchor="middle" font-weight="normal" fill="#222" >0.99</text>
<rect x="562.95" y="389.14" width="19.60" height="13.52" fill="#fdb8b8" stroke="none" stroke-width="1" />
<text x="572.73" y="398.07" font-size="6.1" text-anchor="middle" font-weight="normal" fill="#222" >0.96</text>
<rect x="582.50" y="389.14" width="19.60" height="13.52" fill="#fdb8b8" stroke="none" stroke-width="1" />
<text x="592.27" y="398.07" font-size="6.1" text-anchor="middle" font-weight="normal" fill="#222" >0.96</text>
<rect x="602.05" y="389.14" width="19.60" height="13.52" fill="#fdcaca" stroke="none" stroke-width="1" />
<text x="611.82" y="398.07" font-size="6.1" text-anchor="middle" font-weight="normal" fill="#222" >0.85</text>
<rect x="621.60" y="389.14" width="19.60" height="13.52" fill="#fdb6b6" stroke="none" stroke-width="1" />
<text x="631.38" y="398.07" font-size="6.1" text-anchor="middle" font-weight="normal" fill="#222" >0.97</text>
<rect x="641.15" y="389.14" width="19.60" height="13.52" fill="#cecefd" stroke="none" stroke-width="1" />
<text x="650.92" y="398.07" font-size="6.1" text-anchor="middle" font-weight="normal" fill="#222" >0.19</text>
<rect x="504.30" y="402.61" width="19.60" height="13.52" fill="#c5c5fd" stroke="none" stroke-width="1" />
<text x="514.08" y="411.54" font-size="6.1" text-anchor="middle" font-weight="normal" fill="#222" >0.13</text>
<rect x="523.85" y="402.61" width="19.60" height="13.52" fill="#d7d7fe" stroke="none" stroke-width="1" />
<text x="533.62" y="411.54" font-size="6.1" text-anchor="middle" font-weight="normal" fill="#222" >0.25</text>
<rect x="543.40" y="402.61" width="19.60" height="13.52" fill="#cfcffd" stroke="none" stroke-width="1" />
<text x="553.17" y="411.54" font-size="6.1" text-anchor="middle" font-weight="normal" fill="#222" >0.2</text>
<rect x="562.95" y="402.61" width="19.60" height="13.52" fill="#cecefd" stroke="none" stroke-width="1" />
<text x="572.73" y="411.54" font-size="6.1" text-anchor="middle" font-weight="normal" fill="#222" >0.19</text>
<rect x="582.50" y="402.61" width="19.60" height="13.52" fill="#cbcbfd" stroke="none" stroke-width="1" />
<text x="592.27" y="411.54" font-size="6.1" text-anchor="middle" font-weight="normal" fill="#222" >0.17</text>
<rect x="602.05" y="402.61" width="19.60" height="13.52" fill="#e0e0fe" stroke="none" stroke-width="1" />
<text x="611.82" y="411.54" font-size="6.1" text-anchor="middle" font-weight="normal" fill="#222" >0.31</text>
<rect x="621.60" y="402.61" width="19.60" height="13.52" fill="#ccccfd" stroke="none" stroke-width="1" />
<text x="631.38" y="411.54" font-size="6.1" text-anchor="middle" font-weight="normal" fill="#222" >0.18</text>
<rect x="641.15" y="402.61" width="19.60" height="13.52" fill="#fcb2b2" stroke="none" stroke-width="1" />
<text x="650.92" y="411.54" font-size="6.1" text-anchor="middle" font-weight="normal" fill="#222" >1</text>
<rect x="504.30" y="416.08" width="19.60" height="13.52" fill="#b2b2fd" stroke="none" stroke-width="1" />
<text x="514.08" y="424.94" font-size="5.9" text-anchor="middle" font-weight="normal" fill="#222" >0.0041</text>
<rect x="523.85" y="416.08" width="19.60" height="13.52" fill="#f8f8ff" stroke="none" stroke-width="1" />
<text x="533.62" y="425.01" font-size="6.1" text-anchor="middle" font-weight="normal" fill="#222" >0.47</text>
<rect x="543.40" y="416.08" width="19.60" height="13.52" fill="#b8b8fd" stroke="none" stroke-width="1" />
<text x="553.17" y="425.01" font-size="6.1" text-anchor="middle" font-weight="normal" fill="#222" >0.044</text>
<rect x="562.95" y="416.08" width="19.60" height="13.52" fill="#b6b6fd" stroke="none" stroke-width="1" />
<text x="572.73" y="425.01" font-size="6.1" text-anchor="middle" font-weight="normal" fill="#222" >0.032</text>
<rect x="582.50" y="416.08" width="19.60" height="13.52" fill="#bcbcfd" stroke="none" stroke-width="1" />
<text x="592.27" y="425.01" font-size="6.1" text-anchor="middle" font-weight="normal" fill="#222" >0.069</text>
<rect x="602.05" y="416.08" width="19.60" height="13.52" fill="#c5c5fd" stroke="none" stroke-width="1" />
<text x="611.82" y="425.01" font-size="6.1" text-anchor="middle" font-weight="normal" fill="#222" >0.13</text>
<rect x="621.60" y="416.08" width="19.60" height="13.52" fill="#c3c3fd" stroke="none" stroke-width="1" />
<text x="631.38" y="425.01" font-size="6.1" text-anchor="middle" font-weight="normal" fill="#222" >0.12</text>
<rect x="641.15" y="416.08" width="19.60" height="13.52" fill="#fcb2b2" stroke="none" stroke-width="1" />
<text x="650.92" y="425.01" font-size="6.1" text-anchor="middle" font-weight="normal" fill="#222" >1</text>
<rect x="504.30" y="429.55" width="19.60" height="13.52" fill="#d7d7fe" stroke="none" stroke-width="1" />
<text x="514.08" y="438.48" font-size="6.1" text-anchor="middle" font-weight="normal" fill="#222" >0.25</text>
<rect x="523.85" y="429.55" width="19.60" height="13.52" fill="#e4e4fe" stroke="none" stroke-width="1" />
<text x="533.62" y="438.48" font-size="6.1" text-anchor="middle" font-weight="normal" fill="#222" >0.34</text>
<rect x="543.40" y="429.55" width="19.60" height="13.52" fill="#e0e0fe" stroke="none" stroke-width="1" />
<text x="553.17" y="438.48" font-size="6.1" text-anchor="middle" font-weight="normal" fill="#222" >0.31</text>
<rect x="562.95" y="429.55" width="19.60" height="13.52" fill="#ececfe" stroke="none" stroke-width="1" />
<text x="572.73" y="438.48" font-size="6.1" text-anchor="middle" font-weight="normal" fill="#222" >0.39</text>
<rect x="582.50" y="429.55" width="19.60" height="13.52" fill="#f5f5ff" stroke="none" stroke-width="1" />
<text x="592.27" y="438.48" font-size="6.1" text-anchor="middle" font-weight="normal" fill="#222" >0.45</text>
<rect x="602.05" y="429.55" width="19.60" height="13.52" fill="#feefef" stroke="none" stroke-width="1" />
<text x="611.82" y="438.48" font-size="6.1" text-anchor="middle" font-weight="normal" fill="#222" >0.62</text>
<rect x="621.60" y="429.55" width="19.60" height="13.52" fill="#fffcfc" stroke="none" stroke-width="1" />
<text x="631.38" y="438.48" font-size="6.1" text-anchor="middle" font-weight="normal" fill="#222" >0.54</text>
<rect x="641.15" y="429.55" width="19.60" height="13.52" fill="#fcb2b2" stroke="none" stroke-width="1" />
<text x="650.92" y="438.48" font-size="6.1" text-anchor="middle" font-weight="normal" fill="#222" >1</text>
<rect x="504.30" y="362.20" width="156.40" height="80.82" fill="none" stroke="#a0a0a0" stroke-width="0.7" />
<line x1="502.70" y1="368.94" x2="504.30" y2="368.94" stroke="#777" stroke-width="0.6" />
<text x="501.70" y="371.45" font-size="7.0" text-anchor="end" font-weight="normal" fill="#222" >MDSCs</text>
<line x1="502.70" y1="382.41" x2="504.30" y2="382.41" stroke="#777" stroke-width="0.6" />
<text x="501.70" y="384.93" font-size="7.0" text-anchor="end" font-weight="normal" fill="#222" >M2 Macs</text>
<line x1="502.70" y1="395.88" x2="504.30" y2="395.88" stroke="#777" stroke-width="0.6" />
<text x="501.70" y="398.39" font-size="7.0" text-anchor="end" font-weight="normal" fill="#222" >Tregs</text>
<line x1="502.70" y1="409.35" x2="504.30" y2="409.35" stroke="#777" stroke-width="0.6" />
<text x="501.70" y="411.87" font-size="7.0" text-anchor="end" font-weight="normal" fill="#222" >Teffs in blood</text>
<line x1="502.70" y1="422.81" x2="504.30" y2="422.81" stroke="#777" stroke-width="0.6" />
<text x="501.70" y="425.33" font-size="7.0" text-anchor="end" font-weight="normal" fill="#222" >Teffs in tumor</text>
<line x1="502.70" y1="436.29" x2="504.30" y2="436.29" stroke="#777" stroke-width="0.6" />
<text x="501.70" y="438.81" font-size="7.0" text-anchor="end" font-weight="normal" fill="#222" >Matured DCs</text>
<line x1="514.08" y1="443.02" x2="514.08" y2="444.62" stroke="#777" stroke-width="0.6" />
<text x="514.08" y="452.79" font-size="7.2" text-anchor="middle" font-weight="normal" fill="#222" >1</text>
<line x1="533.62" y1="443.02" x2="533.62" y2="444.62" stroke="#777" stroke-width="0.6" />
<text x="533.62" y="452.79" font-size="7.2" text-anchor="middle" font-weight="normal" fill="#222" >2</text>
<line x1="553.17" y1="443.02" x2="553.17" y2="444.62" stroke="#777" stroke-width="0.6" />
<text x="553.17" y="452.79" font-size="7.2" text-anchor="middle" font-weight="normal" fill="#222" >3</text>
<line x1="572.73" y1="443.02" x2="572.73" y2="444.62" stroke="#777" stroke-width="0.6" />
<text x="572.73" y="452.79" font-size="7.2" text-anchor="middle" font-weight="normal" fill="#222" >4</text>
<line x1="592.27" y1="443.02" x2="592.27" y2="444.62" stroke="#777" stroke-width="0.6" />
<text x="592.27" y="452.79" font-size="7.2" text-anchor="middle" font-weight="normal" fill="#222" >5</text>
<line x1="611.82" y1="443.02" x2="611.82" y2="444.62" stroke="#777" stroke-width="0.6" />
<text x="611.82" y="452.79" font-size="7.2" text-anchor="middle" font-weight="normal" fill="#222" >6</text>
<line x1="631.38" y1="443.02" x2="631.38" y2="444.62" stroke="#777" stroke-width="0.6" />
<text x="631.38" y="452.79" font-size="7.2" text-anchor="middle" font-weight="normal" fill="#222" >7</text>
<line x1="650.92" y1="443.02" x2="650.92" y2="444.62" stroke="#777" stroke-width="0.6" />
<text x="650.92" y="452.79" font-size="7.2" text-anchor="middle" font-weight="normal" fill="#222" >8</text>
<defs><linearGradient id="cb" x1="0" y1="1" x2="0" y2="0"><stop offset="0.00" stop-color="#6464fa"/><stop offset="0.10" stop-color="#8282fb"/><stop offset="0.20" stop-color="#a0a0fc"/><stop offset="0.30" stop-color="#bdbdfd"/><stop offset="0.40" stop-color="#dbdbfe"/><stop offset="0.52" stop-color="#ffffff"/><stop offset="0.60" stop-color="#fee5e5"/><stop offset="0.70" stop-color="#fdc5c5"/><stop offset="0.80" stop-color="#fca5a5"/><stop offset="0.90" stop-color="#fb8484"/><stop offset="1.00" stop-color="#fa6464"/></linearGradient></defs>
<rect x="662.60" y="362.30" width="4.50" height="81.40" fill="url(#cb)" stroke="none" stroke-width="1" />
<text x="670.40" y="364.96" font-size="7.4" text-anchor="start" font-weight="normal" fill="#222" >1.0</text>
<text x="670.40" y="381.24" font-size="7.4" text-anchor="start" font-weight="normal" fill="#222" >0.81</text>
<text x="670.40" y="397.52" font-size="7.4" text-anchor="start" font-weight="normal" fill="#222" >0.61</text>
<text x="670.40" y="413.80" font-size="7.4" text-anchor="start" font-weight="normal" fill="#222" >0.41</text>
<text x="670.40" y="430.08" font-size="7.4" text-anchor="start" font-weight="normal" fill="#222" >0.20</text>
<text x="670.40" y="446.36" font-size="7.4" text-anchor="start" font-weight="normal" fill="#222" >0.0</text>
<path d="M470.60,365.60 Q469.30,365.60 469.30,367.60 L469.30,380.10 Q469.30,382.10 468.00,382.10 Q469.30,382.10 469.30,384.10 L469.30,396.60 Q469.30,398.60 470.60,398.60" fill="none" stroke="#111" stroke-width="0.8"/>
<path d="M454.60,406.60 Q453.30,406.60 453.30,408.60 L453.30,421.00 Q453.30,423.00 452.00,423.00 Q453.30,423.00 453.30,425.00 L453.30,437.40 Q453.30,439.40 454.60,439.40" fill="none" stroke="#111" stroke-width="0.8"/>
<rect x="425.80" y="367.70" width="40.00" height="28.90" fill="#9ad88e" stroke="none" stroke-width="1" />
<text x="445.80" y="375.84" font-size="7.9" text-anchor="middle" font-weight="normal" fill="#222" >Immune</text>
<text x="445.80" y="385.84" font-size="7.9" text-anchor="middle" font-weight="normal" fill="#222" >suppressor</text>
<text x="445.80" y="395.54" font-size="7.9" text-anchor="middle" font-weight="normal" fill="#222" >cells</text>
<rect x="418.30" y="408.20" width="32.70" height="29.60" fill="#f29a9e" stroke="none" stroke-width="1" />
<text x="434.60" y="416.64" font-size="7.9" text-anchor="middle" font-weight="normal" fill="#222" >Immune</text>
<text x="434.60" y="426.14" font-size="7.9" text-anchor="middle" font-weight="normal" fill="#222" >effector</text>
<text x="434.60" y="435.64" font-size="7.9" text-anchor="middle" font-weight="normal" fill="#222" >cells</text>
<defs><pattern id="hat" width="1.6" height="1.6" patternUnits="userSpaceOnUse" patternTransform="rotate(45)"><rect width="1.6" height="1.6" fill="#fff" fill-opacity="0"/><rect width="0.8" height="1.6" fill="#fff" fill-opacity="0.35"/></pattern></defs>
<line x1="439.35" y1="477.70" x2="540.75" y2="477.70" stroke="#a9a9a9" stroke-width="0.9" />
<line x1="540.75" y1="477.70" x2="540.75" y2="559.40" stroke="#a9a9a9" stroke-width="0.9" />
<line x1="443.50" y1="552.21" x2="443.50" y2="550.41" stroke="#8a8a8a" stroke-width="0.6" />
<rect x="441.55" y="552.21" width="3.90" height="7.19" fill="#d2d2d2" stroke="none" stroke-width="1" />
<rect x="441.55" y="552.21" width="3.90" height="7.19" fill="url(#hat)" stroke="none" stroke-width="1" />
<circle cx="443.50" cy="550.41" r="0.85" fill="#000"/>
<circle cx="443.50" cy="552.86" r="0.85" fill="#000"/>
<line x1="447.40" y1="548.62" x2="447.40" y2="547.14" stroke="#8a8a8a" stroke-width="0.6" />
<rect x="445.45" y="548.62" width="3.90" height="10.78" fill="#858585" stroke="none" stroke-width="1" />
<circle cx="447.40" cy="547.14" r="0.85" fill="#000"/>
<circle cx="447.40" cy="548.78" r="0.85" fill="#000"/>
<line x1="456.18" y1="535.54" x2="456.18" y2="532.44" stroke="#8a8a8a" stroke-width="0.6" />
<rect x="454.23" y="535.54" width="3.90" height="23.86" fill="#f9cfa8" stroke="none" stroke-width="1" />
<rect x="454.23" y="535.54" width="3.90" height="23.86" fill="url(#hat)" stroke="none" stroke-width="1" />
<circle cx="456.18" cy="532.93" r="0.85" fill="#000"/>
<circle cx="456.18" cy="535.71" r="0.85" fill="#000"/>
<line x1="460.08" y1="545.51" x2="460.08" y2="541.43" stroke="#8a8a8a" stroke-width="0.6" />
<rect x="458.13" y="545.51" width="3.90" height="13.89" fill="#ff8000" stroke="none" stroke-width="1" />
<circle cx="460.08" cy="542.24" r="0.85" fill="#000"/>
<circle cx="460.08" cy="544.69" r="0.85" fill="#000"/>
<circle cx="460.08" cy="546.33" r="0.85" fill="#000"/>
<line x1="468.86" y1="550.90" x2="468.86" y2="549.60" stroke="#8a8a8a" stroke-width="0.6" />
<rect x="466.91" y="550.90" width="3.90" height="8.50" fill="#bfe6f6" stroke="none" stroke-width="1" />
<rect x="466.91" y="550.90" width="3.90" height="8.50" fill="url(#hat)" stroke="none" stroke-width="1" />
<circle cx="468.86" cy="549.60" r="0.85" fill="#000"/>
<circle cx="468.86" cy="551.23" r="0.85" fill="#000"/>
<line x1="472.76" y1="547.31" x2="472.76" y2="546.33" stroke="#8a8a8a" stroke-width="0.6" />
<rect x="470.81" y="547.31" width="3.90" height="12.09" fill="#4dc9f6" stroke="none" stroke-width="1" />
<circle cx="472.76" cy="546.33" r="0.85" fill="#000"/>
<circle cx="472.76" cy="547.64" r="0.85" fill="#000"/>
<line x1="481.54" y1="542.73" x2="481.54" y2="541.43" stroke="#8a8a8a" stroke-width="0.6" />
<rect x="479.59" y="542.73" width="3.90" height="16.67" fill="#dbead0" stroke="none" stroke-width="1" />
<rect x="479.59" y="542.73" width="3.90" height="16.67" fill="url(#hat)" stroke="none" stroke-width="1" />
<circle cx="481.54" cy="541.75" r="0.85" fill="#000"/>
<circle cx="481.54" cy="543.39" r="0.85" fill="#000"/>
<line x1="485.44" y1="545.51" x2="485.44" y2="543.88" stroke="#8a8a8a" stroke-width="0.6" />
<rect x="483.49" y="545.51" width="3.90" height="13.89" fill="#bbdaab" stroke="none" stroke-width="1" />
<circle cx="485.44" cy="544.37" r="0.85" fill="#000"/>
<circle cx="485.44" cy="546.00" r="0.85" fill="#000"/>
<circle cx="485.44" cy="547.96" r="0.85" fill="#000"/>
<line x1="494.22" y1="543.55" x2="494.22" y2="541.75" stroke="#8a8a8a" stroke-width="0.6" />
<rect x="492.27" y="543.55" width="3.90" height="15.85" fill="#f6c2e0" stroke="none" stroke-width="1" />
<rect x="492.27" y="543.55" width="3.90" height="15.85" fill="url(#hat)" stroke="none" stroke-width="1" />
<circle cx="494.22" cy="542.08" r="0.85" fill="#000"/>
<circle cx="494.22" cy="543.88" r="0.85" fill="#000"/>
<line x1="498.12" y1="547.96" x2="498.12" y2="547.31" stroke="#8a8a8a" stroke-width="0.6" />
<rect x="496.17" y="547.96" width="3.90" height="11.44" fill="#ff3fa6" stroke="none" stroke-width="1" />
<circle cx="498.12" cy="547.47" r="0.85" fill="#000"/>
<circle cx="498.12" cy="547.96" r="0.85" fill="#000"/>
<line x1="506.90" y1="527.37" x2="506.90" y2="524.27" stroke="#8a8a8a" stroke-width="0.6" />
<rect x="504.95" y="527.37" width="3.90" height="32.03" fill="#b3d9f7" stroke="none" stroke-width="1" />
<rect x="504.95" y="527.37" width="3.90" height="32.03" fill="url(#hat)" stroke="none" stroke-width="1" />
<circle cx="506.90" cy="525.09" r="0.85" fill="#000"/>
<circle cx="506.90" cy="527.05" r="0.85" fill="#000"/>
<line x1="510.80" y1="546.82" x2="510.80" y2="542.24" stroke="#8a8a8a" stroke-width="0.6" />
<rect x="508.85" y="546.82" width="3.90" height="12.58" fill="#0a8cff" stroke="none" stroke-width="1" />
<circle cx="510.80" cy="543.06" r="0.85" fill="#000"/>
<circle cx="510.80" cy="547.14" r="0.85" fill="#000"/>
<circle cx="510.80" cy="549.60" r="0.85" fill="#000"/>
<line x1="519.58" y1="540.28" x2="519.58" y2="538.98" stroke="#8a8a8a" stroke-width="0.6" />
<rect x="517.63" y="540.28" width="3.90" height="19.12" fill="#cde9c3" stroke="none" stroke-width="1" />
<rect x="517.63" y="540.28" width="3.90" height="19.12" fill="url(#hat)" stroke="none" stroke-width="1" />
<circle cx="519.58" cy="539.47" r="0.85" fill="#000"/>
<circle cx="519.58" cy="540.61" r="0.85" fill="#000"/>
<line x1="523.48" y1="549.27" x2="523.48" y2="547.14" stroke="#8a8a8a" stroke-width="0.6" />
<rect x="521.53" y="549.27" width="3.90" height="10.13" fill="#5ac43e" stroke="none" stroke-width="1" />
<circle cx="523.48" cy="547.64" r="0.85" fill="#000"/>
<circle cx="523.48" cy="549.60" r="0.85" fill="#000"/>
<line x1="532.26" y1="504.82" x2="532.26" y2="499.11" stroke="#8a8a8a" stroke-width="0.6" />
<rect x="530.31" y="504.82" width="3.90" height="54.58" fill="#f3c4c6" stroke="none" stroke-width="1" />
<rect x="530.31" y="504.82" width="3.90" height="54.58" fill="url(#hat)" stroke="none" stroke-width="1" />
<circle cx="532.26" cy="499.76" r="0.85" fill="#000"/>
<circle cx="532.26" cy="503.84" r="0.85" fill="#000"/>
<circle cx="532.26" cy="507.11" r="0.85" fill="#000"/>
<line x1="536.16" y1="524.60" x2="536.16" y2="520.18" stroke="#8a8a8a" stroke-width="0.6" />
<rect x="534.21" y="524.60" width="3.90" height="34.80" fill="#e8404a" stroke="none" stroke-width="1" />
<circle cx="536.16" cy="521.00" r="0.85" fill="#000"/>
<circle cx="536.16" cy="525.09" r="0.85" fill="#000"/>
<circle cx="536.16" cy="527.54" r="0.85" fill="#000"/>
<line x1="439.35" y1="477.30" x2="439.35" y2="559.80" stroke="#7a7a7a" stroke-width="0.9" />
<line x1="438.95" y1="559.40" x2="540.75" y2="559.40" stroke="#7a7a7a" stroke-width="0.9" />
<line x1="437.75" y1="559.40" x2="439.35" y2="559.40" stroke="#7a7a7a" stroke-width="0.7" />
<text x="436.75" y="562.21" font-size="7.8" text-anchor="end" font-weight="normal" fill="#222" >0</text>
<line x1="438.35" y1="551.23" x2="439.35" y2="551.23" stroke="#7a7a7a" stroke-width="0.6" />
<line x1="437.75" y1="543.06" x2="439.35" y2="543.06" stroke="#7a7a7a" stroke-width="0.7" />
<text x="436.75" y="545.87" font-size="7.8" text-anchor="end" font-weight="normal" fill="#222" >10</text>
<line x1="438.35" y1="534.89" x2="439.35" y2="534.89" stroke="#7a7a7a" stroke-width="0.6" />
<line x1="437.75" y1="526.72" x2="439.35" y2="526.72" stroke="#7a7a7a" stroke-width="0.7" />
<text x="436.75" y="529.53" font-size="7.8" text-anchor="end" font-weight="normal" fill="#222" >20</text>
<line x1="438.35" y1="518.55" x2="439.35" y2="518.55" stroke="#7a7a7a" stroke-width="0.6" />
<line x1="437.75" y1="510.38" x2="439.35" y2="510.38" stroke="#7a7a7a" stroke-width="0.7" />
<text x="436.75" y="513.19" font-size="7.8" text-anchor="end" font-weight="normal" fill="#222" >30</text>
<line x1="438.35" y1="502.21" x2="439.35" y2="502.21" stroke="#7a7a7a" stroke-width="0.6" />
<line x1="437.75" y1="494.04" x2="439.35" y2="494.04" stroke="#7a7a7a" stroke-width="0.7" />
<text x="436.75" y="496.85" font-size="7.8" text-anchor="end" font-weight="normal" fill="#222" >40</text>
<line x1="438.35" y1="485.87" x2="439.35" y2="485.87" stroke="#7a7a7a" stroke-width="0.6" />
<line x1="437.75" y1="477.70" x2="439.35" y2="477.70" stroke="#7a7a7a" stroke-width="0.7" />
<text x="436.75" y="480.51" font-size="7.8" text-anchor="end" font-weight="normal" fill="#222" >50</text>
<line x1="445.69" y1="559.40" x2="445.69" y2="560.80" stroke="#7a7a7a" stroke-width="0.6" />
<text x="445.69" y="568.11" font-size="7.8" text-anchor="middle" font-weight="normal" fill="#222" >1</text>
<line x1="458.37" y1="559.40" x2="458.37" y2="560.80" stroke="#7a7a7a" stroke-width="0.6" />
<text x="458.37" y="568.11" font-size="7.8" text-anchor="middle" font-weight="normal" fill="#222" >2</text>
<line x1="471.05" y1="559.40" x2="471.05" y2="560.80" stroke="#7a7a7a" stroke-width="0.6" />
<text x="471.05" y="568.11" font-size="7.8" text-anchor="middle" font-weight="normal" fill="#222" >3</text>
<line x1="483.73" y1="559.40" x2="483.73" y2="560.80" stroke="#7a7a7a" stroke-width="0.6" />
<text x="483.73" y="568.11" font-size="7.8" text-anchor="middle" font-weight="normal" fill="#222" >4</text>
<line x1="496.41" y1="559.40" x2="496.41" y2="560.80" stroke="#7a7a7a" stroke-width="0.6" />
<text x="496.41" y="568.11" font-size="7.8" text-anchor="middle" font-weight="normal" fill="#222" >5</text>
<line x1="509.09" y1="559.40" x2="509.09" y2="560.80" stroke="#7a7a7a" stroke-width="0.6" />
<text x="509.09" y="568.11" font-size="7.8" text-anchor="middle" font-weight="normal" fill="#222" >6</text>
<line x1="521.77" y1="559.40" x2="521.77" y2="560.80" stroke="#7a7a7a" stroke-width="0.6" />
<text x="521.77" y="568.11" font-size="7.8" text-anchor="middle" font-weight="normal" fill="#222" >7</text>
<line x1="534.45" y1="559.40" x2="534.45" y2="560.80" stroke="#7a7a7a" stroke-width="0.6" />
<text x="534.45" y="568.11" font-size="7.8" text-anchor="middle" font-weight="normal" fill="#222" >8</text>
<rect x="529.10" y="493.88" width="1.85" height="1.85" rx="0.5" fill="#3a3a3a"/>
<rect x="532.05" y="493.88" width="1.85" height="1.85" rx="0.5" fill="#3a3a3a"/>
<rect x="535.00" y="493.88" width="1.85" height="1.85" rx="0.5" fill="#3a3a3a"/>
<rect x="537.95" y="493.88" width="1.85" height="1.85" rx="0.5" fill="#3a3a3a"/>
<rect x="444.50" y="481.00" width="12.10" height="5.80" fill="#d2d2d2" stroke="none" stroke-width="1" />
<rect x="444.50" y="481.00" width="12.10" height="5.80" fill="url(#hat)" stroke="none" stroke-width="1" />
<rect x="444.50" y="490.30" width="12.10" height="6.00" fill="#858585" stroke="none" stroke-width="1" />
<text x="461.80" y="486.84" font-size="7.6" text-anchor="start" font-weight="normal" fill="#111" >Primary tumors</text>
<text x="461.80" y="496.04" font-size="7.6" text-anchor="start" font-weight="normal" fill="#111" >Distant tumors</text>
<text transform="translate(424.77,518.30) rotate(-90)" font-size="7.7" text-anchor="middle" fill="#111" >Granzyme B MFI (a.u.)</text>
</svg>
</body></html>
